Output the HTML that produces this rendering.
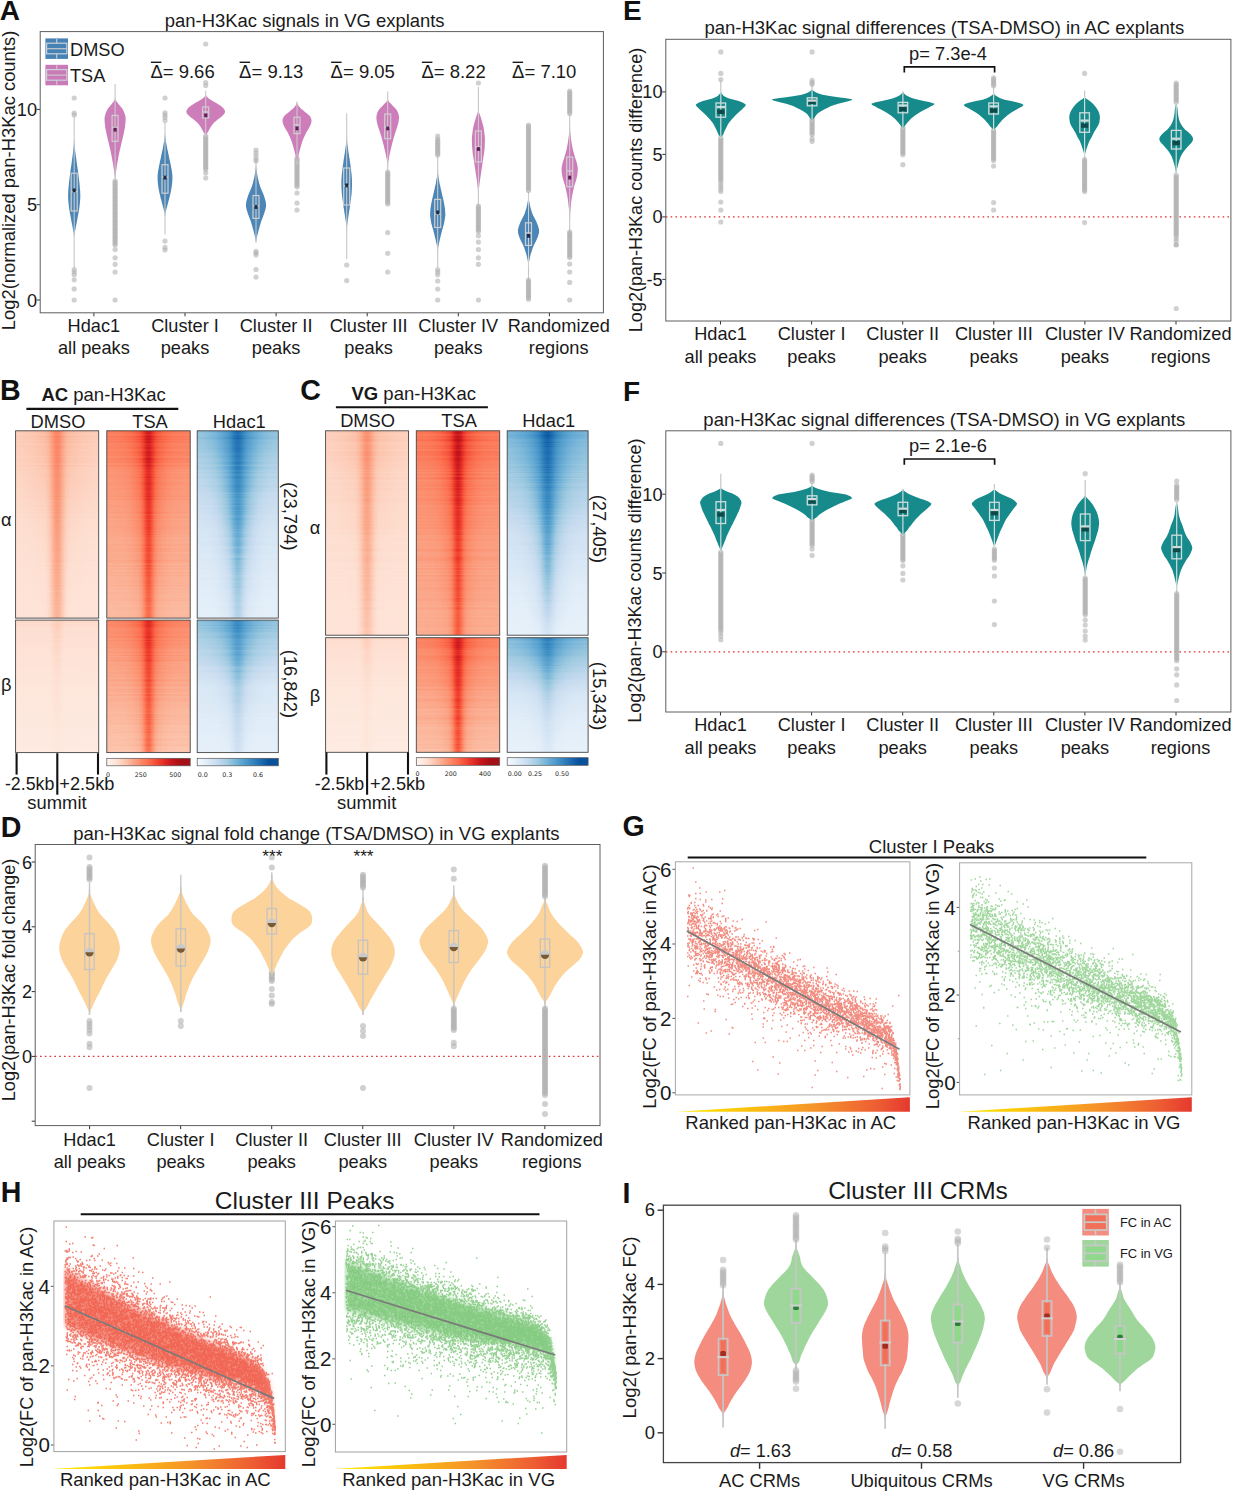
<!DOCTYPE html>
<html><head><meta charset="utf-8"><title>Figure</title>
<style>html,body{margin:0;padding:0;background:#fff}svg{display:block}text{font-family:'Liberation Sans', Arial, sans-serif;}</style>
</head><body>
<svg width="1234" height="1492" viewBox="0 0 1234 1492">
<rect width="1234" height="1492" fill="#fff"/>
<text x="-0.3" y="20.4" font-size="28" text-anchor="start" fill="#111" font-weight="bold" >A</text>
<text x="304.7" y="27" font-size="18.45" text-anchor="middle" fill="#1a1a1a" >pan-H3Kac signals in VG explants</text>
<line x1="36.70" y1="300.00" x2="40.20" y2="300.00" stroke="#333" stroke-width="1" />
<text x="37.0" y="306.5" font-size="18.2" text-anchor="end" fill="#1a1a1a" >0</text>
<line x1="36.70" y1="204.70" x2="40.20" y2="204.70" stroke="#333" stroke-width="1" />
<text x="37.0" y="211.2" font-size="18.2" text-anchor="end" fill="#1a1a1a" >5</text>
<line x1="36.70" y1="109.40" x2="40.20" y2="109.40" stroke="#333" stroke-width="1" />
<text x="37.0" y="115.9" font-size="18.2" text-anchor="end" fill="#1a1a1a" >10</text>
<text x="14.5" y="180.5" font-size="18.4" text-anchor="middle" fill="#1a1a1a" transform="rotate(-90 14.5 180.5)" >Log2(normalized pan-H3Kac counts)</text>
<line x1="93.90" y1="312.80" x2="93.90" y2="316.30" stroke="#333" stroke-width="1" />
<text x="93.9" y="332.3" font-size="18.2" text-anchor="middle" fill="#1a1a1a" >Hdac1</text>
<text x="93.9" y="354.3" font-size="18.2" text-anchor="middle" fill="#1a1a1a" >all peaks</text>
<line x1="185.00" y1="312.80" x2="185.00" y2="316.30" stroke="#333" stroke-width="1" />
<text x="185.0" y="332.3" font-size="18.2" text-anchor="middle" fill="#1a1a1a" >Cluster I</text>
<text x="185.0" y="354.3" font-size="18.2" text-anchor="middle" fill="#1a1a1a" >peaks</text>
<line x1="276.10" y1="312.80" x2="276.10" y2="316.30" stroke="#333" stroke-width="1" />
<text x="276.1" y="332.3" font-size="18.2" text-anchor="middle" fill="#1a1a1a" >Cluster II</text>
<text x="276.1" y="354.3" font-size="18.2" text-anchor="middle" fill="#1a1a1a" >peaks</text>
<line x1="367.20" y1="312.80" x2="367.20" y2="316.30" stroke="#333" stroke-width="1" />
<text x="368.5999999999999" y="332.3" font-size="18.2" text-anchor="middle" fill="#1a1a1a" >Cluster III</text>
<text x="368.5999999999999" y="354.3" font-size="18.2" text-anchor="middle" fill="#1a1a1a" >peaks</text>
<line x1="458.30" y1="312.80" x2="458.30" y2="316.30" stroke="#333" stroke-width="1" />
<text x="458.29999999999995" y="332.3" font-size="18.2" text-anchor="middle" fill="#1a1a1a" >Cluster IV</text>
<text x="458.29999999999995" y="354.3" font-size="18.2" text-anchor="middle" fill="#1a1a1a" >peaks</text>
<line x1="549.40" y1="312.80" x2="549.40" y2="316.30" stroke="#333" stroke-width="1" />
<text x="558.6999999999999" y="332.3" font-size="18.2" text-anchor="middle" fill="#1a1a1a" >Randomized</text>
<text x="558.6999999999999" y="354.3" font-size="18.2" text-anchor="middle" fill="#1a1a1a" >regions</text>
<line x1="74.20" y1="117.00" x2="74.20" y2="268.00" stroke="#c6c6c6" stroke-width="1.1" />
<g fill="#b0b0b0" fill-opacity="0.6"><circle cx="74.2" cy="98.0" r="2.6"/><circle cx="74.2" cy="113.0" r="2.6"/><circle cx="74.2" cy="115.0" r="2.6"/><circle cx="74.2" cy="269.5" r="2.6"/><circle cx="74.2" cy="272.0" r="2.6"/><circle cx="74.2" cy="274.7" r="2.6"/><circle cx="74.2" cy="279.8" r="2.6"/><circle cx="74.2" cy="288.9" r="2.6"/><circle cx="74.2" cy="300.0" r="2.6"/></g>
<path d="M74.2,141.0 L74.3,142.5 L74.4,144.0 L74.6,145.5 L74.7,147.0 L74.9,148.5 L75.1,150.0 L75.3,151.7 L75.5,153.3 L75.7,155.0 L75.9,156.7 L76.2,158.3 L76.4,160.0 L76.6,161.5 L76.8,163.0 L77.0,164.5 L77.2,166.0 L77.5,167.5 L77.7,169.0 L77.9,170.5 L78.1,172.0 L78.3,173.6 L78.5,175.2 L78.7,176.9 L78.9,178.5 L79.1,180.1 L79.3,181.8 L79.5,183.4 L79.6,185.0 L79.8,186.6 L79.9,188.1 L80.0,189.7 L80.2,191.3 L80.2,192.9 L80.3,194.4 L80.3,196.0 L80.3,197.5 L80.2,199.0 L80.1,200.5 L80.0,202.0 L79.8,203.5 L79.7,205.0 L79.5,206.5 L79.3,208.0 L79.1,209.5 L78.8,211.0 L78.6,212.5 L78.3,214.0 L78.0,215.5 L77.7,217.0 L77.5,218.5 L77.2,220.0 L76.9,221.5 L76.6,223.0 L76.3,224.5 L76.0,226.0 L75.8,227.5 L75.5,229.0 L75.1,230.8 L74.7,232.5 L74.4,234.2 L74.2,236.0 L74.2,236.0 L74.0,234.2 L73.7,232.5 L73.3,230.8 L72.9,229.0 L72.6,227.5 L72.4,226.0 L72.1,224.5 L71.8,223.0 L71.5,221.5 L71.2,220.0 L70.9,218.5 L70.7,217.0 L70.4,215.5 L70.1,214.0 L69.8,212.5 L69.6,211.0 L69.3,209.5 L69.1,208.0 L68.9,206.5 L68.7,205.0 L68.6,203.5 L68.4,202.0 L68.3,200.5 L68.2,199.0 L68.1,197.5 L68.1,196.0 L68.1,194.4 L68.2,192.9 L68.2,191.3 L68.4,189.7 L68.5,188.1 L68.6,186.6 L68.8,185.0 L68.9,183.4 L69.1,181.8 L69.3,180.1 L69.5,178.5 L69.7,176.9 L69.9,175.2 L70.1,173.6 L70.3,172.0 L70.5,170.5 L70.7,169.0 L70.9,167.5 L71.2,166.0 L71.4,164.5 L71.6,163.0 L71.8,161.5 L72.0,160.0 L72.2,158.3 L72.5,156.7 L72.7,155.0 L72.9,153.3 L73.1,151.7 L73.3,150.0 L73.5,148.5 L73.7,147.0 L73.8,145.5 L74.0,144.0 L74.1,142.5 L74.2,141.0Z" fill="#4682b4" fill-opacity="0.97"/>
<line x1="74.20" y1="140.00" x2="74.20" y2="237.00" stroke="#cfcfcf" stroke-width="1.0" />
<rect x="71.20" y="173.20" width="6.00" height="37.80" fill="none" stroke="#cfcfcf" stroke-width="1.2" />
<line x1="71.20" y1="191.70" x2="77.20" y2="191.70" stroke="#cfcfcf" stroke-width="1.4" />
<rect x="72.70" y="188.50" width="3.00" height="3.80" fill="#1d2b45" stroke="none" stroke-width="1" />
<line x1="115.10" y1="84.00" x2="115.10" y2="181.00" stroke="#c6c6c6" stroke-width="1.1" />
<g fill="#b0b0b0" fill-opacity="0.6"><circle cx="115.1" cy="181.0" r="2.6"/><circle cx="115.1" cy="182.6" r="2.6"/><circle cx="115.1" cy="184.2" r="2.6"/><circle cx="115.1" cy="185.8" r="2.6"/><circle cx="115.1" cy="187.4" r="2.6"/><circle cx="115.1" cy="189.0" r="2.6"/><circle cx="115.1" cy="190.6" r="2.6"/><circle cx="115.1" cy="192.2" r="2.6"/><circle cx="115.1" cy="193.8" r="2.6"/><circle cx="115.1" cy="195.4" r="2.6"/><circle cx="115.1" cy="197.0" r="2.6"/><circle cx="115.1" cy="198.6" r="2.6"/><circle cx="115.1" cy="200.2" r="2.6"/><circle cx="115.1" cy="201.8" r="2.6"/><circle cx="115.1" cy="203.4" r="2.6"/><circle cx="115.1" cy="205.0" r="2.6"/><circle cx="115.1" cy="206.6" r="2.6"/><circle cx="115.1" cy="208.2" r="2.6"/><circle cx="115.1" cy="209.8" r="2.6"/><circle cx="115.1" cy="211.4" r="2.6"/><circle cx="115.1" cy="213.0" r="2.6"/><circle cx="115.1" cy="214.6" r="2.6"/><circle cx="115.1" cy="216.2" r="2.6"/><circle cx="115.1" cy="217.8" r="2.6"/><circle cx="115.1" cy="219.4" r="2.6"/><circle cx="115.1" cy="221.0" r="2.6"/><circle cx="115.1" cy="222.6" r="2.6"/><circle cx="115.1" cy="224.2" r="2.6"/><circle cx="115.1" cy="225.8" r="2.6"/><circle cx="115.1" cy="227.4" r="2.6"/><circle cx="115.1" cy="229.0" r="2.6"/><circle cx="115.1" cy="230.6" r="2.6"/><circle cx="115.1" cy="232.2" r="2.6"/><circle cx="115.1" cy="233.8" r="2.6"/><circle cx="115.1" cy="235.4" r="2.6"/><circle cx="115.1" cy="237.0" r="2.6"/><circle cx="115.1" cy="238.6" r="2.6"/><circle cx="115.1" cy="240.2" r="2.6"/><circle cx="115.1" cy="241.8" r="2.6"/><circle cx="115.1" cy="243.4" r="2.6"/><circle cx="115.1" cy="245.0" r="2.6"/></g>
<g fill="#b0b0b0" fill-opacity="0.6"><circle cx="115.1" cy="249.5" r="2.6"/><circle cx="115.1" cy="257.8" r="2.6"/><circle cx="115.1" cy="264.3" r="2.6"/><circle cx="115.1" cy="272.0" r="2.6"/><circle cx="115.1" cy="300.0" r="2.6"/></g>
<path d="M115.1,99.0 L115.9,100.6 L117.0,102.1 L118.3,103.7 L119.7,105.5 L121.2,107.2 L122.6,109.0 L123.3,110.5 L124.0,112.1 L124.6,113.6 L125.1,115.2 L125.5,116.7 L125.7,118.5 L125.6,120.3 L125.5,122.2 L125.3,124.0 L125.2,125.5 L125.0,127.0 L124.8,128.5 L124.4,130.0 L124.1,131.6 L123.8,133.2 L123.5,134.7 L123.1,136.3 L122.7,137.9 L122.4,139.4 L122.0,141.0 L121.6,142.6 L121.2,144.2 L120.9,145.8 L120.5,147.5 L120.1,149.1 L119.7,150.7 L119.4,152.3 L119.0,154.0 L118.7,155.6 L118.4,157.2 L118.1,158.8 L117.8,160.5 L117.5,162.1 L117.2,163.7 L117.0,165.3 L116.7,167.0 L116.5,168.6 L116.2,170.3 L115.9,172.1 L115.7,173.8 L115.4,175.5 L115.2,177.3 L115.1,179.0 L115.1,179.0 L115.0,177.3 L114.8,175.5 L114.5,173.8 L114.3,172.1 L114.0,170.3 L113.7,168.6 L113.5,167.0 L113.2,165.3 L113.0,163.7 L112.7,162.1 L112.4,160.5 L112.1,158.8 L111.8,157.2 L111.5,155.6 L111.2,154.0 L110.8,152.3 L110.5,150.7 L110.1,149.1 L109.7,147.5 L109.3,145.8 L109.0,144.2 L108.6,142.6 L108.2,141.0 L107.8,139.4 L107.5,137.9 L107.1,136.3 L106.7,134.7 L106.4,133.2 L106.1,131.6 L105.8,130.0 L105.4,128.5 L105.2,127.0 L105.0,125.5 L104.9,124.0 L104.7,122.2 L104.6,120.3 L104.5,118.5 L104.7,116.7 L105.1,115.2 L105.6,113.6 L106.2,112.1 L106.9,110.5 L107.6,109.0 L109.0,107.2 L110.5,105.5 L111.9,103.7 L113.2,102.1 L114.3,100.6 L115.1,99.0Z" fill="#cb7ab8" fill-opacity="0.97"/>
<line x1="115.10" y1="98.00" x2="115.10" y2="180.00" stroke="#cfcfcf" stroke-width="1.0" />
<rect x="112.10" y="115.40" width="6.00" height="25.90" fill="none" stroke="#cfcfcf" stroke-width="1.2" />
<line x1="112.10" y1="127.50" x2="118.10" y2="127.50" stroke="#cfcfcf" stroke-width="1.4" />
<rect x="113.60" y="127.80" width="3.00" height="3.80" fill="#5a2358" stroke="none" stroke-width="1" />
<line x1="165.00" y1="123.00" x2="165.00" y2="234.50" stroke="#c6c6c6" stroke-width="1.1" />
<g fill="#b0b0b0" fill-opacity="0.6"><circle cx="165.0" cy="98.0" r="2.6"/><circle cx="165.0" cy="112.8" r="2.6"/><circle cx="165.0" cy="115.0" r="2.6"/><circle cx="165.0" cy="117.5" r="2.6"/><circle cx="165.0" cy="120.6" r="2.6"/><circle cx="165.0" cy="241.0" r="2.6"/><circle cx="165.0" cy="247.4" r="2.6"/><circle cx="165.0" cy="250.0" r="2.6"/></g>
<path d="M165.0,135.0 L165.2,136.7 L165.4,138.3 L165.6,140.0 L165.9,141.7 L166.3,143.3 L166.6,145.0 L166.9,146.6 L167.2,148.2 L167.5,149.9 L167.9,151.5 L168.2,153.1 L168.6,154.8 L168.9,156.4 L169.2,158.0 L169.6,159.7 L170.0,161.3 L170.3,163.0 L170.7,164.7 L171.0,166.3 L171.3,168.0 L171.6,169.6 L171.9,171.2 L172.1,172.8 L172.3,174.4 L172.4,176.0 L172.4,177.7 L172.4,179.3 L172.3,181.0 L172.2,182.7 L172.0,184.3 L171.8,186.0 L171.6,187.6 L171.3,189.1 L171.0,190.7 L170.7,192.3 L170.3,193.9 L169.9,195.4 L169.6,197.0 L169.2,198.7 L168.7,200.3 L168.3,202.0 L167.8,203.7 L167.4,205.3 L167.0,207.0 L166.5,208.6 L166.1,210.2 L165.6,211.8 L165.3,213.4 L165.0,215.0 L165.0,215.0 L164.7,213.4 L164.4,211.8 L163.9,210.2 L163.5,208.6 L163.0,207.0 L162.6,205.3 L162.2,203.7 L161.7,202.0 L161.3,200.3 L160.8,198.7 L160.4,197.0 L160.1,195.4 L159.7,193.9 L159.3,192.3 L159.0,190.7 L158.7,189.1 L158.4,187.6 L158.2,186.0 L158.0,184.3 L157.8,182.7 L157.7,181.0 L157.6,179.3 L157.6,177.7 L157.6,176.0 L157.7,174.4 L157.9,172.8 L158.1,171.2 L158.4,169.6 L158.7,168.0 L159.0,166.3 L159.3,164.7 L159.7,163.0 L160.0,161.3 L160.4,159.7 L160.8,158.0 L161.1,156.4 L161.4,154.8 L161.8,153.1 L162.1,151.5 L162.5,149.9 L162.8,148.2 L163.1,146.6 L163.4,145.0 L163.7,143.3 L164.1,141.7 L164.4,140.0 L164.6,138.3 L164.8,136.7 L165.0,135.0Z" fill="#4682b4" fill-opacity="0.97"/>
<line x1="165.00" y1="134.00" x2="165.00" y2="216.00" stroke="#cfcfcf" stroke-width="1.0" />
<rect x="162.00" y="164.70" width="6.00" height="28.50" fill="none" stroke="#cfcfcf" stroke-width="1.2" />
<line x1="162.00" y1="177.00" x2="168.00" y2="177.00" stroke="#cfcfcf" stroke-width="1.4" />
<rect x="163.50" y="175.70" width="3.00" height="3.80" fill="#1d2b45" stroke="none" stroke-width="1" />
<line x1="205.70" y1="90.80" x2="205.70" y2="136.00" stroke="#c6c6c6" stroke-width="1.1" />
<g fill="#b0b0b0" fill-opacity="0.6"><circle cx="205.7" cy="136.0" r="2.6"/><circle cx="205.7" cy="137.6" r="2.6"/><circle cx="205.7" cy="139.2" r="2.6"/><circle cx="205.7" cy="140.8" r="2.6"/><circle cx="205.7" cy="142.4" r="2.6"/><circle cx="205.7" cy="144.0" r="2.6"/><circle cx="205.7" cy="145.6" r="2.6"/><circle cx="205.7" cy="147.2" r="2.6"/><circle cx="205.7" cy="148.8" r="2.6"/><circle cx="205.7" cy="150.4" r="2.6"/><circle cx="205.7" cy="152.0" r="2.6"/><circle cx="205.7" cy="153.6" r="2.6"/><circle cx="205.7" cy="155.2" r="2.6"/><circle cx="205.7" cy="156.8" r="2.6"/><circle cx="205.7" cy="158.4" r="2.6"/><circle cx="205.7" cy="160.0" r="2.6"/><circle cx="205.7" cy="161.6" r="2.6"/><circle cx="205.7" cy="163.2" r="2.6"/><circle cx="205.7" cy="164.8" r="2.6"/><circle cx="205.7" cy="166.4" r="2.6"/><circle cx="205.7" cy="168.0" r="2.6"/><circle cx="205.7" cy="169.6" r="2.6"/></g>
<g fill="#b0b0b0" fill-opacity="0.6"><circle cx="205.7" cy="44.0" r="2.6"/><circle cx="205.7" cy="82.5" r="2.6"/><circle cx="205.7" cy="85.6" r="2.6"/><circle cx="205.7" cy="173.0" r="2.6"/><circle cx="205.7" cy="178.0" r="2.6"/></g>
<path d="M205.7,95.0 L206.8,96.8 L208.7,98.5 L211.8,100.5 L215.4,102.4 L217.8,103.9 L220.2,105.5 L222.2,107.0 L223.6,108.5 L224.6,110.0 L225.1,111.5 L224.7,113.2 L223.2,115.0 L220.8,117.2 L218.0,119.3 L215.7,121.2 L213.7,123.0 L212.1,125.0 L210.7,127.0 L209.6,129.0 L208.5,131.0 L207.5,132.7 L206.4,134.3 L205.7,136.0 L205.7,136.0 L205.0,134.3 L203.9,132.7 L202.9,131.0 L201.8,129.0 L200.7,127.0 L199.3,125.0 L197.7,123.0 L195.7,121.2 L193.4,119.3 L190.6,117.2 L188.2,115.0 L186.7,113.2 L186.3,111.5 L186.8,110.0 L187.8,108.5 L189.2,107.0 L191.2,105.5 L193.6,103.9 L196.0,102.4 L199.6,100.5 L202.7,98.5 L204.6,96.8 L205.7,95.0Z" fill="#cb7ab8" fill-opacity="0.97"/>
<line x1="205.70" y1="94.00" x2="205.70" y2="137.00" stroke="#cfcfcf" stroke-width="1.0" />
<rect x="202.70" y="107.00" width="6.00" height="11.00" fill="none" stroke="#cfcfcf" stroke-width="1.2" />
<line x1="202.70" y1="112.00" x2="208.70" y2="112.00" stroke="#cfcfcf" stroke-width="1.4" />
<rect x="204.20" y="113.50" width="3.00" height="3.80" fill="#5a2358" stroke="none" stroke-width="1" />
<line x1="256.00" y1="161.00" x2="256.00" y2="242.00" stroke="#c6c6c6" stroke-width="1.1" />
<g fill="#b0b0b0" fill-opacity="0.6"><circle cx="256.0" cy="150.0" r="2.6"/><circle cx="256.0" cy="153.0" r="2.6"/><circle cx="256.0" cy="156.0" r="2.6"/><circle cx="256.0" cy="159.0" r="2.6"/><circle cx="256.0" cy="161.0" r="2.6"/><circle cx="256.0" cy="251.3" r="2.6"/><circle cx="256.0" cy="253.0" r="2.6"/><circle cx="256.0" cy="255.0" r="2.6"/><circle cx="256.0" cy="269.5" r="2.6"/><circle cx="256.0" cy="277.0" r="2.6"/></g>
<path d="M256.0,166.0 L256.2,167.7 L256.4,169.3 L256.6,171.0 L256.9,172.7 L257.2,174.3 L257.5,176.0 L257.8,177.7 L258.2,179.3 L258.6,181.0 L259.0,182.7 L259.5,184.3 L260.0,186.0 L260.6,187.7 L261.3,189.3 L262.0,191.0 L262.8,192.7 L263.4,194.3 L264.0,196.0 L264.6,197.7 L265.1,199.4 L265.6,201.2 L265.9,202.9 L266.1,204.6 L266.0,206.4 L265.7,208.3 L265.2,210.2 L264.6,212.0 L264.1,213.7 L263.5,215.3 L262.9,217.0 L262.2,218.7 L261.6,220.3 L261.0,222.0 L260.5,223.7 L260.0,225.3 L259.5,227.0 L259.1,228.7 L258.6,230.3 L258.2,232.0 L257.8,233.7 L257.3,235.3 L256.9,237.0 L256.5,238.7 L256.2,240.3 L256.0,242.0 L256.0,242.0 L255.8,240.3 L255.5,238.7 L255.1,237.0 L254.7,235.3 L254.2,233.7 L253.8,232.0 L253.4,230.3 L252.9,228.7 L252.5,227.0 L252.0,225.3 L251.5,223.7 L251.0,222.0 L250.4,220.3 L249.8,218.7 L249.1,217.0 L248.5,215.3 L247.9,213.7 L247.4,212.0 L246.8,210.2 L246.3,208.3 L246.0,206.4 L245.9,204.6 L246.1,202.9 L246.4,201.2 L246.9,199.4 L247.4,197.7 L248.0,196.0 L248.6,194.3 L249.2,192.7 L250.0,191.0 L250.7,189.3 L251.4,187.7 L252.0,186.0 L252.5,184.3 L253.0,182.7 L253.4,181.0 L253.8,179.3 L254.2,177.7 L254.5,176.0 L254.8,174.3 L255.1,172.7 L255.4,171.0 L255.6,169.3 L255.8,167.7 L256.0,166.0Z" fill="#4682b4" fill-opacity="0.97"/>
<line x1="256.00" y1="165.00" x2="256.00" y2="243.00" stroke="#cfcfcf" stroke-width="1.0" />
<rect x="253.00" y="195.50" width="6.00" height="22.90" fill="none" stroke="#cfcfcf" stroke-width="1.2" />
<line x1="253.00" y1="206.00" x2="259.00" y2="206.00" stroke="#cfcfcf" stroke-width="1.4" />
<rect x="254.50" y="205.10" width="3.00" height="3.80" fill="#1d2b45" stroke="none" stroke-width="1" />
<line x1="297.00" y1="102.40" x2="297.00" y2="163.40" stroke="#c6c6c6" stroke-width="1.1" />
<g fill="#b0b0b0" fill-opacity="0.6"><circle cx="297.0" cy="158.0" r="2.6"/><circle cx="297.0" cy="159.6" r="2.6"/><circle cx="297.0" cy="161.2" r="2.6"/><circle cx="297.0" cy="162.8" r="2.6"/><circle cx="297.0" cy="164.4" r="2.6"/><circle cx="297.0" cy="166.0" r="2.6"/><circle cx="297.0" cy="167.6" r="2.6"/><circle cx="297.0" cy="169.2" r="2.6"/><circle cx="297.0" cy="170.8" r="2.6"/><circle cx="297.0" cy="172.4" r="2.6"/><circle cx="297.0" cy="174.0" r="2.6"/><circle cx="297.0" cy="175.6" r="2.6"/><circle cx="297.0" cy="177.2" r="2.6"/><circle cx="297.0" cy="178.8" r="2.6"/><circle cx="297.0" cy="180.4" r="2.6"/><circle cx="297.0" cy="182.0" r="2.6"/><circle cx="297.0" cy="183.6" r="2.6"/><circle cx="297.0" cy="185.2" r="2.6"/><circle cx="297.0" cy="186.8" r="2.6"/></g>
<g fill="#b0b0b0" fill-opacity="0.6"><circle cx="297.0" cy="193.0" r="2.6"/><circle cx="297.0" cy="203.0" r="2.6"/><circle cx="297.0" cy="210.0" r="2.6"/></g>
<path d="M297.0,102.4 L297.5,103.9 L298.4,105.5 L299.5,107.0 L301.1,108.7 L303.1,110.3 L305.0,112.0 L307.6,114.0 L309.8,116.0 L310.7,117.5 L311.3,119.1 L311.5,120.6 L311.3,122.4 L310.8,124.2 L310.0,126.0 L309.2,127.8 L308.1,129.5 L307.0,131.2 L306.0,133.0 L305.3,134.6 L304.5,136.2 L303.8,137.8 L303.1,139.4 L302.5,141.0 L302.0,142.5 L301.5,144.0 L301.1,145.5 L300.7,147.0 L300.2,148.5 L299.8,150.0 L299.4,151.7 L299.0,153.3 L298.6,155.0 L298.2,156.7 L297.8,158.4 L297.5,160.1 L297.2,161.7 L297.0,163.4 L297.0,163.4 L296.8,161.7 L296.5,160.1 L296.2,158.4 L295.8,156.7 L295.4,155.0 L295.0,153.3 L294.6,151.7 L294.2,150.0 L293.8,148.5 L293.3,147.0 L292.9,145.5 L292.5,144.0 L292.0,142.5 L291.5,141.0 L290.9,139.4 L290.2,137.8 L289.5,136.2 L288.7,134.6 L288.0,133.0 L287.0,131.2 L285.9,129.5 L284.8,127.8 L284.0,126.0 L283.2,124.2 L282.7,122.4 L282.5,120.6 L282.7,119.1 L283.3,117.5 L284.2,116.0 L286.4,114.0 L289.0,112.0 L290.9,110.3 L292.9,108.7 L294.5,107.0 L295.6,105.5 L296.5,103.9 L297.0,102.4Z" fill="#cb7ab8" fill-opacity="0.97"/>
<line x1="297.00" y1="101.40" x2="297.00" y2="164.40" stroke="#cfcfcf" stroke-width="1.0" />
<rect x="294.00" y="117.20" width="6.00" height="16.40" fill="none" stroke="#cfcfcf" stroke-width="1.2" />
<line x1="294.00" y1="125.00" x2="300.00" y2="125.00" stroke="#cfcfcf" stroke-width="1.4" />
<rect x="295.50" y="126.50" width="3.00" height="3.80" fill="#5a2358" stroke="none" stroke-width="1" />
<line x1="346.70" y1="113.30" x2="346.70" y2="259.00" stroke="#c6c6c6" stroke-width="1.1" />
<g fill="#b0b0b0" fill-opacity="0.6"><circle cx="346.7" cy="265.0" r="2.6"/><circle cx="346.7" cy="280.6" r="2.6"/></g>
<path d="M346.7,137.4 L346.8,139.0 L347.0,140.6 L347.1,142.1 L347.3,143.7 L347.5,145.3 L347.8,146.8 L348.0,148.4 L348.2,150.0 L348.4,151.5 L348.6,153.0 L348.9,154.5 L349.1,156.0 L349.3,157.5 L349.6,159.0 L349.8,160.5 L350.0,162.0 L350.2,163.6 L350.5,165.1 L350.7,166.7 L350.9,168.3 L351.1,169.9 L351.2,171.4 L351.4,173.0 L351.6,174.5 L351.7,176.0 L351.8,177.5 L351.9,179.0 L352.0,180.5 L352.0,182.0 L352.0,183.7 L352.0,185.3 L352.0,187.0 L351.9,188.7 L351.8,190.3 L351.7,192.0 L351.6,193.6 L351.4,195.2 L351.2,196.9 L351.0,198.5 L350.8,200.1 L350.5,201.8 L350.3,203.4 L350.1,205.0 L349.9,206.5 L349.7,208.0 L349.4,209.5 L349.2,211.0 L349.0,212.5 L348.7,214.0 L348.5,215.5 L348.3,217.0 L348.1,218.5 L347.8,220.0 L347.6,221.5 L347.4,223.0 L347.2,224.5 L347.0,226.0 L346.8,227.5 L346.7,229.0 L346.7,229.0 L346.6,227.5 L346.4,226.0 L346.2,224.5 L346.0,223.0 L345.8,221.5 L345.6,220.0 L345.3,218.5 L345.1,217.0 L344.9,215.5 L344.7,214.0 L344.4,212.5 L344.2,211.0 L344.0,209.5 L343.7,208.0 L343.5,206.5 L343.3,205.0 L343.1,203.4 L342.9,201.8 L342.6,200.1 L342.4,198.5 L342.2,196.9 L342.0,195.2 L341.8,193.6 L341.7,192.0 L341.6,190.3 L341.5,188.7 L341.4,187.0 L341.4,185.3 L341.4,183.7 L341.4,182.0 L341.4,180.5 L341.5,179.0 L341.6,177.5 L341.7,176.0 L341.8,174.5 L342.0,173.0 L342.2,171.4 L342.3,169.9 L342.5,168.3 L342.7,166.7 L342.9,165.1 L343.2,163.6 L343.4,162.0 L343.6,160.5 L343.8,159.0 L344.1,157.5 L344.3,156.0 L344.5,154.5 L344.8,153.0 L345.0,151.5 L345.2,150.0 L345.4,148.4 L345.6,146.8 L345.9,145.3 L346.1,143.7 L346.3,142.1 L346.4,140.6 L346.6,139.0 L346.7,137.4Z" fill="#4682b4" fill-opacity="0.97"/>
<line x1="346.70" y1="136.40" x2="346.70" y2="230.00" stroke="#cfcfcf" stroke-width="1.0" />
<rect x="343.70" y="168.00" width="6.00" height="37.00" fill="none" stroke="#cfcfcf" stroke-width="1.2" />
<line x1="343.70" y1="186.00" x2="349.70" y2="186.00" stroke="#cfcfcf" stroke-width="1.4" />
<rect x="345.20" y="183.50" width="3.00" height="3.80" fill="#1d2b45" stroke="none" stroke-width="1" />
<line x1="387.70" y1="91.30" x2="387.70" y2="172.00" stroke="#c6c6c6" stroke-width="1.1" />
<g fill="#b0b0b0" fill-opacity="0.6"><circle cx="387.7" cy="172.0" r="2.6"/><circle cx="387.7" cy="173.6" r="2.6"/><circle cx="387.7" cy="175.2" r="2.6"/><circle cx="387.7" cy="176.8" r="2.6"/><circle cx="387.7" cy="178.4" r="2.6"/><circle cx="387.7" cy="180.0" r="2.6"/><circle cx="387.7" cy="181.6" r="2.6"/><circle cx="387.7" cy="183.2" r="2.6"/><circle cx="387.7" cy="184.8" r="2.6"/><circle cx="387.7" cy="186.4" r="2.6"/><circle cx="387.7" cy="188.0" r="2.6"/><circle cx="387.7" cy="189.6" r="2.6"/><circle cx="387.7" cy="191.2" r="2.6"/><circle cx="387.7" cy="192.8" r="2.6"/><circle cx="387.7" cy="194.4" r="2.6"/><circle cx="387.7" cy="196.0" r="2.6"/><circle cx="387.7" cy="197.6" r="2.6"/><circle cx="387.7" cy="199.2" r="2.6"/><circle cx="387.7" cy="200.8" r="2.6"/><circle cx="387.7" cy="202.4" r="2.6"/><circle cx="387.7" cy="204.0" r="2.6"/></g>
<g fill="#b0b0b0" fill-opacity="0.6"><circle cx="387.7" cy="232.6" r="2.6"/><circle cx="387.7" cy="253.4" r="2.6"/><circle cx="387.7" cy="272.0" r="2.6"/></g>
<path d="M387.7,99.8 L389.1,101.9 L391.2,104.0 L392.5,105.5 L394.0,107.0 L395.5,108.5 L396.7,110.0 L397.6,111.7 L398.3,113.3 L398.7,115.0 L399.0,116.7 L399.0,118.5 L398.8,120.3 L398.5,122.2 L398.0,124.0 L397.6,125.5 L397.2,127.0 L396.7,128.5 L396.2,130.0 L395.7,131.5 L395.2,133.0 L394.7,134.7 L394.2,136.3 L393.7,138.0 L393.2,139.7 L392.8,141.3 L392.3,143.0 L391.9,144.7 L391.5,146.3 L391.1,148.0 L390.7,149.7 L390.3,151.3 L389.9,153.0 L389.6,154.6 L389.3,156.2 L389.0,157.9 L388.6,159.5 L388.4,161.1 L388.1,162.8 L387.9,164.4 L387.7,166.0 L387.7,166.0 L387.5,164.4 L387.3,162.8 L387.0,161.1 L386.8,159.5 L386.4,157.9 L386.1,156.2 L385.8,154.6 L385.5,153.0 L385.1,151.3 L384.7,149.7 L384.3,148.0 L383.9,146.3 L383.5,144.7 L383.1,143.0 L382.6,141.3 L382.2,139.7 L381.7,138.0 L381.2,136.3 L380.7,134.7 L380.2,133.0 L379.7,131.5 L379.2,130.0 L378.7,128.5 L378.2,127.0 L377.8,125.5 L377.4,124.0 L376.9,122.2 L376.6,120.3 L376.4,118.5 L376.4,116.7 L376.7,115.0 L377.1,113.3 L377.8,111.7 L378.7,110.0 L379.9,108.5 L381.4,107.0 L382.9,105.5 L384.2,104.0 L386.3,101.9 L387.7,99.8Z" fill="#cb7ab8" fill-opacity="0.97"/>
<line x1="387.70" y1="98.80" x2="387.70" y2="167.00" stroke="#cfcfcf" stroke-width="1.0" />
<rect x="384.70" y="114.00" width="6.00" height="24.70" fill="none" stroke="#cfcfcf" stroke-width="1.2" />
<line x1="384.70" y1="127.00" x2="390.70" y2="127.00" stroke="#cfcfcf" stroke-width="1.4" />
<rect x="386.20" y="126.50" width="3.00" height="3.80" fill="#5a2358" stroke="none" stroke-width="1" />
<line x1="437.70" y1="155.60" x2="437.70" y2="267.00" stroke="#c6c6c6" stroke-width="1.1" />
<g fill="#b0b0b0" fill-opacity="0.6"><circle cx="437.7" cy="139.0" r="2.6"/><circle cx="437.7" cy="140.6" r="2.6"/><circle cx="437.7" cy="142.2" r="2.6"/><circle cx="437.7" cy="143.8" r="2.6"/><circle cx="437.7" cy="145.4" r="2.6"/><circle cx="437.7" cy="147.0" r="2.6"/><circle cx="437.7" cy="148.6" r="2.6"/><circle cx="437.7" cy="150.2" r="2.6"/><circle cx="437.7" cy="151.8" r="2.6"/><circle cx="437.7" cy="153.4" r="2.6"/><circle cx="437.7" cy="155.0" r="2.6"/></g>
<g fill="#b0b0b0" fill-opacity="0.6"><circle cx="437.7" cy="136.0" r="2.6"/><circle cx="437.7" cy="269.5" r="2.6"/><circle cx="437.7" cy="272.0" r="2.6"/><circle cx="437.7" cy="274.7" r="2.6"/><circle cx="437.7" cy="281.0" r="2.6"/><circle cx="437.7" cy="289.0" r="2.6"/><circle cx="437.7" cy="300.0" r="2.6"/></g>
<path d="M437.7,170.0 L437.8,171.7 L438.0,173.3 L438.2,175.0 L438.4,176.7 L438.7,178.3 L439.0,180.0 L439.3,181.5 L439.5,183.0 L439.8,184.5 L440.2,186.0 L440.5,187.5 L440.8,189.0 L441.2,190.5 L441.5,192.0 L441.9,193.6 L442.2,195.1 L442.6,196.7 L443.0,198.3 L443.4,199.9 L443.7,201.4 L444.0,203.0 L444.3,204.5 L444.5,206.1 L444.8,207.6 L445.0,209.1 L445.1,210.6 L445.2,212.2 L445.3,213.7 L445.3,215.4 L445.1,217.0 L444.9,218.7 L444.6,220.3 L444.3,222.0 L444.0,223.7 L443.5,225.3 L443.1,227.0 L442.6,228.7 L442.1,230.3 L441.7,232.0 L441.3,233.5 L440.9,235.0 L440.6,236.5 L440.2,238.0 L439.8,239.5 L439.5,241.0 L439.2,242.5 L438.8,244.0 L438.5,245.5 L438.2,247.0 L437.9,248.5 L437.7,250.0 L437.7,250.0 L437.5,248.5 L437.2,247.0 L436.9,245.5 L436.6,244.0 L436.2,242.5 L435.9,241.0 L435.6,239.5 L435.2,238.0 L434.8,236.5 L434.5,235.0 L434.1,233.5 L433.7,232.0 L433.3,230.3 L432.8,228.7 L432.3,227.0 L431.9,225.3 L431.4,223.7 L431.1,222.0 L430.8,220.3 L430.5,218.7 L430.3,217.0 L430.1,215.4 L430.1,213.7 L430.2,212.2 L430.3,210.6 L430.4,209.1 L430.6,207.6 L430.9,206.1 L431.1,204.5 L431.4,203.0 L431.7,201.4 L432.0,199.9 L432.4,198.3 L432.8,196.7 L433.2,195.1 L433.5,193.6 L433.9,192.0 L434.2,190.5 L434.6,189.0 L434.9,187.5 L435.2,186.0 L435.6,184.5 L435.9,183.0 L436.1,181.5 L436.4,180.0 L436.7,178.3 L437.0,176.7 L437.2,175.0 L437.4,173.3 L437.6,171.7 L437.7,170.0Z" fill="#4682b4" fill-opacity="0.97"/>
<line x1="437.70" y1="169.00" x2="437.70" y2="251.00" stroke="#cfcfcf" stroke-width="1.0" />
<rect x="434.70" y="199.40" width="6.00" height="28.10" fill="none" stroke="#cfcfcf" stroke-width="1.2" />
<line x1="434.70" y1="214.00" x2="440.70" y2="214.00" stroke="#cfcfcf" stroke-width="1.4" />
<rect x="436.20" y="210.50" width="3.00" height="3.80" fill="#1d2b45" stroke="none" stroke-width="1" />
<line x1="478.40" y1="87.00" x2="478.40" y2="206.00" stroke="#c6c6c6" stroke-width="1.1" />
<g fill="#b0b0b0" fill-opacity="0.6"><circle cx="478.4" cy="206.0" r="2.6"/><circle cx="478.4" cy="207.6" r="2.6"/><circle cx="478.4" cy="209.2" r="2.6"/><circle cx="478.4" cy="210.8" r="2.6"/><circle cx="478.4" cy="212.4" r="2.6"/><circle cx="478.4" cy="214.0" r="2.6"/><circle cx="478.4" cy="215.6" r="2.6"/><circle cx="478.4" cy="217.2" r="2.6"/><circle cx="478.4" cy="218.8" r="2.6"/><circle cx="478.4" cy="220.4" r="2.6"/><circle cx="478.4" cy="222.0" r="2.6"/><circle cx="478.4" cy="223.6" r="2.6"/><circle cx="478.4" cy="225.2" r="2.6"/><circle cx="478.4" cy="226.8" r="2.6"/><circle cx="478.4" cy="228.4" r="2.6"/><circle cx="478.4" cy="230.0" r="2.6"/><circle cx="478.4" cy="231.6" r="2.6"/></g>
<g fill="#b0b0b0" fill-opacity="0.6"><circle cx="478.4" cy="83.0" r="2.6"/><circle cx="478.4" cy="235.8" r="2.6"/><circle cx="478.4" cy="242.0" r="2.6"/><circle cx="478.4" cy="249.5" r="2.6"/><circle cx="478.4" cy="257.8" r="2.6"/><circle cx="478.4" cy="264.3" r="2.6"/><circle cx="478.4" cy="300.0" r="2.6"/></g>
<path d="M478.4,110.0 L478.8,111.8 L479.4,113.5 L480.1,115.2 L480.7,117.0 L481.1,118.5 L481.6,120.0 L482.0,121.5 L482.4,123.0 L482.9,124.5 L483.2,126.0 L483.6,127.6 L483.8,129.2 L484.1,130.8 L484.3,132.4 L484.5,134.0 L484.7,135.5 L484.8,137.0 L484.9,138.5 L484.9,140.0 L484.9,141.7 L484.8,143.3 L484.8,145.0 L484.7,146.7 L484.6,148.3 L484.4,150.0 L484.2,151.5 L484.1,153.0 L483.9,154.5 L483.6,156.0 L483.4,157.5 L483.2,159.0 L482.9,160.5 L482.7,162.0 L482.5,163.6 L482.2,165.2 L482.0,166.9 L481.7,168.5 L481.5,170.1 L481.2,171.8 L481.0,173.4 L480.8,175.0 L480.5,176.7 L480.3,178.3 L480.0,180.0 L479.8,181.7 L479.6,183.3 L479.4,185.0 L479.2,186.5 L479.0,188.0 L478.8,189.5 L478.6,191.0 L478.5,192.5 L478.4,194.0 L478.4,194.0 L478.3,192.5 L478.2,191.0 L478.0,189.5 L477.8,188.0 L477.6,186.5 L477.4,185.0 L477.2,183.3 L477.0,181.7 L476.8,180.0 L476.5,178.3 L476.3,176.7 L476.0,175.0 L475.8,173.4 L475.6,171.8 L475.3,170.1 L475.1,168.5 L474.8,166.9 L474.6,165.2 L474.3,163.6 L474.1,162.0 L473.9,160.5 L473.6,159.0 L473.4,157.5 L473.2,156.0 L472.9,154.5 L472.7,153.0 L472.6,151.5 L472.4,150.0 L472.2,148.3 L472.1,146.7 L472.0,145.0 L472.0,143.3 L471.9,141.7 L471.9,140.0 L471.9,138.5 L472.0,137.0 L472.1,135.5 L472.3,134.0 L472.5,132.4 L472.7,130.8 L473.0,129.2 L473.2,127.6 L473.6,126.0 L473.9,124.5 L474.4,123.0 L474.8,121.5 L475.2,120.0 L475.7,118.5 L476.1,117.0 L476.7,115.2 L477.4,113.5 L478.0,111.8 L478.4,110.0Z" fill="#cb7ab8" fill-opacity="0.97"/>
<line x1="478.40" y1="109.00" x2="478.40" y2="195.00" stroke="#cfcfcf" stroke-width="1.0" />
<rect x="475.40" y="131.00" width="6.00" height="31.00" fill="none" stroke="#cfcfcf" stroke-width="1.2" />
<line x1="475.40" y1="147.00" x2="481.40" y2="147.00" stroke="#cfcfcf" stroke-width="1.4" />
<rect x="476.90" y="147.10" width="3.00" height="3.80" fill="#5a2358" stroke="none" stroke-width="1" />
<line x1="528.50" y1="192.00" x2="528.50" y2="280.00" stroke="#c6c6c6" stroke-width="1.1" />
<g fill="#b0b0b0" fill-opacity="0.6"><circle cx="528.5" cy="125.0" r="2.6"/><circle cx="528.5" cy="126.6" r="2.6"/><circle cx="528.5" cy="128.2" r="2.6"/><circle cx="528.5" cy="129.8" r="2.6"/><circle cx="528.5" cy="131.4" r="2.6"/><circle cx="528.5" cy="133.0" r="2.6"/><circle cx="528.5" cy="134.6" r="2.6"/><circle cx="528.5" cy="136.2" r="2.6"/><circle cx="528.5" cy="137.8" r="2.6"/><circle cx="528.5" cy="139.4" r="2.6"/><circle cx="528.5" cy="141.0" r="2.6"/><circle cx="528.5" cy="142.6" r="2.6"/><circle cx="528.5" cy="144.2" r="2.6"/><circle cx="528.5" cy="145.8" r="2.6"/><circle cx="528.5" cy="147.4" r="2.6"/><circle cx="528.5" cy="149.0" r="2.6"/><circle cx="528.5" cy="150.6" r="2.6"/><circle cx="528.5" cy="152.2" r="2.6"/><circle cx="528.5" cy="153.8" r="2.6"/><circle cx="528.5" cy="155.4" r="2.6"/><circle cx="528.5" cy="157.0" r="2.6"/><circle cx="528.5" cy="158.6" r="2.6"/><circle cx="528.5" cy="160.2" r="2.6"/><circle cx="528.5" cy="161.8" r="2.6"/><circle cx="528.5" cy="163.4" r="2.6"/><circle cx="528.5" cy="165.0" r="2.6"/><circle cx="528.5" cy="166.6" r="2.6"/><circle cx="528.5" cy="168.2" r="2.6"/><circle cx="528.5" cy="169.8" r="2.6"/><circle cx="528.5" cy="171.4" r="2.6"/><circle cx="528.5" cy="173.0" r="2.6"/><circle cx="528.5" cy="174.6" r="2.6"/><circle cx="528.5" cy="176.2" r="2.6"/><circle cx="528.5" cy="177.8" r="2.6"/><circle cx="528.5" cy="179.4" r="2.6"/><circle cx="528.5" cy="181.0" r="2.6"/><circle cx="528.5" cy="182.6" r="2.6"/><circle cx="528.5" cy="184.2" r="2.6"/><circle cx="528.5" cy="185.8" r="2.6"/><circle cx="528.5" cy="187.4" r="2.6"/><circle cx="528.5" cy="189.0" r="2.6"/><circle cx="528.5" cy="190.6" r="2.6"/></g>
<g fill="#b0b0b0" fill-opacity="0.6"><circle cx="528.5" cy="280.0" r="2.6"/><circle cx="528.5" cy="281.6" r="2.6"/><circle cx="528.5" cy="283.2" r="2.6"/><circle cx="528.5" cy="284.8" r="2.6"/><circle cx="528.5" cy="286.4" r="2.6"/><circle cx="528.5" cy="288.0" r="2.6"/><circle cx="528.5" cy="289.6" r="2.6"/><circle cx="528.5" cy="291.2" r="2.6"/><circle cx="528.5" cy="292.8" r="2.6"/><circle cx="528.5" cy="294.4" r="2.6"/><circle cx="528.5" cy="296.0" r="2.6"/><circle cx="528.5" cy="297.6" r="2.6"/><circle cx="528.5" cy="299.2" r="2.6"/></g>
<g fill="#b0b0b0" fill-opacity="0.6"></g>
<path d="M528.5,195.5 L528.6,197.1 L528.8,198.7 L529.0,200.2 L529.3,201.8 L529.6,203.4 L529.9,205.0 L530.2,206.5 L530.6,208.0 L531.0,209.5 L531.5,211.0 L532.0,212.5 L532.5,214.0 L533.2,215.6 L534.1,217.2 L534.9,218.8 L535.8,220.4 L536.5,222.0 L537.2,223.7 L537.9,225.4 L538.4,227.2 L538.9,228.9 L539.1,230.6 L539.0,232.4 L538.6,234.3 L538.0,236.2 L537.3,238.0 L536.7,239.6 L535.9,241.2 L535.1,242.8 L534.2,244.4 L533.5,246.0 L532.9,247.5 L532.4,249.0 L531.9,250.5 L531.4,252.0 L530.9,253.5 L530.5,255.0 L530.1,256.5 L529.8,258.0 L529.5,259.5 L529.2,261.1 L528.9,262.6 L528.7,264.1 L528.5,265.6 L528.5,265.6 L528.3,264.1 L528.1,262.6 L527.8,261.1 L527.5,259.5 L527.2,258.0 L526.9,256.5 L526.5,255.0 L526.1,253.5 L525.6,252.0 L525.1,250.5 L524.6,249.0 L524.1,247.5 L523.5,246.0 L522.8,244.4 L521.9,242.8 L521.1,241.2 L520.3,239.6 L519.7,238.0 L519.0,236.2 L518.4,234.3 L518.0,232.4 L517.9,230.6 L518.1,228.9 L518.6,227.2 L519.1,225.4 L519.8,223.7 L520.5,222.0 L521.2,220.4 L522.1,218.8 L522.9,217.2 L523.8,215.6 L524.5,214.0 L525.0,212.5 L525.5,211.0 L526.0,209.5 L526.4,208.0 L526.8,206.5 L527.1,205.0 L527.4,203.4 L527.7,201.8 L528.0,200.2 L528.2,198.7 L528.4,197.1 L528.5,195.5Z" fill="#4682b4" fill-opacity="0.97"/>
<line x1="528.50" y1="194.50" x2="528.50" y2="266.60" stroke="#cfcfcf" stroke-width="1.0" />
<rect x="525.50" y="222.80" width="6.00" height="22.60" fill="none" stroke="#cfcfcf" stroke-width="1.2" />
<line x1="525.50" y1="233.00" x2="531.50" y2="233.00" stroke="#cfcfcf" stroke-width="1.4" />
<rect x="527.00" y="233.90" width="3.00" height="3.80" fill="#1d2b45" stroke="none" stroke-width="1" />
<line x1="569.70" y1="114.00" x2="569.70" y2="232.00" stroke="#c6c6c6" stroke-width="1.1" />
<g fill="#b0b0b0" fill-opacity="0.6"><circle cx="569.7" cy="91.0" r="2.6"/><circle cx="569.7" cy="92.6" r="2.6"/><circle cx="569.7" cy="94.2" r="2.6"/><circle cx="569.7" cy="95.8" r="2.6"/><circle cx="569.7" cy="97.4" r="2.6"/><circle cx="569.7" cy="99.0" r="2.6"/><circle cx="569.7" cy="100.6" r="2.6"/><circle cx="569.7" cy="102.2" r="2.6"/><circle cx="569.7" cy="103.8" r="2.6"/><circle cx="569.7" cy="105.4" r="2.6"/><circle cx="569.7" cy="107.0" r="2.6"/><circle cx="569.7" cy="108.6" r="2.6"/><circle cx="569.7" cy="110.2" r="2.6"/><circle cx="569.7" cy="111.8" r="2.6"/><circle cx="569.7" cy="113.4" r="2.6"/></g>
<g fill="#b0b0b0" fill-opacity="0.6"><circle cx="569.7" cy="232.0" r="2.6"/><circle cx="569.7" cy="233.6" r="2.6"/><circle cx="569.7" cy="235.2" r="2.6"/><circle cx="569.7" cy="236.8" r="2.6"/><circle cx="569.7" cy="238.4" r="2.6"/><circle cx="569.7" cy="240.0" r="2.6"/><circle cx="569.7" cy="241.6" r="2.6"/><circle cx="569.7" cy="243.2" r="2.6"/><circle cx="569.7" cy="244.8" r="2.6"/><circle cx="569.7" cy="246.4" r="2.6"/><circle cx="569.7" cy="248.0" r="2.6"/><circle cx="569.7" cy="249.6" r="2.6"/><circle cx="569.7" cy="251.2" r="2.6"/><circle cx="569.7" cy="252.8" r="2.6"/><circle cx="569.7" cy="254.4" r="2.6"/><circle cx="569.7" cy="256.0" r="2.6"/><circle cx="569.7" cy="257.6" r="2.6"/></g>
<g fill="#b0b0b0" fill-opacity="0.6"><circle cx="569.7" cy="264.0" r="2.6"/><circle cx="569.7" cy="272.0" r="2.6"/><circle cx="569.7" cy="282.4" r="2.6"/><circle cx="569.7" cy="300.0" r="2.6"/></g>
<path d="M569.7,127.0 L569.8,128.6 L569.9,130.1 L570.1,131.7 L570.3,133.3 L570.5,134.9 L570.7,136.4 L570.9,138.0 L571.1,139.7 L571.4,141.3 L571.6,143.0 L571.9,144.7 L572.2,146.3 L572.5,148.0 L572.9,149.7 L573.3,151.3 L573.8,153.0 L574.3,154.7 L574.8,156.3 L575.2,158.0 L575.8,159.8 L576.4,161.5 L576.9,163.2 L577.3,165.0 L577.6,166.7 L577.8,168.3 L577.8,170.0 L577.7,171.8 L577.5,173.5 L577.3,175.2 L576.9,177.0 L576.6,178.5 L576.1,180.0 L575.7,181.5 L575.2,183.0 L574.7,184.5 L574.3,186.0 L573.9,187.7 L573.5,189.3 L573.1,191.0 L572.8,192.7 L572.4,194.3 L572.1,196.0 L571.9,197.6 L571.6,199.1 L571.4,200.7 L571.2,202.3 L571.0,203.9 L570.9,205.4 L570.7,207.0 L570.5,208.5 L570.4,210.0 L570.3,211.5 L570.1,213.0 L570.0,214.5 L569.9,216.0 L569.8,217.5 L569.7,219.0 L569.7,219.0 L569.6,217.5 L569.5,216.0 L569.4,214.5 L569.3,213.0 L569.1,211.5 L569.0,210.0 L568.9,208.5 L568.7,207.0 L568.5,205.4 L568.4,203.9 L568.2,202.3 L568.0,200.7 L567.8,199.1 L567.5,197.6 L567.3,196.0 L567.0,194.3 L566.6,192.7 L566.3,191.0 L565.9,189.3 L565.5,187.7 L565.1,186.0 L564.7,184.5 L564.2,183.0 L563.7,181.5 L563.3,180.0 L562.8,178.5 L562.5,177.0 L562.1,175.2 L561.9,173.5 L561.7,171.8 L561.6,170.0 L561.6,168.3 L561.8,166.7 L562.1,165.0 L562.5,163.2 L563.0,161.5 L563.6,159.8 L564.2,158.0 L564.6,156.3 L565.1,154.7 L565.6,153.0 L566.1,151.3 L566.5,149.7 L566.9,148.0 L567.2,146.3 L567.5,144.7 L567.8,143.0 L568.0,141.3 L568.3,139.7 L568.5,138.0 L568.7,136.4 L568.9,134.9 L569.1,133.3 L569.3,131.7 L569.5,130.1 L569.6,128.6 L569.7,127.0Z" fill="#cb7ab8" fill-opacity="0.97"/>
<line x1="569.70" y1="126.00" x2="569.70" y2="220.00" stroke="#cfcfcf" stroke-width="1.0" />
<rect x="566.70" y="157.00" width="6.00" height="29.70" fill="none" stroke="#cfcfcf" stroke-width="1.2" />
<line x1="566.70" y1="171.00" x2="572.70" y2="171.00" stroke="#cfcfcf" stroke-width="1.4" />
<rect x="568.20" y="175.70" width="3.00" height="3.80" fill="#5a2358" stroke="none" stroke-width="1" />
<rect x="45.40" y="38.40" width="22.60" height="20.50" fill="#4682b4" stroke="none" stroke-width="1" />
<rect x="46.60" y="43.20" width="20.20" height="10.60" fill="none" stroke="#c9d3dc" stroke-width="1.2" />
<line x1="46.60" y1="48.70" x2="66.80" y2="48.70" stroke="#c9c9c9" stroke-width="1.2" />
<line x1="56.70" y1="38.90" x2="56.70" y2="43.60" stroke="#c9c9c9" stroke-width="1.2" />
<line x1="56.70" y1="53.80" x2="56.70" y2="58.40" stroke="#c9c9c9" stroke-width="1.2" />
<text x="70" y="55.7" font-size="18.2" text-anchor="start" fill="#1a1a1a" >DMSO</text>
<rect x="45.40" y="64.80" width="22.60" height="20.50" fill="#cb7ab8" stroke="none" stroke-width="1" />
<rect x="46.60" y="69.60" width="20.20" height="10.60" fill="none" stroke="#c9d3dc" stroke-width="1.2" />
<line x1="46.60" y1="75.10" x2="66.80" y2="75.10" stroke="#c9c9c9" stroke-width="1.2" />
<line x1="56.70" y1="65.30" x2="56.70" y2="70.00" stroke="#c9c9c9" stroke-width="1.2" />
<line x1="56.70" y1="80.20" x2="56.70" y2="84.80" stroke="#c9c9c9" stroke-width="1.2" />
<text x="70" y="82.1" font-size="18.2" text-anchor="start" fill="#1a1a1a" >TSA</text>
<text x="150.4" y="77.5" font-size="18.5" text-anchor="start" fill="#1a1a1a" >Δ= 9.66</text>
<line x1="150.90" y1="62.30" x2="161.40" y2="62.30" stroke="#1a1a1a" stroke-width="1.4" />
<text x="239.1" y="77.5" font-size="18.5" text-anchor="start" fill="#1a1a1a" >Δ= 9.13</text>
<line x1="239.60" y1="62.30" x2="250.10" y2="62.30" stroke="#1a1a1a" stroke-width="1.4" />
<text x="330.6" y="77.5" font-size="18.5" text-anchor="start" fill="#1a1a1a" >Δ= 9.05</text>
<line x1="331.10" y1="62.30" x2="341.60" y2="62.30" stroke="#1a1a1a" stroke-width="1.4" />
<text x="421.4" y="77.5" font-size="18.5" text-anchor="start" fill="#1a1a1a" >Δ= 8.22</text>
<line x1="421.90" y1="62.30" x2="432.40" y2="62.30" stroke="#1a1a1a" stroke-width="1.4" />
<text x="512.1" y="77.5" font-size="18.5" text-anchor="start" fill="#1a1a1a" >Δ= 7.10</text>
<line x1="512.60" y1="62.30" x2="523.10" y2="62.30" stroke="#1a1a1a" stroke-width="1.4" />
<rect x="40.20" y="31.60" width="563.20" height="281.20" fill="none" stroke="#5e5e5e" stroke-width="1.0" />
<filter id="fR" color-interpolation-filters="sRGB" x="0" y="0" width="1" height="1">
<feTurbulence type="fractalNoise" baseFrequency="0.0015 0.55" numOctaves="2" seed="4" result="n"/>
<feColorMatrix in="n" type="matrix" values="1 0 0 0 0 1 0 0 0 0 1 0 0 0 0 0 0 0 0 1" result="n1"/>
<feComposite in="SourceGraphic" in2="n1" operator="arithmetic" k1="0.22" k2="0.89" k3="0" k4="0" result="v"/>
<feComponentTransfer in="v"><feFuncR type="table" tableValues="1.000 0.996 0.988 0.988 0.984 0.937 0.796 0.647 0.404"/><feFuncG type="table" tableValues="0.961 0.878 0.733 0.573 0.416 0.231 0.094 0.059 0.000"/><feFuncB type="table" tableValues="0.941 0.824 0.631 0.447 0.290 0.173 0.114 0.082 0.051"/></feComponentTransfer>
</filter>
<filter id="fB" color-interpolation-filters="sRGB" x="0" y="0" width="1" height="1">
<feTurbulence type="fractalNoise" baseFrequency="0.0015 0.55" numOctaves="2" seed="9" result="n"/>
<feColorMatrix in="n" type="matrix" values="1 0 0 0 0 1 0 0 0 0 1 0 0 0 0 0 0 0 0 1" result="n1"/>
<feComposite in="SourceGraphic" in2="n1" operator="arithmetic" k1="0.22" k2="0.89" k3="0" k4="0" result="v"/>
<feComponentTransfer in="v"><feFuncR type="table" tableValues="0.969 0.871 0.776 0.620 0.420 0.259 0.129 0.031 0.031"/><feFuncG type="table" tableValues="0.984 0.922 0.859 0.792 0.682 0.573 0.443 0.318 0.188"/><feFuncB type="table" tableValues="1.000 0.969 0.937 0.882 0.839 0.776 0.710 0.612 0.420"/></feComponentTransfer>
</filter>
<text x="0" y="400.2" font-size="28.6" text-anchor="start" fill="#111" font-weight="bold" >B</text>
<text x="41.4" y="401.4" font-size="18.5" fill="#1a1a1a"><tspan font-weight="bold">AC</tspan> pan-H3Kac</text>
<line x1="26.40" y1="408.90" x2="178.30" y2="408.90" stroke="#111" stroke-width="2.1" />
<text x="58" y="428.3" font-size="18.3" text-anchor="middle" fill="#1a1a1a" >DMSO</text>
<text x="150" y="428.3" font-size="18.3" text-anchor="middle" fill="#1a1a1a" >TSA</text>
<text x="239.3" y="428.3" font-size="18.3" text-anchor="middle" fill="#1a1a1a" >Hdac1</text>
<linearGradient id="vb1" x1="0" x2="0" y1="0" y2="1"><stop offset="0.000" stop-color="rgb(48,48,48)"/><stop offset="0.250" stop-color="rgb(41,41,41)"/><stop offset="0.500" stop-color="rgb(33,33,33)"/><stop offset="0.750" stop-color="rgb(28,28,28)"/><stop offset="1.000" stop-color="rgb(26,26,26)"/></linearGradient>
<linearGradient id="hg200" x1="0" x2="1" y1="0" y2="0"><stop offset="0.000" stop-color="#fff" stop-opacity="0.044"/><stop offset="0.100" stop-color="#fff" stop-opacity="0.135"/><stop offset="0.200" stop-color="#fff" stop-opacity="0.325"/><stop offset="0.300" stop-color="#fff" stop-opacity="0.607"/><stop offset="0.400" stop-color="#fff" stop-opacity="0.882"/><stop offset="0.500" stop-color="#fff" stop-opacity="1.000"/><stop offset="0.600" stop-color="#fff" stop-opacity="0.882"/><stop offset="0.700" stop-color="#fff" stop-opacity="0.607"/><stop offset="0.800" stop-color="#fff" stop-opacity="0.325"/><stop offset="0.900" stop-color="#fff" stop-opacity="0.135"/><stop offset="1.000" stop-color="#fff" stop-opacity="0.044"/></linearGradient>
<linearGradient id="vm1_0" x1="0" x2="0" y1="0" y2="1"><stop offset="0.000" stop-color="#fff" stop-opacity="0.099"/><stop offset="0.250" stop-color="#fff" stop-opacity="0.060"/><stop offset="0.500" stop-color="#fff" stop-opacity="0.034"/><stop offset="0.750" stop-color="#fff" stop-opacity="0.022"/><stop offset="1.000" stop-color="#fff" stop-opacity="0.011"/></linearGradient><mask id="mk1_0" maskContentUnits="objectBoundingBox"><rect width="1" height="1" fill="url(#vm1_0)"/></mask>
<linearGradient id="hg55" x1="0" x2="1" y1="0" y2="0"><stop offset="0.335" stop-color="#fff" stop-opacity="0.000"/><stop offset="0.362" stop-color="#fff" stop-opacity="0.044"/><stop offset="0.390" stop-color="#fff" stop-opacity="0.135"/><stop offset="0.417" stop-color="#fff" stop-opacity="0.325"/><stop offset="0.445" stop-color="#fff" stop-opacity="0.607"/><stop offset="0.472" stop-color="#fff" stop-opacity="0.882"/><stop offset="0.500" stop-color="#fff" stop-opacity="1.000"/><stop offset="0.527" stop-color="#fff" stop-opacity="0.882"/><stop offset="0.555" stop-color="#fff" stop-opacity="0.607"/><stop offset="0.583" stop-color="#fff" stop-opacity="0.325"/><stop offset="0.610" stop-color="#fff" stop-opacity="0.135"/><stop offset="0.637" stop-color="#fff" stop-opacity="0.044"/><stop offset="0.665" stop-color="#fff" stop-opacity="0.000"/></linearGradient>
<linearGradient id="vm1_1" x1="0" x2="0" y1="0" y2="1"><stop offset="0.000" stop-color="#fff" stop-opacity="0.219"/><stop offset="0.250" stop-color="#fff" stop-opacity="0.228"/><stop offset="0.500" stop-color="#fff" stop-opacity="0.226"/><stop offset="0.750" stop-color="#fff" stop-opacity="0.207"/><stop offset="1.000" stop-color="#fff" stop-opacity="0.191"/></linearGradient><mask id="mk1_1" maskContentUnits="objectBoundingBox"><rect width="1" height="1" fill="url(#vm1_1)"/></mask>
<g filter="url(#fR)"><rect x="15.6" y="430.8" width="83.1" height="187.3" fill="url(#vb1)"/><rect x="15.6" y="430.8" width="83.1" height="187.3" fill="url(#hg200)" mask="url(#mk1_0)"/><rect x="15.6" y="430.8" width="83.1" height="187.3" fill="url(#hg55)" mask="url(#mk1_1)"/></g>
<rect x="15.60" y="430.80" width="83.10" height="187.30" fill="none" stroke="#444" stroke-width="0.9" />
<linearGradient id="vb2" x1="0" x2="0" y1="0" y2="1"><stop offset="0.000" stop-color="rgb(38,38,38)"/><stop offset="0.060" stop-color="rgb(32,32,32)"/><stop offset="0.250" stop-color="rgb(27,27,27)"/><stop offset="0.500" stop-color="rgb(22,22,22)"/><stop offset="1.000" stop-color="rgb(15,15,15)"/></linearGradient>
<linearGradient id="hg45" x1="0" x2="1" y1="0" y2="0"><stop offset="0.365" stop-color="#fff" stop-opacity="0.000"/><stop offset="0.388" stop-color="#fff" stop-opacity="0.044"/><stop offset="0.410" stop-color="#fff" stop-opacity="0.135"/><stop offset="0.432" stop-color="#fff" stop-opacity="0.325"/><stop offset="0.455" stop-color="#fff" stop-opacity="0.607"/><stop offset="0.477" stop-color="#fff" stop-opacity="0.882"/><stop offset="0.500" stop-color="#fff" stop-opacity="1.000"/><stop offset="0.522" stop-color="#fff" stop-opacity="0.882"/><stop offset="0.545" stop-color="#fff" stop-opacity="0.607"/><stop offset="0.568" stop-color="#fff" stop-opacity="0.325"/><stop offset="0.590" stop-color="#fff" stop-opacity="0.135"/><stop offset="0.613" stop-color="#fff" stop-opacity="0.044"/><stop offset="0.635" stop-color="#fff" stop-opacity="0.000"/></linearGradient>
<linearGradient id="vm2_0" x1="0" x2="0" y1="0" y2="1"><stop offset="0.000" stop-color="#fff" stop-opacity="0.047"/><stop offset="0.060" stop-color="#fff" stop-opacity="0.063"/><stop offset="0.250" stop-color="#fff" stop-opacity="0.045"/><stop offset="0.500" stop-color="#fff" stop-opacity="0.033"/><stop offset="1.000" stop-color="#fff" stop-opacity="0.021"/></linearGradient><mask id="mk2_0" maskContentUnits="objectBoundingBox"><rect width="1" height="1" fill="url(#vm2_0)"/></mask>
<g filter="url(#fR)"><rect x="15.6" y="620.1" width="83.1" height="132.5" fill="url(#vb2)"/><rect x="15.6" y="620.1" width="83.1" height="132.5" fill="url(#hg45)" mask="url(#mk2_0)"/></g>
<rect x="15.60" y="620.10" width="83.10" height="132.50" fill="none" stroke="#444" stroke-width="0.9" />
<linearGradient id="vb3" x1="0" x2="0" y1="0" y2="1"><stop offset="0.000" stop-color="rgb(107,107,107)"/><stop offset="0.250" stop-color="rgb(89,89,89)"/><stop offset="0.500" stop-color="rgb(79,79,79)"/><stop offset="0.750" stop-color="rgb(71,71,71)"/><stop offset="1.000" stop-color="rgb(64,64,64)"/></linearGradient>
<linearGradient id="hg280" x1="0" x2="1" y1="0" y2="0"><stop offset="0.080" stop-color="#fff" stop-opacity="0.325"/><stop offset="0.220" stop-color="#fff" stop-opacity="0.607"/><stop offset="0.360" stop-color="#fff" stop-opacity="0.882"/><stop offset="0.500" stop-color="#fff" stop-opacity="1.000"/><stop offset="0.640" stop-color="#fff" stop-opacity="0.882"/><stop offset="0.780" stop-color="#fff" stop-opacity="0.607"/><stop offset="0.920" stop-color="#fff" stop-opacity="0.325"/></linearGradient>
<linearGradient id="vm3_0" x1="0" x2="0" y1="0" y2="1"><stop offset="0.000" stop-color="#fff" stop-opacity="0.138"/><stop offset="0.250" stop-color="#fff" stop-opacity="0.077"/><stop offset="0.500" stop-color="#fff" stop-opacity="0.043"/><stop offset="0.750" stop-color="#fff" stop-opacity="0.028"/><stop offset="1.000" stop-color="#fff" stop-opacity="0.013"/></linearGradient><mask id="mk3_0" maskContentUnits="objectBoundingBox"><rect width="1" height="1" fill="url(#vm3_0)"/></mask>
<linearGradient id="hg110" x1="0" x2="1" y1="0" y2="0"><stop offset="0.170" stop-color="#fff" stop-opacity="0.000"/><stop offset="0.225" stop-color="#fff" stop-opacity="0.044"/><stop offset="0.280" stop-color="#fff" stop-opacity="0.135"/><stop offset="0.335" stop-color="#fff" stop-opacity="0.325"/><stop offset="0.390" stop-color="#fff" stop-opacity="0.607"/><stop offset="0.445" stop-color="#fff" stop-opacity="0.882"/><stop offset="0.500" stop-color="#fff" stop-opacity="1.000"/><stop offset="0.555" stop-color="#fff" stop-opacity="0.882"/><stop offset="0.610" stop-color="#fff" stop-opacity="0.607"/><stop offset="0.665" stop-color="#fff" stop-opacity="0.325"/><stop offset="0.720" stop-color="#fff" stop-opacity="0.135"/><stop offset="0.775" stop-color="#fff" stop-opacity="0.044"/><stop offset="0.830" stop-color="#fff" stop-opacity="0.000"/></linearGradient>
<linearGradient id="vm3_1" x1="0" x2="0" y1="0" y2="1"><stop offset="0.000" stop-color="#fff" stop-opacity="0.220"/><stop offset="0.250" stop-color="#fff" stop-opacity="0.200"/><stop offset="0.500" stop-color="#fff" stop-opacity="0.152"/><stop offset="0.750" stop-color="#fff" stop-opacity="0.100"/><stop offset="1.000" stop-color="#fff" stop-opacity="0.054"/></linearGradient><mask id="mk3_1" maskContentUnits="objectBoundingBox"><rect width="1" height="1" fill="url(#vm3_1)"/></mask>
<linearGradient id="hg42" x1="0" x2="1" y1="0" y2="0"><stop offset="0.374" stop-color="#fff" stop-opacity="0.000"/><stop offset="0.395" stop-color="#fff" stop-opacity="0.044"/><stop offset="0.416" stop-color="#fff" stop-opacity="0.135"/><stop offset="0.437" stop-color="#fff" stop-opacity="0.325"/><stop offset="0.458" stop-color="#fff" stop-opacity="0.607"/><stop offset="0.479" stop-color="#fff" stop-opacity="0.882"/><stop offset="0.500" stop-color="#fff" stop-opacity="1.000"/><stop offset="0.521" stop-color="#fff" stop-opacity="0.882"/><stop offset="0.542" stop-color="#fff" stop-opacity="0.607"/><stop offset="0.563" stop-color="#fff" stop-opacity="0.325"/><stop offset="0.584" stop-color="#fff" stop-opacity="0.135"/><stop offset="0.605" stop-color="#fff" stop-opacity="0.044"/><stop offset="0.626" stop-color="#fff" stop-opacity="0.000"/></linearGradient>
<linearGradient id="vm3_2" x1="0" x2="0" y1="0" y2="1"><stop offset="0.000" stop-color="#fff" stop-opacity="0.359"/><stop offset="0.250" stop-color="#fff" stop-opacity="0.354"/><stop offset="0.500" stop-color="#fff" stop-opacity="0.339"/><stop offset="0.750" stop-color="#fff" stop-opacity="0.317"/><stop offset="1.000" stop-color="#fff" stop-opacity="0.286"/></linearGradient><mask id="mk3_2" maskContentUnits="objectBoundingBox"><rect width="1" height="1" fill="url(#vm3_2)"/></mask>
<g filter="url(#fR)"><rect x="106.8" y="430.8" width="83.4" height="187.3" fill="url(#vb3)"/><rect x="106.8" y="430.8" width="83.4" height="187.3" fill="url(#hg280)" mask="url(#mk3_0)"/><rect x="106.8" y="430.8" width="83.4" height="187.3" fill="url(#hg110)" mask="url(#mk3_1)"/><rect x="106.8" y="430.8" width="83.4" height="187.3" fill="url(#hg42)" mask="url(#mk3_2)"/></g>
<rect x="106.80" y="430.80" width="83.40" height="187.30" fill="none" stroke="#444" stroke-width="0.9" />
<linearGradient id="vb4" x1="0" x2="0" y1="0" y2="1"><stop offset="0.000" stop-color="rgb(99,99,99)"/><stop offset="0.250" stop-color="rgb(84,84,84)"/><stop offset="0.500" stop-color="rgb(74,74,74)"/><stop offset="0.750" stop-color="rgb(64,64,64)"/><stop offset="1.000" stop-color="rgb(56,56,56)"/></linearGradient>
<linearGradient id="vm4_0" x1="0" x2="0" y1="0" y2="1"><stop offset="0.000" stop-color="#fff" stop-opacity="0.115"/><stop offset="0.250" stop-color="#fff" stop-opacity="0.060"/><stop offset="0.500" stop-color="#fff" stop-opacity="0.028"/><stop offset="0.750" stop-color="#fff" stop-opacity="0.013"/><stop offset="1.000" stop-color="#fff" stop-opacity="0.013"/></linearGradient><mask id="mk4_0" maskContentUnits="objectBoundingBox"><rect width="1" height="1" fill="url(#vm4_0)"/></mask>
<linearGradient id="vm4_1" x1="0" x2="0" y1="0" y2="1"><stop offset="0.000" stop-color="#fff" stop-opacity="0.167"/><stop offset="0.250" stop-color="#fff" stop-opacity="0.143"/><stop offset="0.500" stop-color="#fff" stop-opacity="0.116"/><stop offset="0.750" stop-color="#fff" stop-opacity="0.095"/><stop offset="1.000" stop-color="#fff" stop-opacity="0.065"/></linearGradient><mask id="mk4_1" maskContentUnits="objectBoundingBox"><rect width="1" height="1" fill="url(#vm4_1)"/></mask>
<linearGradient id="vm4_2" x1="0" x2="0" y1="0" y2="1"><stop offset="0.000" stop-color="#fff" stop-opacity="0.311"/><stop offset="0.250" stop-color="#fff" stop-opacity="0.315"/><stop offset="0.500" stop-color="#fff" stop-opacity="0.295"/><stop offset="0.750" stop-color="#fff" stop-opacity="0.299"/><stop offset="1.000" stop-color="#fff" stop-opacity="0.292"/></linearGradient><mask id="mk4_2" maskContentUnits="objectBoundingBox"><rect width="1" height="1" fill="url(#vm4_2)"/></mask>
<g filter="url(#fR)"><rect x="106.8" y="620.1" width="83.4" height="132.5" fill="url(#vb4)"/><rect x="106.8" y="620.1" width="83.4" height="132.5" fill="url(#hg280)" mask="url(#mk4_0)"/><rect x="106.8" y="620.1" width="83.4" height="132.5" fill="url(#hg110)" mask="url(#mk4_1)"/><rect x="106.8" y="620.1" width="83.4" height="132.5" fill="url(#hg42)" mask="url(#mk4_2)"/></g>
<rect x="106.80" y="620.10" width="83.40" height="132.50" fill="none" stroke="#444" stroke-width="0.9" />
<linearGradient id="vb5" x1="0" x2="0" y1="0" y2="1"><stop offset="0.000" stop-color="rgb(92,92,92)"/><stop offset="0.250" stop-color="rgb(64,64,64)"/><stop offset="0.500" stop-color="rgb(41,41,41)"/><stop offset="0.750" stop-color="rgb(31,31,31)"/><stop offset="1.000" stop-color="rgb(23,23,23)"/></linearGradient>
<linearGradient id="hg300" x1="0" x2="1" y1="0" y2="0"><stop offset="0.050" stop-color="#fff" stop-opacity="0.325"/><stop offset="0.200" stop-color="#fff" stop-opacity="0.607"/><stop offset="0.350" stop-color="#fff" stop-opacity="0.882"/><stop offset="0.500" stop-color="#fff" stop-opacity="1.000"/><stop offset="0.650" stop-color="#fff" stop-opacity="0.882"/><stop offset="0.800" stop-color="#fff" stop-opacity="0.607"/><stop offset="0.950" stop-color="#fff" stop-opacity="0.325"/></linearGradient>
<linearGradient id="vm5_0" x1="0" x2="0" y1="0" y2="1"><stop offset="0.000" stop-color="#fff" stop-opacity="0.250"/><stop offset="0.250" stop-color="#fff" stop-opacity="0.147"/><stop offset="0.500" stop-color="#fff" stop-opacity="0.048"/><stop offset="0.750" stop-color="#fff" stop-opacity="0.011"/><stop offset="1.000" stop-color="#fff" stop-opacity="0.000"/></linearGradient><mask id="mk5_0" maskContentUnits="objectBoundingBox"><rect width="1" height="1" fill="url(#vm5_0)"/></mask>
<linearGradient id="hg130" x1="0" x2="1" y1="0" y2="0"><stop offset="0.110" stop-color="#fff" stop-opacity="0.000"/><stop offset="0.175" stop-color="#fff" stop-opacity="0.044"/><stop offset="0.240" stop-color="#fff" stop-opacity="0.135"/><stop offset="0.305" stop-color="#fff" stop-opacity="0.325"/><stop offset="0.370" stop-color="#fff" stop-opacity="0.607"/><stop offset="0.435" stop-color="#fff" stop-opacity="0.882"/><stop offset="0.500" stop-color="#fff" stop-opacity="1.000"/><stop offset="0.565" stop-color="#fff" stop-opacity="0.882"/><stop offset="0.630" stop-color="#fff" stop-opacity="0.607"/><stop offset="0.695" stop-color="#fff" stop-opacity="0.325"/><stop offset="0.760" stop-color="#fff" stop-opacity="0.135"/><stop offset="0.825" stop-color="#fff" stop-opacity="0.044"/><stop offset="0.890" stop-color="#fff" stop-opacity="0.000"/></linearGradient>
<linearGradient id="vm5_1" x1="0" x2="0" y1="0" y2="1"><stop offset="0.000" stop-color="#fff" stop-opacity="0.292"/><stop offset="0.250" stop-color="#fff" stop-opacity="0.328"/><stop offset="0.500" stop-color="#fff" stop-opacity="0.287"/><stop offset="0.750" stop-color="#fff" stop-opacity="0.161"/><stop offset="1.000" stop-color="#fff" stop-opacity="0.066"/></linearGradient><mask id="mk5_1" maskContentUnits="objectBoundingBox"><rect width="1" height="1" fill="url(#vm5_1)"/></mask>
<linearGradient id="hg50" x1="0" x2="1" y1="0" y2="0"><stop offset="0.350" stop-color="#fff" stop-opacity="0.000"/><stop offset="0.375" stop-color="#fff" stop-opacity="0.044"/><stop offset="0.400" stop-color="#fff" stop-opacity="0.135"/><stop offset="0.425" stop-color="#fff" stop-opacity="0.325"/><stop offset="0.450" stop-color="#fff" stop-opacity="0.607"/><stop offset="0.475" stop-color="#fff" stop-opacity="0.882"/><stop offset="0.500" stop-color="#fff" stop-opacity="1.000"/><stop offset="0.525" stop-color="#fff" stop-opacity="0.882"/><stop offset="0.550" stop-color="#fff" stop-opacity="0.607"/><stop offset="0.575" stop-color="#fff" stop-opacity="0.325"/><stop offset="0.600" stop-color="#fff" stop-opacity="0.135"/><stop offset="0.625" stop-color="#fff" stop-opacity="0.044"/><stop offset="0.650" stop-color="#fff" stop-opacity="0.000"/></linearGradient>
<linearGradient id="vm5_2" x1="0" x2="0" y1="0" y2="1"><stop offset="0.000" stop-color="#fff" stop-opacity="0.324"/><stop offset="0.250" stop-color="#fff" stop-opacity="0.233"/><stop offset="0.500" stop-color="#fff" stop-opacity="0.211"/><stop offset="0.750" stop-color="#fff" stop-opacity="0.205"/><stop offset="1.000" stop-color="#fff" stop-opacity="0.176"/></linearGradient><mask id="mk5_2" maskContentUnits="objectBoundingBox"><rect width="1" height="1" fill="url(#vm5_2)"/></mask>
<g filter="url(#fB)"><rect x="197.2" y="430.8" width="81.1" height="187.3" fill="url(#vb5)"/><rect x="197.2" y="430.8" width="81.1" height="187.3" fill="url(#hg300)" mask="url(#mk5_0)"/><rect x="197.2" y="430.8" width="81.1" height="187.3" fill="url(#hg130)" mask="url(#mk5_1)"/><rect x="197.2" y="430.8" width="81.1" height="187.3" fill="url(#hg50)" mask="url(#mk5_2)"/></g>
<rect x="197.20" y="430.80" width="81.10" height="187.30" fill="none" stroke="#444" stroke-width="0.9" />
<linearGradient id="vb6" x1="0" x2="0" y1="0" y2="1"><stop offset="0.000" stop-color="rgb(97,97,97)"/><stop offset="0.250" stop-color="rgb(64,64,64)"/><stop offset="0.500" stop-color="rgb(36,36,36)"/><stop offset="0.750" stop-color="rgb(28,28,28)"/><stop offset="1.000" stop-color="rgb(23,23,23)"/></linearGradient>
<linearGradient id="vm6_0" x1="0" x2="0" y1="0" y2="1"><stop offset="0.000" stop-color="#fff" stop-opacity="0.194"/><stop offset="0.250" stop-color="#fff" stop-opacity="0.120"/><stop offset="0.500" stop-color="#fff" stop-opacity="0.035"/><stop offset="0.750" stop-color="#fff" stop-opacity="0.011"/><stop offset="1.000" stop-color="#fff" stop-opacity="0.000"/></linearGradient><mask id="mk6_0" maskContentUnits="objectBoundingBox"><rect width="1" height="1" fill="url(#vm6_0)"/></mask>
<linearGradient id="hg120" x1="0" x2="1" y1="0" y2="0"><stop offset="0.140" stop-color="#fff" stop-opacity="0.000"/><stop offset="0.200" stop-color="#fff" stop-opacity="0.044"/><stop offset="0.260" stop-color="#fff" stop-opacity="0.135"/><stop offset="0.320" stop-color="#fff" stop-opacity="0.325"/><stop offset="0.380" stop-color="#fff" stop-opacity="0.607"/><stop offset="0.440" stop-color="#fff" stop-opacity="0.882"/><stop offset="0.500" stop-color="#fff" stop-opacity="1.000"/><stop offset="0.560" stop-color="#fff" stop-opacity="0.882"/><stop offset="0.620" stop-color="#fff" stop-opacity="0.607"/><stop offset="0.680" stop-color="#fff" stop-opacity="0.325"/><stop offset="0.740" stop-color="#fff" stop-opacity="0.135"/><stop offset="0.800" stop-color="#fff" stop-opacity="0.044"/><stop offset="0.860" stop-color="#fff" stop-opacity="0.000"/></linearGradient>
<linearGradient id="vm6_1" x1="0" x2="0" y1="0" y2="1"><stop offset="0.000" stop-color="#fff" stop-opacity="0.200"/><stop offset="0.250" stop-color="#fff" stop-opacity="0.182"/><stop offset="0.500" stop-color="#fff" stop-opacity="0.120"/><stop offset="0.750" stop-color="#fff" stop-opacity="0.045"/><stop offset="1.000" stop-color="#fff" stop-opacity="0.022"/></linearGradient><mask id="mk6_1" maskContentUnits="objectBoundingBox"><rect width="1" height="1" fill="url(#vm6_1)"/></mask>
<linearGradient id="vm6_2" x1="0" x2="0" y1="0" y2="1"><stop offset="0.000" stop-color="#fff" stop-opacity="0.200"/><stop offset="0.250" stop-color="#fff" stop-opacity="0.148"/><stop offset="0.500" stop-color="#fff" stop-opacity="0.123"/><stop offset="0.750" stop-color="#fff" stop-opacity="0.119"/><stop offset="1.000" stop-color="#fff" stop-opacity="0.101"/></linearGradient><mask id="mk6_2" maskContentUnits="objectBoundingBox"><rect width="1" height="1" fill="url(#vm6_2)"/></mask>
<g filter="url(#fB)"><rect x="197.2" y="620.1" width="81.1" height="132.5" fill="url(#vb6)"/><rect x="197.2" y="620.1" width="81.1" height="132.5" fill="url(#hg300)" mask="url(#mk6_0)"/><rect x="197.2" y="620.1" width="81.1" height="132.5" fill="url(#hg120)" mask="url(#mk6_1)"/><rect x="197.2" y="620.1" width="81.1" height="132.5" fill="url(#hg50)" mask="url(#mk6_2)"/></g>
<rect x="197.20" y="620.10" width="81.10" height="132.50" fill="none" stroke="#444" stroke-width="0.9" />
<line x1="16.60" y1="753.20" x2="16.60" y2="774.60" stroke="#111" stroke-width="2.1" />
<line x1="57.30" y1="753.20" x2="57.30" y2="794.70" stroke="#111" stroke-width="2.1" />
<line x1="98.00" y1="753.20" x2="98.00" y2="774.60" stroke="#111" stroke-width="2.1" />
<text x="54.3" y="789.8" font-size="17.8" text-anchor="end" fill="#1a1a1a" >-2.5kb</text>
<text x="59.3" y="789.8" font-size="18.2" text-anchor="start" fill="#1a1a1a" >+2.5kb</text>
<text x="57" y="808.5" font-size="18.4" text-anchor="middle" fill="#1a1a1a" >summit</text>
<linearGradient id="cbR1" x1="0" x2="1" y1="0" y2="0"><stop offset="0.000" stop-color="#fff5f0"/><stop offset="0.127" stop-color="#fee0d2"/><stop offset="0.254" stop-color="#fcbba1"/><stop offset="0.381" stop-color="#fc9272"/><stop offset="0.508" stop-color="#fb6a4a"/><stop offset="0.635" stop-color="#ef3b2c"/><stop offset="0.761" stop-color="#cb181d"/><stop offset="0.888" stop-color="#a50f15"/></linearGradient>
<rect x="106.80" y="758.30" width="83.40" height="7.50" fill="url(#cbR1)" stroke="#555" stroke-width="0.7" />
<text x="108" y="776.6" font-size="6.3" text-anchor="middle" fill="#222" style="font-family:'DejaVu Sans',sans-serif">0</text>
<text x="140.7" y="776.6" font-size="6.3" text-anchor="middle" fill="#222" style="font-family:'DejaVu Sans',sans-serif">250</text>
<text x="175.3" y="776.6" font-size="6.3" text-anchor="middle" fill="#222" style="font-family:'DejaVu Sans',sans-serif">500</text>
<linearGradient id="cbB1" x1="0" x2="1" y1="0" y2="0"><stop offset="0.000" stop-color="#f7fbff"/><stop offset="0.127" stop-color="#deebf7"/><stop offset="0.254" stop-color="#c6dbef"/><stop offset="0.381" stop-color="#9ecae1"/><stop offset="0.508" stop-color="#6baed6"/><stop offset="0.635" stop-color="#4292c6"/><stop offset="0.761" stop-color="#2171b5"/><stop offset="0.888" stop-color="#08519c"/></linearGradient>
<rect x="197.20" y="758.30" width="81.10" height="7.50" fill="url(#cbB1)" stroke="#555" stroke-width="0.7" />
<text x="202.7" y="776.6" font-size="6.3" text-anchor="middle" fill="#222" style="font-family:'DejaVu Sans',sans-serif">0.0</text>
<text x="227.3" y="776.6" font-size="6.3" text-anchor="middle" fill="#222" style="font-family:'DejaVu Sans',sans-serif">0.3</text>
<text x="258" y="776.6" font-size="6.3" text-anchor="middle" fill="#222" style="font-family:'DejaVu Sans',sans-serif">0.6</text>
<text x="6.3" y="525.5" font-size="18.3" text-anchor="middle" fill="#1a1a1a" >α</text>
<text x="6.3" y="691" font-size="18.3" text-anchor="middle" fill="#1a1a1a" >β</text>
<text x="284.3" y="516.3" font-size="18.4" text-anchor="middle" fill="#1a1a1a" transform="rotate(90 284.3 516.3)" >(23,794)</text>
<text x="284.3" y="683.9" font-size="18.4" text-anchor="middle" fill="#1a1a1a" transform="rotate(90 284.3 683.9)" >(16,842)</text>
<text x="300.3" y="400.1" font-size="28.6" text-anchor="start" fill="#111" font-weight="bold" >C</text>
<text x="351.5" y="400.1" font-size="18.5" fill="#1a1a1a"><tspan font-weight="bold">VG</tspan> pan-H3Kac</text>
<line x1="335.90" y1="407.30" x2="487.90" y2="407.30" stroke="#111" stroke-width="2.1" />
<text x="367.6" y="426.5" font-size="18.3" text-anchor="middle" fill="#1a1a1a" >DMSO</text>
<text x="459.1" y="426.5" font-size="18.3" text-anchor="middle" fill="#1a1a1a" >TSA</text>
<text x="548.8" y="426.5" font-size="18.3" text-anchor="middle" fill="#1a1a1a" >Hdac1</text>
<linearGradient id="vb7" x1="0" x2="0" y1="0" y2="1"><stop offset="0.000" stop-color="rgb(46,46,46)"/><stop offset="0.250" stop-color="rgb(38,38,38)"/><stop offset="0.500" stop-color="rgb(33,33,33)"/><stop offset="0.750" stop-color="rgb(28,28,28)"/><stop offset="1.000" stop-color="rgb(26,26,26)"/></linearGradient>
<linearGradient id="vm7_0" x1="0" x2="0" y1="0" y2="1"><stop offset="0.000" stop-color="#fff" stop-opacity="0.085"/><stop offset="0.250" stop-color="#fff" stop-opacity="0.047"/><stop offset="0.500" stop-color="#fff" stop-opacity="0.023"/><stop offset="0.750" stop-color="#fff" stop-opacity="0.011"/><stop offset="1.000" stop-color="#fff" stop-opacity="0.011"/></linearGradient><mask id="mk7_0" maskContentUnits="objectBoundingBox"><rect width="1" height="1" fill="url(#vm7_0)"/></mask>
<linearGradient id="vm7_1" x1="0" x2="0" y1="0" y2="1"><stop offset="0.000" stop-color="#fff" stop-opacity="0.187"/><stop offset="0.250" stop-color="#fff" stop-opacity="0.198"/><stop offset="0.500" stop-color="#fff" stop-opacity="0.188"/><stop offset="0.750" stop-color="#fff" stop-opacity="0.170"/><stop offset="1.000" stop-color="#fff" stop-opacity="0.124"/></linearGradient><mask id="mk7_1" maskContentUnits="objectBoundingBox"><rect width="1" height="1" fill="url(#vm7_1)"/></mask>
<g filter="url(#fR)"><rect x="325.6" y="430.8" width="82.9" height="204.4" fill="url(#vb7)"/><rect x="325.6" y="430.8" width="82.9" height="204.4" fill="url(#hg200)" mask="url(#mk7_0)"/><rect x="325.6" y="430.8" width="82.9" height="204.4" fill="url(#hg55)" mask="url(#mk7_1)"/></g>
<rect x="325.60" y="430.80" width="82.90" height="204.40" fill="none" stroke="#444" stroke-width="0.9" />
<linearGradient id="vb8" x1="0" x2="0" y1="0" y2="1"><stop offset="0.000" stop-color="rgb(36,36,36)"/><stop offset="0.060" stop-color="rgb(31,31,31)"/><stop offset="0.250" stop-color="rgb(26,26,26)"/><stop offset="0.500" stop-color="rgb(20,20,20)"/><stop offset="1.000" stop-color="rgb(15,15,15)"/></linearGradient>
<linearGradient id="vm8_0" x1="0" x2="0" y1="0" y2="1"><stop offset="0.000" stop-color="#fff" stop-opacity="0.047"/><stop offset="0.060" stop-color="#fff" stop-opacity="0.057"/><stop offset="0.250" stop-color="#fff" stop-opacity="0.044"/><stop offset="0.500" stop-color="#fff" stop-opacity="0.033"/><stop offset="1.000" stop-color="#fff" stop-opacity="0.032"/></linearGradient><mask id="mk8_0" maskContentUnits="objectBoundingBox"><rect width="1" height="1" fill="url(#vm8_0)"/></mask>
<g filter="url(#fR)"><rect x="325.6" y="637.7" width="82.9" height="114.6" fill="url(#vb8)"/><rect x="325.6" y="637.7" width="82.9" height="114.6" fill="url(#hg45)" mask="url(#mk8_0)"/></g>
<rect x="325.60" y="637.70" width="82.90" height="114.60" fill="none" stroke="#444" stroke-width="0.9" />
<linearGradient id="vb9" x1="0" x2="0" y1="0" y2="1"><stop offset="0.000" stop-color="rgb(112,112,112)"/><stop offset="0.250" stop-color="rgb(97,97,97)"/><stop offset="0.500" stop-color="rgb(87,87,87)"/><stop offset="0.750" stop-color="rgb(79,79,79)"/><stop offset="1.000" stop-color="rgb(74,74,74)"/></linearGradient>
<linearGradient id="vm9_0" x1="0" x2="0" y1="0" y2="1"><stop offset="0.000" stop-color="#fff" stop-opacity="0.143"/><stop offset="0.250" stop-color="#fff" stop-opacity="0.081"/><stop offset="0.500" stop-color="#fff" stop-opacity="0.045"/><stop offset="0.750" stop-color="#fff" stop-opacity="0.029"/><stop offset="1.000" stop-color="#fff" stop-opacity="0.014"/></linearGradient><mask id="mk9_0" maskContentUnits="objectBoundingBox"><rect width="1" height="1" fill="url(#vm9_0)"/></mask>
<linearGradient id="vm9_1" x1="0" x2="0" y1="0" y2="1"><stop offset="0.000" stop-color="#fff" stop-opacity="0.250"/><stop offset="0.250" stop-color="#fff" stop-opacity="0.193"/><stop offset="0.500" stop-color="#fff" stop-opacity="0.143"/><stop offset="0.750" stop-color="#fff" stop-opacity="0.104"/><stop offset="1.000" stop-color="#fff" stop-opacity="0.057"/></linearGradient><mask id="mk9_1" maskContentUnits="objectBoundingBox"><rect width="1" height="1" fill="url(#vm9_1)"/></mask>
<linearGradient id="vm9_2" x1="0" x2="0" y1="0" y2="1"><stop offset="0.000" stop-color="#fff" stop-opacity="0.417"/><stop offset="0.250" stop-color="#fff" stop-opacity="0.391"/><stop offset="0.500" stop-color="#fff" stop-opacity="0.352"/><stop offset="0.750" stop-color="#fff" stop-opacity="0.317"/><stop offset="1.000" stop-color="#fff" stop-opacity="0.303"/></linearGradient><mask id="mk9_2" maskContentUnits="objectBoundingBox"><rect width="1" height="1" fill="url(#vm9_2)"/></mask>
<g filter="url(#fR)"><rect x="416.3" y="430.8" width="83.4" height="204.4" fill="url(#vb9)"/><rect x="416.3" y="430.8" width="83.4" height="204.4" fill="url(#hg280)" mask="url(#mk9_0)"/><rect x="416.3" y="430.8" width="83.4" height="204.4" fill="url(#hg110)" mask="url(#mk9_1)"/><rect x="416.3" y="430.8" width="83.4" height="204.4" fill="url(#hg42)" mask="url(#mk9_2)"/></g>
<rect x="416.30" y="430.80" width="83.40" height="204.40" fill="none" stroke="#444" stroke-width="0.9" />
<linearGradient id="vb10" x1="0" x2="0" y1="0" y2="1"><stop offset="0.000" stop-color="rgb(102,102,102)"/><stop offset="0.250" stop-color="rgb(89,89,89)"/><stop offset="0.500" stop-color="rgb(79,79,79)"/><stop offset="0.750" stop-color="rgb(69,69,69)"/><stop offset="1.000" stop-color="rgb(61,61,61)"/></linearGradient>
<linearGradient id="vm10_0" x1="0" x2="0" y1="0" y2="1"><stop offset="0.000" stop-color="#fff" stop-opacity="0.133"/><stop offset="0.250" stop-color="#fff" stop-opacity="0.062"/><stop offset="0.500" stop-color="#fff" stop-opacity="0.029"/><stop offset="0.750" stop-color="#fff" stop-opacity="0.014"/><stop offset="1.000" stop-color="#fff" stop-opacity="0.013"/></linearGradient><mask id="mk10_0" maskContentUnits="objectBoundingBox"><rect width="1" height="1" fill="url(#vm10_0)"/></mask>
<linearGradient id="vm10_1" x1="0" x2="0" y1="0" y2="1"><stop offset="0.000" stop-color="#fff" stop-opacity="0.192"/><stop offset="0.250" stop-color="#fff" stop-opacity="0.148"/><stop offset="0.500" stop-color="#fff" stop-opacity="0.119"/><stop offset="0.750" stop-color="#fff" stop-opacity="0.097"/><stop offset="1.000" stop-color="#fff" stop-opacity="0.067"/></linearGradient><mask id="mk10_1" maskContentUnits="objectBoundingBox"><rect width="1" height="1" fill="url(#vm10_1)"/></mask>
<linearGradient id="vm10_2" x1="0" x2="0" y1="0" y2="1"><stop offset="0.000" stop-color="#fff" stop-opacity="0.381"/><stop offset="0.250" stop-color="#fff" stop-opacity="0.385"/><stop offset="0.500" stop-color="#fff" stop-opacity="0.373"/><stop offset="0.750" stop-color="#fff" stop-opacity="0.369"/><stop offset="1.000" stop-color="#fff" stop-opacity="0.371"/></linearGradient><mask id="mk10_2" maskContentUnits="objectBoundingBox"><rect width="1" height="1" fill="url(#vm10_2)"/></mask>
<g filter="url(#fR)"><rect x="416.3" y="637.7" width="83.4" height="114.6" fill="url(#vb10)"/><rect x="416.3" y="637.7" width="83.4" height="114.6" fill="url(#hg280)" mask="url(#mk10_0)"/><rect x="416.3" y="637.7" width="83.4" height="114.6" fill="url(#hg110)" mask="url(#mk10_1)"/><rect x="416.3" y="637.7" width="83.4" height="114.6" fill="url(#hg42)" mask="url(#mk10_2)"/></g>
<rect x="416.30" y="637.70" width="83.40" height="114.60" fill="none" stroke="#444" stroke-width="0.9" />
<linearGradient id="vb11" x1="0" x2="0" y1="0" y2="1"><stop offset="0.000" stop-color="rgb(107,107,107)"/><stop offset="0.250" stop-color="rgb(79,79,79)"/><stop offset="0.500" stop-color="rgb(46,46,46)"/><stop offset="0.750" stop-color="rgb(28,28,28)"/><stop offset="1.000" stop-color="rgb(20,20,20)"/></linearGradient>
<linearGradient id="vm11_0" x1="0" x2="0" y1="0" y2="1"><stop offset="0.000" stop-color="#fff" stop-opacity="0.276"/><stop offset="0.250" stop-color="#fff" stop-opacity="0.159"/><stop offset="0.500" stop-color="#fff" stop-opacity="0.073"/><stop offset="0.750" stop-color="#fff" stop-opacity="0.022"/><stop offset="1.000" stop-color="#fff" stop-opacity="0.000"/></linearGradient><mask id="mk11_0" maskContentUnits="objectBoundingBox"><rect width="1" height="1" fill="url(#vm11_0)"/></mask>
<linearGradient id="vm11_1" x1="0" x2="0" y1="0" y2="1"><stop offset="0.000" stop-color="#fff" stop-opacity="0.333"/><stop offset="0.250" stop-color="#fff" stop-opacity="0.310"/><stop offset="0.500" stop-color="#fff" stop-opacity="0.237"/><stop offset="0.750" stop-color="#fff" stop-opacity="0.138"/><stop offset="1.000" stop-color="#fff" stop-opacity="0.033"/></linearGradient><mask id="mk11_1" maskContentUnits="objectBoundingBox"><rect width="1" height="1" fill="url(#vm11_1)"/></mask>
<linearGradient id="vm11_2" x1="0" x2="0" y1="0" y2="1"><stop offset="0.000" stop-color="#fff" stop-opacity="0.357"/><stop offset="0.250" stop-color="#fff" stop-opacity="0.275"/><stop offset="0.500" stop-color="#fff" stop-opacity="0.241"/><stop offset="0.750" stop-color="#fff" stop-opacity="0.187"/><stop offset="1.000" stop-color="#fff" stop-opacity="0.067"/></linearGradient><mask id="mk11_2" maskContentUnits="objectBoundingBox"><rect width="1" height="1" fill="url(#vm11_2)"/></mask>
<g filter="url(#fB)"><rect x="507.2" y="430.8" width="80.9" height="204.4" fill="url(#vb11)"/><rect x="507.2" y="430.8" width="80.9" height="204.4" fill="url(#hg300)" mask="url(#mk11_0)"/><rect x="507.2" y="430.8" width="80.9" height="204.4" fill="url(#hg120)" mask="url(#mk11_1)"/><rect x="507.2" y="430.8" width="80.9" height="204.4" fill="url(#hg50)" mask="url(#mk11_2)"/></g>
<rect x="507.20" y="430.80" width="80.90" height="204.40" fill="none" stroke="#444" stroke-width="0.9" />
<linearGradient id="vb12" x1="0" x2="0" y1="0" y2="1"><stop offset="0.000" stop-color="rgb(107,107,107)"/><stop offset="0.250" stop-color="rgb(74,74,74)"/><stop offset="0.500" stop-color="rgb(38,38,38)"/><stop offset="0.750" stop-color="rgb(26,26,26)"/><stop offset="1.000" stop-color="rgb(20,20,20)"/></linearGradient>
<linearGradient id="vm12_0" x1="0" x2="0" y1="0" y2="1"><stop offset="0.000" stop-color="#fff" stop-opacity="0.224"/><stop offset="0.250" stop-color="#fff" stop-opacity="0.099"/><stop offset="0.500" stop-color="#fff" stop-opacity="0.024"/><stop offset="0.750" stop-color="#fff" stop-opacity="0.011"/><stop offset="1.000" stop-color="#fff" stop-opacity="0.000"/></linearGradient><mask id="mk12_0" maskContentUnits="objectBoundingBox"><rect width="1" height="1" fill="url(#vm12_0)"/></mask>
<linearGradient id="vm12_1" x1="0" x2="0" y1="0" y2="1"><stop offset="0.000" stop-color="#fff" stop-opacity="0.222"/><stop offset="0.250" stop-color="#fff" stop-opacity="0.156"/><stop offset="0.500" stop-color="#fff" stop-opacity="0.096"/><stop offset="0.750" stop-color="#fff" stop-opacity="0.045"/><stop offset="1.000" stop-color="#fff" stop-opacity="0.022"/></linearGradient><mask id="mk12_1" maskContentUnits="objectBoundingBox"><rect width="1" height="1" fill="url(#vm12_1)"/></mask>
<linearGradient id="vm12_2" x1="0" x2="0" y1="0" y2="1"><stop offset="0.000" stop-color="#fff" stop-opacity="0.200"/><stop offset="0.250" stop-color="#fff" stop-opacity="0.130"/><stop offset="0.500" stop-color="#fff" stop-opacity="0.093"/><stop offset="0.750" stop-color="#fff" stop-opacity="0.059"/><stop offset="1.000" stop-color="#fff" stop-opacity="0.044"/></linearGradient><mask id="mk12_2" maskContentUnits="objectBoundingBox"><rect width="1" height="1" fill="url(#vm12_2)"/></mask>
<g filter="url(#fB)"><rect x="507.2" y="637.7" width="80.9" height="114.6" fill="url(#vb12)"/><rect x="507.2" y="637.7" width="80.9" height="114.6" fill="url(#hg300)" mask="url(#mk12_0)"/><rect x="507.2" y="637.7" width="80.9" height="114.6" fill="url(#hg120)" mask="url(#mk12_1)"/><rect x="507.2" y="637.7" width="80.9" height="114.6" fill="url(#hg50)" mask="url(#mk12_2)"/></g>
<rect x="507.20" y="637.70" width="80.90" height="114.60" fill="none" stroke="#444" stroke-width="0.9" />
<line x1="326.40" y1="752.30" x2="326.40" y2="774.60" stroke="#111" stroke-width="2.1" />
<line x1="367.10" y1="752.30" x2="367.10" y2="794.70" stroke="#111" stroke-width="2.1" />
<line x1="408.00" y1="752.30" x2="408.00" y2="774.60" stroke="#111" stroke-width="2.1" />
<text x="364.2" y="789.8" font-size="17.8" text-anchor="end" fill="#1a1a1a" >-2.5kb</text>
<text x="370.1" y="789.8" font-size="18.2" text-anchor="start" fill="#1a1a1a" >+2.5kb</text>
<text x="366.7" y="808.5" font-size="18.4" text-anchor="middle" fill="#1a1a1a" >summit</text>
<linearGradient id="cbR2" x1="0" x2="1" y1="0" y2="0"><stop offset="0.000" stop-color="#fff5f0"/><stop offset="0.127" stop-color="#fee0d2"/><stop offset="0.254" stop-color="#fcbba1"/><stop offset="0.381" stop-color="#fc9272"/><stop offset="0.508" stop-color="#fb6a4a"/><stop offset="0.635" stop-color="#ef3b2c"/><stop offset="0.761" stop-color="#cb181d"/><stop offset="0.888" stop-color="#a50f15"/></linearGradient>
<rect x="416.30" y="757.70" width="83.40" height="7.60" fill="url(#cbR2)" stroke="#555" stroke-width="0.7" />
<text x="417.6" y="775.8" font-size="6.3" text-anchor="middle" fill="#222" style="font-family:'DejaVu Sans',sans-serif">0</text>
<text x="450.7" y="775.8" font-size="6.3" text-anchor="middle" fill="#222" style="font-family:'DejaVu Sans',sans-serif">200</text>
<text x="485.1" y="775.8" font-size="6.3" text-anchor="middle" fill="#222" style="font-family:'DejaVu Sans',sans-serif">400</text>
<linearGradient id="cbB2" x1="0" x2="1" y1="0" y2="0"><stop offset="0.000" stop-color="#f7fbff"/><stop offset="0.127" stop-color="#deebf7"/><stop offset="0.254" stop-color="#c6dbef"/><stop offset="0.381" stop-color="#9ecae1"/><stop offset="0.508" stop-color="#6baed6"/><stop offset="0.635" stop-color="#4292c6"/><stop offset="0.761" stop-color="#2171b5"/><stop offset="0.888" stop-color="#08519c"/></linearGradient>
<rect x="507.20" y="757.70" width="80.90" height="7.60" fill="url(#cbB2)" stroke="#555" stroke-width="0.7" />
<text x="514.8" y="775.8" font-size="6.3" text-anchor="middle" fill="#222" style="font-family:'DejaVu Sans',sans-serif">0.00</text>
<text x="534.9" y="775.8" font-size="6.3" text-anchor="middle" fill="#222" style="font-family:'DejaVu Sans',sans-serif">0.25</text>
<text x="562" y="775.8" font-size="6.3" text-anchor="middle" fill="#222" style="font-family:'DejaVu Sans',sans-serif">0.50</text>
<text x="315" y="533.7" font-size="18.3" text-anchor="middle" fill="#1a1a1a" >α</text>
<text x="315" y="702.2" font-size="18.3" text-anchor="middle" fill="#1a1a1a" >β</text>
<text x="593" y="528.9" font-size="18.4" text-anchor="middle" fill="#1a1a1a" transform="rotate(90 593 528.9)" >(27,405)</text>
<text x="593" y="696.1" font-size="18.4" text-anchor="middle" fill="#1a1a1a" transform="rotate(90 593 696.1)" >(15,343)</text>
<text x="0.8" y="837" font-size="28.6" text-anchor="start" fill="#111" font-weight="bold" >D</text>
<text x="316.4" y="839.8" font-size="18.5" text-anchor="middle" fill="#1a1a1a" >pan-H3Kac signal fold change (TSA/DMSO) in VG explants</text>
<line x1="31.70" y1="1056.40" x2="35.20" y2="1056.40" stroke="#333" stroke-width="1" />
<text x="32.0" y="1062.9" font-size="18.2" text-anchor="end" fill="#1a1a1a" >0</text>
<line x1="31.70" y1="991.60" x2="35.20" y2="991.60" stroke="#333" stroke-width="1" />
<text x="32.0" y="998.1000000000001" font-size="18.2" text-anchor="end" fill="#1a1a1a" >2</text>
<line x1="31.70" y1="926.80" x2="35.20" y2="926.80" stroke="#333" stroke-width="1" />
<text x="32.0" y="933.3000000000001" font-size="18.2" text-anchor="end" fill="#1a1a1a" >4</text>
<line x1="31.70" y1="862.00" x2="35.20" y2="862.00" stroke="#333" stroke-width="1" />
<text x="32.0" y="868.5000000000001" font-size="18.2" text-anchor="end" fill="#1a1a1a" >6</text>
<line x1="31.70" y1="1121.20" x2="35.20" y2="1121.20" stroke="#333" stroke-width="1" />
<text x="15.3" y="980" font-size="18.2" text-anchor="middle" fill="#1a1a1a" transform="rotate(-90 15.3 980)" >Log2(pan-H3Kac fold change)</text>
<line x1="89.60" y1="1125.60" x2="89.60" y2="1129.10" stroke="#333" stroke-width="1" />
<text x="89.6" y="1145.6" font-size="18.2" text-anchor="middle" fill="#1a1a1a" >Hdac1</text>
<text x="89.6" y="1167.8" font-size="18.2" text-anchor="middle" fill="#1a1a1a" >all peaks</text>
<line x1="180.65" y1="1125.60" x2="180.65" y2="1129.10" stroke="#333" stroke-width="1" />
<text x="180.64999999999998" y="1145.6" font-size="18.2" text-anchor="middle" fill="#1a1a1a" >Cluster I</text>
<text x="180.64999999999998" y="1167.8" font-size="18.2" text-anchor="middle" fill="#1a1a1a" >peaks</text>
<line x1="271.70" y1="1125.60" x2="271.70" y2="1129.10" stroke="#333" stroke-width="1" />
<text x="271.7" y="1145.6" font-size="18.2" text-anchor="middle" fill="#1a1a1a" >Cluster II</text>
<text x="271.7" y="1167.8" font-size="18.2" text-anchor="middle" fill="#1a1a1a" >peaks</text>
<line x1="362.75" y1="1125.60" x2="362.75" y2="1129.10" stroke="#333" stroke-width="1" />
<text x="362.75" y="1145.6" font-size="18.2" text-anchor="middle" fill="#1a1a1a" >Cluster III</text>
<text x="362.75" y="1167.8" font-size="18.2" text-anchor="middle" fill="#1a1a1a" >peaks</text>
<line x1="453.80" y1="1125.60" x2="453.80" y2="1129.10" stroke="#333" stroke-width="1" />
<text x="453.79999999999995" y="1145.6" font-size="18.2" text-anchor="middle" fill="#1a1a1a" >Cluster IV</text>
<text x="453.79999999999995" y="1167.8" font-size="18.2" text-anchor="middle" fill="#1a1a1a" >peaks</text>
<line x1="544.85" y1="1125.60" x2="544.85" y2="1129.10" stroke="#333" stroke-width="1" />
<text x="551.85" y="1145.6" font-size="18.2" text-anchor="middle" fill="#1a1a1a" >Randomized</text>
<text x="551.85" y="1167.8" font-size="18.2" text-anchor="middle" fill="#1a1a1a" >regions</text>
<line x1="35.20" y1="1056.40" x2="600.00" y2="1056.40" stroke="#e03030" stroke-width="1.2" stroke-dasharray="1.6 3.2"/>
<line x1="89.50" y1="882.60" x2="89.50" y2="1015.00" stroke="#c4c4c4" stroke-width="1.3" />
<g fill="#b0b0b0" fill-opacity="0.6"><circle cx="89.5" cy="867.0" r="3.0"/><circle cx="89.5" cy="868.8" r="3.0"/><circle cx="89.5" cy="870.6" r="3.0"/><circle cx="89.5" cy="872.4" r="3.0"/><circle cx="89.5" cy="874.2" r="3.0"/><circle cx="89.5" cy="876.0" r="3.0"/><circle cx="89.5" cy="877.8" r="3.0"/><circle cx="89.5" cy="879.6" r="3.0"/></g>
<g fill="#b0b0b0" fill-opacity="0.6"><circle cx="89.5" cy="857.5" r="3.0"/><circle cx="89.5" cy="1021.0" r="3.0"/><circle cx="89.5" cy="1024.0" r="3.0"/><circle cx="89.5" cy="1027.0" r="3.0"/><circle cx="89.5" cy="1030.0" r="3.0"/><circle cx="89.5" cy="1033.6" r="3.0"/><circle cx="89.5" cy="1043.7" r="3.0"/><circle cx="89.5" cy="1047.2" r="3.0"/><circle cx="89.5" cy="1087.9" r="3.0"/></g>
<path d="M89.5,890.4 L89.8,892.1 L90.3,893.9 L90.8,895.6 L91.5,897.3 L92.2,899.1 L93.0,900.8 L93.7,902.4 L94.4,904.0 L95.1,905.6 L96.0,907.2 L96.8,908.9 L97.8,910.5 L98.8,912.1 L99.9,913.7 L101.2,915.3 L102.6,917.0 L104.1,918.6 L105.7,920.2 L107.3,921.8 L108.8,923.5 L110.1,925.1 L111.3,926.7 L112.8,928.3 L113.9,929.8 L114.9,931.4 L115.7,932.9 L116.5,934.5 L117.1,936.2 L117.7,937.8 L118.3,939.5 L118.8,941.2 L119.2,942.9 L119.6,944.5 L119.8,946.2 L119.9,947.9 L119.8,949.6 L119.5,951.3 L119.1,953.0 L118.7,954.9 L118.1,956.7 L117.5,958.5 L116.7,960.4 L116.0,961.9 L115.2,963.4 L114.3,965.0 L113.4,966.5 L112.5,968.0 L111.6,969.6 L110.6,971.2 L109.6,972.8 L108.6,974.4 L107.7,976.0 L106.8,977.6 L105.9,979.2 L105.1,980.8 L104.3,982.4 L103.5,984.0 L102.8,985.5 L102.1,987.0 L101.4,988.5 L100.7,990.0 L99.9,991.5 L99.1,993.2 L98.1,994.9 L97.2,996.6 L96.3,998.3 L95.5,1000.0 L94.6,1001.8 L93.8,1003.5 L93.0,1005.2 L92.3,1007.0 L91.5,1008.6 L90.7,1010.2 L90.0,1011.9 L89.5,1013.5 L89.5,1013.5 L89.0,1011.9 L88.3,1010.2 L87.5,1008.6 L86.7,1007.0 L86.0,1005.2 L85.2,1003.5 L84.4,1001.8 L83.5,1000.0 L82.7,998.3 L81.8,996.6 L80.9,994.9 L79.9,993.2 L79.1,991.5 L78.3,990.0 L77.6,988.5 L76.9,987.0 L76.2,985.5 L75.5,984.0 L74.7,982.4 L73.9,980.8 L73.1,979.2 L72.2,977.6 L71.3,976.0 L70.4,974.4 L69.4,972.8 L68.4,971.2 L67.4,969.6 L66.5,968.0 L65.6,966.5 L64.7,965.0 L63.8,963.4 L63.0,961.9 L62.3,960.4 L61.5,958.5 L60.9,956.7 L60.3,954.9 L59.9,953.0 L59.5,951.3 L59.2,949.6 L59.1,947.9 L59.2,946.2 L59.4,944.5 L59.8,942.9 L60.2,941.2 L60.7,939.5 L61.3,937.8 L61.9,936.2 L62.5,934.5 L63.3,932.9 L64.1,931.4 L65.1,929.8 L66.2,928.3 L67.7,926.7 L68.9,925.1 L70.2,923.5 L71.7,921.8 L73.3,920.2 L74.9,918.6 L76.4,917.0 L77.8,915.3 L79.1,913.7 L80.2,912.1 L81.2,910.5 L82.2,908.9 L83.0,907.2 L83.9,905.6 L84.6,904.0 L85.3,902.4 L86.0,900.8 L86.8,899.1 L87.5,897.3 L88.2,895.6 L88.7,893.9 L89.2,892.1 L89.5,890.4Z" fill="#fdd39c" fill-opacity="1"/>
<line x1="89.50" y1="889.40" x2="89.50" y2="1014.50" stroke="#c4c4c4" stroke-width="1.3" />
<rect x="84.80" y="933.70" width="9.40" height="35.80" fill="none" stroke="#c4c4c4" stroke-width="1.3" />
<circle cx="89.5" cy="951.9" r="4.2" fill="#c9c9c9"/>
<path d="M85.3,952.2 A4.2,4.2 0 0 0 93.7,952.2 Z" fill="#7b5a33"/>
<line x1="180.80" y1="874.80" x2="180.80" y2="1012.00" stroke="#c4c4c4" stroke-width="1.3" />
<g fill="#b0b0b0" fill-opacity="0.6"><circle cx="180.8" cy="1021.0" r="3.0"/><circle cx="180.8" cy="1026.0" r="3.0"/></g>
<path d="M180.8,888.0 L181.1,889.6 L181.5,891.2 L182.0,892.8 L182.6,894.4 L183.2,896.0 L183.9,897.6 L184.6,899.2 L185.3,900.8 L186.0,902.4 L186.8,904.0 L187.7,905.6 L188.5,907.2 L189.5,908.9 L190.4,910.5 L191.4,912.1 L192.5,913.7 L194.1,915.4 L195.9,917.1 L197.8,918.9 L199.6,920.6 L201.3,922.3 L202.8,924.0 L204.2,925.6 L205.4,927.2 L206.4,928.8 L207.3,930.4 L208.1,932.0 L208.8,933.5 L209.5,935.1 L210.0,936.6 L210.4,938.2 L210.6,939.7 L210.6,941.5 L210.4,943.4 L209.9,945.2 L209.4,947.0 L208.9,948.6 L208.3,950.3 L207.6,951.9 L206.9,953.6 L206.1,955.2 L205.3,956.8 L204.3,958.3 L203.4,959.9 L202.4,961.4 L201.5,963.0 L200.6,964.6 L199.7,966.1 L198.8,967.7 L197.9,969.2 L197.0,970.8 L195.9,972.6 L194.8,974.4 L193.8,976.2 L192.8,978.0 L192.0,979.7 L191.3,981.3 L190.6,983.0 L189.9,984.6 L189.2,986.3 L188.6,987.8 L188.0,989.4 L187.4,990.9 L186.8,992.5 L186.3,994.0 L185.8,995.6 L185.4,997.2 L185.0,998.7 L184.5,1000.3 L184.0,1001.9 L183.5,1003.4 L182.9,1004.9 L182.3,1006.5 L181.7,1008.0 L181.2,1009.5 L180.8,1011.0 L180.8,1011.0 L180.4,1009.5 L179.9,1008.0 L179.3,1006.5 L178.7,1004.9 L178.1,1003.4 L177.6,1001.9 L177.1,1000.3 L176.6,998.7 L176.2,997.2 L175.8,995.6 L175.3,994.0 L174.8,992.5 L174.2,990.9 L173.6,989.4 L173.0,987.8 L172.4,986.3 L171.7,984.6 L171.0,983.0 L170.3,981.3 L169.6,979.7 L168.8,978.0 L167.8,976.2 L166.8,974.4 L165.7,972.6 L164.6,970.8 L163.7,969.2 L162.8,967.7 L161.9,966.1 L161.0,964.6 L160.1,963.0 L159.2,961.4 L158.2,959.9 L157.3,958.3 L156.3,956.8 L155.5,955.2 L154.7,953.6 L154.0,951.9 L153.3,950.3 L152.7,948.6 L152.2,947.0 L151.7,945.2 L151.2,943.4 L151.0,941.5 L151.0,939.7 L151.2,938.2 L151.6,936.6 L152.1,935.1 L152.8,933.5 L153.5,932.0 L154.3,930.4 L155.2,928.8 L156.2,927.2 L157.4,925.6 L158.8,924.0 L160.3,922.3 L162.0,920.6 L163.8,918.9 L165.7,917.1 L167.5,915.4 L169.1,913.7 L170.2,912.1 L171.2,910.5 L172.1,908.9 L173.1,907.2 L173.9,905.6 L174.8,904.0 L175.6,902.4 L176.3,900.8 L177.0,899.2 L177.7,897.6 L178.4,896.0 L179.0,894.4 L179.6,892.8 L180.1,891.2 L180.5,889.6 L180.8,888.0Z" fill="#fdd39c" fill-opacity="1"/>
<line x1="180.80" y1="887.00" x2="180.80" y2="1012.00" stroke="#c4c4c4" stroke-width="1.3" />
<rect x="176.10" y="928.80" width="9.40" height="37.30" fill="none" stroke="#c4c4c4" stroke-width="1.3" />
<circle cx="180.8" cy="948.2" r="4.2" fill="#c9c9c9"/>
<path d="M176.6,948.5 A4.2,4.2 0 0 0 185.0,948.5 Z" fill="#7b5a33"/>
<line x1="271.80" y1="872.20" x2="271.80" y2="978.00" stroke="#c4c4c4" stroke-width="1.3" />
<g fill="#b0b0b0" fill-opacity="0.6"><circle cx="271.8" cy="972.0" r="3.0"/><circle cx="271.8" cy="973.8" r="3.0"/><circle cx="271.8" cy="975.6" r="3.0"/><circle cx="271.8" cy="977.4" r="3.0"/><circle cx="271.8" cy="979.2" r="3.0"/><circle cx="271.8" cy="981.0" r="3.0"/></g>
<g fill="#b0b0b0" fill-opacity="0.6"><circle cx="271.8" cy="857.5" r="3.0"/><circle cx="271.8" cy="867.6" r="3.0"/><circle cx="271.8" cy="989.0" r="3.0"/><circle cx="271.8" cy="995.4" r="3.0"/><circle cx="271.8" cy="1002.0" r="3.0"/><circle cx="271.8" cy="1004.0" r="3.0"/></g>
<path d="M271.8,876.0 L272.2,877.7 L272.7,879.4 L273.3,881.1 L274.0,882.7 L274.9,884.4 L275.9,886.1 L277.0,887.8 L278.6,889.5 L280.3,891.3 L282.3,893.0 L284.4,894.7 L286.6,896.5 L288.7,898.2 L291.4,899.8 L294.3,901.3 L297.2,902.9 L299.9,904.4 L302.3,906.0 L305.4,907.8 L307.9,909.7 L309.8,911.5 L310.8,913.0 L311.4,914.5 L311.8,916.1 L312.0,917.6 L312.1,919.2 L312.0,920.9 L311.8,922.5 L311.3,924.1 L309.7,926.0 L307.3,928.0 L304.4,930.0 L301.0,931.9 L299.2,933.4 L297.4,935.0 L295.5,936.5 L293.8,938.0 L292.2,939.7 L290.7,941.5 L289.3,943.2 L288.0,944.9 L286.8,946.4 L285.7,948.0 L284.6,949.5 L283.6,951.0 L282.7,952.7 L281.8,954.4 L281.0,956.1 L280.2,957.8 L279.2,959.5 L278.3,961.3 L277.4,963.0 L276.7,964.7 L276.1,966.5 L275.3,968.2 L274.6,969.8 L273.8,971.3 L273.0,972.9 L272.3,974.4 L271.8,976.0 L271.8,976.0 L271.3,974.4 L270.6,972.9 L269.8,971.3 L269.0,969.8 L268.3,968.2 L267.5,966.5 L266.9,964.7 L266.2,963.0 L265.3,961.3 L264.4,959.5 L263.4,957.8 L262.6,956.1 L261.8,954.4 L260.9,952.7 L260.0,951.0 L259.0,949.5 L257.9,948.0 L256.8,946.4 L255.6,944.9 L254.3,943.2 L252.9,941.5 L251.4,939.7 L249.8,938.0 L248.1,936.5 L246.2,935.0 L244.4,933.4 L242.6,931.9 L239.2,930.0 L236.3,928.0 L234.0,926.0 L232.3,924.1 L231.8,922.5 L231.6,920.9 L231.5,919.2 L231.6,917.6 L231.8,916.1 L232.2,914.5 L232.8,913.0 L233.8,911.5 L235.7,909.7 L238.2,907.8 L241.3,906.0 L243.7,904.4 L246.4,902.9 L249.3,901.3 L252.2,899.8 L254.9,898.2 L257.0,896.5 L259.2,894.7 L261.3,893.0 L263.3,891.3 L265.0,889.5 L266.6,887.8 L267.7,886.1 L268.7,884.4 L269.6,882.7 L270.3,881.1 L270.9,879.4 L271.4,877.7 L271.8,876.0Z" fill="#fdd39c" fill-opacity="1"/>
<line x1="271.80" y1="875.00" x2="271.80" y2="977.00" stroke="#c4c4c4" stroke-width="1.3" />
<rect x="267.10" y="908.50" width="9.40" height="25.50" fill="none" stroke="#c4c4c4" stroke-width="1.3" />
<circle cx="271.8" cy="922.8" r="4.2" fill="#c9c9c9"/>
<path d="M267.6,923.1 A4.2,4.2 0 0 0 276.0,923.1 Z" fill="#7b5a33"/>
<line x1="363.00" y1="888.00" x2="363.00" y2="1015.00" stroke="#c4c4c4" stroke-width="1.3" />
<g fill="#b0b0b0" fill-opacity="0.6"><circle cx="363.0" cy="874.8" r="3.0"/><circle cx="363.0" cy="876.6" r="3.0"/><circle cx="363.0" cy="878.4" r="3.0"/><circle cx="363.0" cy="880.2" r="3.0"/><circle cx="363.0" cy="882.0" r="3.0"/><circle cx="363.0" cy="883.8" r="3.0"/><circle cx="363.0" cy="885.6" r="3.0"/><circle cx="363.0" cy="887.4" r="3.0"/></g>
<g fill="#b0b0b0" fill-opacity="0.6"><circle cx="363.0" cy="1026.0" r="3.0"/><circle cx="363.0" cy="1031.0" r="3.0"/><circle cx="363.0" cy="1036.0" r="3.0"/><circle cx="363.0" cy="1087.9" r="3.0"/></g>
<path d="M363.0,898.0 L363.3,899.6 L363.8,901.2 L364.3,902.8 L364.9,904.4 L365.5,906.0 L366.0,907.5 L366.5,909.1 L367.0,910.6 L367.8,912.2 L368.8,913.7 L370.0,915.4 L371.4,917.2 L373.0,918.9 L374.7,920.6 L376.3,922.4 L377.9,924.1 L379.5,925.8 L381.1,927.6 L382.7,929.3 L384.2,931.0 L385.7,932.8 L387.0,934.5 L388.4,936.1 L389.6,937.6 L390.7,939.2 L391.7,940.7 L392.5,942.3 L393.1,943.8 L393.6,945.3 L394.1,946.8 L394.4,948.3 L394.6,949.8 L394.8,951.3 L394.8,953.0 L394.6,954.6 L394.3,956.3 L393.8,958.0 L393.4,959.5 L392.8,961.0 L392.2,962.6 L391.6,964.1 L390.9,965.6 L390.0,967.2 L389.0,968.8 L388.0,970.4 L387.0,972.0 L386.0,973.6 L385.0,975.3 L384.0,977.0 L383.0,978.6 L382.0,980.2 L381.0,981.8 L380.0,983.4 L379.0,985.0 L378.1,986.6 L377.2,988.2 L376.3,989.9 L375.3,991.5 L374.5,993.0 L373.6,994.5 L372.7,996.0 L371.9,997.5 L371.0,999.0 L370.2,1000.6 L369.4,1002.2 L368.6,1003.8 L367.8,1005.4 L367.0,1007.0 L365.9,1008.6 L364.8,1010.2 L363.7,1011.9 L363.0,1013.5 L363.0,1013.5 L362.3,1011.9 L361.2,1010.2 L360.1,1008.6 L359.0,1007.0 L358.2,1005.4 L357.4,1003.8 L356.6,1002.2 L355.8,1000.6 L355.0,999.0 L354.1,997.5 L353.3,996.0 L352.4,994.5 L351.5,993.0 L350.7,991.5 L349.7,989.9 L348.8,988.2 L347.9,986.6 L347.0,985.0 L346.0,983.4 L345.0,981.8 L344.0,980.2 L343.0,978.6 L342.0,977.0 L341.0,975.3 L340.0,973.6 L339.0,972.0 L338.0,970.4 L337.0,968.8 L336.0,967.2 L335.1,965.6 L334.4,964.1 L333.8,962.6 L333.2,961.0 L332.6,959.5 L332.2,958.0 L331.7,956.3 L331.4,954.6 L331.2,953.0 L331.2,951.3 L331.4,949.8 L331.6,948.3 L331.9,946.8 L332.4,945.3 L332.9,943.8 L333.5,942.3 L334.3,940.7 L335.3,939.2 L336.4,937.6 L337.6,936.1 L339.0,934.5 L340.3,932.8 L341.8,931.0 L343.3,929.3 L344.9,927.6 L346.5,925.8 L348.1,924.1 L349.7,922.4 L351.3,920.6 L353.0,918.9 L354.6,917.2 L356.0,915.4 L357.2,913.7 L358.2,912.2 L359.0,910.6 L359.5,909.1 L360.0,907.5 L360.5,906.0 L361.1,904.4 L361.7,902.8 L362.2,901.2 L362.7,899.6 L363.0,898.0Z" fill="#fdd39c" fill-opacity="1"/>
<line x1="363.00" y1="897.00" x2="363.00" y2="1014.50" stroke="#c4c4c4" stroke-width="1.3" />
<rect x="358.30" y="940.20" width="9.40" height="34.00" fill="none" stroke="#c4c4c4" stroke-width="1.3" />
<circle cx="363.0" cy="957.0" r="4.2" fill="#c9c9c9"/>
<path d="M358.8,957.3 A4.2,4.2 0 0 0 367.2,957.3 Z" fill="#7b5a33"/>
<line x1="453.80" y1="885.20" x2="453.80" y2="1008.00" stroke="#c4c4c4" stroke-width="1.3" />
<g fill="#b0b0b0" fill-opacity="0.6"><circle cx="453.8" cy="1008.5" r="3.0"/><circle cx="453.8" cy="1010.3" r="3.0"/><circle cx="453.8" cy="1012.1" r="3.0"/><circle cx="453.8" cy="1013.9" r="3.0"/><circle cx="453.8" cy="1015.7" r="3.0"/><circle cx="453.8" cy="1017.5" r="3.0"/><circle cx="453.8" cy="1019.3" r="3.0"/><circle cx="453.8" cy="1021.1" r="3.0"/><circle cx="453.8" cy="1022.9" r="3.0"/><circle cx="453.8" cy="1024.7" r="3.0"/><circle cx="453.8" cy="1026.5" r="3.0"/><circle cx="453.8" cy="1028.3" r="3.0"/><circle cx="453.8" cy="1030.1" r="3.0"/></g>
<g fill="#b0b0b0" fill-opacity="0.6"><circle cx="453.8" cy="869.6" r="3.0"/><circle cx="453.8" cy="878.7" r="3.0"/><circle cx="453.8" cy="1042.7" r="3.0"/><circle cx="453.8" cy="1046.2" r="3.0"/></g>
<path d="M453.8,893.0 L454.3,894.8 L455.0,896.5 L455.9,898.2 L456.8,900.0 L457.6,901.7 L458.3,903.4 L459.2,905.1 L460.3,906.8 L461.6,908.5 L463.0,910.2 L464.7,912.0 L466.5,913.7 L468.3,915.4 L470.2,917.2 L472.0,918.9 L473.8,920.6 L475.6,922.4 L477.4,924.1 L479.2,925.8 L480.9,927.6 L482.3,929.3 L483.6,931.0 L484.7,932.8 L485.8,934.5 L486.7,936.2 L487.4,938.0 L487.9,939.7 L488.2,941.5 L487.9,943.2 L487.4,945.0 L486.9,946.7 L486.4,948.3 L485.6,950.0 L484.7,951.7 L483.6,953.3 L482.4,955.0 L481.2,956.8 L479.9,958.6 L478.4,960.4 L477.3,961.9 L476.2,963.4 L475.0,965.0 L473.8,966.5 L472.6,968.0 L471.5,969.6 L470.4,971.2 L469.4,972.8 L468.4,974.4 L467.4,976.0 L466.5,977.6 L465.6,979.2 L464.7,980.8 L463.9,982.4 L463.1,984.0 L462.4,985.5 L461.7,987.0 L461.1,988.5 L460.4,990.0 L459.8,991.5 L459.0,993.1 L458.3,994.8 L457.5,996.4 L456.8,998.0 L456.2,999.6 L455.5,1001.2 L454.8,1002.8 L454.2,1004.4 L453.8,1006.0 L453.8,1006.0 L453.4,1004.4 L452.8,1002.8 L452.1,1001.2 L451.4,999.6 L450.8,998.0 L450.1,996.4 L449.3,994.8 L448.6,993.1 L447.8,991.5 L447.2,990.0 L446.5,988.5 L445.9,987.0 L445.2,985.5 L444.5,984.0 L443.7,982.4 L442.9,980.8 L442.0,979.2 L441.1,977.6 L440.2,976.0 L439.2,974.4 L438.2,972.8 L437.2,971.2 L436.1,969.6 L435.0,968.0 L433.8,966.5 L432.6,965.0 L431.4,963.4 L430.3,961.9 L429.2,960.4 L427.7,958.6 L426.4,956.8 L425.2,955.0 L424.0,953.3 L422.9,951.7 L422.0,950.0 L421.2,948.3 L420.7,946.7 L420.2,945.0 L419.7,943.2 L419.4,941.5 L419.7,939.7 L420.2,938.0 L420.9,936.2 L421.8,934.5 L422.9,932.8 L424.0,931.0 L425.3,929.3 L426.7,927.6 L428.4,925.8 L430.2,924.1 L432.0,922.4 L433.8,920.6 L435.6,918.9 L437.4,917.2 L439.3,915.4 L441.1,913.7 L442.9,912.0 L444.6,910.2 L446.0,908.5 L447.3,906.8 L448.4,905.1 L449.3,903.4 L450.0,901.7 L450.8,900.0 L451.7,898.2 L452.6,896.5 L453.3,894.8 L453.8,893.0Z" fill="#fdd39c" fill-opacity="1"/>
<line x1="453.80" y1="892.00" x2="453.80" y2="1007.00" stroke="#c4c4c4" stroke-width="1.3" />
<rect x="449.10" y="930.60" width="9.40" height="31.90" fill="none" stroke="#c4c4c4" stroke-width="1.3" />
<circle cx="453.8" cy="946.7" r="4.2" fill="#c9c9c9"/>
<path d="M449.6,947.0 A4.2,4.2 0 0 0 458.0,947.0 Z" fill="#7b5a33"/>
<line x1="545.00" y1="896.00" x2="545.00" y2="1008.00" stroke="#c4c4c4" stroke-width="1.3" />
<g fill="#b0b0b0" fill-opacity="0.6"><circle cx="545.0" cy="865.8" r="3.0"/><circle cx="545.0" cy="867.6" r="3.0"/><circle cx="545.0" cy="869.4" r="3.0"/><circle cx="545.0" cy="871.2" r="3.0"/><circle cx="545.0" cy="873.0" r="3.0"/><circle cx="545.0" cy="874.8" r="3.0"/><circle cx="545.0" cy="876.6" r="3.0"/><circle cx="545.0" cy="878.4" r="3.0"/><circle cx="545.0" cy="880.2" r="3.0"/><circle cx="545.0" cy="882.0" r="3.0"/><circle cx="545.0" cy="883.8" r="3.0"/><circle cx="545.0" cy="885.6" r="3.0"/><circle cx="545.0" cy="887.4" r="3.0"/><circle cx="545.0" cy="889.2" r="3.0"/><circle cx="545.0" cy="891.0" r="3.0"/><circle cx="545.0" cy="892.8" r="3.0"/><circle cx="545.0" cy="894.6" r="3.0"/><circle cx="545.0" cy="896.4" r="3.0"/></g>
<g fill="#b0b0b0" fill-opacity="0.6"><circle cx="545.0" cy="1008.5" r="3.0"/><circle cx="545.0" cy="1010.3" r="3.0"/><circle cx="545.0" cy="1012.1" r="3.0"/><circle cx="545.0" cy="1013.9" r="3.0"/><circle cx="545.0" cy="1015.7" r="3.0"/><circle cx="545.0" cy="1017.5" r="3.0"/><circle cx="545.0" cy="1019.3" r="3.0"/><circle cx="545.0" cy="1021.1" r="3.0"/><circle cx="545.0" cy="1022.9" r="3.0"/><circle cx="545.0" cy="1024.7" r="3.0"/><circle cx="545.0" cy="1026.5" r="3.0"/><circle cx="545.0" cy="1028.3" r="3.0"/><circle cx="545.0" cy="1030.1" r="3.0"/><circle cx="545.0" cy="1031.9" r="3.0"/><circle cx="545.0" cy="1033.7" r="3.0"/><circle cx="545.0" cy="1035.5" r="3.0"/><circle cx="545.0" cy="1037.3" r="3.0"/><circle cx="545.0" cy="1039.1" r="3.0"/><circle cx="545.0" cy="1040.9" r="3.0"/><circle cx="545.0" cy="1042.7" r="3.0"/><circle cx="545.0" cy="1044.5" r="3.0"/><circle cx="545.0" cy="1046.3" r="3.0"/><circle cx="545.0" cy="1048.1" r="3.0"/><circle cx="545.0" cy="1049.9" r="3.0"/><circle cx="545.0" cy="1051.7" r="3.0"/><circle cx="545.0" cy="1053.5" r="3.0"/><circle cx="545.0" cy="1055.3" r="3.0"/><circle cx="545.0" cy="1057.1" r="3.0"/><circle cx="545.0" cy="1058.9" r="3.0"/><circle cx="545.0" cy="1060.7" r="3.0"/><circle cx="545.0" cy="1062.5" r="3.0"/><circle cx="545.0" cy="1064.3" r="3.0"/><circle cx="545.0" cy="1066.1" r="3.0"/><circle cx="545.0" cy="1067.9" r="3.0"/><circle cx="545.0" cy="1069.7" r="3.0"/><circle cx="545.0" cy="1071.5" r="3.0"/><circle cx="545.0" cy="1073.3" r="3.0"/><circle cx="545.0" cy="1075.1" r="3.0"/><circle cx="545.0" cy="1076.9" r="3.0"/><circle cx="545.0" cy="1078.7" r="3.0"/><circle cx="545.0" cy="1080.5" r="3.0"/><circle cx="545.0" cy="1082.3" r="3.0"/><circle cx="545.0" cy="1084.1" r="3.0"/><circle cx="545.0" cy="1085.9" r="3.0"/><circle cx="545.0" cy="1087.7" r="3.0"/><circle cx="545.0" cy="1089.5" r="3.0"/><circle cx="545.0" cy="1091.3" r="3.0"/><circle cx="545.0" cy="1093.1" r="3.0"/><circle cx="545.0" cy="1094.9" r="3.0"/></g>
<g fill="#b0b0b0" fill-opacity="0.6"><circle cx="545.0" cy="1104.0" r="3.0"/><circle cx="545.0" cy="1114.0" r="3.0"/></g>
<path d="M545.0,898.0 L545.4,899.6 L546.0,901.2 L546.6,902.8 L547.3,904.4 L548.0,906.0 L548.6,907.5 L549.2,909.1 L549.8,910.6 L550.5,912.2 L551.5,913.7 L552.5,915.4 L553.7,917.2 L555.0,918.9 L556.4,920.6 L557.8,922.4 L559.3,924.1 L560.9,925.8 L562.6,927.6 L564.4,929.3 L566.2,931.0 L568.0,932.8 L569.6,934.5 L571.5,936.1 L573.3,937.6 L575.0,939.2 L576.6,940.7 L578.0,942.3 L579.1,943.8 L580.1,945.3 L581.0,946.8 L581.8,948.3 L582.5,949.8 L582.9,951.3 L583.1,952.9 L582.5,954.4 L581.8,956.0 L580.5,958.2 L578.7,960.4 L577.0,962.1 L575.0,963.8 L573.0,965.5 L571.0,967.3 L568.9,969.0 L567.0,970.8 L565.2,972.5 L563.6,974.3 L562.0,976.0 L560.6,977.7 L559.2,979.5 L558.0,981.2 L556.9,982.8 L555.8,984.4 L554.8,986.0 L553.8,987.8 L552.9,989.7 L552.0,991.5 L551.1,993.3 L550.1,995.2 L549.0,997.0 L548.0,998.6 L546.8,1000.2 L545.7,1001.9 L545.0,1003.5 L545.0,1003.5 L544.3,1001.9 L543.2,1000.2 L542.0,998.6 L541.0,997.0 L539.9,995.2 L538.9,993.3 L538.0,991.5 L537.1,989.7 L536.2,987.8 L535.2,986.0 L534.2,984.4 L533.1,982.8 L532.0,981.2 L530.8,979.5 L529.4,977.7 L528.0,976.0 L526.4,974.3 L524.8,972.5 L523.0,970.8 L521.1,969.0 L519.0,967.3 L517.0,965.5 L515.0,963.8 L513.0,962.1 L511.3,960.4 L509.5,958.2 L508.2,956.0 L507.5,954.4 L506.9,952.9 L507.1,951.3 L507.5,949.8 L508.2,948.3 L509.0,946.8 L509.9,945.3 L510.9,943.8 L512.0,942.3 L513.4,940.7 L515.0,939.2 L516.7,937.6 L518.5,936.1 L520.4,934.5 L522.0,932.8 L523.8,931.0 L525.6,929.3 L527.4,927.6 L529.1,925.8 L530.7,924.1 L532.2,922.4 L533.6,920.6 L535.0,918.9 L536.3,917.2 L537.5,915.4 L538.5,913.7 L539.5,912.2 L540.2,910.6 L540.8,909.1 L541.4,907.5 L542.0,906.0 L542.7,904.4 L543.4,902.8 L544.0,901.2 L544.6,899.6 L545.0,898.0Z" fill="#fdd39c" fill-opacity="1"/>
<line x1="545.00" y1="897.00" x2="545.00" y2="1004.50" stroke="#c4c4c4" stroke-width="1.3" />
<rect x="540.30" y="938.90" width="9.40" height="28.50" fill="none" stroke="#c4c4c4" stroke-width="1.3" />
<circle cx="545.0" cy="954.4" r="4.2" fill="#c9c9c9"/>
<path d="M540.8,954.7 A4.2,4.2 0 0 0 549.2,954.7 Z" fill="#7b5a33"/>
<text x="272.3" y="862.3" font-size="17.3" text-anchor="middle" fill="#1a1a1a" >***</text>
<text x="363.5" y="862.3" font-size="17.3" text-anchor="middle" fill="#1a1a1a" >***</text>
<rect x="35.20" y="844.50" width="564.80" height="281.10" fill="none" stroke="#5e5e5e" stroke-width="1.0" />
<text x="623" y="19.8" font-size="28" text-anchor="start" fill="#111" font-weight="bold" >E</text>
<line x1="665.80" y1="216.90" x2="1230.90" y2="216.90" stroke="#e03030" stroke-width="1.2" stroke-dasharray="1.6 3.2"/>
<line x1="720.80" y1="80.40" x2="720.80" y2="138.00" stroke="#c6c6c6" stroke-width="1.2" />
<g fill="#b0b0b0" fill-opacity="0.6"><circle cx="720.8" cy="138.0" r="2.6"/><circle cx="720.8" cy="139.6" r="2.6"/><circle cx="720.8" cy="141.2" r="2.6"/><circle cx="720.8" cy="142.8" r="2.6"/><circle cx="720.8" cy="144.4" r="2.6"/><circle cx="720.8" cy="146.0" r="2.6"/><circle cx="720.8" cy="147.6" r="2.6"/><circle cx="720.8" cy="149.2" r="2.6"/><circle cx="720.8" cy="150.8" r="2.6"/><circle cx="720.8" cy="152.4" r="2.6"/><circle cx="720.8" cy="154.0" r="2.6"/><circle cx="720.8" cy="155.6" r="2.6"/><circle cx="720.8" cy="157.2" r="2.6"/><circle cx="720.8" cy="158.8" r="2.6"/><circle cx="720.8" cy="160.4" r="2.6"/><circle cx="720.8" cy="162.0" r="2.6"/><circle cx="720.8" cy="163.6" r="2.6"/><circle cx="720.8" cy="165.2" r="2.6"/><circle cx="720.8" cy="166.8" r="2.6"/><circle cx="720.8" cy="168.4" r="2.6"/><circle cx="720.8" cy="170.0" r="2.6"/><circle cx="720.8" cy="171.6" r="2.6"/><circle cx="720.8" cy="173.2" r="2.6"/><circle cx="720.8" cy="174.8" r="2.6"/><circle cx="720.8" cy="176.4" r="2.6"/><circle cx="720.8" cy="178.0" r="2.6"/><circle cx="720.8" cy="179.6" r="2.6"/><circle cx="720.8" cy="181.2" r="2.6"/></g>
<g fill="#b0b0b0" fill-opacity="0.6"><circle cx="720.8" cy="51.9" r="2.6"/><circle cx="720.8" cy="73.4" r="2.6"/><circle cx="720.8" cy="79.6" r="2.6"/><circle cx="720.8" cy="184.0" r="2.6"/><circle cx="720.8" cy="186.5" r="2.6"/><circle cx="720.8" cy="189.0" r="2.6"/><circle cx="720.8" cy="191.5" r="2.6"/><circle cx="720.8" cy="202.0" r="2.6"/><circle cx="720.8" cy="210.0" r="2.6"/><circle cx="720.8" cy="222.0" r="2.6"/></g>
<path d="M720.8,92.0 L722.0,94.0 L723.8,96.0 L726.1,97.2 L729.2,98.5 L733.9,99.8 L738.8,101.0 L743.1,102.8 L745.8,104.5 L745.2,106.2 L743.3,108.0 L741.6,109.8 L739.6,111.5 L737.4,113.5 L735.3,115.5 L733.5,117.4 L731.8,119.3 L730.2,121.2 L728.8,123.0 L727.6,125.0 L726.6,127.0 L725.6,129.0 L724.6,131.0 L723.8,132.9 L723.0,134.9 L721.8,136.2 L720.8,137.4 L720.8,137.4 L719.8,136.2 L718.6,134.9 L717.8,132.9 L717.0,131.0 L716.0,129.0 L715.0,127.0 L714.0,125.0 L712.8,123.0 L711.4,121.2 L709.8,119.3 L708.1,117.4 L706.3,115.5 L704.2,113.5 L702.0,111.5 L700.0,109.8 L698.3,108.0 L696.4,106.2 L695.8,104.5 L698.5,102.8 L702.8,101.0 L707.7,99.8 L712.4,98.5 L715.5,97.2 L717.8,96.0 L719.6,94.0 L720.8,92.0Z" fill="#178b8b" fill-opacity="1"/>
<line x1="720.80" y1="91.00" x2="720.80" y2="138.40" stroke="#cfdcdc" stroke-width="1.2" />
<rect x="716.00" y="103.00" width="9.60" height="14.20" fill="none" stroke="#cfdcdc" stroke-width="1.3" />
<rect x="717.20" y="109.60" width="7.20" height="4.40" fill="#0e4a4a" stroke="none" stroke-width="1" />
<line x1="716.60" y1="107.00" x2="725.00" y2="107.00" stroke="#cfdcdc" stroke-width="2.2" />
<line x1="812.10" y1="84.00" x2="812.10" y2="121.00" stroke="#c6c6c6" stroke-width="1.2" />
<g fill="#b0b0b0" fill-opacity="0.6"><circle cx="812.1" cy="117.0" r="2.6"/><circle cx="812.1" cy="118.6" r="2.6"/><circle cx="812.1" cy="120.2" r="2.6"/><circle cx="812.1" cy="121.8" r="2.6"/><circle cx="812.1" cy="123.4" r="2.6"/><circle cx="812.1" cy="125.0" r="2.6"/><circle cx="812.1" cy="126.6" r="2.6"/><circle cx="812.1" cy="128.2" r="2.6"/><circle cx="812.1" cy="129.8" r="2.6"/><circle cx="812.1" cy="131.4" r="2.6"/><circle cx="812.1" cy="133.0" r="2.6"/><circle cx="812.1" cy="134.6" r="2.6"/></g>
<g fill="#b0b0b0" fill-opacity="0.6"><circle cx="812.1" cy="51.9" r="2.6"/><circle cx="812.1" cy="80.4" r="2.6"/><circle cx="812.1" cy="82.5" r="2.6"/><circle cx="812.1" cy="84.3" r="2.6"/><circle cx="812.1" cy="138.7" r="2.6"/><circle cx="812.1" cy="141.3" r="2.6"/></g>
<path d="M812.1,89.5 L813.7,91.0 L816.1,92.5 L818.6,93.6 L822.5,94.7 L829.8,96.0 L838.1,97.3 L846.3,98.3 L852.1,99.3 L851.6,100.3 L848.1,101.3 L843.3,102.5 L838.1,103.7 L834.1,105.0 L830.6,106.3 L827.7,107.7 L825.1,109.0 L822.7,110.2 L820.6,111.5 L818.7,112.8 L817.1,114.0 L816.0,115.5 L814.9,117.0 L813.4,118.8 L812.1,120.6 L812.1,120.6 L810.8,118.8 L809.3,117.0 L808.2,115.5 L807.1,114.0 L805.5,112.8 L803.6,111.5 L801.5,110.2 L799.1,109.0 L796.5,107.7 L793.6,106.3 L790.1,105.0 L786.1,103.7 L780.9,102.5 L776.1,101.3 L772.6,100.3 L772.1,99.3 L777.9,98.3 L786.1,97.3 L794.4,96.0 L801.7,94.7 L805.6,93.6 L808.1,92.5 L810.5,91.0 L812.1,89.5Z" fill="#178b8b" fill-opacity="1"/>
<line x1="812.10" y1="88.50" x2="812.10" y2="121.60" stroke="#cfdcdc" stroke-width="1.2" />
<rect x="807.30" y="97.80" width="9.60" height="8.00" fill="none" stroke="#cfdcdc" stroke-width="1.3" />
<rect x="808.50" y="99.60" width="7.20" height="4.40" fill="#0e4a4a" stroke="none" stroke-width="1" />
<line x1="807.90" y1="100.60" x2="816.30" y2="100.60" stroke="#cfdcdc" stroke-width="2.2" />
<line x1="902.90" y1="92.00" x2="902.90" y2="129.00" stroke="#c6c6c6" stroke-width="1.2" />
<g fill="#b0b0b0" fill-opacity="0.6"><circle cx="902.9" cy="127.5" r="2.6"/><circle cx="902.9" cy="129.1" r="2.6"/><circle cx="902.9" cy="130.7" r="2.6"/><circle cx="902.9" cy="132.3" r="2.6"/><circle cx="902.9" cy="133.9" r="2.6"/><circle cx="902.9" cy="135.5" r="2.6"/><circle cx="902.9" cy="137.1" r="2.6"/><circle cx="902.9" cy="138.7" r="2.6"/><circle cx="902.9" cy="140.3" r="2.6"/><circle cx="902.9" cy="141.9" r="2.6"/><circle cx="902.9" cy="143.5" r="2.6"/><circle cx="902.9" cy="145.1" r="2.6"/><circle cx="902.9" cy="146.7" r="2.6"/><circle cx="902.9" cy="148.3" r="2.6"/><circle cx="902.9" cy="149.9" r="2.6"/><circle cx="902.9" cy="151.5" r="2.6"/><circle cx="902.9" cy="153.1" r="2.6"/><circle cx="902.9" cy="154.7" r="2.6"/></g>
<g fill="#b0b0b0" fill-opacity="0.6"><circle cx="902.9" cy="164.7" r="2.6"/></g>
<path d="M902.9,92.0 L904.2,93.8 L906.4,95.5 L909.4,97.0 L913.3,98.5 L918.4,99.8 L923.9,101.0 L930.1,102.3 L934.5,103.7 L933.7,105.0 L930.9,106.3 L928.5,107.7 L925.9,109.0 L923.5,110.2 L921.2,111.5 L919.1,112.8 L917.2,114.0 L915.2,115.3 L913.4,116.7 L911.8,118.0 L910.4,119.3 L909.1,120.7 L907.9,122.0 L906.9,123.2 L905.9,124.5 L904.3,126.5 L902.9,128.4 L902.9,128.4 L901.5,126.5 L899.9,124.5 L898.9,123.2 L897.9,122.0 L896.7,120.7 L895.4,119.3 L894.0,118.0 L892.4,116.7 L890.6,115.3 L888.6,114.0 L886.7,112.8 L884.6,111.5 L882.3,110.2 L879.9,109.0 L877.3,107.7 L874.9,106.3 L872.1,105.0 L871.3,103.7 L875.7,102.3 L881.9,101.0 L887.4,99.8 L892.5,98.5 L896.4,97.0 L899.4,95.5 L901.6,93.8 L902.9,92.0Z" fill="#178b8b" fill-opacity="1"/>
<line x1="902.90" y1="91.00" x2="902.90" y2="129.40" stroke="#cfdcdc" stroke-width="1.2" />
<rect x="898.10" y="102.40" width="9.60" height="10.40" fill="none" stroke="#cfdcdc" stroke-width="1.3" />
<rect x="899.30" y="107.00" width="7.20" height="4.40" fill="#0e4a4a" stroke="none" stroke-width="1" />
<line x1="898.70" y1="105.50" x2="907.10" y2="105.50" stroke="#cfdcdc" stroke-width="2.2" />
<line x1="993.60" y1="86.00" x2="993.60" y2="130.00" stroke="#c6c6c6" stroke-width="1.2" />
<g fill="#b0b0b0" fill-opacity="0.6"><circle cx="993.6" cy="77.8" r="2.6"/><circle cx="993.6" cy="79.4" r="2.6"/><circle cx="993.6" cy="81.0" r="2.6"/><circle cx="993.6" cy="82.6" r="2.6"/><circle cx="993.6" cy="84.2" r="2.6"/><circle cx="993.6" cy="85.8" r="2.6"/></g>
<g fill="#b0b0b0" fill-opacity="0.6"><circle cx="993.6" cy="130.0" r="2.6"/><circle cx="993.6" cy="131.6" r="2.6"/><circle cx="993.6" cy="133.2" r="2.6"/><circle cx="993.6" cy="134.8" r="2.6"/><circle cx="993.6" cy="136.4" r="2.6"/><circle cx="993.6" cy="138.0" r="2.6"/><circle cx="993.6" cy="139.6" r="2.6"/><circle cx="993.6" cy="141.2" r="2.6"/><circle cx="993.6" cy="142.8" r="2.6"/><circle cx="993.6" cy="144.4" r="2.6"/><circle cx="993.6" cy="146.0" r="2.6"/><circle cx="993.6" cy="147.6" r="2.6"/><circle cx="993.6" cy="149.2" r="2.6"/><circle cx="993.6" cy="150.8" r="2.6"/><circle cx="993.6" cy="152.4" r="2.6"/><circle cx="993.6" cy="154.0" r="2.6"/><circle cx="993.6" cy="155.6" r="2.6"/><circle cx="993.6" cy="157.2" r="2.6"/><circle cx="993.6" cy="158.8" r="2.6"/><circle cx="993.6" cy="160.4" r="2.6"/></g>
<g fill="#b0b0b0" fill-opacity="0.6"><circle cx="993.6" cy="166.0" r="2.6"/><circle cx="993.6" cy="202.5" r="2.6"/><circle cx="993.6" cy="210.0" r="2.6"/></g>
<path d="M993.6,93.4 L994.9,95.0 L997.1,96.5 L1000.3,98.2 L1004.6,99.8 L1011.2,101.1 L1017.6,102.4 L1021.7,103.7 L1023.6,105.0 L1022.1,106.5 L1019.1,108.0 L1016.1,109.8 L1013.1,111.5 L1011.0,112.8 L1009.2,114.0 L1007.5,115.3 L1005.9,116.7 L1004.4,118.0 L1003.0,119.3 L1001.8,120.6 L1000.6,121.9 L999.5,123.2 L998.4,124.5 L997.6,125.8 L996.6,127.0 L995.0,128.3 L993.6,129.7 L993.6,129.7 L992.2,128.3 L990.6,127.0 L989.6,125.8 L988.8,124.5 L987.7,123.2 L986.6,121.9 L985.4,120.6 L984.2,119.3 L982.8,118.0 L981.3,116.7 L979.7,115.3 L978.0,114.0 L976.2,112.8 L974.1,111.5 L971.1,109.8 L968.1,108.0 L965.1,106.5 L963.6,105.0 L965.5,103.7 L969.6,102.4 L976.0,101.1 L982.6,99.8 L986.9,98.2 L990.1,96.5 L992.3,95.0 L993.6,93.4Z" fill="#178b8b" fill-opacity="1"/>
<line x1="993.60" y1="92.40" x2="993.60" y2="130.70" stroke="#cfdcdc" stroke-width="1.2" />
<rect x="988.80" y="103.00" width="9.60" height="11.00" fill="none" stroke="#cfdcdc" stroke-width="1.3" />
<rect x="990.00" y="108.30" width="7.20" height="4.40" fill="#0e4a4a" stroke="none" stroke-width="1" />
<line x1="989.40" y1="106.30" x2="997.80" y2="106.30" stroke="#cfdcdc" stroke-width="2.2" />
<line x1="1084.60" y1="90.80" x2="1084.60" y2="160.00" stroke="#c6c6c6" stroke-width="1.2" />
<g fill="#b0b0b0" fill-opacity="0.6"><circle cx="1084.6" cy="159.5" r="2.6"/><circle cx="1084.6" cy="161.1" r="2.6"/><circle cx="1084.6" cy="162.7" r="2.6"/><circle cx="1084.6" cy="164.3" r="2.6"/><circle cx="1084.6" cy="165.9" r="2.6"/><circle cx="1084.6" cy="167.5" r="2.6"/><circle cx="1084.6" cy="169.1" r="2.6"/><circle cx="1084.6" cy="170.7" r="2.6"/><circle cx="1084.6" cy="172.3" r="2.6"/><circle cx="1084.6" cy="173.9" r="2.6"/><circle cx="1084.6" cy="175.5" r="2.6"/><circle cx="1084.6" cy="177.1" r="2.6"/><circle cx="1084.6" cy="178.7" r="2.6"/><circle cx="1084.6" cy="180.3" r="2.6"/><circle cx="1084.6" cy="181.9" r="2.6"/><circle cx="1084.6" cy="183.5" r="2.6"/><circle cx="1084.6" cy="185.1" r="2.6"/><circle cx="1084.6" cy="186.7" r="2.6"/><circle cx="1084.6" cy="188.3" r="2.6"/><circle cx="1084.6" cy="189.9" r="2.6"/><circle cx="1084.6" cy="191.5" r="2.6"/></g>
<g fill="#b0b0b0" fill-opacity="0.6"><circle cx="1084.6" cy="73.4" r="2.6"/><circle cx="1084.6" cy="222.6" r="2.6"/></g>
<path d="M1084.6,97.3 L1086.2,98.7 L1088.4,100.0 L1090.7,101.8 L1093.0,103.7 L1094.5,105.5 L1095.9,107.2 L1097.1,109.0 L1098.3,111.0 L1099.1,113.0 L1099.6,114.8 L1099.9,116.7 L1099.9,118.6 L1099.6,120.5 L1099.3,122.5 L1098.6,124.5 L1097.7,126.2 L1096.6,128.0 L1095.6,129.7 L1094.4,131.6 L1093.4,133.5 L1092.4,135.4 L1091.5,137.4 L1090.4,139.2 L1089.4,141.0 L1088.6,143.0 L1087.8,145.0 L1087.3,146.7 L1086.7,148.3 L1086.2,150.0 L1085.6,151.9 L1085.0,153.7 L1084.6,155.6 L1084.6,155.6 L1084.2,153.7 L1083.6,151.9 L1083.0,150.0 L1082.5,148.3 L1081.9,146.7 L1081.4,145.0 L1080.6,143.0 L1079.8,141.0 L1078.8,139.2 L1077.7,137.4 L1076.8,135.4 L1075.8,133.5 L1074.8,131.6 L1073.6,129.7 L1072.6,128.0 L1071.5,126.2 L1070.6,124.5 L1069.9,122.5 L1069.6,120.5 L1069.3,118.6 L1069.3,116.7 L1069.6,114.8 L1070.1,113.0 L1070.9,111.0 L1072.1,109.0 L1073.3,107.2 L1074.7,105.5 L1076.2,103.7 L1078.5,101.8 L1080.8,100.0 L1083.0,98.7 L1084.6,97.3Z" fill="#178b8b" fill-opacity="1"/>
<line x1="1084.60" y1="96.30" x2="1084.60" y2="156.60" stroke="#cfdcdc" stroke-width="1.2" />
<rect x="1079.80" y="112.80" width="9.60" height="19.50" fill="none" stroke="#cfdcdc" stroke-width="1.3" />
<rect x="1081.00" y="123.40" width="7.20" height="4.40" fill="#0e4a4a" stroke="none" stroke-width="1" />
<line x1="1080.40" y1="120.60" x2="1088.80" y2="120.60" stroke="#cfdcdc" stroke-width="2.2" />
<line x1="1176.20" y1="102.00" x2="1176.20" y2="175.00" stroke="#c6c6c6" stroke-width="1.2" />
<g fill="#b0b0b0" fill-opacity="0.6"><circle cx="1176.2" cy="83.0" r="2.6"/><circle cx="1176.2" cy="84.6" r="2.6"/><circle cx="1176.2" cy="86.2" r="2.6"/><circle cx="1176.2" cy="87.8" r="2.6"/><circle cx="1176.2" cy="89.4" r="2.6"/><circle cx="1176.2" cy="91.0" r="2.6"/><circle cx="1176.2" cy="92.6" r="2.6"/><circle cx="1176.2" cy="94.2" r="2.6"/><circle cx="1176.2" cy="95.8" r="2.6"/><circle cx="1176.2" cy="97.4" r="2.6"/><circle cx="1176.2" cy="99.0" r="2.6"/><circle cx="1176.2" cy="100.6" r="2.6"/><circle cx="1176.2" cy="102.2" r="2.6"/></g>
<g fill="#b0b0b0" fill-opacity="0.6"><circle cx="1176.2" cy="175.0" r="2.6"/><circle cx="1176.2" cy="176.6" r="2.6"/><circle cx="1176.2" cy="178.2" r="2.6"/><circle cx="1176.2" cy="179.8" r="2.6"/><circle cx="1176.2" cy="181.4" r="2.6"/><circle cx="1176.2" cy="183.0" r="2.6"/><circle cx="1176.2" cy="184.6" r="2.6"/><circle cx="1176.2" cy="186.2" r="2.6"/><circle cx="1176.2" cy="187.8" r="2.6"/><circle cx="1176.2" cy="189.4" r="2.6"/><circle cx="1176.2" cy="191.0" r="2.6"/><circle cx="1176.2" cy="192.6" r="2.6"/><circle cx="1176.2" cy="194.2" r="2.6"/><circle cx="1176.2" cy="195.8" r="2.6"/><circle cx="1176.2" cy="197.4" r="2.6"/><circle cx="1176.2" cy="199.0" r="2.6"/><circle cx="1176.2" cy="200.6" r="2.6"/><circle cx="1176.2" cy="202.2" r="2.6"/><circle cx="1176.2" cy="203.8" r="2.6"/><circle cx="1176.2" cy="205.4" r="2.6"/><circle cx="1176.2" cy="207.0" r="2.6"/><circle cx="1176.2" cy="208.6" r="2.6"/><circle cx="1176.2" cy="210.2" r="2.6"/><circle cx="1176.2" cy="211.8" r="2.6"/><circle cx="1176.2" cy="213.4" r="2.6"/><circle cx="1176.2" cy="215.0" r="2.6"/><circle cx="1176.2" cy="216.6" r="2.6"/><circle cx="1176.2" cy="218.2" r="2.6"/><circle cx="1176.2" cy="219.8" r="2.6"/><circle cx="1176.2" cy="221.4" r="2.6"/><circle cx="1176.2" cy="223.0" r="2.6"/><circle cx="1176.2" cy="224.6" r="2.6"/><circle cx="1176.2" cy="226.2" r="2.6"/><circle cx="1176.2" cy="227.8" r="2.6"/><circle cx="1176.2" cy="229.4" r="2.6"/><circle cx="1176.2" cy="231.0" r="2.6"/><circle cx="1176.2" cy="232.6" r="2.6"/><circle cx="1176.2" cy="234.2" r="2.6"/><circle cx="1176.2" cy="235.8" r="2.6"/></g>
<g fill="#b0b0b0" fill-opacity="0.6"><circle cx="1176.2" cy="238.5" r="2.6"/><circle cx="1176.2" cy="241.0" r="2.6"/><circle cx="1176.2" cy="244.5" r="2.6"/><circle cx="1176.2" cy="245.0" r="2.6"/><circle cx="1176.2" cy="308.5" r="2.6"/></g>
<path d="M1176.2,103.7 L1176.8,105.8 L1177.4,108.0 L1177.6,109.5 L1177.7,111.0 L1177.8,112.5 L1178.0,114.0 L1178.2,115.5 L1178.5,117.0 L1178.8,118.5 L1179.2,120.0 L1179.7,121.5 L1180.4,123.0 L1181.2,124.5 L1182.3,126.2 L1183.7,128.0 L1185.2,129.7 L1187.8,131.8 L1190.2,134.0 L1191.5,135.6 L1192.5,137.1 L1193.1,138.7 L1192.9,140.3 L1192.0,142.0 L1190.8,143.5 L1189.2,145.0 L1187.5,147.0 L1185.7,149.0 L1184.1,151.0 L1182.7,153.0 L1181.5,155.0 L1180.5,157.0 L1179.8,158.9 L1179.2,160.8 L1178.7,162.5 L1178.2,164.3 L1177.7,166.0 L1177.4,167.6 L1177.0,169.1 L1176.7,170.7 L1176.4,172.2 L1176.2,173.8 L1176.2,173.8 L1176.0,172.2 L1175.7,170.7 L1175.4,169.1 L1175.0,167.6 L1174.7,166.0 L1174.2,164.3 L1173.7,162.5 L1173.2,160.8 L1172.6,158.9 L1171.9,157.0 L1170.9,155.0 L1169.7,153.0 L1168.3,151.0 L1166.7,149.0 L1164.9,147.0 L1163.2,145.0 L1161.7,143.5 L1160.4,142.0 L1159.5,140.3 L1159.3,138.7 L1159.9,137.1 L1160.9,135.6 L1162.2,134.0 L1164.6,131.8 L1167.2,129.7 L1168.7,128.0 L1170.1,126.2 L1171.2,124.5 L1172.0,123.0 L1172.7,121.5 L1173.2,120.0 L1173.6,118.5 L1173.9,117.0 L1174.2,115.5 L1174.4,114.0 L1174.6,112.5 L1174.7,111.0 L1174.8,109.5 L1175.0,108.0 L1175.6,105.8 L1176.2,103.7Z" fill="#178b8b" fill-opacity="1"/>
<line x1="1176.20" y1="102.70" x2="1176.20" y2="174.80" stroke="#cfdcdc" stroke-width="1.2" />
<rect x="1171.40" y="130.40" width="9.60" height="18.60" fill="none" stroke="#cfdcdc" stroke-width="1.3" />
<rect x="1172.60" y="141.00" width="7.20" height="4.40" fill="#0e4a4a" stroke="none" stroke-width="1" />
<line x1="1172.00" y1="138.70" x2="1180.40" y2="138.70" stroke="#cfdcdc" stroke-width="2.2" />
<line x1="662.30" y1="91.90" x2="665.80" y2="91.90" stroke="#333" stroke-width="1" />
<text x="662.5999999999999" y="98.4" font-size="18.2" text-anchor="end" fill="#1a1a1a" >10</text>
<line x1="662.30" y1="154.40" x2="665.80" y2="154.40" stroke="#333" stroke-width="1" />
<text x="662.5999999999999" y="160.9" font-size="18.2" text-anchor="end" fill="#1a1a1a" >5</text>
<line x1="662.30" y1="216.90" x2="665.80" y2="216.90" stroke="#333" stroke-width="1" />
<text x="662.5999999999999" y="223.4" font-size="18.2" text-anchor="end" fill="#1a1a1a" >0</text>
<line x1="662.30" y1="279.40" x2="665.80" y2="279.40" stroke="#333" stroke-width="1" />
<text x="662.5999999999999" y="285.9" font-size="18.2" text-anchor="end" fill="#1a1a1a" >-5</text>
<line x1="720.50" y1="321.00" x2="720.50" y2="324.50" stroke="#333" stroke-width="1" />
<text x="720.5" y="340.3" font-size="18.2" text-anchor="middle" fill="#1a1a1a" >Hdac1</text>
<text x="720.5" y="362.8" font-size="18.2" text-anchor="middle" fill="#1a1a1a" >all peaks</text>
<line x1="811.60" y1="321.00" x2="811.60" y2="324.50" stroke="#333" stroke-width="1" />
<text x="811.6" y="340.3" font-size="18.2" text-anchor="middle" fill="#1a1a1a" >Cluster I</text>
<text x="811.6" y="362.8" font-size="18.2" text-anchor="middle" fill="#1a1a1a" >peaks</text>
<line x1="902.70" y1="321.00" x2="902.70" y2="324.50" stroke="#333" stroke-width="1" />
<text x="902.7" y="340.3" font-size="18.2" text-anchor="middle" fill="#1a1a1a" >Cluster II</text>
<text x="902.7" y="362.8" font-size="18.2" text-anchor="middle" fill="#1a1a1a" >peaks</text>
<line x1="993.80" y1="321.00" x2="993.80" y2="324.50" stroke="#333" stroke-width="1" />
<text x="993.8" y="340.3" font-size="18.2" text-anchor="middle" fill="#1a1a1a" >Cluster III</text>
<text x="993.8" y="362.8" font-size="18.2" text-anchor="middle" fill="#1a1a1a" >peaks</text>
<line x1="1084.90" y1="321.00" x2="1084.90" y2="324.50" stroke="#333" stroke-width="1" />
<text x="1084.9" y="340.3" font-size="18.2" text-anchor="middle" fill="#1a1a1a" >Cluster IV</text>
<text x="1084.9" y="362.8" font-size="18.2" text-anchor="middle" fill="#1a1a1a" >peaks</text>
<line x1="1176.00" y1="321.00" x2="1176.00" y2="324.50" stroke="#333" stroke-width="1" />
<text x="1180.5" y="340.3" font-size="18.2" text-anchor="middle" fill="#1a1a1a" >Randomized</text>
<text x="1180.5" y="362.8" font-size="18.2" text-anchor="middle" fill="#1a1a1a" >regions</text>
<text x="944.3" y="33.7" font-size="18.5" text-anchor="middle" fill="#1a1a1a" >pan-H3Kac signal differences (TSA-DMSO) in AC explants</text>
<text x="641.5" y="190" font-size="18.05" text-anchor="middle" fill="#1a1a1a" transform="rotate(-90 641.5 190)" >Log2(pan-H3Kac counts difference)</text>
<text x="948" y="59.599999999999994" font-size="18.3" text-anchor="middle" fill="#1a1a1a" >p= 7.3e-4</text>
<path d="M904.3,72.5 V66.8 H994.6 V72.5" fill="none" stroke="#111" stroke-width="1.7"/>
<rect x="665.80" y="39.30" width="565.10" height="281.70" fill="none" stroke="#5e5e5e" stroke-width="1.0" />
<text x="623" y="400.6" font-size="28" text-anchor="start" fill="#111" font-weight="bold" >F</text>
<line x1="665.80" y1="651.80" x2="1230.90" y2="651.80" stroke="#e03030" stroke-width="1.2" stroke-dasharray="1.6 3.2"/>
<line x1="720.80" y1="473.70" x2="720.80" y2="552.00" stroke="#c6c6c6" stroke-width="1.2" />
<g fill="#b0b0b0" fill-opacity="0.6"><circle cx="720.8" cy="552.0" r="2.6"/><circle cx="720.8" cy="553.6" r="2.6"/><circle cx="720.8" cy="555.2" r="2.6"/><circle cx="720.8" cy="556.8" r="2.6"/><circle cx="720.8" cy="558.4" r="2.6"/><circle cx="720.8" cy="560.0" r="2.6"/><circle cx="720.8" cy="561.6" r="2.6"/><circle cx="720.8" cy="563.2" r="2.6"/><circle cx="720.8" cy="564.8" r="2.6"/><circle cx="720.8" cy="566.4" r="2.6"/><circle cx="720.8" cy="568.0" r="2.6"/><circle cx="720.8" cy="569.6" r="2.6"/><circle cx="720.8" cy="571.2" r="2.6"/><circle cx="720.8" cy="572.8" r="2.6"/><circle cx="720.8" cy="574.4" r="2.6"/><circle cx="720.8" cy="576.0" r="2.6"/><circle cx="720.8" cy="577.6" r="2.6"/><circle cx="720.8" cy="579.2" r="2.6"/><circle cx="720.8" cy="580.8" r="2.6"/><circle cx="720.8" cy="582.4" r="2.6"/><circle cx="720.8" cy="584.0" r="2.6"/><circle cx="720.8" cy="585.6" r="2.6"/><circle cx="720.8" cy="587.2" r="2.6"/><circle cx="720.8" cy="588.8" r="2.6"/><circle cx="720.8" cy="590.4" r="2.6"/><circle cx="720.8" cy="592.0" r="2.6"/><circle cx="720.8" cy="593.6" r="2.6"/><circle cx="720.8" cy="595.2" r="2.6"/><circle cx="720.8" cy="596.8" r="2.6"/><circle cx="720.8" cy="598.4" r="2.6"/><circle cx="720.8" cy="600.0" r="2.6"/><circle cx="720.8" cy="601.6" r="2.6"/><circle cx="720.8" cy="603.2" r="2.6"/><circle cx="720.8" cy="604.8" r="2.6"/><circle cx="720.8" cy="606.4" r="2.6"/><circle cx="720.8" cy="608.0" r="2.6"/><circle cx="720.8" cy="609.6" r="2.6"/><circle cx="720.8" cy="611.2" r="2.6"/><circle cx="720.8" cy="612.8" r="2.6"/><circle cx="720.8" cy="614.4" r="2.6"/><circle cx="720.8" cy="616.0" r="2.6"/><circle cx="720.8" cy="617.6" r="2.6"/><circle cx="720.8" cy="619.2" r="2.6"/><circle cx="720.8" cy="620.8" r="2.6"/><circle cx="720.8" cy="622.4" r="2.6"/><circle cx="720.8" cy="624.0" r="2.6"/><circle cx="720.8" cy="625.6" r="2.6"/><circle cx="720.8" cy="627.2" r="2.6"/><circle cx="720.8" cy="628.8" r="2.6"/><circle cx="720.8" cy="630.4" r="2.6"/></g>
<g fill="#b0b0b0" fill-opacity="0.6"><circle cx="720.8" cy="443.4" r="2.6"/><circle cx="720.8" cy="633.0" r="2.6"/><circle cx="720.8" cy="636.0" r="2.6"/><circle cx="720.8" cy="639.7" r="2.6"/></g>
<path d="M720.8,488.0 L722.4,489.2 L724.8,490.5 L728.1,491.9 L731.8,493.2 L735.3,495.1 L738.3,497.0 L739.8,498.8 L740.9,500.5 L741.5,502.3 L741.3,504.1 L740.6,506.0 L740.0,508.0 L739.3,510.0 L738.6,511.7 L737.8,513.3 L737.0,515.0 L736.2,516.8 L735.3,518.6 L734.4,520.4 L733.5,522.1 L732.7,523.9 L731.8,525.6 L730.9,527.3 L730.1,529.1 L729.2,530.8 L728.4,532.5 L727.6,534.3 L726.8,536.0 L726.1,537.7 L725.5,539.5 L724.8,541.2 L724.1,542.8 L723.5,544.4 L722.8,546.0 L722.1,547.8 L721.3,549.7 L720.8,551.5 L720.8,551.5 L720.3,549.7 L719.5,547.8 L718.8,546.0 L718.1,544.4 L717.5,542.8 L716.8,541.2 L716.1,539.5 L715.5,537.7 L714.8,536.0 L714.0,534.3 L713.2,532.5 L712.4,530.8 L711.5,529.1 L710.7,527.3 L709.8,525.6 L708.9,523.9 L708.1,522.1 L707.2,520.4 L706.3,518.6 L705.4,516.8 L704.6,515.0 L703.8,513.3 L703.0,511.7 L702.3,510.0 L701.6,508.0 L701.0,506.0 L700.3,504.1 L700.1,502.3 L700.7,500.5 L701.8,498.8 L703.3,497.0 L706.3,495.1 L709.8,493.2 L713.5,491.9 L716.8,490.5 L719.2,489.2 L720.8,488.0Z" fill="#178b8b" fill-opacity="1"/>
<line x1="720.80" y1="487.00" x2="720.80" y2="552.50" stroke="#cfdcdc" stroke-width="1.2" />
<rect x="716.00" y="501.70" width="9.60" height="21.80" fill="none" stroke="#cfdcdc" stroke-width="1.3" />
<rect x="717.20" y="512.30" width="7.20" height="4.40" fill="#0e4a4a" stroke="none" stroke-width="1" />
<line x1="716.60" y1="510.00" x2="725.00" y2="510.00" stroke="#cfdcdc" stroke-width="2.2" />
<line x1="812.10" y1="483.00" x2="812.10" y2="521.00" stroke="#c6c6c6" stroke-width="1.2" />
<g fill="#b0b0b0" fill-opacity="0.6"><circle cx="812.1" cy="475.0" r="2.6"/><circle cx="812.1" cy="476.6" r="2.6"/><circle cx="812.1" cy="478.2" r="2.6"/><circle cx="812.1" cy="479.8" r="2.6"/><circle cx="812.1" cy="481.4" r="2.6"/></g>
<g fill="#b0b0b0" fill-opacity="0.6"><circle cx="812.1" cy="516.5" r="2.6"/><circle cx="812.1" cy="518.1" r="2.6"/><circle cx="812.1" cy="519.7" r="2.6"/><circle cx="812.1" cy="521.3" r="2.6"/><circle cx="812.1" cy="522.9" r="2.6"/><circle cx="812.1" cy="524.5" r="2.6"/><circle cx="812.1" cy="526.1" r="2.6"/><circle cx="812.1" cy="527.7" r="2.6"/><circle cx="812.1" cy="529.3" r="2.6"/><circle cx="812.1" cy="530.9" r="2.6"/><circle cx="812.1" cy="532.5" r="2.6"/><circle cx="812.1" cy="534.1" r="2.6"/><circle cx="812.1" cy="535.7" r="2.6"/><circle cx="812.1" cy="537.3" r="2.6"/><circle cx="812.1" cy="538.9" r="2.6"/><circle cx="812.1" cy="540.5" r="2.6"/><circle cx="812.1" cy="542.1" r="2.6"/><circle cx="812.1" cy="543.7" r="2.6"/><circle cx="812.1" cy="545.3" r="2.6"/></g>
<g fill="#b0b0b0" fill-opacity="0.6"><circle cx="812.1" cy="443.4" r="2.6"/><circle cx="812.1" cy="549.0" r="2.6"/><circle cx="812.1" cy="555.4" r="2.6"/></g>
<path d="M812.1,485.4 L813.8,486.9 L817.1,488.5 L822.9,490.2 L830.1,491.9 L838.5,493.2 L846.1,494.5 L850.3,496.2 L852.1,497.9 L851.1,498.9 L848.6,500.0 L846.0,501.1 L843.1,502.3 L839.8,503.6 L836.6,505.0 L834.0,506.2 L831.5,507.4 L829.0,508.7 L826.6,510.0 L824.5,511.3 L822.5,512.6 L820.6,513.8 L818.9,515.0 L817.5,516.4 L816.1,517.8 L813.9,519.1 L812.1,520.4 L812.1,520.4 L810.3,519.1 L808.1,517.8 L806.7,516.4 L805.3,515.0 L803.6,513.8 L801.7,512.6 L799.7,511.3 L797.6,510.0 L795.2,508.7 L792.7,507.4 L790.2,506.2 L787.6,505.0 L784.4,503.6 L781.1,502.3 L778.2,501.1 L775.6,500.0 L773.1,498.9 L772.1,497.9 L773.9,496.2 L778.1,494.5 L785.7,493.2 L794.1,491.9 L801.3,490.2 L807.1,488.5 L810.4,486.9 L812.1,485.4Z" fill="#178b8b" fill-opacity="1"/>
<line x1="812.10" y1="484.40" x2="812.10" y2="521.40" stroke="#cfdcdc" stroke-width="1.2" />
<rect x="807.30" y="495.80" width="9.60" height="9.10" fill="none" stroke="#cfdcdc" stroke-width="1.3" />
<rect x="808.50" y="499.30" width="7.20" height="4.40" fill="#0e4a4a" stroke="none" stroke-width="1" />
<line x1="807.90" y1="499.10" x2="816.30" y2="499.10" stroke="#cfdcdc" stroke-width="2.2" />
<line x1="902.90" y1="489.00" x2="902.90" y2="535.00" stroke="#c6c6c6" stroke-width="1.2" />
<g fill="#b0b0b0" fill-opacity="0.6"><circle cx="902.9" cy="533.4" r="2.6"/><circle cx="902.9" cy="535.0" r="2.6"/><circle cx="902.9" cy="536.6" r="2.6"/><circle cx="902.9" cy="538.2" r="2.6"/><circle cx="902.9" cy="539.8" r="2.6"/><circle cx="902.9" cy="541.4" r="2.6"/><circle cx="902.9" cy="543.0" r="2.6"/><circle cx="902.9" cy="544.6" r="2.6"/><circle cx="902.9" cy="546.2" r="2.6"/><circle cx="902.9" cy="547.8" r="2.6"/><circle cx="902.9" cy="549.4" r="2.6"/><circle cx="902.9" cy="551.0" r="2.6"/><circle cx="902.9" cy="552.6" r="2.6"/><circle cx="902.9" cy="554.2" r="2.6"/><circle cx="902.9" cy="555.8" r="2.6"/><circle cx="902.9" cy="557.4" r="2.6"/><circle cx="902.9" cy="559.0" r="2.6"/><circle cx="902.9" cy="560.6" r="2.6"/></g>
<g fill="#b0b0b0" fill-opacity="0.6"><circle cx="902.9" cy="565.8" r="2.6"/><circle cx="902.9" cy="573.4" r="2.6"/><circle cx="902.9" cy="580.0" r="2.6"/></g>
<path d="M902.9,489.8 L904.9,491.6 L907.9,493.5 L911.7,495.2 L915.9,497.0 L919.9,498.4 L923.9,499.7 L928.3,501.6 L931.4,503.6 L930.8,505.3 L928.9,507.0 L927.4,508.5 L925.6,510.0 L923.3,512.0 L920.9,514.0 L919.0,515.9 L917.2,517.8 L915.5,519.6 L913.9,521.5 L912.3,523.5 L910.9,525.6 L909.7,526.8 L908.7,528.0 L907.9,529.4 L906.9,530.8 L904.8,532.8 L902.9,534.7 L902.9,534.7 L901.0,532.8 L898.9,530.8 L897.9,529.4 L897.1,528.0 L896.1,526.8 L894.9,525.6 L893.5,523.5 L891.9,521.5 L890.3,519.6 L888.6,517.8 L886.8,515.9 L884.9,514.0 L882.5,512.0 L880.2,510.0 L878.4,508.5 L876.9,507.0 L875.0,505.3 L874.4,503.6 L877.5,501.6 L881.9,499.7 L885.9,498.4 L889.9,497.0 L894.1,495.2 L897.9,493.5 L900.9,491.6 L902.9,489.8Z" fill="#178b8b" fill-opacity="1"/>
<line x1="902.90" y1="488.80" x2="902.90" y2="535.70" stroke="#cfdcdc" stroke-width="1.2" />
<rect x="898.10" y="502.30" width="9.60" height="13.40" fill="none" stroke="#cfdcdc" stroke-width="1.3" />
<rect x="899.30" y="508.90" width="7.20" height="4.40" fill="#0e4a4a" stroke="none" stroke-width="1" />
<line x1="898.70" y1="508.70" x2="907.10" y2="508.70" stroke="#cfdcdc" stroke-width="2.2" />
<line x1="994.40" y1="484.10" x2="994.40" y2="549.00" stroke="#c6c6c6" stroke-width="1.2" />
<g fill="#b0b0b0" fill-opacity="0.6"><circle cx="994.4" cy="549.0" r="2.6"/><circle cx="994.4" cy="550.6" r="2.6"/><circle cx="994.4" cy="552.2" r="2.6"/><circle cx="994.4" cy="553.8" r="2.6"/><circle cx="994.4" cy="555.4" r="2.6"/><circle cx="994.4" cy="557.0" r="2.6"/><circle cx="994.4" cy="558.6" r="2.6"/><circle cx="994.4" cy="560.2" r="2.6"/></g>
<g fill="#b0b0b0" fill-opacity="0.6"><circle cx="994.4" cy="568.0" r="2.6"/><circle cx="994.4" cy="576.0" r="2.6"/><circle cx="994.4" cy="601.0" r="2.6"/><circle cx="994.4" cy="624.6" r="2.6"/></g>
<path d="M994.4,489.3 L995.9,490.6 L997.9,492.0 L999.7,493.2 L1002.2,494.5 L1006.7,496.4 L1011.3,498.4 L1013.8,500.1 L1015.9,501.9 L1017.1,503.6 L1016.5,505.3 L1014.9,507.0 L1013.8,508.5 L1012.6,510.0 L1011.2,512.0 L1009.7,514.0 L1008.4,515.9 L1007.1,517.8 L1006.0,519.6 L1004.9,521.5 L1004.0,523.5 L1003.0,525.6 L1002.2,527.4 L1001.2,529.2 L1000.4,531.0 L999.7,532.7 L999.1,534.3 L998.4,536.0 L997.9,537.5 L997.3,539.0 L996.7,540.5 L996.2,542.0 L995.5,543.9 L994.9,545.7 L994.4,547.6 L994.4,547.6 L993.9,545.7 L993.3,543.9 L992.6,542.0 L992.1,540.5 L991.5,539.0 L990.9,537.5 L990.4,536.0 L989.7,534.3 L989.1,532.7 L988.4,531.0 L987.6,529.2 L986.6,527.4 L985.8,525.6 L984.8,523.5 L983.9,521.5 L982.8,519.6 L981.7,517.8 L980.4,515.9 L979.1,514.0 L977.6,512.0 L976.2,510.0 L975.0,508.5 L973.9,507.0 L972.3,505.3 L971.7,503.6 L972.9,501.9 L975.0,500.1 L977.5,498.4 L982.1,496.4 L986.6,494.5 L989.1,493.2 L990.9,492.0 L992.9,490.6 L994.4,489.3Z" fill="#178b8b" fill-opacity="1"/>
<line x1="994.40" y1="488.30" x2="994.40" y2="548.60" stroke="#cfdcdc" stroke-width="1.2" />
<rect x="989.60" y="502.30" width="9.60" height="18.10" fill="none" stroke="#cfdcdc" stroke-width="1.3" />
<rect x="990.80" y="511.00" width="7.20" height="4.40" fill="#0e4a4a" stroke="none" stroke-width="1" />
<line x1="990.20" y1="510.00" x2="998.60" y2="510.00" stroke="#cfdcdc" stroke-width="2.2" />
<line x1="1085.20" y1="480.00" x2="1085.20" y2="578.00" stroke="#c6c6c6" stroke-width="1.2" />
<g fill="#b0b0b0" fill-opacity="0.6"><circle cx="1085.2" cy="578.0" r="2.6"/><circle cx="1085.2" cy="579.6" r="2.6"/><circle cx="1085.2" cy="581.2" r="2.6"/><circle cx="1085.2" cy="582.8" r="2.6"/><circle cx="1085.2" cy="584.4" r="2.6"/><circle cx="1085.2" cy="586.0" r="2.6"/><circle cx="1085.2" cy="587.6" r="2.6"/><circle cx="1085.2" cy="589.2" r="2.6"/><circle cx="1085.2" cy="590.8" r="2.6"/><circle cx="1085.2" cy="592.4" r="2.6"/><circle cx="1085.2" cy="594.0" r="2.6"/><circle cx="1085.2" cy="595.6" r="2.6"/><circle cx="1085.2" cy="597.2" r="2.6"/><circle cx="1085.2" cy="598.8" r="2.6"/><circle cx="1085.2" cy="600.4" r="2.6"/><circle cx="1085.2" cy="602.0" r="2.6"/><circle cx="1085.2" cy="603.6" r="2.6"/><circle cx="1085.2" cy="605.2" r="2.6"/><circle cx="1085.2" cy="606.8" r="2.6"/><circle cx="1085.2" cy="608.4" r="2.6"/><circle cx="1085.2" cy="610.0" r="2.6"/><circle cx="1085.2" cy="611.6" r="2.6"/><circle cx="1085.2" cy="613.2" r="2.6"/><circle cx="1085.2" cy="614.8" r="2.6"/></g>
<g fill="#b0b0b0" fill-opacity="0.6"><circle cx="1085.2" cy="473.7" r="2.6"/><circle cx="1085.2" cy="620.0" r="2.6"/><circle cx="1085.2" cy="625.0" r="2.6"/><circle cx="1085.2" cy="631.0" r="2.6"/><circle cx="1085.2" cy="636.0" r="2.6"/><circle cx="1085.2" cy="640.0" r="2.6"/></g>
<path d="M1085.2,495.8 L1086.9,497.9 L1089.0,500.0 L1090.3,501.6 L1091.7,503.3 L1093.0,504.9 L1093.8,506.4 L1094.7,508.0 L1095.5,509.5 L1096.3,511.1 L1096.9,512.6 L1097.6,514.4 L1098.1,516.2 L1098.5,518.0 L1098.8,519.7 L1099.0,521.3 L1099.1,523.0 L1099.0,524.8 L1098.8,526.5 L1098.5,528.2 L1098.2,530.0 L1097.8,531.5 L1097.3,533.0 L1096.9,534.5 L1096.4,536.0 L1095.9,537.7 L1095.4,539.3 L1094.9,541.0 L1094.3,542.8 L1093.6,544.5 L1093.0,546.3 L1092.4,548.0 L1091.8,549.8 L1091.2,551.5 L1090.7,553.2 L1090.2,555.0 L1089.7,556.7 L1089.1,558.5 L1088.5,560.2 L1088.0,562.0 L1087.5,563.7 L1087.1,565.3 L1086.7,567.0 L1086.4,568.5 L1086.2,570.0 L1085.9,571.5 L1085.6,573.0 L1085.4,574.5 L1085.2,576.0 L1085.2,576.0 L1085.0,574.5 L1084.8,573.0 L1084.5,571.5 L1084.2,570.0 L1084.0,568.5 L1083.7,567.0 L1083.3,565.3 L1082.9,563.7 L1082.4,562.0 L1081.9,560.2 L1081.3,558.5 L1080.7,556.7 L1080.2,555.0 L1079.7,553.2 L1079.2,551.5 L1078.6,549.8 L1078.0,548.0 L1077.4,546.3 L1076.8,544.5 L1076.1,542.8 L1075.5,541.0 L1075.0,539.3 L1074.5,537.7 L1074.0,536.0 L1073.5,534.5 L1073.1,533.0 L1072.6,531.5 L1072.2,530.0 L1071.9,528.2 L1071.6,526.5 L1071.4,524.8 L1071.3,523.0 L1071.4,521.3 L1071.6,519.7 L1071.9,518.0 L1072.3,516.2 L1072.8,514.4 L1073.5,512.6 L1074.1,511.1 L1074.9,509.5 L1075.7,508.0 L1076.6,506.4 L1077.4,504.9 L1078.7,503.3 L1080.1,501.6 L1081.4,500.0 L1083.5,497.9 L1085.2,495.8Z" fill="#178b8b" fill-opacity="1"/>
<line x1="1085.20" y1="494.80" x2="1085.20" y2="577.00" stroke="#cfdcdc" stroke-width="1.2" />
<rect x="1080.40" y="514.00" width="9.60" height="26.60" fill="none" stroke="#cfdcdc" stroke-width="1.3" />
<rect x="1081.60" y="527.10" width="7.20" height="4.40" fill="#0e4a4a" stroke="none" stroke-width="1" />
<line x1="1081.00" y1="526.40" x2="1089.40" y2="526.40" stroke="#cfdcdc" stroke-width="2.2" />
<line x1="1176.70" y1="500.00" x2="1176.70" y2="593.00" stroke="#c6c6c6" stroke-width="1.2" />
<g fill="#b0b0b0" fill-opacity="0.6"><circle cx="1176.7" cy="485.4" r="2.6"/><circle cx="1176.7" cy="487.0" r="2.6"/><circle cx="1176.7" cy="488.6" r="2.6"/><circle cx="1176.7" cy="490.2" r="2.6"/><circle cx="1176.7" cy="491.8" r="2.6"/><circle cx="1176.7" cy="493.4" r="2.6"/><circle cx="1176.7" cy="495.0" r="2.6"/><circle cx="1176.7" cy="496.6" r="2.6"/><circle cx="1176.7" cy="498.2" r="2.6"/><circle cx="1176.7" cy="499.8" r="2.6"/></g>
<g fill="#b0b0b0" fill-opacity="0.6"><circle cx="1176.7" cy="593.5" r="2.6"/><circle cx="1176.7" cy="595.1" r="2.6"/><circle cx="1176.7" cy="596.7" r="2.6"/><circle cx="1176.7" cy="598.3" r="2.6"/><circle cx="1176.7" cy="599.9" r="2.6"/><circle cx="1176.7" cy="601.5" r="2.6"/><circle cx="1176.7" cy="603.1" r="2.6"/><circle cx="1176.7" cy="604.7" r="2.6"/><circle cx="1176.7" cy="606.3" r="2.6"/><circle cx="1176.7" cy="607.9" r="2.6"/><circle cx="1176.7" cy="609.5" r="2.6"/><circle cx="1176.7" cy="611.1" r="2.6"/><circle cx="1176.7" cy="612.7" r="2.6"/><circle cx="1176.7" cy="614.3" r="2.6"/><circle cx="1176.7" cy="615.9" r="2.6"/><circle cx="1176.7" cy="617.5" r="2.6"/><circle cx="1176.7" cy="619.1" r="2.6"/><circle cx="1176.7" cy="620.7" r="2.6"/><circle cx="1176.7" cy="622.3" r="2.6"/><circle cx="1176.7" cy="623.9" r="2.6"/><circle cx="1176.7" cy="625.5" r="2.6"/><circle cx="1176.7" cy="627.1" r="2.6"/><circle cx="1176.7" cy="628.7" r="2.6"/><circle cx="1176.7" cy="630.3" r="2.6"/><circle cx="1176.7" cy="631.9" r="2.6"/><circle cx="1176.7" cy="633.5" r="2.6"/><circle cx="1176.7" cy="635.1" r="2.6"/><circle cx="1176.7" cy="636.7" r="2.6"/><circle cx="1176.7" cy="638.3" r="2.6"/><circle cx="1176.7" cy="639.9" r="2.6"/><circle cx="1176.7" cy="641.5" r="2.6"/><circle cx="1176.7" cy="643.1" r="2.6"/><circle cx="1176.7" cy="644.7" r="2.6"/><circle cx="1176.7" cy="646.3" r="2.6"/><circle cx="1176.7" cy="647.9" r="2.6"/><circle cx="1176.7" cy="649.5" r="2.6"/><circle cx="1176.7" cy="651.1" r="2.6"/><circle cx="1176.7" cy="652.7" r="2.6"/><circle cx="1176.7" cy="654.3" r="2.6"/><circle cx="1176.7" cy="655.9" r="2.6"/><circle cx="1176.7" cy="657.5" r="2.6"/><circle cx="1176.7" cy="659.1" r="2.6"/><circle cx="1176.7" cy="660.7" r="2.6"/></g>
<g fill="#b0b0b0" fill-opacity="0.6"><circle cx="1176.7" cy="481.0" r="2.6"/><circle cx="1176.7" cy="668.8" r="2.6"/><circle cx="1176.7" cy="674.8" r="2.6"/><circle cx="1176.7" cy="684.9" r="2.6"/><circle cx="1176.7" cy="700.5" r="2.6"/></g>
<path d="M1176.7,501.0 L1176.9,502.5 L1177.2,504.0 L1177.6,505.5 L1177.9,507.0 L1178.1,508.8 L1178.3,510.5 L1178.5,512.2 L1178.7,514.0 L1179.0,515.5 L1179.4,517.0 L1179.8,518.5 L1180.3,520.0 L1181.0,521.9 L1181.8,523.7 L1182.5,525.6 L1183.1,527.4 L1183.7,529.2 L1184.3,531.0 L1184.9,532.7 L1185.6,534.3 L1186.4,536.0 L1187.4,537.7 L1188.6,539.5 L1189.7,541.2 L1190.5,542.8 L1191.3,544.4 L1191.9,546.0 L1192.3,547.6 L1192.0,549.8 L1191.1,552.0 L1190.4,553.6 L1189.6,555.1 L1188.7,556.7 L1187.3,558.6 L1186.0,560.5 L1184.9,562.5 L1183.7,564.5 L1182.8,566.3 L1181.9,568.2 L1181.0,570.0 L1180.5,571.6 L1180.0,573.2 L1179.6,574.8 L1179.1,576.4 L1178.7,578.0 L1178.4,579.5 L1178.0,581.0 L1177.7,582.5 L1177.4,584.0 L1177.1,585.5 L1176.9,587.0 L1176.7,588.5 L1176.7,588.5 L1176.5,587.0 L1176.3,585.5 L1176.0,584.0 L1175.7,582.5 L1175.4,581.0 L1175.0,579.5 L1174.7,578.0 L1174.3,576.4 L1173.8,574.8 L1173.4,573.2 L1172.9,571.6 L1172.4,570.0 L1171.5,568.2 L1170.6,566.3 L1169.7,564.5 L1168.5,562.5 L1167.4,560.5 L1166.1,558.6 L1164.7,556.7 L1163.8,555.1 L1163.0,553.6 L1162.3,552.0 L1161.4,549.8 L1161.1,547.6 L1161.5,546.0 L1162.1,544.4 L1162.9,542.8 L1163.7,541.2 L1164.8,539.5 L1166.0,537.7 L1167.0,536.0 L1167.8,534.3 L1168.5,532.7 L1169.1,531.0 L1169.7,529.2 L1170.3,527.4 L1170.9,525.6 L1171.6,523.7 L1172.4,521.9 L1173.1,520.0 L1173.6,518.5 L1174.0,517.0 L1174.4,515.5 L1174.7,514.0 L1174.9,512.2 L1175.1,510.5 L1175.3,508.8 L1175.5,507.0 L1175.8,505.5 L1176.2,504.0 L1176.5,502.5 L1176.7,501.0Z" fill="#178b8b" fill-opacity="1"/>
<line x1="1176.70" y1="500.00" x2="1176.70" y2="589.50" stroke="#cfdcdc" stroke-width="1.2" />
<rect x="1171.90" y="535.20" width="9.60" height="23.60" fill="none" stroke="#cfdcdc" stroke-width="1.3" />
<rect x="1173.10" y="547.80" width="7.20" height="4.40" fill="#0e4a4a" stroke="none" stroke-width="1" />
<line x1="1172.50" y1="547.10" x2="1180.90" y2="547.10" stroke="#cfdcdc" stroke-width="2.2" />
<line x1="662.30" y1="494.20" x2="665.80" y2="494.20" stroke="#333" stroke-width="1" />
<text x="662.5999999999999" y="500.7" font-size="18.2" text-anchor="end" fill="#1a1a1a" >10</text>
<line x1="662.30" y1="573.00" x2="665.80" y2="573.00" stroke="#333" stroke-width="1" />
<text x="662.5999999999999" y="579.5" font-size="18.2" text-anchor="end" fill="#1a1a1a" >5</text>
<line x1="662.30" y1="651.80" x2="665.80" y2="651.80" stroke="#333" stroke-width="1" />
<text x="662.5999999999999" y="658.3" font-size="18.2" text-anchor="end" fill="#1a1a1a" >0</text>
<line x1="720.50" y1="712.00" x2="720.50" y2="715.50" stroke="#333" stroke-width="1" />
<text x="720.5" y="731.3" font-size="18.2" text-anchor="middle" fill="#1a1a1a" >Hdac1</text>
<text x="720.5" y="753.8" font-size="18.2" text-anchor="middle" fill="#1a1a1a" >all peaks</text>
<line x1="811.60" y1="712.00" x2="811.60" y2="715.50" stroke="#333" stroke-width="1" />
<text x="811.6" y="731.3" font-size="18.2" text-anchor="middle" fill="#1a1a1a" >Cluster I</text>
<text x="811.6" y="753.8" font-size="18.2" text-anchor="middle" fill="#1a1a1a" >peaks</text>
<line x1="902.70" y1="712.00" x2="902.70" y2="715.50" stroke="#333" stroke-width="1" />
<text x="902.7" y="731.3" font-size="18.2" text-anchor="middle" fill="#1a1a1a" >Cluster II</text>
<text x="902.7" y="753.8" font-size="18.2" text-anchor="middle" fill="#1a1a1a" >peaks</text>
<line x1="993.80" y1="712.00" x2="993.80" y2="715.50" stroke="#333" stroke-width="1" />
<text x="993.8" y="731.3" font-size="18.2" text-anchor="middle" fill="#1a1a1a" >Cluster III</text>
<text x="993.8" y="753.8" font-size="18.2" text-anchor="middle" fill="#1a1a1a" >peaks</text>
<line x1="1084.90" y1="712.00" x2="1084.90" y2="715.50" stroke="#333" stroke-width="1" />
<text x="1084.9" y="731.3" font-size="18.2" text-anchor="middle" fill="#1a1a1a" >Cluster IV</text>
<text x="1084.9" y="753.8" font-size="18.2" text-anchor="middle" fill="#1a1a1a" >peaks</text>
<line x1="1176.00" y1="712.00" x2="1176.00" y2="715.50" stroke="#333" stroke-width="1" />
<text x="1180.5" y="731.3" font-size="18.2" text-anchor="middle" fill="#1a1a1a" >Randomized</text>
<text x="1180.5" y="753.8" font-size="18.2" text-anchor="middle" fill="#1a1a1a" >regions</text>
<text x="944.3" y="425.8" font-size="18.5" text-anchor="middle" fill="#1a1a1a" >pan-H3Kac signal differences (TSA-DMSO) in VG explants</text>
<text x="641.5" y="580.6" font-size="18.05" text-anchor="middle" fill="#1a1a1a" transform="rotate(-90 641.5 580.6)" >Log2(pan-H3Kac counts difference)</text>
<text x="948" y="451.8" font-size="18.3" text-anchor="middle" fill="#1a1a1a" >p= 2.1e-6</text>
<path d="M904.3,464.7 V459 H994.6 V464.7" fill="none" stroke="#111" stroke-width="1.7"/>
<rect x="665.80" y="430.80" width="565.10" height="281.20" fill="none" stroke="#5e5e5e" stroke-width="1.0" />
<text x="622.5" y="836" font-size="28.6" text-anchor="start" fill="#111" font-weight="bold" >G</text>
<text x="931.5" y="852.5" font-size="18.5" text-anchor="middle" fill="#1a1a1a" >Cluster I Peaks</text>
<line x1="687.70" y1="857.50" x2="1146.30" y2="857.50" stroke="#111" stroke-width="2.1" />
<line x1="672.40" y1="869.30" x2="675.40" y2="869.30" stroke="#555" stroke-width="1" />
<text x="671.4" y="876.5999999999999" font-size="20.6" text-anchor="end" fill="#1a1a1a" >6</text>
<line x1="672.40" y1="944.00" x2="675.40" y2="944.00" stroke="#555" stroke-width="1" />
<text x="671.4" y="951.3" font-size="20.6" text-anchor="end" fill="#1a1a1a" >4</text>
<line x1="672.40" y1="1018.40" x2="675.40" y2="1018.40" stroke="#555" stroke-width="1" />
<text x="671.4" y="1025.7" font-size="20.6" text-anchor="end" fill="#1a1a1a" >2</text>
<line x1="672.40" y1="1092.80" x2="675.40" y2="1092.80" stroke="#555" stroke-width="1" />
<text x="671.4" y="1100.1" font-size="20.6" text-anchor="end" fill="#1a1a1a" >0</text>
<text x="656.3" y="986.5" font-size="18.4" text-anchor="middle" fill="#1a1a1a" transform="rotate(-90 656.3 986.5)" >Log2(FC of pan-H3Kac in AC)</text>
<path transform="scale(.5)" d="M1374 1816h3m-3 1h3m-3 1h3m-3 8h3m-3 21h3m-3 8h3m-3 17h3m-3 15h3m-3 6h3m-3 13h3m-3 7h3m-3 80h3m-2-170h3m-3 4h3m-3 18h3m-3 12h3m-3 3h3m-3 30h3m-3 42h3m-2-142h3m-3 25h3m-3 18h3m-3 6h3m-3 0h3m-3 3h3m-3 3h3m-3 1h3m-3 16h3m-3 4h3m-3 12h3m-2-85h3m-3 18h3m-3 23h3m-3 6h3m-3 2h3m-3 44h3m-3 8h3m-3 7h3m-3 9h3m-3 61h3m-2-180h3m-3 26h3m-3 32h3m-3 49h3m-3 17h3m-2-44h3m-3 7h3m-3 3h3m-2-54h3m-3 14h3m-3 3h3m-3 18h3m-3 5h3m-3 4h3m-3 33h3m-3 0h3m-3 14h3m-2-113h3m-3 2h3m-3 19h3m-3 3h3m-3 7h3m-3 5h3m-3 9h3m-3 5h3m-3 0h3m-3 11h3m-3 2h3m-3 5h3m-3 10h3m-3 30h3m-2-87h3m-3 5h3m-3 1h3m-3 11h3m-3 13h3m-3 1h3m-3 40h3m-3 57h3m-2-127h3m-3 2h3m-3 3h3m-3 8h3m-3 8h3m-3 6h3m-3 13h3m-3 12h3m-3 7h3m-3 6h3m-3 24h3m-2-79h3m-3 2h3m-3 8h3m-3 17h3m-3 16h3m-3 1h3m-3 0h3m-3 2h3m-3 6h3m-3 12h3m-2-165h3m-3 84h3m-3 12h3m-3 6h3m-3 23h3m-3 9h3m-3 11h3m-3 19h3m-2-75h3m-3 10h3m-3 1h3m-3 7h3m-3 24h3m-3 4h3m-3 13h3m-3 19h3m-3 27h3m-3 12h3m-2-123h3m-3 23h3m-3 2h3m-3 4h3m-3 5h3m-3 5h3m-3 7h3m-3 3h3m-3 10h3m-3 34h3m-2-107h3m-3 6h3m-3 20h3m-3 2h3m-3 15h3m-3 19h3m-3 2h3m-3 22h3m-3 5h3m-3 24h3m-2-93h3m-3 8h3m-3 14h3m-3 16h3m-3 2h3m-3 1h3m-3 3h3m-3 21h3m-3 1h3m-3 3h3m-3 10h3m-3 12h3m-2-154h3m-3 23h3m-3 10h3m-3 18h3m-3 7h3m-3 13h3m-3 8h3m-3 40h3m-3 4h3m-3 11h3m-3 5h3m-3 6h3m-3 2h3m-3 36h3m-2-112h3m-3 1h3m-3 0h3m-3 10h3m-3 4h3m-3 3h3m-3 0h3m-3 4h3m-3 8h3m-3 6h3m-3 7h3m-3 14h3m-3 3h3m-3 15h3m-3 7h3m-3 10h3m-3 9h3m-2-117h3m-3 6h3m-3 12h3m-3 19h3m-3 9h3m-3 13h3m-3 14h3m-3 15h3m-3 37h3m-2-117h3m-3 6h3m-3 6h3m-3 18h3m-3 7h3m-3 2h3m-3 11h3m-3 11h3m-3 5h3m-3 4h3m-3 32h3m-3 12h3m-3 6h3m-2-124h3m-3 18h3m-3 3h3m-3 1h3m-3 49h3m-3 17h3m-2-100h3m-3 23h3m-3 9h3m-3 10h3m-3 2h3m-3 17h3m-3 3h3m-3 3h3m-3 29h3m-3 21h3m-3 16h3m-3 102h3m-2-195h3m-3 7h3m-3 27h3m-3 76h3m-2-122h3m-3 3h3m-3 9h3m-3 15h3m-3 0h3m-3 4h3m-3 7h3m-3 5h3m-3 3h3m-3 13h3m-3 11h3m-2-133h3m-3 42h3m-3 23h3m-3 20h3m-3 6h3m-3 22h3m-3 9h3m-3 19h3m-3 30h3m-2-160h3m-3 12h3m-3 21h3m-3 26h3m-3 14h3m-3 3h3m-3 1h3m-3 3h3m-3 4h3m-3 8h3m-3 0h3m-3 3h3m-3 12h3m-3 10h3m-3 16h3m-3 1h3m-3 36h3m-3 6h3m-2-133h3m-3 35h3m-3 1h3m-3 0h3m-3 5h3m-3 0h3m-3 29h3m-3 2h3m-3 10h3m-3 26h3m-3 1h3m-2-86h3m-3 0h3m-3 13h3m-3 3h3m-3 11h3m-3 6h3m-3 2h3m-3 2h3m-3 20h3m-3 10h3m-3 8h3m-3 5h3m-3 14h3m-2-124h3m-3 7h3m-3 2h3m-3 34h3m-3 6h3m-3 25h3m-3 6h3m-2-67h3m-3 30h3m-3 2h3m-3 12h3m-3 8h3m-3 0h3m-3 62h3m-2-121h3m-3 43h3m-3 16h3m-3 29h3m-2-108h3m-3 12h3m-3 20h3m-3 60h3m-3 6h3m-3 15h3m-3 1h3m-3 42h3m-2-153h3m-3 25h3m-3 2h3m-3 3h3m-3 22h3m-3 17h3m-3 6h3m-3 115h3m-2-176h3m-3 0h3m-3 28h3m-3 8h3m-3 9h3m-3 9h3m-3 3h3m-3 31h3m-3 18h3m-3 86h3m-2-173h3m-3 7h3m-3 11h3m-3 32h3m-3 9h3m-3 8h3m-3 18h3m-3 4h3m-3 2h3m-2-102h3m-3 16h3m-3 7h3m-3 5h3m-3 20h3m-3 6h3m-3 1h3m-3 1h3m-3 2h3m-3 1h3m-3 0h3m-3 8h3m-2-101h3m-3 4h3m-3 54h3m-3 3h3m-3 6h3m-3 7h3m-3 10h3m-3 0h3m-3 8h3m-3 8h3m-3 7h3m-3 10h3m-3 39h3m-2-172h3m-3 87h3m-3 15h3m-3 7h3m-3 4h3m-3 10h3m-3 52h3m-3 107h3m-2-245h3m-3 1h3m-3 20h3m-3 9h3m-3 28h3m-3 32h3m-3 3h3m-3 9h3m-3 65h3m-2-125h3m-3 1h3m-3 6h3m-3 14h3m-3 8h3m-3 7h3m-3 7h3m-3 60h3m-2-97h3m-3 2h3m-3 17h3m-3 0h3m-3 9h3m-3 6h3m-3 9h3m-3 12h3m-2-54h3m-3 21h3m-3 14h3m-3 2h3m-3 82h3m-2-176h3m-3 24h3m-3 10h3m-3 17h3m-3 25h3m-3 13h3m-3 12h3m-3 1h3m-2-49h3m-3 5h3m-3 25h3m-3 2h3m-3 6h3m-3 15h3m-3 0h3m-3 6h3m-3 17h3m-3 15h3m-2-120h3m-3 15h3m-3 7h3m-3 0h3m-3 4h3m-3 15h3m-3 24h3m-3 4h3m-3 4h3m-3 1h3m-3 4h3m-3 31h3m-2-130h3m-3 27h3m-3 12h3m-3 5h3m-3 19h3m-3 1h3m-3 1h3m-3 1h3m-3 3h3m-3 3h3m-3 49h3m-3 8h3m-2-110h3m-3 12h3m-3 14h3m-3 35h3m-3 9h3m-3 4h3m-3 26h3m-2-103h3m-3 6h3m-3 26h3m-3 3h3m-3 1h3m-3 5h3m-3 37h3m-3 4h3m-3 6h3m-3 142h3m-2-263h3m-3 20h3m-3 23h3m-3 9h3m-3 9h3m-3 7h3m-3 22h3m-3 12h3m-3 4h3m-3 7h3m-3 7h3m-3 7h3m-3 14h3m-3 2h3m-2-126h3m-3 13h3m-3 60h3m-3 18h3m-3 2h3m-3 1h3m-3 3h3m-3 10h3m-3 11h3m-3 1h3m-2-64h3m-3 4h3m-3 4h3m-3 1h3m-3 6h3m-3 0h3m-3 1h3m-2-59h3m-3 6h3m-3 1h3m-3 11h3m-3 30h3m-3 10h3m-3 7h3m-3 10h3m-3 4h3m-3 13h3m-3 6h3m-2-53h3m-3 6h3m-3 8h3m-3 5h3m-3 1h3m-3 0h3m-3 4h3m-3 21h3m-3 4h3m-2-77h3m-3 13h3m-3 2h3m-3 6h3m-3 12h3m-3 15h3m-3 35h3m-3 19h3m-3 27h3m-2-113h3m-3 6h3m-3 10h3m-3 1h3m-3 23h3m-3 4h3m-3 15h3m-3 0h3m-2-73h3m-3 12h3m-3 9h3m-3 2h3m-3 10h3m-3 2h3m-3 5h3m-3 3h3m-3 17h3m-3 13h3m-3 99h3m-3 4h3m-2-164h3m-3 20h3m-3 5h3m-3 1h3m-3 5h3m-3 8h3m-3 1h3m-3 4h3m-3 15h3m-3 18h3m-2-66h3m-3 0h3m-3 13h3m-3 20h3m-3 1h3m-3 1h3m-3 18h3m-3 9h3m-2-102h3m-3 26h3m-3 1h3m-3 16h3m-3 1h3m-3 15h3m-3 9h3m-3 1h3m-3 4h3m-3 2h3m-3 8h3m-3 12h3m-3 5h3m-3 50h3m-2-133h3m-3 3h3m-3 16h3m-3 9h3m-3 4h3m-3 14h3m-3 11h3m-3 38h3m-3 4h3m-2-118h3m-3 59h3m-3 14h3m-3 6h3m-3 2h3m-3 81h3m-2-157h3m-3 21h3m-3 1h3m-3 21h3m-3 15h3m-3 4h3m-3 2h3m-3 1h3m-3 6h3m-3 1h3m-3 1h3m-3 7h3m-3 2h3m-3 14h3m-3 27h3m-2-98h3m-3 12h3m-3 2h3m-3 32h3m-3 8h3m-3 3h3m-3 8h3m-3 4h3m-3 3h3m-3 9h3m-3 25h3m-2-103h3m-3 4h3m-3 37h3m-3 1h3m-3 2h3m-3 16h3m-3 6h3m-2-143h3m-3 68h3m-3 4h3m-3 0h3m-3 13h3m-3 18h3m-3 6h3m-3 1h3m-3 5h3m-3 11h3m-3 1h3m-3 68h3m-2-157h3m-3 21h3m-3 47h3m-3 35h3m-3 13h3m-3 6h3m-3 3h3m-3 46h3m-2-134h3m-3 3h3m-3 0h3m-3 8h3m-3 3h3m-3 25h3m-3 26h3m-3 14h3m-3 9h3m-3 2h3m-3 9h3m-3 10h3m-2-121h3m-3 8h3m-3 2h3m-3 4h3m-3 10h3m-3 29h3m-3 2h3m-3 0h3m-3 27h3m-3 5h3m-3 6h3m-3 1h3m-3 13h3m-3 15h3m-2-93h3m-3 15h3m-3 1h3m-3 1h3m-3 18h3m-3 14h3m-3 14h3m-2-132h3m-3 26h3m-3 29h3m-3 8h3m-3 4h3m-3 15h3m-3 1h3m-3 15h3m-3 15h3m-3 3h3m-3 3h3m-3 7h3m-3 21h3m-2-156h3m-3 60h3m-3 2h3m-3 39h3m-3 12h3m-3 1h3m-3 2h3m-3 32h3m-2-62h3m-3 6h3m-3 6h3m-3 10h3m-3 9h3m-3 27h3m-3 22h3m-3 29h3m-2-161h3m-3 33h3m-3 6h3m-3 17h3m-3 0h3m-3 1h3m-3 11h3m-3 32h3m-3 19h3m-2-95h3m-3 12h3m-3 19h3m-3 1h3m-3 0h3m-3 15h3m-3 7h3m-3 17h3m-3 13h3m-3 38h3m-2-197h3m-3 77h3m-3 12h3m-3 6h3m-3 7h3m-3 5h3m-3 9h3m-3 2h3m-3 10h3m-3 10h3m-3 6h3m-3 17h3m-3 20h3m-2-108h3m-3 7h3m-3 1h3m-3 21h3m-3 10h3m-3 1h3m-3 4h3m-3 0h3m-3 0h3m-3 3h3m-3 5h3m-3 6h3m-3 11h3m-3 2h3m-3 18h3m-3 1h3m-3 30h3m-2-137h3m-3 3h3m-3 0h3m-3 3h3m-3 24h3m-3 6h3m-3 11h3m-3 17h3m-3 1h3m-3 15h3m-3 14h3m-3 8h3m-3 3h3m-3 24h3m-3 15h3m-2-127h3m-3 20h3m-3 24h3m-3 0h3m-3 3h3m-3 18h3m-3 10h3m-3 27h3m-3 1h3m-3 82h3m-2-179h3m-3 5h3m-3 34h3m-3 3h3m-3 6h3m-3 19h3m-3 25h3m-3 12h3m-3 1h3m-2-102h3m-3 1h3m-3 3h3m-3 10h3m-3 10h3m-3 12h3m-3 11h3m-3 13h3m-3 8h3m-3 12h3m-2-61h3m-3 0h3m-3 3h3m-3 4h3m-3 25h3m-3 3h3m-3 11h3m-3 1h3m-3 10h3m-3 16h3m-3 24h3m-2-143h3m-3 34h3m-3 18h3m-3 3h3m-3 3h3m-3 10h3m-3 2h3m-3 1h3m-3 7h3m-3 4h3m-3 2h3m-3 3h3m-3 26h3m-3 8h3m-3 31h3m-2-110h3m-3 12h3m-3 3h3m-3 21h3m-3 3h3m-3 17h3m-3 19h3m-3 16h3m-3 27h3m-2-140h3m-3 42h3m-3 2h3m-3 2h3m-3 6h3m-3 7h3m-3 3h3m-3 1h3m-3 2h3m-3 8h3m-3 3h3m-3 7h3m-3 3h3m-3 0h3m-3 1h3m-3 125h3m-2-211h3m-3 7h3m-3 10h3m-3 5h3m-3 22h3m-3 2h3m-3 6h3m-3 16h3m-2-63h3m-3 18h3m-3 6h3m-3 12h3m-3 14h3m-3 23h3m-3 1h3m-2-50h3m-3 7h3m-3 6h3m-3 20h3m-3 10h3m-3 14h3m-3 17h3m-2-79h3m-3 7h3m-3 3h3m-3 6h3m-3 1h3m-3 12h3m-3 1h3m-3 1h3m-3 41h3m-3 56h3m-2-91h3m-3 14h3m-3 2h3m-3 4h3m-3 0h3m-3 7h3m-2-93h3m-3 16h3m-3 10h3m-3 11h3m-3 8h3m-3 3h3m-3 5h3m-3 24h3m-3 5h3m-3 2h3m-3 10h3m-3 12h3m-3 97h3m-2-202h3m-3 31h3m-3 2h3m-3 3h3m-3 21h3m-3 2h3m-3 0h3m-3 1h3m-3 6h3m-3 6h3m-3 3h3m-3 4h3m-3 16h3m-3 35h3m-3 25h3m-3 48h3m-2-214h3m-3 35h3m-3 29h3m-3 7h3m-3 37h3m-3 29h3m-2-74h3m-3 0h3m-3 1h3m-3 3h3m-3 1h3m-3 0h3m-3 0h3m-3 11h3m-3 1h3m-3 19h3m-3 7h3m-3 8h3m-3 4h3m-3 39h3m-2-80h3m-3 30h3m-2-87h3m-3 17h3m-3 13h3m-3 39h3m-3 10h3m-3 32h3m-2-117h3m-3 25h3m-3 31h3m-3 20h3m-3 2h3m-3 1h3m-3 25h3m-3 18h3m-3 27h3m-2-150h3m-3 19h3m-3 18h3m-3 10h3m-3 5h3m-3 2h3m-3 4h3m-3 23h3m-3 11h3m-3 6h3m-2-93h3m-3 14h3m-3 27h3m-3 2h3m-3 2h3m-3 1h3m-3 6h3m-3 1h3m-3 7h3m-3 5h3m-3 35h3m-3 35h3m-2-136h3m-3 46h3m-3 4h3m-3 8h3m-3 2h3m-3 8h3m-3 11h3m-3 1h3m-2-96h3m-3 41h3m-3 9h3m-3 9h3m-3 4h3m-3 8h3m-3 7h3m-3 2h3m-3 1h3m-3 4h3m-3 14h3m-3 1h3m-3 19h3m-2-104h3m-3 39h3m-3 5h3m-3 8h3m-3 6h3m-3 4h3m-3 1h3m-3 0h3m-3 5h3m-3 0h3m-3 7h3m-3 0h3m-3 33h3m-2-92h3m-3 5h3m-3 9h3m-3 5h3m-3 7h3m-3 19h3m-3 4h3m-3 9h3m-3 10h3m-3 18h3m-3 8h3m-3 19h3m-2-108h3m-3 22h3m-3 9h3m-3 5h3m-3 14h3m-3 3h3m-3 3h3m-3 3h3m-3 28h3m-3 7h3m-3 25h3m-2-94h3m-3 17h3m-3 18h3m-3 6h3m-3 0h3m-3 39h3m-2-105h3m-3 23h3m-3 2h3m-3 4h3m-3 3h3m-3 3h3m-3 1h3m-3 3h3m-3 4h3m-3 2h3m-3 0h3m-3 15h3m-3 14h3m-3 11h3m-3 0h3m-3 4h3m-3 1h3m-3 11h3m-2-123h3m-3 23h3m-3 14h3m-3 2h3m-3 5h3m-3 0h3m-3 17h3m-3 1h3m-3 8h3m-3 6h3m-3 1h3m-2-46h3m-3 5h3m-3 5h3m-3 24h3m-3 8h3m-3 14h3m-3 42h3m-2-80h3m-3 11h3m-3 4h3m-3 7h3m-3 2h3m-3 3h3m-3 1h3m-3 8h3m-3 24h3m-3 29h3m-2-93h3m-3 2h3m-3 0h3m-3 8h3m-3 32h3m-3 23h3m-2-128h3m-3 37h3m-3 23h3m-3 0h3m-3 17h3m-3 8h3m-3 0h3m-3 0h3m-3 4h3m-3 7h3m-3 1h3m-3 8h3m-3 25h3m-2-50h3m-3 5h3m-3 2h3m-3 4h3m-3 3h3m-3 16h3m-3 36h3m-3 28h3m-2-132h3m-3 17h3m-3 1h3m-3 15h3m-3 3h3m-3 23h3m-3 37h3m-2-104h3m-3 23h3m-3 15h3m-3 12h3m-3 9h3m-3 1h3m-3 48h3m-2-112h3m-3 34h3m-3 12h3m-3 14h3m-3 1h3m-3 1h3m-3 1h3m-3 4h3m-3 17h3m-2-63h3m-3 18h3m-3 8h3m-3 13h3m-3 8h3m-3 15h3m-3 55h3m-3 1h3m-2-118h3m-3 29h3m-3 11h3m-3 0h3m-3 3h3m-3 1h3m-3 1h3m-3 1h3m-3 2h3m-3 18h3m-3 0h3m-3 3h3m-2-83h3m-3 15h3m-3 23h3m-3 0h3m-3 3h3m-3 1h3m-3 5h3m-3 9h3m-3 10h3m-3 10h3m-3 15h3m-2-82h3m-3 11h3m-3 23h3m-3 4h3m-3 26h3m-3 4h3m-3 42h3m-2-118h3m-3 28h3m-3 6h3m-3 1h3m-3 18h3m-3 4h3m-3 5h3m-3 3h3m-2-51h3m-3 13h3m-3 2h3m-3 2h3m-3 9h3m-3 13h3m-3 7h3m-3 33h3m-2-69h3m-3 65h3m-3 2h3m-3 4h3m-3 45h3m-2-122h3m-3 30h3m-3 10h3m-3 3h3m-3 8h3m-3 0h3m-3 4h3m-3 2h3m-3 25h3m-3 14h3m-2-114h3m-3 13h3m-3 3h3m-3 9h3m-3 34h3m-3 8h3m-3 4h3m-3 6h3m-3 33h3m-3 8h3m-2-103h3m-3 1h3m-3 1h3m-3 12h3m-3 7h3m-3 1h3m-3 3h3m-3 6h3m-3 0h3m-3 1h3m-3 1h3m-3 2h3m-3 3h3m-3 3h3m-3 4h3m-3 5h3m-3 12h3m-3 15h3m-3 4h3m-3 24h3m-2-109h3m-3 12h3m-3 25h3m-3 4h3m-3 4h3m-3 0h3m-3 7h3m-3 3h3m-3 3h3m-3 1h3m-2-39h3m-3 6h3m-3 17h3m-3 2h3m-3 22h3m-3 2h3m-3 3h3m-3 2h3m-3 24h3m-2-75h3m-3 0h3m-3 8h3m-3 11h3m-3 25h3m-3 8h3m-3 3h3m-2-55h3m-3 19h3m-3 4h3m-3 14h3m-3 58h3m-2-110h3m-3 4h3m-3 12h3m-3 6h3m-3 7h3m-3 8h3m-3 33h3m-3 8h3m-3 2h3m-3 2h3m-3 28h3m-3 22h3m-2-142h3m-3 9h3m-3 14h3m-3 3h3m-3 5h3m-3 1h3m-3 4h3m-3 1h3m-3 15h3m-3 4h3m-3 4h3m-3 23h3m-3 47h3m-3 22h3m-2-161h3m-3 37h3m-3 22h3m-3 7h3m-3 8h3m-3 29h3m-3 143h3m-2-197h3m-3 19h3m-3 1h3m-3 7h3m-3 1h3m-3 12h3m-3 5h3m-3 10h3m-3 5h3m-3 17h3m-2-123h3m-3 6h3m-3 15h3m-3 15h3m-3 6h3m-3 3h3m-3 2h3m-3 2h3m-3 7h3m-3 8h3m-3 8h3m-3 2h3m-3 8h3m-2-84h3m-3 13h3m-3 39h3m-3 2h3m-3 3h3m-3 5h3m-3 8h3m-3 2h3m-3 7h3m-2-96h3m-3 48h3m-3 1h3m-3 9h3m-3 30h3m-3 1h3m-3 2h3m-3 13h3m-3 28h3m-3 7h3m-2-83h3m-3 1h3m-3 1h3m-3 6h3m-3 2h3m-3 2h3m-3 2h3m-3 2h3m-3 2h3m-3 6h3m-3 4h3m-3 3h3m-3 28h3m-3 36h3m-3 73h3m-2-184h3m-3 6h3m-3 13h3m-3 6h3m-3 7h3m-3 7h3m-3 7h3m-3 13h3m-3 1h3m-2-58h3m-3 12h3m-3 12h3m-3 13h3m-3 21h3m-3 5h3m-3 12h3m-2-63h3m-3 15h3m-3 0h3m-3 2h3m-3 1h3m-3 13h3m-2-51h3m-3 2h3m-3 18h3m-3 29h3m-3 21h3m-3 3h3m-3 16h3m-3 5h3m-2-130h3m-3 60h3m-3 3h3m-3 8h3m-3 6h3m-3 12h3m-3 9h3m-3 4h3m-3 12h3m-3 7h3m-3 6h3m-3 0h3m-3 33h3m-3 121h3m-2-261h3m-3 54h3m-3 1h3m-3 4h3m-3 10h3m-3 1h3m-3 4h3m-3 17h3m-2-47h3m-3 3h3m-3 2h3m-3 4h3m-3 0h3m-3 3h3m-3 68h3m-2-92h3m-3 14h3m-3 11h3m-3 9h3m-3 3h3m-3 3h3m-3 7h3m-3 10h3m-3 7h3m-2-88h3m-3 9h3m-3 15h3m-3 3h3m-3 3h3m-3 5h3m-3 26h3m-3 3h3m-3 6h3m-3 8h3m-3 21h3m-2-61h3m-3 9h3m-3 0h3m-3 12h3m-3 2h3m-3 41h3m-3 1h3m-2-53h3m-3 4h3m-3 0h3m-3 12h3m-3 1h3m-2-52h3m-3 8h3m-3 29h3m-3 10h3m-3 16h3m-3 3h3m-3 4h3m-2-42h3m-3 12h3m-3 7h3m-3 2h3m-3 2h3m-3 6h3m-3 8h3m-3 7h3m-3 0h3m-3 1h3m-3 23h3m-2-116h3m-3 39h3m-3 19h3m-3 18h3m-3 42h3m-2-96h3m-3 32h3m-3 11h3m-3 5h3m-3 2h3m-3 7h3m-3 2h3m-3 1h3m-3 21h3m-2-49h3m-3 2h3m-3 0h3m-3 1h3m-3 6h3m-3 3h3m-3 5h3m-3 8h3m-3 1h3m-3 14h3m-3 72h3m-3 6h3m-3 22h3m-2-134h3m-3 2h3m-3 3h3m-3 32h3m-3 9h3m-3 37h3m-3 12h3m-2-136h3m-3 19h3m-3 6h3m-3 9h3m-3 1h3m-3 3h3m-3 4h3m-3 3h3m-3 2h3m-3 17h3m-3 5h3m-3 11h3m-3 8h3m-3 47h3m-2-132h3m-3 13h3m-3 4h3m-3 8h3m-3 7h3m-3 1h3m-3 9h3m-3 17h3m-3 11h3m-3 19h3m-3 44h3m-2-135h3m-3 15h3m-3 4h3m-3 7h3m-3 10h3m-3 0h3m-3 3h3m-3 7h3m-3 10h3m-3 21h3m-3 8h3m-3 28h3m-3 70h3m-2-107h3m-3 11h3m-3 9h3m-2-154h3m-3 68h3m-3 22h3m-3 8h3m-3 9h3m-3 20h3m-3 18h3m-3 7h3m-3 0h3m-2-89h3m-3 13h3m-3 13h3m-3 3h3m-3 2h3m-3 1h3m-3 1h3m-3 3h3m-3 9h3m-3 9h3m-3 6h3m-3 2h3m-2-36h3m-3 11h3m-3 2h3m-3 4h3m-3 15h3m-3 2h3m-3 75h3m-2-104h3m-3 10h3m-3 11h3m-3 3h3m-3 30h3m-3 29h3m-2-83h3m-3 6h3m-3 19h3m-3 19h3m-2-59h3m-3 3h3m-3 4h3m-3 9h3m-3 4h3m-3 6h3m-3 6h3m-3 2h3m-3 4h3m-3 0h3m-3 2h3m-3 5h3m-3 15h3m-3 6h3m-3 28h3m-2-95h3m-3 4h3m-3 12h3m-3 5h3m-3 4h3m-3 7h3m-3 21h3m-3 3h3m-3 6h3m-3 5h3m-3 1h3m-3 11h3m-2-78h3m-3 24h3m-3 4h3m-3 3h3m-3 2h3m-3 20h3m-3 16h3m-3 2h3m-2-48h3m-3 2h3m-3 9h3m-3 4h3m-3 29h3m-3 10h3m-2-106h3m-3 52h3m-3 35h3m-3 14h3m-3 7h3m-2-98h3m-3 10h3m-3 19h3m-3 25h3m-3 6h3m-3 1h3m-3 7h3m-3 1h3m-3 1h3m-3 4h3m-3 26h3m-2-62h3m-3 15h3m-3 1h3m-3 17h3m-3 5h3m-3 2h3m-3 0h3m-3 15h3m-3 60h3m-2-158h3m-3 19h3m-3 13h3m-3 2h3m-3 16h3m-3 5h3m-3 1h3m-3 7h3m-3 4h3m-3 15h3m-3 38h3m-2-116h3m-3 24h3m-3 5h3m-3 4h3m-3 9h3m-3 0h3m-3 12h3m-3 16h3m-3 26h3m-3 1h3m-3 31h3m-3 10h3m-2-108h3m-3 5h3m-3 18h3m-3 3h3m-3 1h3m-3 1h3m-3 2h3m-3 1h3m-3 21h3m-3 2h3m-3 5h3m-3 122h3m-2-221h3m-3 2h3m-3 38h3m-3 7h3m-3 1h3m-3 2h3m-3 20h3m-3 41h3m-3 14h3m-2-99h3m-3 2h3m-3 16h3m-3 19h3m-3 6h3m-3 19h3m-3 4h3m-3 41h3m-2-105h3m-3 10h3m-3 1h3m-3 1h3m-3 0h3m-3 6h3m-3 4h3m-3 4h3m-3 1h3m-3 7h3m-3 2h3m-3 15h3m-3 0h3m-3 3h3m-2-48h3m-3 8h3m-3 29h3m-3 4h3m-3 6h3m-3 2h3m-3 0h3m-3 18h3m-3 5h3m-3 1h3m-3 15h3m-2-98h3m-3 22h3m-3 11h3m-3 5h3m-3 5h3m-3 0h3m-3 8h3m-3 4h3m-3 7h3m-3 13h3m-3 5h3m-3 6h3m-3 6h3m-2-133h3m-3 50h3m-3 7h3m-3 11h3m-3 12h3m-3 0h3m-3 4h3m-3 6h3m-3 5h3m-3 17h3m-2-71h3m-3 12h3m-3 7h3m-3 7h3m-3 13h3m-3 4h3m-3 9h3m-3 7h3m-3 9h3m-3 5h3m-3 5h3m-3 8h3m-3 3h3m-2-94h3m-3 13h3m-3 3h3m-3 11h3m-3 13h3m-3 19h3m-3 1h3m-3 8h3m-3 22h3m-2-62h3m-3 29h3m-3 2h3m-3 26h3m-3 3h3m-2-77h3m-3 8h3m-3 12h3m-3 1h3m-3 3h3m-3 3h3m-3 22h3m-3 29h3m-3 147h3m-2-219h3m-3 4h3m-3 2h3m-3 4h3m-3 3h3m-3 2h3m-3 5h3m-3 26h3m-3 10h3m-3 6h3m-3 4h3m-3 1h3m-3 19h3m-3 66h3m-2-165h3m-3 6h3m-3 10h3m-3 4h3m-3 3h3m-3 7h3m-3 15h3m-3 6h3m-3 1h3m-3 4h3m-2-19h3m-3 8h3m-3 1h3m-3 1h3m-3 3h3m-3 1h3m-3 12h3m-3 2h3m-3 12h3m-3 3h3m-3 130h3m-2-172h3m-3 3h3m-3 1h3m-3 2h3m-3 21h3m-3 2h3m-3 1h3m-3 43h3m-2-82h3m-3 19h3m-3 3h3m-3 1h3m-3 3h3m-3 7h3m-3 14h3m-3 2h3m-3 2h3m-3 44h3m-2-123h3m-3 4h3m-3 20h3m-3 8h3m-3 10h3m-3 11h3m-3 6h3m-3 32h3m-2-54h3m-3 18h3m-3 0h3m-3 1h3m-3 11h3m-3 30h3m-3 16h3m-3 23h3m-2-142h3m-3 29h3m-3 2h3m-3 20h3m-3 7h3m-3 3h3m-3 12h3m-3 1h3m-3 33h3m-2-90h3m-3 1h3m-3 6h3m-3 2h3m-3 3h3m-3 1h3m-3 2h3m-3 3h3m-3 22h3m-3 12h3m-3 7h3m-3 31h3m-2-78h3m-3 15h3m-3 11h3m-3 3h3m-3 4h3m-3 6h3m-3 3h3m-3 1h3m-3 23h3m-3 9h3m-2-102h3m-3 28h3m-3 16h3m-3 1h3m-3 6h3m-3 10h3m-3 15h3m-3 22h3m-3 14h3m-3 11h3m-3 47h3m-2-176h3m-3 9h3m-3 20h3m-3 2h3m-3 1h3m-3 11h3m-3 2h3m-3 7h3m-3 10h3m-3 6h3m-3 6h3m-3 7h3m-3 10h3m-3 22h3m-2-70h3m-3 3h3m-3 1h3m-3 7h3m-3 21h3m-3 5h3m-3 14h3m-3 4h3m-3 6h3m-2-102h3m-3 10h3m-3 11h3m-3 5h3m-3 7h3m-3 1h3m-3 6h3m-3 6h3m-3 2h3m-3 5h3m-3 15h3m-3 10h3m-3 9h3m-3 12h3m-3 23h3m-2-99h3m-3 1h3m-3 24h3m-3 1h3m-3 0h3m-3 2h3m-3 1h3m-3 7h3m-3 1h3m-3 2h3m-3 3h3m-3 3h3m-3 2h3m-3 10h3m-3 7h3m-3 23h3m-3 2h3m-2-70h3m-3 8h3m-3 8h3m-3 35h3m-3 3h3m-3 59h3m-2-100h3m-3 5h3m-3 16h3m-3 11h3m-3 11h3m-3 1h3m-3 9h3m-2-66h3m-3 3h3m-3 19h3m-3 5h3m-3 31h3m-3 2h3m-3 9h3m-3 30h3m-3 33h3m-2-143h3m-3 3h3m-3 10h3m-3 7h3m-3 0h3m-3 7h3m-3 0h3m-3 1h3m-3 3h3m-3 1h3m-3 2h3m-3 7h3m-3 6h3m-3 5h3m-3 2h3m-3 8h3m-3 9h3m-3 4h3m-3 14h3m-2-84h3m-3 11h3m-3 0h3m-3 0h3m-3 4h3m-3 3h3m-3 7h3m-3 4h3m-3 16h3m-3 4h3m-3 8h3m-3 0h3m-3 17h3m-2-64h3m-3 18h3m-3 12h3m-3 6h3m-3 2h3m-3 2h3m-2-50h3m-3 7h3m-3 15h3m-3 4h3m-3 0h3m-3 14h3m-3 14h3m-2-93h3m-3 48h3m-3 4h3m-3 14h3m-3 5h3m-3 2h3m-3 22h3m-3 13h3m-2-80h3m-3 23h3m-3 11h3m-3 1h3m-3 6h3m-3 1h3m-3 9h3m-3 1h3m-3 0h3m-3 3h3m-3 12h3m-3 11h3m-3 64h3m-2-115h3m-3 8h3m-3 0h3m-3 1h3m-3 18h3m-3 8h3m-3 3h3m-3 10h3m-3 5h3m-3 11h3m-3 2h3m-3 6h3m-2-84h3m-3 9h3m-3 11h3m-3 17h3m-3 4h3m-3 14h3m-3 2h3m-2-48h3m-3 15h3m-3 2h3m-3 1h3m-3 10h3m-3 6h3m-3 1h3m-3 6h3m-3 16h3m-2-74h3m-3 3h3m-3 2h3m-3 11h3m-3 11h3m-3 9h3m-3 8h3m-3 20h3m-2-68h3m-3 12h3m-3 5h3m-3 5h3m-3 8h3m-3 2h3m-3 5h3m-3 12h3m-3 2h3m-3 1h3m-3 1h3m-3 7h3m-3 9h3m-3 3h3m-3 48h3m-2-120h3m-3 9h3m-3 40h3m-2-62h3m-3 32h3m-3 5h3m-3 4h3m-3 17h3m-3 6h3m-3 2h3m-3 5h3m-3 4h3m-3 7h3m-3 13h3m-3 4h3m-3 5h3m-2-77h3m-3 3h3m-3 7h3m-3 6h3m-3 12h3m-3 0h3m-3 1h3m-3 30h3m-2-65h3m-3 13h3m-3 9h3m-3 5h3m-3 10h3m-3 6h3m-3 12h3m-3 8h3m-3 4h3m-3 4h3m-3 10h3m-3 2h3m-2-90h3m-3 21h3m-3 6h3m-3 8h3m-3 1h3m-3 1h3m-3 3h3m-3 5h3m-3 3h3m-3 0h3m-3 2h3m-3 2h3m-3 7h3m-3 12h3m-3 0h3m-2-63h3m-3 6h3m-3 8h3m-3 12h3m-3 3h3m-3 7h3m-3 2h3m-2-37h3m-3 15h3m-3 5h3m-3 7h3m-3 4h3m-3 1h3m-3 5h3m-3 4h3m-3 18h3m-3 9h3m-3 0h3m-3 1h3m-2-38h3m-3 4h3m-3 2h3m-3 0h3m-3 8h3m-3 1h3m-2-62h3m-3 27h3m-3 5h3m-3 5h3m-3 4h3m-3 5h3m-3 18h3m-3 7h3m-3 6h3m-3 12h3m-2-100h3m-3 32h3m-3 18h3m-3 11h3m-3 8h3m-3 4h3m-3 7h3m-3 0h3m-3 6h3m-3 5h3m-3 0h3m-3 90h3m-2-149h3m-3 10h3m-3 0h3m-3 19h3m-3 0h3m-3 0h3m-3 6h3m-3 14h3m-3 11h3m-3 9h3m-3 22h3m-2-91h3m-3 12h3m-3 4h3m-3 5h3m-3 8h3m-3 19h3m-3 0h3m-3 1h3m-3 1h3m-3 8h3m-3 12h3m-3 7h3m-2-87h3m-3 11h3m-3 0h3m-3 6h3m-3 16h3m-3 0h3m-3 6h3m-3 11h3m-3 19h3m-3 60h3m-2-110h3m-3 4h3m-3 1h3m-3 4h3m-3 5h3m-3 18h3m-3 4h3m-3 21h3m-2-99h3m-3 43h3m-3 1h3m-3 3h3m-3 7h3m-3 5h3m-3 3h3m-3 8h3m-3 3h3m-3 0h3m-3 9h3m-3 2h3m-3 16h3m-3 1h3m-2-73h3m-3 13h3m-3 11h3m-3 2h3m-3 5h3m-3 28h3m-3 4h3m-3 1h3m-3 9h3m-3 14h3m-3 7h3m-2-81h3m-3 21h3m-3 3h3m-3 11h3m-3 23h3m-3 28h3m-3 1h3m-2-87h3m-3 13h3m-3 12h3m-3 9h3m-3 1h3m-3 7h3m-3 9h3m-3 2h3m-3 21h3m-3 58h3m-2-142h3m-3 4h3m-3 3h3m-3 1h3m-3 8h3m-3 15h3m-3 1h3m-3 1h3m-3 2h3m-3 11h3m-3 9h3m-3 5h3m-3 2h3m-3 29h3m-2-99h3m-3 40h3m-3 9h3m-3 4h3m-3 12h3m-2-74h3m-3 13h3m-3 8h3m-3 11h3m-3 21h3m-3 3h3m-3 7h3m-3 10h3m-3 59h3m-2-119h3m-3 9h3m-3 3h3m-3 1h3m-3 13h3m-3 6h3m-3 4h3m-3 3h3m-3 26h3m-3 6h3m-3 3h3m-3 6h3m-2-79h3m-3 15h3m-3 8h3m-3 3h3m-3 6h3m-3 15h3m-3 5h3m-3 0h3m-3 19h3m-3 5h3m-3 5h3m-3 12h3m-2-108h3m-3 6h3m-3 38h3m-3 5h3m-3 2h3m-3 4h3m-3 5h3m-3 6h3m-3 6h3m-3 77h3m-3 20h3m-2-138h3m-3 21h3m-3 5h3m-3 0h3m-3 7h3m-3 20h3m-3 10h3m-3 9h3m-3 13h3m-3 6h3m-2-100h3m-3 12h3m-3 8h3m-3 8h3m-3 4h3m-3 6h3m-3 10h3m-3 7h3m-3 9h3m-3 7h3m-2-55h3m-3 9h3m-3 0h3m-3 2h3m-3 1h3m-3 11h3m-3 7h3m-3 2h3m-3 5h3m-3 0h3m-3 13h3m-3 38h3m-2-108h3m-3 7h3m-3 14h3m-3 8h3m-3 1h3m-3 0h3m-3 5h3m-3 2h3m-3 13h3m-3 5h3m-3 0h3m-3 8h3m-3 3h3m-3 19h3m-2-69h3m-3 4h3m-3 5h3m-3 1h3m-3 4h3m-3 12h3m-3 25h3m-3 31h3m-2-84h3m-3 6h3m-3 15h3m-3 5h3m-3 1h3m-3 70h3m-2-120h3m-3 52h3m-3 3h3m-3 1h3m-3 2h3m-3 14h3m-3 15h3m-3 2h3m-3 37h3m-2-103h3m-3 7h3m-3 3h3m-3 18h3m-3 4h3m-3 3h3m-3 5h3m-3 1h3m-3 3h3m-3 4h3m-3 15h3m-3 48h3m-2-106h3m-3 25h3m-3 6h3m-3 6h3m-3 0h3m-3 28h3m-3 4h3m-2-57h3m-3 2h3m-3 13h3m-3 4h3m-3 7h3m-3 7h3m-2-62h3m-3 3h3m-3 10h3m-3 7h3m-3 32h3m-3 2h3m-3 17h3m-3 3h3m-3 8h3m-3 1h3m-3 3h3m-3 27h3m-2-110h3m-3 33h3m-3 1h3m-3 2h3m-3 7h3m-3 6h3m-3 6h3m-3 3h3m-3 11h3m-3 1h3m-3 6h3m-3 65h3m-2-146h3m-3 7h3m-3 4h3m-3 11h3m-3 11h3m-3 2h3m-3 2h3m-3 1h3m-3 6h3m-3 5h3m-3 18h3m-3 51h3m-2-97h3m-3 11h3m-3 5h3m-3 30h3m-2-40h3m-3 1h3m-3 6h3m-3 14h3m-3 6h3m-3 27h3m-3 14h3m-3 130h3m-2-198h3m-3 1h3m-3 6h3m-3 2h3m-3 5h3m-3 13h3m-3 1h3m-3 4h3m-3 47h3m-2-100h3m-3 4h3m-3 6h3m-3 9h3m-3 13h3m-3 14h3m-3 1h3m-3 16h3m-3 8h3m-3 13h3m-3 1h3m-2-106h3m-3 36h3m-3 1h3m-3 7h3m-3 6h3m-3 8h3m-3 9h3m-3 0h3m-3 0h3m-3 7h3m-3 1h3m-3 4h3m-3 6h3m-3 10h3m-3 11h3m-3 40h3m-3 10h3m-2-85h3m-3 7h3m-3 2h3m-3 16h3m-3 29h3m-2-76h3m-3 0h3m-3 4h3m-3 2h3m-3 0h3m-3 5h3m-3 1h3m-3 0h3m-3 1h3m-3 1h3m-3 6h3m-3 2h3m-3 8h3m-3 7h3m-3 3h3m-3 3h3m-2-80h3m-3 34h3m-3 1h3m-3 1h3m-3 9h3m-3 1h3m-3 5h3m-3 3h3m-3 5h3m-3 1h3m-3 9h3m-3 2h3m-3 15h3m-3 89h3m-3 28h3m-2-189h3m-3 15h3m-3 26h3m-3 5h3m-3 1h3m-3 13h3m-3 4h3m-3 1h3m-2-59h3m-3 9h3m-3 3h3m-3 11h3m-3 6h3m-3 13h3m-3 5h3m-3 32h3m-3 7h3m-2-90h3m-3 25h3m-3 11h3m-3 11h3m-3 17h3m-3 9h3m-3 6h3m-3 2h3m-3 11h3m-2-85h3m-3 7h3m-3 5h3m-3 1h3m-3 7h3m-3 5h3m-3 3h3m-3 8h3m-3 3h3m-3 9h3m-3 2h3m-2-67h3m-3 1h3m-3 3h3m-3 3h3m-3 10h3m-3 2h3m-3 13h3m-3 5h3m-3 6h3m-3 5h3m-3 3h3m-3 2h3m-3 0h3m-3 19h3m-3 2h3m-3 7h3m-3 20h3m-3 87h3m-2-171h3m-3 1h3m-3 7h3m-3 16h3m-3 14h3m-3 5h3m-3 2h3m-3 6h3m-3 15h3m-3 2h3m-2-74h3m-3 9h3m-3 9h3m-3 3h3m-3 25h3m-3 0h3m-3 1h3m-3 0h3m-3 0h3m-3 1h3m-2-56h3m-3 42h3m-3 1h3m-3 13h3m-3 1h3m-3 5h3m-3 16h3m-3 2h3m-3 4h3m-3 32h3m-2-107h3m-3 24h3m-3 0h3m-3 15h3m-3 5h3m-3 4h3m-3 19h3m-3 33h3m-2-82h3m-3 15h3m-3 1h3m-3 1h3m-3 3h3m-3 14h3m-3 3h3m-3 6h3m-3 6h3m-3 4h3m-3 2h3m-3 11h3m-2-90h3m-3 17h3m-3 6h3m-3 20h3m-3 8h3m-3 5h3m-3 19h3m-3 32h3m-3 39h3m-2-125h3m-3 4h3m-3 16h3m-3 1h3m-3 1h3m-3 10h3m-3 7h3m-3 0h3m-3 0h3m-3 6h3m-3 11h3m-3 11h3m-2-91h3m-3 35h3m-3 5h3m-3 2h3m-3 5h3m-3 5h3m-3 8h3m-3 3h3m-3 1h3m-3 29h3m-3 6h3m-3 7h3m-2-81h3m-3 16h3m-3 6h3m-3 11h3m-3 27h3m-3 52h3m-2-124h3m-3 24h3m-3 13h3m-3 4h3m-3 0h3m-3 4h3m-3 9h3m-2-60h3m-3 4h3m-3 9h3m-3 10h3m-3 9h3m-3 1h3m-3 4h3m-3 0h3m-3 10h3m-3 22h3m-3 3h3m-3 25h3m-2-69h3m-3 19h3m-3 8h3m-3 2h3m-3 4h3m-3 12h3m-3 2h3m-3 22h3m-2-72h3m-3 6h3m-3 26h3m-3 6h3m-3 1h3m-2-32h3m-3 2h3m-3 21h3m-2-30h3m-3 11h3m-3 9h3m-3 3h3m-3 2h3m-3 4h3m-3 16h3m-3 5h3m-3 3h3m-3 19h3m-3 13h3m-3 2h3m-2-106h3m-3 1h3m-3 1h3m-3 9h3m-3 7h3m-3 9h3m-3 4h3m-3 4h3m-3 7h3m-3 3h3m-3 5h3m-3 2h3m-3 0h3m-3 5h3m-3 8h3m-2-43h3m-3 8h3m-3 8h3m-3 6h3m-3 15h3m-3 1h3m-3 5h3m-3 4h3m-3 20h3m-2-105h3m-3 26h3m-3 12h3m-3 20h3m-3 2h3m-3 4h3m-3 0h3m-3 3h3m-3 1h3m-3 2h3m-3 9h3m-3 11h3m-3 17h3m-2-124h3m-3 66h3m-3 2h3m-3 0h3m-3 4h3m-3 2h3m-3 19h3m-3 40h3m-2-125h3m-3 16h3m-3 15h3m-3 25h3m-3 4h3m-3 4h3m-3 0h3m-3 19h3m-3 8h3m-3 1h3m-3 19h3m-2-80h3m-3 17h3m-3 15h3m-3 3h3m-3 19h3m-2-47h3m-3 11h3m-3 0h3m-3 8h3m-3 5h3m-3 0h3m-3 4h3m-3 3h3m-3 1h3m-3 4h3m-3 4h3m-3 3h3m-3 2h3m-3 32h3m-2-94h3m-3 28h3m-3 3h3m-3 0h3m-3 17h3m-3 2h3m-3 1h3m-3 4h3m-3 5h3m-3 15h3m-3 11h3m-3 2h3m-2-90h3m-3 4h3m-3 15h3m-3 16h3m-3 3h3m-3 2h3m-3 8h3m-3 6h3m-3 3h3m-3 1h3m-3 10h3m-3 17h3m-3 5h3m-2-68h3m-3 27h3m-3 17h3m-2-45h3m-3 8h3m-3 16h3m-3 11h3m-3 10h3m-3 4h3m-3 2h3m-3 3h3m-3 43h3m-2-115h3m-3 7h3m-3 20h3m-3 4h3m-3 0h3m-3 53h3m-3 1h3m-3 14h3m-2-57h3m-3 11h3m-3 0h3m-3 5h3m-3 0h3m-3 67h3m-2-117h3m-3 3h3m-3 18h3m-3 2h3m-3 1h3m-3 1h3m-3 10h3m-3 3h3m-3 4h3m-3 0h3m-3 3h3m-3 6h3m-3 1h3m-3 17h3m-3 1h3m-3 10h3m-3 71h3m-2-150h3m-3 10h3m-3 29h3m-3 5h3m-3 12h3m-3 3h3m-3 6h3m-3 1h3m-3 0h3m-3 17h3m-2-65h3m-3 16h3m-3 6h3m-3 6h3m-3 7h3m-3 2h3m-3 20h3m-3 2h3m-3 0h3m-3 9h3m-2-72h3m-3 29h3m-3 6h3m-3 7h3m-3 8h3m-3 10h3m-3 3h3m-3 8h3m-3 3h3m-2-77h3m-3 7h3m-3 2h3m-3 8h3m-3 6h3m-3 17h3m-3 1h3m-3 3h3m-3 9h3m-3 6h3m-3 4h3m-3 24h3m-2-100h3m-3 34h3m-3 10h3m-3 14h3m-3 5h3m-2-68h3m-3 32h3m-3 8h3m-3 1h3m-3 7h3m-3 5h3m-3 2h3m-3 18h3m-3 12h3m-3 2h3m-2-73h3m-3 27h3m-3 10h3m-3 2h3m-3 36h3m-2-108h3m-3 50h3m-3 14h3m-3 6h3m-3 13h3m-3 3h3m-3 15h3m-2-80h3m-3 25h3m-3 0h3m-3 6h3m-3 7h3m-3 20h3m-3 9h3m-3 5h3m-3 6h3m-3 8h3m-3 6h3m-3 43h3m-3 38h3m-2-139h3m-3 2h3m-3 8h3m-3 5h3m-3 0h3m-3 16h3m-3 5h3m-3 7h3m-3 22h3m-2-93h3m-3 9h3m-3 1h3m-3 23h3m-3 11h3m-3 1h3m-3 4h3m-3 0h3m-3 3h3m-3 4h3m-3 8h3m-3 6h3m-3 2h3m-3 7h3m-2-83h3m-3 39h3m-3 3h3m-3 9h3m-3 7h3m-3 34h3m-2-78h3m-3 1h3m-3 16h3m-3 3h3m-3 6h3m-3 5h3m-3 14h3m-3 4h3m-3 0h3m-3 2h3m-3 8h3m-3 18h3m-2-73h3m-3 8h3m-3 11h3m-3 1h3m-3 1h3m-3 3h3m-3 8h3m-3 2h3m-3 22h3m-3 4h3m-3 38h3m-2-100h3m-3 8h3m-3 5h3m-3 8h3m-3 9h3m-3 1h3m-3 13h3m-3 5h3m-3 1h3m-3 1h3m-3 9h3m-3 0h3m-2-61h3m-3 12h3m-3 8h3m-3 5h3m-3 1h3m-3 3h3m-3 8h3m-3 3h3m-3 1h3m-3 7h3m-3 1h3m-3 5h3m-2-31h3m-3 1h3m-3 2h3m-3 1h3m-3 2h3m-3 8h3m-3 10h3m-3 4h3m-3 10h3m-2-58h3m-3 8h3m-3 8h3m-3 1h3m-3 3h3m-3 1h3m-3 7h3m-3 1h3m-3 1h3m-3 2h3m-3 2h3m-3 19h3m-2-34h3m-3 7h3m-3 2h3m-3 4h3m-3 1h3m-3 9h3m-3 8h3m-3 1h3m-3 1h3m-3 4h3m-2-66h3m-3 34h3m-3 3h3m-3 3h3m-3 19h3m-3 7h3m-2-24h3m-3 8h3m-3 1h3m-3 2h3m-3 2h3m-3 3h3m-3 1h3m-3 8h3m-3 4h3m-3 3h3m-3 5h3m-3 2h3m-2-73h3m-3 9h3m-3 27h3m-3 6h3m-3 9h3m-3 7h3m-3 30h3m-2-99h3m-3 29h3m-3 16h3m-3 6h3m-2-46h3m-3 28h3m-3 5h3m-3 8h3m-3 1h3m-3 11h3m-3 2h3m-3 35h3m-2-72h3m-3 5h3m-3 4h3m-3 4h3m-3 0h3m-3 12h3m-3 1h3m-3 14h3m-3 13h3m-3 0h3m-3 1h3m-3 5h3m-2-56h3m-3 2h3m-3 8h3m-3 2h3m-3 0h3m-3 11h3m-3 3h3m-3 7h3m-3 40h3m-2-85h3m-3 12h3m-3 13h3m-3 7h3m-3 19h3m-3 12h3m-3 0h3m-3 12h3m-3 27h3m-3 5h3m-2-85h3m-3 13h3m-3 6h3m-3 10h3m-3 3h3m-3 3h3m-3 11h3m-2-46h3m-3 5h3m-3 2h3m-3 1h3m-3 10h3m-3 3h3m-3 13h3m-2-55h3m-3 10h3m-3 10h3m-3 8h3m-3 4h3m-3 0h3m-3 11h3m-3 4h3m-3 12h3m-3 2h3m-2-54h3m-3 47h3m-3 2h3m-3 107h3m-2-158h3m-3 9h3m-3 13h3m-3 7h3m-3 8h3m-3 12h3m-3 3h3m-3 25h3m-2-74h3m-3 7h3m-3 16h3m-3 1h3m-3 26h3m-3 8h3m-3 46h3m-3 0h3m-2-122h3m-3 21h3m-3 21h3m-3 5h3m-3 7h3m-3 8h3m-3 6h3m-3 1h3m-2-62h3m-3 26h3m-3 29h3m-3 1h3m-3 5h3m-3 9h3m-3 9h3m-2-62h3m-3 7h3m-3 5h3m-3 2h3m-3 11h3m-3 64h3m-2-105h3m-3 13h3m-3 2h3m-3 4h3m-3 3h3m-3 8h3m-3 5h3m-3 3h3m-3 3h3m-3 9h3m-3 1h3m-3 1h3m-3 8h3m-3 22h3m-3 3h3m-3 23h3m-2-106h3m-3 20h3m-3 6h3m-3 1h3m-3 5h3m-3 1h3m-3 5h3m-3 2h3m-3 4h3m-3 10h3m-2-49h3m-3 10h3m-3 23h3m-3 9h3m-3 2h3m-3 2h3m-3 8h3m-3 4h3m-3 48h3m-2-95h3m-3 12h3m-3 9h3m-3 7h3m-3 1h3m-2-42h3m-3 5h3m-3 5h3m-3 7h3m-3 3h3m-3 2h3m-3 17h3m-3 2h3m-3 22h3m-3 1h3m-3 51h3m-2-89h3m-3 21h3m-3 1h3m-3 4h3m-3 16h3m-3 7h3m-3 6h3m-2-94h3m-3 11h3m-3 24h3m-3 3h3m-3 4h3m-3 8h3m-3 5h3m-3 7h3m-3 5h3m-3 8h3m-3 5h3m-2-52h3m-3 16h3m-3 14h3m-3 0h3m-3 1h3m-3 4h3m-3 0h3m-3 3h3m-3 1h3m-2-31h3m-3 13h3m-3 1h3m-3 10h3m-3 5h3m-3 19h3m-2-69h3m-3 0h3m-3 3h3m-3 4h3m-3 9h3m-3 3h3m-3 14h3m-3 0h3m-3 2h3m-3 1h3m-3 14h3m-3 0h3m-3 28h3m-2-73h3m-3 1h3m-3 7h3m-3 1h3m-3 9h3m-3 6h3m-3 1h3m-3 3h3m-3 7h3m-3 8h3m-3 9h3m-3 13h3m-2-73h3m-3 23h3m-3 13h3m-3 3h3m-3 0h3m-3 3h3m-3 2h3m-3 5h3m-3 5h3m-3 7h3m-3 1h3m-3 1h3m-3 45h3m-2-95h3m-3 7h3m-3 10h3m-3 5h3m-3 3h3m-3 5h3m-3 0h3m-3 0h3m-3 1h3m-3 1h3m-3 1h3m-3 5h3m-3 12h3m-3 25h3m-2-99h3m-3 27h3m-3 2h3m-3 4h3m-3 14h3m-3 1h3m-3 3h3m-3 12h3m-3 16h3m-3 12h3m-3 6h3m-2-62h3m-3 0h3m-3 5h3m-3 5h3m-3 9h3m-3 3h3m-3 0h3m-3 6h3m-3 2h3m-3 19h3m-2-54h3m-3 11h3m-3 4h3m-3 2h3m-3 2h3m-3 2h3m-3 3h3m-3 0h3m-3 9h3m-3 4h3m-3 5h3m-3 0h3m-3 4h3m-3 5h3m-3 40h3m-2-92h3m-3 9h3m-3 2h3m-3 8h3m-3 1h3m-3 3h3m-3 1h3m-3 3h3m-3 4h3m-3 3h3m-3 4h3m-3 9h3m-3 6h3m-3 32h3m-2-61h3m-2-23h3m-3 8h3m-3 9h3m-3 24h3m-3 1h3m-3 12h3m-2-50h3m-3 10h3m-3 3h3m-3 2h3m-3 15h3m-3 27h3m-3 2h3m-2-74h3m-3 3h3m-3 11h3m-3 8h3m-3 14h3m-3 19h3m-3 23h3m-3 26h3m-2-89h3m-3 11h3m-3 5h3m-3 1h3m-3 9h3m-3 0h3m-3 1h3m-3 6h3m-3 6h3m-3 23h3m-2-63h3m-3 13h3m-3 10h3m-3 7h3m-3 34h3m-3 6h3m-3 13h3m-2-82h3m-3 8h3m-3 1h3m-3 2h3m-3 2h3m-3 2h3m-3 15h3m-3 19h3m-3 12h3m-3 8h3m-2-79h3m-3 13h3m-3 13h3m-3 7h3m-3 2h3m-3 4h3m-3 3h3m-3 12h3m-3 34h3m-2-76h3m-3 1h3m-3 12h3m-3 9h3m-3 2h3m-3 4h3m-3 4h3m-3 0h3m-2-24h3m-3 4h3m-3 2h3m-3 0h3m-3 4h3m-3 7h3m-3 12h3m-3 97h3m-2-159h3m-3 32h3m-3 13h3m-3 11h3m-3 1h3m-3 1h3m-3 2h3m-3 0h3m-3 1h3m-3 0h3m-3 12h3m-3 2h3m-3 8h3m-3 2h3m-2-80h3m-3 12h3m-3 8h3m-3 6h3m-3 0h3m-3 12h3m-3 14h3m-3 8h3m-3 3h3m-3 2h3m-3 14h3m-2-71h3m-3 7h3m-3 17h3m-3 6h3m-3 2h3m-3 1h3m-3 3h3m-3 1h3m-3 4h3m-3 10h3m-3 2h3m-3 5h3m-3 35h3m-2-73h3m-3 7h3m-3 1h3m-3 4h3m-3 2h3m-3 0h3m-3 3h3m-3 1h3m-3 4h3m-3 2h3m-3 8h3m-3 9h3m-3 15h3m-2-63h3m-3 1h3m-3 2h3m-3 4h3m-3 9h3m-3 9h3m-3 0h3m-3 2h3m-3 2h3m-3 3h3m-3 1h3m-3 1h3m-3 4h3m-2-48h3m-3 14h3m-3 2h3m-3 2h3m-3 4h3m-3 4h3m-3 9h3m-3 1h3m-3 2h3m-3 6h3m-3 2h3m-3 8h3m-3 14h3m-3 62h3m-2-119h3m-3 11h3m-3 8h3m-3 1h3m-3 4h3m-3 3h3m-3 4h3m-3 1h3m-3 1h3m-2-22h3m-3 2h3m-3 10h3m-3 1h3m-3 1h3m-3 2h3m-3 8h3m-3 1h3m-3 2h3m-3 5h3m-3 2h3m-3 4h3m-3 1h3m-3 4h3m-2-63h3m-3 23h3m-3 8h3m-3 12h3m-3 0h3m-3 2h3m-3 15h3m-2-44h3m-3 15h3m-3 0h3m-3 3h3m-3 4h3m-3 1h3m-3 1h3m-3 3h3m-3 2h3m-3 11h3m-3 3h3m-3 7h3m-3 18h3m-2-70h3m-3 2h3m-3 4h3m-3 1h3m-3 16h3m-3 2h3m-3 4h3m-3 1h3m-3 7h3m-3 9h3m-3 16h3m-2-61h3m-3 1h3m-3 4h3m-3 2h3m-3 2h3m-3 5h3m-3 1h3m-3 3h3m-3 4h3m-3 18h3m-3 3h3m-2-73h3m-3 11h3m-3 43h3m-3 8h3m-3 9h3m-3 1h3m-3 4h3m-3 0h3m-2-54h3m-3 28h3m-3 1h3m-3 9h3m-3 80h3m-2-110h3m-3 5h3m-3 18h3m-3 10h3m-3 3h3m-3 2h3m-3 3h3m-2-33h3m-3 8h3m-3 0h3m-3 8h3m-3 19h3m-2-53h3m-3 11h3m-3 6h3m-3 3h3m-3 10h3m-3 6h3m-3 6h3m-3 2h3m-3 12h3m-3 42h3m-2-94h3m-3 9h3m-3 8h3m-3 10h3m-3 2h3m-3 15h3m-3 13h3m-3 26h3m-3 3h3m-2-99h3m-3 5h3m-3 9h3m-3 13h3m-3 3h3m-3 1h3m-3 12h3m-3 4h3m-3 3h3m-3 4h3m-3 7h3m-3 0h3m-3 4h3m-3 8h3m-3 20h3m-2-80h3m-3 18h3m-3 5h3m-3 11h3m-3 6h3m-3 0h3m-3 8h3m-3 7h3m-3 1h3m-2-64h3m-3 14h3m-3 0h3m-3 6h3m-3 6h3m-3 0h3m-3 7h3m-3 0h3m-3 6h3m-3 0h3m-3 1h3m-3 5h3m-3 5h3m-3 3h3m-3 4h3m-3 20h3m-3 48h3m-2-127h3m-3 30h3m-3 10h3m-3 1h3m-3 4h3m-3 10h3m-3 16h3m-2-63h3m-3 22h3m-3 0h3m-3 2h3m-3 12h3m-3 6h3m-3 4h3m-2-59h3m-3 26h3m-3 11h3m-3 15h3m-3 0h3m-3 8h3m-3 9h3m-3 14h3m-3 17h3m-2-108h3m-3 30h3m-3 10h3m-3 3h3m-3 4h3m-3 0h3m-3 3h3m-3 0h3m-3 14h3m-3 4h3m-3 6h3m-3 4h3m-3 3h3m-3 37h3m-2-96h3m-3 13h3m-3 7h3m-3 13h3m-3 5h3m-3 3h3m-3 0h3m-3 18h3m-3 9h3m-2-34h3m-3 9h3m-3 20h3m-3 2h3m-3 4h3m-3 12h3m-2-70h3m-3 1h3m-3 11h3m-3 4h3m-3 11h3m-3 7h3m-3 3h3m-3 2h3m-3 2h3m-3 4h3m-3 8h3m-2-48h3m-3 9h3m-3 12h3m-3 2h3m-3 3h3m-3 21h3m-3 2h3m-3 8h3m-2-40h3m-3 10h3m-3 3h3m-3 5h3m-3 1h3m-3 2h3m-2-21h3m-3 0h3m-3 3h3m-3 7h3m-2-25h3m-3 6h3m-3 8h3m-3 1h3m-3 3h3m-3 4h3m-3 1h3m-3 12h3m-3 17h3m-2-44h3m-3 1h3m-3 9h3m-3 5h3m-3 1h3m-3 2h3m-3 3h3m-3 2h3m-3 2h3m-3 7h3m-3 0h3m-3 34h3m-2-80h3m-3 6h3m-3 9h3m-3 7h3m-3 2h3m-3 5h3m-3 4h3m-3 4h3m-3 0h3m-3 3h3m-3 1h3m-3 1h3m-3 6h3m-2-44h3m-3 3h3m-3 21h3m-3 0h3m-3 1h3m-3 5h3m-3 1h3m-3 3h3m-3 7h3m-3 6h3m-3 1h3m-3 15h3m-2-67h3m-3 0h3m-3 7h3m-3 3h3m-3 2h3m-3 15h3m-3 6h3m-3 6h3m-3 2h3m-3 5h3m-3 1h3m-3 1h3m-3 17h3m-2-54h3m-3 17h3m-3 5h3m-3 3h3m-3 0h3m-3 0h3m-3 4h3m-3 13h3m-3 1h3m-3 11h3m-3 80h3m-2-138h3m-3 2h3m-3 4h3m-3 12h3m-3 3h3m-3 0h3m-3 14h3m-3 18h3m-3 3h3m-3 13h3m-3 26h3m-2-76h3m-3 3h3m-3 3h3m-3 0h3m-3 6h3m-3 33h3m-2-68h3m-3 14h3m-3 10h3m-3 3h3m-3 1h3m-2-11h3m-3 3h3m-3 4h3m-3 5h3m-3 17h3m-3 4h3m-2-38h3m-3 10h3m-3 2h3m-3 5h3m-3 3h3m-3 9h3m-3 0h3m-3 1h3m-3 9h3m-3 41h3m-3 22h3m-2-117h3m-3 30h3m-3 13h3m-3 3h3m-3 1h3m-2-33h3m-3 8h3m-3 4h3m-3 2h3m-3 2h3m-3 1h3m-3 5h3m-3 5h3m-3 1h3m-3 2h3m-3 2h3m-3 3h3m-3 9h3m-3 2h3m-2-47h3m-3 7h3m-3 1h3m-3 2h3m-3 9h3m-3 2h3m-3 2h3m-3 0h3m-3 3h3m-3 3h3m-3 3h3m-3 4h3m-3 4h3m-3 0h3m-3 3h3m-3 40h3m-2-82h3m-3 7h3m-3 3h3m-3 13h3m-3 1h3m-3 2h3m-3 1h3m-3 17h3m-3 1h3m-3 2h3m-2-52h3m-3 12h3m-3 13h3m-3 1h3m-3 16h3m-3 6h3m-3 0h3m-3 5h3m-3 6h3m-2-48h3m-3 16h3m-3 11h3m-3 0h3m-3 4h3m-3 1h3m-3 6h3m-2-61h3m-3 23h3m-3 3h3m-3 3h3m-3 1h3m-3 4h3m-3 14h3m-3 4h3m-3 1h3m-3 2h3m-3 5h3m-3 18h3m-2-53h3m-3 2h3m-3 2h3m-3 4h3m-3 7h3m-3 2h3m-3 1h3m-3 2h3m-3 1h3m-3 1h3m-3 12h3m-3 1h3m-3 1h3m-3 17h3m-2-50h3m-3 12h3m-3 3h3m-3 2h3m-3 0h3m-3 1h3m-3 2h3m-3 4h3m-3 16h3m-2-50h3m-3 11h3m-3 7h3m-3 0h3m-3 8h3m-3 2h3m-3 2h3m-3 1h3m-3 6h3m-3 7h3m-3 4h3m-3 0h3m-2-50h3m-3 9h3m-3 6h3m-3 3h3m-3 16h3m-3 4h3m-3 1h3m-3 13h3m-2-38h3m-3 22h3m-3 3h3m-3 3h3m-3 7h3m-2-32h3m-3 14h3m-3 1h3m-3 1h3m-3 1h3m-3 3h3m-3 7h3m-3 1h3m-3 8h3m-3 32h3m-2-77h3m-3 8h3m-3 8h3m-3 2h3m-3 2h3m-3 2h3m-3 5h3m-3 2h3m-3 5h3m-3 10h3m-3 5h3m-3 4h3m-3 4h3m-2-31h3m-3 1h3m-3 6h3m-3 1h3m-3 2h3m-3 2h3m-3 11h3m-2-90h3m-3 53h3m-3 17h3m-3 1h3m-3 3h3m-3 3h3m-3 7h3m-2-29h3m-3 10h3m-3 1h3m-3 3h3m-3 4h3m-3 4h3m-3 2h3m-3 3h3m-3 1h3m-3 13h3m-3 2h3m-2-25h3m-3 0h3m-3 1h3m-3 1h3m-3 0h3m-3 8h3m-3 1h3m-3 1h3m-3 0h3m-3 4h3m-3 10h3m-3 6h3m-2-36h3m-3 6h3m-3 6h3m-3 7h3m-3 2h3m-3 2h3m-3 0h3m-3 1h3m-3 0h3m-3 1h3m-3 4h3m-3 2h3m-3 1h3m-3 34h3m-2-61h3m-3 3h3m-3 6h3m-3 1h3m-3 1h3m-3 2h3m-3 5h3m-3 10h3m-3 11h3m-3 12h3m-2-48h3m-3 4h3m-3 13h3m-3 4h3m-3 4h3m-3 0h3m-3 6h3m-2-33h3m-3 4h3m-3 10h3m-3 2h3m-3 0h3m-3 1h3m-3 2h3m-3 10h3m-3 1h3m-3 1h3m-3 7h3m-2-27h3m-3 2h3m-3 2h3m-3 1h3m-3 0h3m-3 6h3m-3 2h3m-3 2h3m-3 3h3m-3 5h3m-3 6h3m-3 0h3m-3 1h3m-3 1h3m-3 25h3m-2-46h3m-3 8h3m-3 1h3m-3 1h3m-3 7h3m-2-19h3m-3 8h3m-3 2h3m-3 3h3m-3 1h3m-3 1h3m-3 0h3m-3 1h3m-3 3h3m-3 1h3m-3 4h3m-3 7h3m-3 0h3m-3 2h3m-3 22h3m-2-52h3m-3 15h3m-3 1h3m-3 1h3m-3 1h3m-3 2h3m-3 1h3m-3 3h3m-3 4h3m-3 1h3m-3 3h3m-3 7h3m-3 5h3m-2-35h3m-3 10h3m-3 5h3m-3 4h3m-3 1h3m-3 1h3m-3 3h3m-3 4h3m-3 0h3m-3 1h3m-3 0h3m-3 2h3m-3 1h3m-3 1h3m-3 4h3m-3 1h3m-3 6h3m-2-171h3m-3 143h3m-3 3h3m-3 3h3m-3 4h3m-3 1h3m-3 5h3m-3 4h3m-3 2h3m-2-10h3m-3 2h3m-3 0h3m-3 3h3m-3 11h3m-3 8h3m-2-20h3m-3 1h3m-3 6h3m-3 1h3m-3 0h3m-3 1h3m-3 9h3m-3 3h3m-3 6h3m-2-19h3m-3 10h3m-3 5h3m-3 2h3m-3 4h3" stroke="#ec5c4c" stroke-opacity="0.7" stroke-width="2.6" fill="none"/>
<line x1="686.80" y1="931.00" x2="899.50" y2="1049.20" stroke="#7a7a7a" stroke-width="1.7" />
<rect x="675.40" y="861.80" width="234.50" height="233.10" fill="none" stroke="#a8a8a8" stroke-width="1.0" />
<linearGradient id="gg1" x1="0" x2="1" y1="0" y2="0"><stop offset="0" stop-color="#ffee00"/><stop offset="0.3" stop-color="#fbc10e"/><stop offset="0.6" stop-color="#f5922a"/><stop offset="0.85" stop-color="#ee5f33"/><stop offset="1" stop-color="#e5392f"/></linearGradient>
<path d="M676.7,1111.7 L909.9,1097.2 L909.9,1111.7Z" fill="url(#gg1)"/>
<text x="790.7" y="1129.1" font-size="18.5" text-anchor="middle" fill="#1a1a1a" >Ranked pan-H3Kac in AC</text>
<line x1="956.60" y1="907.40" x2="959.60" y2="907.40" stroke="#555" stroke-width="1" />
<text x="955.6" y="914.6999999999999" font-size="20.6" text-anchor="end" fill="#1a1a1a" >4</text>
<line x1="956.60" y1="995.00" x2="959.60" y2="995.00" stroke="#555" stroke-width="1" />
<text x="955.6" y="1002.3" font-size="20.6" text-anchor="end" fill="#1a1a1a" >2</text>
<line x1="956.60" y1="1082.40" x2="959.60" y2="1082.40" stroke="#555" stroke-width="1" />
<text x="955.6" y="1089.7" font-size="20.6" text-anchor="end" fill="#1a1a1a" >0</text>
<line x1="957.80" y1="951.20" x2="959.60" y2="951.20" stroke="#888" stroke-width="0.8" />
<line x1="957.80" y1="1038.70" x2="959.60" y2="1038.70" stroke="#888" stroke-width="0.8" />
<text x="939.3" y="986" font-size="18.4" text-anchor="middle" fill="#1a1a1a" transform="rotate(-90 939.3 986)" >Log2(FC of pan-H3Kac in VG)</text>
<path transform="scale(.5)" d="M1940 1822h3m-3 37h3m-3 0h3m-3 11h3m-3 3h3m-3 4h3m-3 13h3m-3 12h3m-3 13h3m-2-155h3m-3 47h3m-3 7h3m-3 1h3m-3 4h3m-3 24h3m-3 21h3m-3 2h3m-3 12h3m-3 32h3m-2-126h3m-3 39h3m-3 20h3m-3 4h3m-3 14h3m-3 0h3m-3 10h3m-3 3h3m-2-97h3m-3 3h3m-3 28h3m-3 25h3m-3 6h3m-3 3h3m-3 12h3m-3 17h3m-3 6h3m-3 0h3m-3 24h3m-2-109h3m-3 3h3m-3 16h3m-3 2h3m-3 6h3m-3 103h3m-2-132h3m-3 26h3m-3 5h3m-3 6h3m-3 8h3m-3 11h3m-3 4h3m-3 8h3m-3 4h3m-3 22h3m-3 30h3m-2-134h3m-3 27h3m-3 4h3m-3 21h3m-3 8h3m-3 14h3m-3 5h3m-3 11h3m-3 20h3m-3 14h3m-2-117h3m-3 32h3m-3 10h3m-3 1h3m-3 2h3m-3 8h3m-3 11h3m-3 1h3m-3 1h3m-3 9h3m-3 12h3m-3 0h3m-3 6h3m-3 25h3m-3 16h3m-2-91h3m-3 6h3m-3 8h3m-3 2h3m-3 2h3m-3 7h3m-3 17h3m-3 1h3m-3 18h3m-3 3h3m-3 7h3m-3 13h3m-2-156h3m-3 43h3m-3 18h3m-3 7h3m-3 4h3m-3 8h3m-3 6h3m-3 30h3m-3 102h3m-2-196h3m-3 46h3m-3 0h3m-3 2h3m-3 22h3m-3 2h3m-3 5h3m-3 7h3m-3 15h3m-2-106h3m-3 9h3m-3 8h3m-3 18h3m-3 21h3m-3 11h3m-3 17h3m-3 4h3m-3 26h3m-3 4h3m-3 23h3m-3 37h3m-3 101h3m-2-216h3m-3 5h3m-3 8h3m-3 15h3m-3 8h3m-3 45h3m-2-112h3m-3 15h3m-3 3h3m-3 8h3m-3 20h3m-3 9h3m-3 35h3m-3 10h3m-3 13h3m-2-71h3m-3 32h3m-3 6h3m-3 2h3m-3 8h3m-3 9h3m-2-119h3m-3 34h3m-3 0h3m-3 10h3m-3 4h3m-3 6h3m-3 7h3m-3 24h3m-3 1h3m-3 2h3m-3 8h3m-3 26h3m-3 9h3m-2-147h3m-3 37h3m-3 1h3m-3 5h3m-3 2h3m-3 18h3m-3 9h3m-3 30h3m-3 3h3m-3 21h3m-3 2h3m-3 18h3m-2-136h3m-3 52h3m-3 16h3m-3 8h3m-3 25h3m-3 27h3m-3 6h3m-2-159h3m-3 78h3m-3 14h3m-3 26h3m-3 25h3m-3 13h3m-3 15h3m-3 12h3m-3 5h3m-3 22h3m-2-178h3m-3 29h3m-3 4h3m-3 8h3m-3 10h3m-3 2h3m-3 5h3m-3 4h3m-3 0h3m-3 8h3m-3 21h3m-3 31h3m-2-146h3m-3 33h3m-3 30h3m-3 4h3m-3 34h3m-3 10h3m-3 26h3m-3 17h3m-3 21h3m-2-93h3m-3 14h3m-3 12h3m-3 3h3m-3 27h3m-2-124h3m-3 34h3m-3 5h3m-3 4h3m-3 3h3m-3 16h3m-3 3h3m-3 33h3m-3 6h3m-3 13h3m-3 2h3m-3 6h3m-3 8h3m-3 6h3m-3 10h3m-3 4h3m-3 19h3m-2-160h3m-3 22h3m-3 6h3m-3 18h3m-3 25h3m-3 10h3m-3 12h3m-3 15h3m-3 17h3m-3 10h3m-3 66h3m-2-220h3m-3 26h3m-3 31h3m-3 4h3m-3 3h3m-3 1h3m-3 6h3m-3 13h3m-3 2h3m-3 11h3m-3 2h3m-3 2h3m-3 29h3m-2-66h3m-3 4h3m-3 0h3m-3 10h3m-3 16h3m-3 16h3m-2-95h3m-3 45h3m-3 1h3m-3 8h3m-3 12h3m-3 8h3m-3 11h3m-3 18h3m-3 2h3m-3 0h3m-3 0h3m-3 1h3m-3 5h3m-3 8h3m-3 10h3m-3 13h3m-3 89h3m-3 1h3m-2-213h3m-3 19h3m-3 9h3m-3 16h3m-3 0h3m-3 10h3m-3 9h3m-3 2h3m-3 2h3m-2-54h3m-3 28h3m-3 27h3m-3 23h3m-3 2h3m-3 4h3m-3 34h3m-3 5h3m-3 210h3m-2-342h3m-3 19h3m-3 19h3m-3 13h3m-3 34h3m-3 23h3m-2-116h3m-3 7h3m-3 14h3m-3 10h3m-3 15h3m-3 1h3m-3 10h3m-3 13h3m-3 1h3m-3 7h3m-3 10h3m-3 1h3m-3 4h3m-3 9h3m-3 6h3m-3 3h3m-3 37h3m-2-188h3m-3 64h3m-3 11h3m-3 5h3m-3 0h3m-3 4h3m-3 3h3m-3 4h3m-3 0h3m-3 2h3m-3 10h3m-3 32h3m-3 9h3m-3 19h3m-3 10h3m-2-128h3m-3 12h3m-3 7h3m-3 8h3m-3 28h3m-3 4h3m-3 8h3m-3 2h3m-3 5h3m-3 12h3m-3 57h3m-2-147h3m-3 13h3m-3 2h3m-3 4h3m-3 9h3m-3 9h3m-3 9h3m-3 8h3m-3 3h3m-3 5h3m-3 12h3m-3 13h3m-3 2h3m-3 0h3m-3 8h3m-3 4h3m-3 4h3m-3 2h3m-3 9h3m-2-94h3m-3 1h3m-3 3h3m-3 12h3m-3 17h3m-3 2h3m-3 3h3m-3 20h3m-2-57h3m-3 10h3m-3 5h3m-3 18h3m-3 1h3m-3 9h3m-3 17h3m-3 21h3m-3 22h3m-2-134h3m-3 12h3m-3 23h3m-3 11h3m-3 6h3m-3 4h3m-3 13h3m-3 6h3m-3 8h3m-3 1h3m-3 3h3m-3 17h3m-2-126h3m-3 52h3m-3 21h3m-3 0h3m-3 2h3m-3 17h3m-3 5h3m-3 6h3m-3 3h3m-3 3h3m-3 0h3m-3 5h3m-3 3h3m-3 4h3m-3 1h3m-2-134h3m-3 71h3m-3 2h3m-3 16h3m-3 21h3m-3 12h3m-3 22h3m-3 13h3m-3 16h3m-3 42h3m-2-145h3m-3 36h3m-2-47h3m-3 5h3m-3 11h3m-3 16h3m-3 8h3m-3 10h3m-3 11h3m-3 8h3m-3 7h3m-3 8h3m-2-89h3m-3 11h3m-3 38h3m-3 13h3m-3 1h3m-3 9h3m-3 1h3m-3 8h3m-3 15h3m-3 63h3m-2-138h3m-3 9h3m-3 21h3m-3 3h3m-3 4h3m-3 25h3m-3 196h3m-2-278h3m-3 7h3m-3 0h3m-3 9h3m-3 3h3m-3 33h3m-3 15h3m-3 1h3m-3 1h3m-3 10h3m-3 3h3m-3 0h3m-3 25h3m-3 11h3m-2-94h3m-3 24h3m-3 0h3m-3 82h3m-2-125h3m-3 28h3m-3 2h3m-3 31h3m-3 35h3m-2-95h3m-3 19h3m-3 10h3m-3 6h3m-3 19h3m-3 8h3m-3 11h3m-3 4h3m-3 9h3m-3 12h3m-3 1h3m-3 10h3m-2-96h3m-3 7h3m-3 36h3m-3 0h3m-3 10h3m-3 14h3m-3 5h3m-3 11h3m-3 32h3m-3 38h3m-2-157h3m-3 3h3m-3 16h3m-3 15h3m-3 14h3m-3 7h3m-3 6h3m-3 2h3m-3 4h3m-3 1h3m-3 6h3m-3 10h3m-3 37h3m-2-130h3m-3 20h3m-3 11h3m-3 7h3m-3 11h3m-3 11h3m-3 3h3m-3 1h3m-3 5h3m-3 4h3m-3 19h3m-3 2h3m-3 4h3m-3 9h3m-2-140h3m-3 24h3m-3 6h3m-3 14h3m-3 3h3m-3 24h3m-3 8h3m-3 9h3m-3 19h3m-3 1h3m-3 5h3m-3 19h3m-3 8h3m-2-83h3m-3 2h3m-3 12h3m-3 13h3m-3 9h3m-3 40h3m-3 10h3m-2-86h3m-3 8h3m-3 41h3m-3 13h3m-3 30h3m-3 13h3m-2-110h3m-3 13h3m-3 29h3m-3 9h3m-3 0h3m-3 4h3m-3 14h3m-3 14h3m-2-109h3m-3 28h3m-3 20h3m-3 2h3m-3 2h3m-3 6h3m-3 0h3m-3 9h3m-2-36h3m-3 50h3m-3 10h3m-3 2h3m-3 4h3m-3 15h3m-2-76h3m-3 17h3m-3 28h3m-3 9h3m-3 3h3m-3 26h3m-3 49h3m-2-182h3m-3 14h3m-3 12h3m-3 4h3m-3 41h3m-3 27h3m-3 5h3m-3 1h3m-3 5h3m-2-65h3m-3 15h3m-3 4h3m-3 27h3m-3 3h3m-3 37h3m-3 119h3m-2-276h3m-3 57h3m-3 20h3m-3 1h3m-3 8h3m-3 16h3m-3 6h3m-3 25h3m-3 2h3m-3 0h3m-3 4h3m-3 2h3m-2-110h3m-3 56h3m-3 3h3m-3 13h3m-3 5h3m-3 9h3m-3 5h3m-3 2h3m-3 4h3m-3 34h3m-3 208h3m-2-306h3m-3 10h3m-3 5h3m-3 6h3m-3 2h3m-3 16h3m-3 3h3m-3 3h3m-3 3h3m-3 5h3m-3 9h3m-3 7h3m-3 8h3m-3 8h3m-3 14h3m-2-124h3m-3 15h3m-3 29h3m-3 5h3m-3 6h3m-3 4h3m-3 15h3m-3 1h3m-3 0h3m-3 6h3m-3 0h3m-3 20h3m-3 19h3m-3 38h3m-2-130h3m-3 1h3m-3 9h3m-3 16h3m-3 5h3m-3 28h3m-3 5h3m-3 27h3m-3 3h3m-3 22h3m-2-92h3m-3 9h3m-3 13h3m-3 2h3m-3 25h3m-3 1h3m-3 32h3m-3 0h3m-2-110h3m-3 29h3m-3 34h3m-3 6h3m-3 5h3m-3 11h3m-2-85h3m-3 18h3m-3 33h3m-3 5h3m-3 10h3m-3 13h3m-3 16h3m-3 0h3m-2-128h3m-3 50h3m-3 47h3m-3 3h3m-3 21h3m-3 36h3m-3 3h3m-3 9h3m-2-128h3m-3 2h3m-3 11h3m-3 6h3m-3 0h3m-3 2h3m-3 2h3m-3 17h3m-3 6h3m-3 36h3m-3 0h3m-3 3h3m-2-127h3m-3 20h3m-3 1h3m-3 3h3m-3 25h3m-3 11h3m-3 8h3m-3 22h3m-3 3h3m-3 21h3m-3 1h3m-3 1h3m-3 8h3m-3 30h3m-2-123h3m-3 11h3m-3 8h3m-3 18h3m-3 12h3m-3 6h3m-3 15h3m-3 3h3m-3 2h3m-3 15h3m-3 25h3m-2-118h3m-3 19h3m-3 2h3m-3 12h3m-3 8h3m-3 6h3m-3 55h3m-3 6h3m-3 2h3m-3 0h3m-2-77h3m-3 7h3m-3 11h3m-3 1h3m-3 20h3m-3 19h3m-3 59h3m-2-126h3m-3 2h3m-3 6h3m-3 0h3m-3 42h3m-3 15h3m-3 190h3m-2-285h3m-3 25h3m-3 4h3m-3 13h3m-3 11h3m-3 2h3m-3 6h3m-3 0h3m-3 20h3m-3 7h3m-3 122h3m-2-249h3m-3 87h3m-3 21h3m-3 10h3m-3 11h3m-3 3h3m-3 6h3m-3 16h3m-2-109h3m-3 18h3m-3 0h3m-3 8h3m-3 21h3m-3 2h3m-3 2h3m-3 4h3m-3 8h3m-3 14h3m-3 9h3m-3 13h3m-3 9h3m-2-73h3m-3 13h3m-3 6h3m-3 9h3m-3 19h3m-3 6h3m-3 3h3m-2-61h3m-3 8h3m-3 30h3m-3 1h3m-3 8h3m-3 17h3m-3 5h3m-3 1h3m-3 6h3m-3 7h3m-3 19h3m-2-129h3m-3 13h3m-3 15h3m-3 9h3m-3 35h3m-3 23h3m-3 2h3m-3 2h3m-3 17h3m-3 5h3m-2-115h3m-3 3h3m-3 0h3m-3 28h3m-3 0h3m-3 25h3m-3 29h3m-3 18h3m-2-69h3m-3 3h3m-3 7h3m-3 4h3m-3 3h3m-3 21h3m-3 5h3m-3 8h3m-3 0h3m-3 9h3m-3 8h3m-3 1h3m-3 6h3m-3 2h3m-3 42h3m-2-202h3m-3 68h3m-3 29h3m-3 2h3m-3 11h3m-3 13h3m-3 13h3m-3 0h3m-3 25h3m-2-128h3m-3 19h3m-3 2h3m-3 9h3m-3 29h3m-3 6h3m-3 14h3m-3 5h3m-3 8h3m-3 22h3m-2-105h3m-3 41h3m-3 5h3m-3 6h3m-3 3h3m-3 0h3m-3 1h3m-3 10h3m-3 4h3m-3 9h3m-3 8h3m-3 5h3m-3 7h3m-3 13h3m-3 21h3m-3 87h3m-2-223h3m-3 21h3m-3 37h3m-3 4h3m-3 0h3m-3 0h3m-3 4h3m-3 0h3m-3 3h3m-3 56h3m-2-113h3m-3 6h3m-3 49h3m-3 7h3m-3 0h3m-3 4h3m-3 6h3m-3 7h3m-2-94h3m-3 43h3m-3 29h3m-3 18h3m-3 3h3m-3 6h3m-3 5h3m-2-72h3m-3 18h3m-3 2h3m-3 3h3m-3 29h3m-3 23h3m-3 10h3m-2-122h3m-3 11h3m-3 22h3m-3 6h3m-3 23h3m-3 11h3m-3 19h3m-3 9h3m-3 26h3m-3 48h3m-2-139h3m-3 6h3m-3 62h3m-3 35h3m-3 0h3m-3 16h3m-2-144h3m-3 7h3m-3 3h3m-3 54h3m-3 29h3m-3 13h3m-3 123h3m-2-225h3m-3 19h3m-3 41h3m-3 12h3m-3 9h3m-2-111h3m-3 13h3m-3 27h3m-3 31h3m-3 1h3m-3 3h3m-3 1h3m-3 2h3m-3 9h3m-3 9h3m-3 0h3m-3 1h3m-3 10h3m-3 3h3m-3 28h3m-3 23h3m-3 50h3m-2-154h3m-3 14h3m-3 48h3m-3 92h3m-2-167h3m-3 10h3m-3 3h3m-3 19h3m-3 1h3m-3 2h3m-3 8h3m-3 2h3m-3 1h3m-3 9h3m-3 9h3m-3 14h3m-2-70h3m-3 8h3m-3 16h3m-3 1h3m-3 0h3m-3 2h3m-3 3h3m-3 13h3m-3 5h3m-3 17h3m-3 2h3m-3 19h3m-3 6h3m-2-90h3m-3 15h3m-3 19h3m-3 11h3m-3 11h3m-3 1h3m-3 1h3m-3 1h3m-3 8h3m-3 5h3m-3 3h3m-3 11h3m-3 10h3m-3 3h3m-3 13h3m-3 1h3m-2-121h3m-3 2h3m-3 20h3m-3 0h3m-3 1h3m-3 5h3m-3 14h3m-3 18h3m-3 8h3m-3 9h3m-3 13h3m-3 0h3m-3 8h3m-3 3h3m-3 35h3m-2-131h3m-3 1h3m-3 18h3m-3 2h3m-3 6h3m-3 24h3m-3 3h3m-3 5h3m-3 8h3m-3 2h3m-3 10h3m-2-107h3m-3 23h3m-3 11h3m-3 5h3m-3 8h3m-3 17h3m-3 3h3m-3 2h3m-3 44h3m-2-80h3m-3 10h3m-3 21h3m-3 4h3m-3 11h3m-3 0h3m-3 4h3m-3 7h3m-3 9h3m-2-78h3m-3 10h3m-3 3h3m-3 9h3m-3 17h3m-3 25h3m-3 6h3m-2-76h3m-3 2h3m-3 29h3m-3 11h3m-3 3h3m-3 5h3m-3 0h3m-3 9h3m-3 2h3m-3 19h3m-3 5h3m-3 11h3m-3 0h3m-3 18h3m-2-104h3m-3 4h3m-3 28h3m-3 4h3m-3 3h3m-3 3h3m-3 8h3m-3 6h3m-3 10h3m-3 7h3m-3 1h3m-3 16h3m-3 13h3m-2-147h3m-3 46h3m-3 22h3m-3 4h3m-3 15h3m-3 17h3m-3 13h3m-3 8h3m-3 20h3m-3 167h3m-2-260h3m-3 20h3m-3 0h3m-3 10h3m-3 17h3m-3 21h3m-3 4h3m-3 16h3m-3 4h3m-3 4h3m-3 16h3m-2-135h3m-3 24h3m-3 51h3m-3 3h3m-3 5h3m-3 26h3m-3 7h3m-3 1h3m-3 12h3m-3 29h3m-3 15h3m-2-144h3m-3 3h3m-3 26h3m-3 0h3m-3 3h3m-3 2h3m-3 15h3m-3 5h3m-3 4h3m-2-67h3m-3 19h3m-3 4h3m-3 0h3m-3 2h3m-3 11h3m-3 1h3m-3 4h3m-3 7h3m-3 8h3m-3 6h3m-3 22h3m-3 38h3m-2-109h3m-3 8h3m-3 10h3m-3 4h3m-3 4h3m-3 11h3m-3 5h3m-3 2h3m-3 5h3m-3 1h3m-3 1h3m-3 7h3m-3 13h3m-3 2h3m-3 33h3m-3 28h3m-3 13h3m-3 66h3m-2-192h3m-3 14h3m-3 25h3m-2-130h3m-3 78h3m-3 9h3m-3 17h3m-3 17h3m-3 3h3m-3 11h3m-3 0h3m-3 20h3m-2-84h3m-3 20h3m-3 23h3m-3 0h3m-3 3h3m-3 18h3m-3 2h3m-3 4h3m-3 8h3m-3 20h3m-2-111h3m-3 0h3m-3 24h3m-3 1h3m-3 3h3m-3 20h3m-3 2h3m-3 4h3m-3 0h3m-3 20h3m-3 3h3m-3 97h3m-2-218h3m-3 46h3m-3 5h3m-3 7h3m-3 8h3m-3 8h3m-3 19h3m-3 32h3m-3 2h3m-2-44h3m-3 27h3m-3 13h3m-3 4h3m-2-80h3m-3 22h3m-3 1h3m-3 1h3m-3 34h3m-3 41h3m-2-104h3m-3 37h3m-3 11h3m-3 1h3m-3 8h3m-3 11h3m-3 42h3m-3 2h3m-3 2h3m-3 79h3m-2-210h3m-3 31h3m-3 3h3m-3 15h3m-3 16h3m-3 22h3m-3 24h3m-3 3h3m-3 4h3m-3 11h3m-3 81h3m-2-180h3m-3 31h3m-3 2h3m-3 4h3m-3 17h3m-3 1h3m-3 36h3m-2-60h3m-3 4h3m-3 16h3m-3 0h3m-3 5h3m-3 10h3m-3 4h3m-3 3h3m-3 5h3m-3 7h3m-3 45h3m-2-129h3m-3 2h3m-3 13h3m-3 13h3m-3 5h3m-3 6h3m-3 3h3m-3 53h3m-3 47h3m-2-114h3m-3 1h3m-3 14h3m-3 25h3m-3 7h3m-3 13h3m-3 11h3m-3 8h3m-2-109h3m-3 16h3m-3 15h3m-3 9h3m-3 11h3m-3 6h3m-3 5h3m-3 5h3m-3 1h3m-3 5h3m-2-86h3m-3 23h3m-3 8h3m-3 10h3m-3 7h3m-3 4h3m-3 4h3m-3 19h3m-3 18h3m-3 2h3m-3 132h3m-2-221h3m-3 10h3m-3 8h3m-3 18h3m-3 22h3m-3 24h3m-3 3h3m-3 6h3m-3 16h3m-2-128h3m-3 18h3m-3 11h3m-3 19h3m-3 13h3m-3 2h3m-3 13h3m-3 1h3m-3 3h3m-3 9h3m-3 0h3m-3 23h3m-3 8h3m-3 86h3m-2-197h3m-3 30h3m-3 2h3m-3 0h3m-3 5h3m-3 1h3m-3 19h3m-3 2h3m-2-63h3m-3 30h3m-3 5h3m-3 7h3m-3 32h3m-3 2h3m-3 0h3m-3 2h3m-3 0h3m-3 4h3m-3 1h3m-3 2h3m-3 8h3m-3 6h3m-3 12h3m-3 55h3m-2-146h3m-3 24h3m-3 5h3m-3 22h3m-3 3h3m-3 2h3m-3 4h3m-3 16h3m-3 45h3m-3 1h3m-3 26h3m-2-135h3m-3 15h3m-3 26h3m-3 7h3m-3 21h3m-3 51h3m-2-124h3m-3 1h3m-3 34h3m-3 5h3m-3 0h3m-3 9h3m-3 23h3m-3 7h3m-2-67h3m-3 14h3m-3 1h3m-3 17h3m-3 1h3m-3 5h3m-3 11h3m-3 3h3m-2-86h3m-3 23h3m-3 19h3m-3 7h3m-3 15h3m-3 4h3m-3 1h3m-3 3h3m-3 1h3m-3 29h3m-3 2h3m-3 2h3m-3 10h3m-3 11h3m-3 37h3m-2-137h3m-3 8h3m-3 12h3m-3 11h3m-3 6h3m-3 10h3m-3 22h3m-3 2h3m-3 4h3m-3 25h3m-2-99h3m-3 0h3m-3 11h3m-3 9h3m-3 3h3m-3 4h3m-3 24h3m-3 7h3m-3 5h3m-3 41h3m-3 29h3m-3 45h3m-2-172h3m-3 8h3m-3 3h3m-3 14h3m-3 5h3m-3 0h3m-3 21h3m-3 11h3m-3 8h3m-3 37h3m-2-152h3m-3 4h3m-3 17h3m-3 8h3m-3 12h3m-3 0h3m-3 10h3m-3 24h3m-3 3h3m-3 1h3m-3 8h3m-3 6h3m-3 16h3m-3 3h3m-3 12h3m-2-111h3m-3 20h3m-3 1h3m-3 38h3m-3 9h3m-3 1h3m-3 10h3m-2-68h3m-3 1h3m-3 21h3m-3 2h3m-3 10h3m-3 1h3m-3 2h3m-3 3h3m-3 14h3m-3 0h3m-3 7h3m-3 3h3m-3 4h3m-3 5h3m-3 5h3m-3 43h3m-2-88h3m-3 3h3m-3 3h3m-3 26h3m-3 11h3m-3 28h3m-2-87h3m-3 8h3m-3 9h3m-3 11h3m-3 6h3m-3 22h3m-3 7h3m-3 1h3m-3 15h3m-3 26h3m-2-142h3m-3 31h3m-3 32h3m-3 3h3m-3 1h3m-3 22h3m-3 6h3m-3 16h3m-3 1h3m-3 18h3m-2-112h3m-3 12h3m-3 2h3m-3 1h3m-3 19h3m-3 10h3m-3 14h3m-3 28h3m-3 51h3m-3 99h3m-2-226h3m-3 0h3m-3 16h3m-3 5h3m-3 1h3m-3 5h3m-3 3h3m-3 13h3m-3 35h3m-3 4h3m-3 6h3m-3 3h3m-3 3h3m-3 5h3m-3 0h3m-3 12h3m-3 76h3m-2-182h3m-3 14h3m-3 22h3m-3 5h3m-3 4h3m-3 14h3m-3 32h3m-3 34h3m-2-124h3m-3 0h3m-3 42h3m-3 6h3m-3 2h3m-3 42h3m-3 1h3m-3 72h3m-2-164h3m-3 12h3m-3 12h3m-3 3h3m-3 7h3m-3 15h3m-3 11h3m-3 4h3m-2-96h3m-3 49h3m-3 3h3m-3 0h3m-3 13h3m-3 1h3m-3 12h3m-3 4h3m-3 6h3m-3 8h3m-3 29h3m-2-98h3m-3 46h3m-3 2h3m-3 21h3m-3 59h3m-2-143h3m-3 43h3m-3 3h3m-3 6h3m-3 14h3m-3 8h3m-3 6h3m-3 1h3m-3 6h3m-3 14h3m-3 1h3m-3 7h3m-2-60h3m-3 11h3m-3 11h3m-3 3h3m-3 0h3m-3 2h3m-3 0h3m-3 4h3m-3 1h3m-3 3h3m-2-65h3m-3 36h3m-3 2h3m-3 3h3m-3 5h3m-3 19h3m-3 76h3m-3 1h3m-2-160h3m-3 18h3m-3 6h3m-3 3h3m-3 12h3m-3 3h3m-3 16h3m-3 21h3m-3 0h3m-3 10h3m-3 4h3m-3 8h3m-3 1h3m-3 25h3m-3 56h3m-2-167h3m-3 13h3m-3 4h3m-3 1h3m-3 2h3m-3 6h3m-3 8h3m-3 12h3m-2-78h3m-3 22h3m-3 1h3m-3 17h3m-3 18h3m-3 7h3m-3 3h3m-3 2h3m-3 3h3m-3 0h3m-3 8h3m-3 4h3m-3 4h3m-3 1h3m-3 48h3m-2-100h3m-3 23h3m-3 8h3m-3 8h3m-3 5h3m-3 6h3m-3 1h3m-3 4h3m-3 13h3m-2-91h3m-3 18h3m-3 4h3m-3 33h3m-3 2h3m-3 2h3m-3 0h3m-3 8h3m-3 10h3m-3 1h3m-3 6h3m-3 3h3m-3 2h3m-3 54h3m-3 3h3m-2-117h3m-3 13h3m-3 10h3m-3 12h3m-3 9h3m-3 5h3m-3 10h3m-3 6h3m-3 10h3m-3 2h3m-3 20h3m-2-83h3m-3 2h3m-3 8h3m-3 3h3m-3 3h3m-3 16h3m-3 9h3m-3 37h3m-3 3h3m-3 5h3m-3 20h3m-2-107h3m-3 1h3m-3 25h3m-3 2h3m-3 2h3m-3 14h3m-3 13h3m-3 113h3m-3 63h3m-2-246h3m-3 30h3m-3 8h3m-3 11h3m-3 10h3m-3 3h3m-3 1h3m-2-49h3m-3 5h3m-3 1h3m-3 6h3m-3 12h3m-3 5h3m-3 10h3m-3 2h3m-3 16h3m-3 5h3m-3 9h3m-3 16h3m-3 53h3m-2-206h3m-3 82h3m-3 6h3m-3 1h3m-3 11h3m-3 6h3m-3 38h3m-3 18h3m-2-109h3m-3 5h3m-3 4h3m-3 19h3m-3 2h3m-3 1h3m-3 6h3m-3 11h3m-3 4h3m-3 9h3m-3 25h3m-2-74h3m-3 6h3m-3 1h3m-3 8h3m-3 8h3m-3 22h3m-3 11h3m-3 85h3m-2-134h3m-3 8h3m-3 7h3m-3 19h3m-3 26h3m-3 16h3m-2-52h3m-3 6h3m-3 20h3m-3 0h3m-3 21h3m-3 14h3m-3 102h3m-2-239h3m-3 23h3m-3 22h3m-3 6h3m-3 14h3m-3 10h3m-3 14h3m-3 7h3m-3 7h3m-2-76h3m-3 16h3m-3 15h3m-3 11h3m-3 11h3m-3 1h3m-3 4h3m-3 27h3m-3 8h3m-2-105h3m-3 10h3m-3 7h3m-3 21h3m-3 9h3m-3 11h3m-3 16h3m-3 3h3m-3 15h3m-2-64h3m-3 5h3m-3 11h3m-3 10h3m-3 21h3m-3 13h3m-3 4h3m-2-47h3m-3 3h3m-3 6h3m-3 24h3m-3 5h3m-3 7h3m-3 9h3m-3 28h3m-2-107h3m-3 12h3m-3 11h3m-3 4h3m-3 5h3m-3 26h3m-3 0h3m-3 2h3m-2-43h3m-3 16h3m-3 16h3m-3 3h3m-3 5h3m-3 8h3m-3 4h3m-3 2h3m-3 32h3m-3 1h3m-2-91h3m-3 10h3m-3 15h3m-3 8h3m-3 8h3m-3 24h3m-3 1h3m-3 0h3m-3 4h3m-3 16h3m-2-81h3m-3 12h3m-3 8h3m-3 1h3m-3 10h3m-3 10h3m-3 0h3m-3 19h3m-2-108h3m-3 14h3m-3 3h3m-3 4h3m-3 4h3m-3 30h3m-3 5h3m-3 3h3m-3 5h3m-3 6h3m-3 1h3m-3 0h3m-3 10h3m-3 6h3m-3 6h3m-3 5h3m-3 9h3m-3 5h3m-3 4h3m-3 9h3m-3 72h3m-2-134h3m-3 15h3m-3 29h3m-3 6h3m-3 12h3m-2-100h3m-3 3h3m-3 3h3m-3 4h3m-3 1h3m-3 12h3m-3 4h3m-3 12h3m-3 11h3m-3 2h3m-3 5h3m-3 5h3m-3 5h3m-3 6h3m-3 15h3m-3 3h3m-3 42h3m-2-110h3m-3 22h3m-3 7h3m-3 7h3m-3 6h3m-3 5h3m-2-25h3m-3 6h3m-3 1h3m-3 4h3m-3 2h3m-3 7h3m-3 24h3m-3 6h3m-3 1h3m-2-66h3m-3 21h3m-3 58h3m-2-128h3m-3 11h3m-3 29h3m-3 2h3m-3 1h3m-3 22h3m-3 10h3m-3 28h3m-3 33h3m-3 34h3m-2-166h3m-3 9h3m-3 2h3m-3 18h3m-3 11h3m-3 35h3m-3 7h3m-3 4h3m-3 8h3m-3 3h3m-3 29h3m-2-126h3m-3 29h3m-3 20h3m-3 0h3m-3 13h3m-3 0h3m-3 6h3m-2-29h3m-3 18h3m-3 0h3m-3 24h3m-3 5h3m-3 5h3m-3 9h3m-3 9h3m-3 84h3m-2-141h3m-3 43h3m-3 2h3m-3 2h3m-2-64h3m-3 19h3m-3 1h3m-3 8h3m-3 68h3m-3 83h3m-2-199h3m-3 2h3m-3 32h3m-3 14h3m-3 5h3m-3 16h3m-3 29h3m-2-80h3m-3 21h3m-3 0h3m-3 7h3m-3 17h3m-3 16h3m-2-57h3m-3 14h3m-3 15h3m-3 4h3m-3 7h3m-3 1h3m-3 7h3m-3 4h3m-3 2h3m-3 91h3m-2-166h3m-3 15h3m-3 41h3m-3 11h3m-3 14h3m-3 2h3m-3 11h3m-3 0h3m-3 2h3m-3 69h3m-2-147h3m-3 13h3m-3 1h3m-3 2h3m-3 6h3m-3 0h3m-3 4h3m-3 5h3m-3 29h3m-3 1h3m-2-70h3m-3 22h3m-3 1h3m-3 12h3m-3 15h3m-3 12h3m-3 14h3m-3 21h3m-2-125h3m-3 54h3m-3 5h3m-3 9h3m-3 20h3m-3 7h3m-3 9h3m-3 2h3m-2-80h3m-3 25h3m-3 3h3m-3 3h3m-3 16h3m-3 3h3m-3 3h3m-3 4h3m-3 4h3m-3 5h3m-3 14h3m-3 3h3m-2-101h3m-3 5h3m-3 12h3m-3 9h3m-3 36h3m-3 6h3m-3 8h3m-3 3h3m-3 15h3m-3 2h3m-3 11h3m-3 31h3m-2-116h3m-3 38h3m-3 4h3m-3 3h3m-3 1h3m-3 3h3m-3 34h3m-3 16h3m-2-74h3m-3 1h3m-3 7h3m-3 9h3m-3 4h3m-3 10h3m-3 1h3m-3 4h3m-3 2h3m-3 22h3m-3 12h3m-2-88h3m-3 3h3m-3 5h3m-3 17h3m-3 1h3m-3 27h3m-3 0h3m-3 8h3m-3 24h3m-3 3h3m-3 2h3m-3 6h3m-2-102h3m-3 9h3m-3 19h3m-3 29h3m-3 5h3m-3 1h3m-3 7h3m-3 14h3m-3 12h3m-3 28h3m-2-131h3m-3 4h3m-3 15h3m-3 5h3m-3 10h3m-3 35h3m-3 13h3m-3 42h3m-2-125h3m-3 27h3m-3 22h3m-3 10h3m-3 2h3m-3 4h3m-3 16h3m-3 3h3m-3 2h3m-3 2h3m-3 1h3m-2-71h3m-3 5h3m-3 10h3m-3 0h3m-3 14h3m-3 12h3m-3 2h3m-3 5h3m-3 12h3m-3 85h3m-2-129h3m-3 8h3m-3 30h3m-3 8h3m-3 18h3m-3 2h3m-3 108h3m-2-187h3m-3 6h3m-3 26h3m-3 17h3m-3 15h3m-3 16h3m-3 12h3m-3 29h3m-2-87h3m-3 5h3m-3 39h3m-2-116h3m-3 32h3m-3 6h3m-3 8h3m-3 13h3m-3 16h3m-3 12h3m-3 3h3m-3 1h3m-3 4h3m-3 21h3m-3 4h3m-3 7h3m-2-100h3m-3 29h3m-3 5h3m-3 5h3m-3 3h3m-3 6h3m-3 37h3m-3 18h3m-3 33h3m-2-89h3m-3 2h3m-3 12h3m-3 10h3m-3 5h3m-2-46h3m-3 3h3m-3 3h3m-3 8h3m-3 13h3m-3 6h3m-3 43h3m-2-89h3m-3 11h3m-3 16h3m-3 11h3m-3 3h3m-3 9h3m-3 40h3m-3 2h3m-2-96h3m-3 25h3m-3 1h3m-3 4h3m-3 5h3m-3 1h3m-3 25h3m-3 11h3m-3 30h3m-3 18h3m-2-131h3m-3 18h3m-3 15h3m-3 0h3m-3 4h3m-3 3h3m-3 25h3m-2-61h3m-3 14h3m-3 1h3m-3 13h3m-3 8h3m-3 6h3m-3 16h3m-3 2h3m-3 8h3m-2-71h3m-3 7h3m-3 16h3m-3 9h3m-3 20h3m-3 22h3m-3 1h3m-3 10h3m-3 88h3m-2-166h3m-3 12h3m-3 6h3m-3 8h3m-3 2h3m-3 4h3m-3 5h3m-3 21h3m-3 2h3m-3 1h3m-3 3h3m-3 4h3m-3 2h3m-3 1h3m-2-72h3m-3 22h3m-3 0h3m-3 25h3m-3 0h3m-3 14h3m-3 15h3m-3 5h3m-3 62h3m-2-173h3m-3 31h3m-3 4h3m-3 1h3m-3 5h3m-3 22h3m-3 8h3m-3 10h3m-3 13h3m-3 12h3m-3 5h3m-3 6h3m-2-94h3m-3 34h3m-3 5h3m-3 10h3m-3 7h3m-3 7h3m-3 9h3m-3 9h3m-3 4h3m-2-63h3m-3 20h3m-3 1h3m-3 3h3m-3 33h3m-3 1h3m-3 41h3m-3 111h3m-2-205h3m-3 20h3m-3 22h3m-3 1h3m-3 27h3m-2-86h3m-3 5h3m-3 1h3m-3 8h3m-3 2h3m-3 0h3m-3 3h3m-3 8h3m-3 15h3m-3 2h3m-3 1h3m-3 10h3m-3 4h3m-3 37h3m-2-99h3m-3 1h3m-3 29h3m-3 1h3m-3 8h3m-3 20h3m-3 4h3m-3 8h3m-3 20h3m-3 0h3m-2-99h3m-3 4h3m-3 9h3m-3 4h3m-3 12h3m-3 6h3m-3 24h3m-3 1h3m-3 7h3m-3 15h3m-3 8h3m-3 11h3m-3 19h3m-2-103h3m-3 8h3m-3 8h3m-3 8h3m-3 3h3m-3 8h3m-3 11h3m-3 18h3m-3 6h3m-3 3h3m-3 35h3m-2-129h3m-3 56h3m-3 8h3m-3 1h3m-3 0h3m-3 5h3m-3 33h3m-2-86h3m-3 15h3m-3 5h3m-3 4h3m-3 3h3m-3 2h3m-3 2h3m-3 7h3m-3 5h3m-3 14h3m-3 7h3m-3 38h3m-2-96h3m-3 7h3m-3 4h3m-3 5h3m-3 21h3m-3 18h3m-3 51h3m-3 9h3m-2-113h3m-3 2h3m-3 9h3m-3 13h3m-3 5h3m-3 8h3m-3 2h3m-3 56h3m-2-98h3m-3 6h3m-3 4h3m-3 1h3m-3 12h3m-3 4h3m-3 4h3m-3 5h3m-3 2h3m-3 1h3m-3 6h3m-3 9h3m-3 9h3m-3 12h3m-3 1h3m-2-42h3m-3 5h3m-3 4h3m-3 5h3m-3 27h3m-3 117h3m-2-188h3m-3 9h3m-3 39h3m-3 12h3m-3 9h3m-2-81h3m-3 8h3m-3 7h3m-3 8h3m-3 9h3m-3 1h3m-3 4h3m-3 9h3m-3 5h3m-3 1h3m-3 27h3m-3 5h3m-2-88h3m-3 5h3m-3 21h3m-3 5h3m-3 27h3m-3 2h3m-3 6h3m-3 2h3m-3 6h3m-3 117h3m-2-156h3m-3 9h3m-3 4h3m-3 6h3m-3 10h3m-3 3h3m-3 6h3m-3 7h3m-2-79h3m-3 21h3m-3 2h3m-3 8h3m-3 1h3m-3 9h3m-3 7h3m-3 3h3m-3 1h3m-3 1h3m-3 9h3m-3 14h3m-3 26h3m-3 3h3m-2-76h3m-3 17h3m-3 1h3m-3 0h3m-3 3h3m-3 20h3m-2-79h3m-3 30h3m-3 6h3m-3 16h3m-3 15h3m-3 21h3m-3 11h3m-2-88h3m-3 14h3m-3 30h3m-3 1h3m-3 1h3m-3 0h3m-3 5h3m-3 7h3m-3 13h3m-3 9h3m-2-103h3m-3 46h3m-3 3h3m-3 28h3m-3 10h3m-3 32h3m-3 29h3m-2-92h3m-3 12h3m-3 0h3m-3 23h3m-3 1h3m-3 10h3m-3 1h3m-3 3h3m-3 3h3m-3 37h3m-2-134h3m-3 20h3m-3 12h3m-3 5h3m-3 8h3m-3 1h3m-3 7h3m-3 0h3m-3 9h3m-3 7h3m-3 12h3m-3 4h3m-3 4h3m-3 3h3m-3 28h3m-2-114h3m-3 12h3m-3 27h3m-3 3h3m-3 3h3m-3 20h3m-3 1h3m-3 1h3m-3 0h3m-3 5h3m-3 27h3m-3 60h3m-3 68h3m-2-232h3m-3 29h3m-3 11h3m-3 3h3m-3 4h3m-3 11h3m-3 4h3m-3 8h3m-3 0h3m-3 1h3m-3 4h3m-3 8h3m-3 5h3m-3 19h3m-3 7h3m-2-102h3m-3 4h3m-3 18h3m-3 24h3m-3 6h3m-3 3h3m-3 21h3m-3 5h3m-3 34h3m-2-116h3m-3 12h3m-3 6h3m-3 1h3m-3 9h3m-3 24h3m-3 10h3m-3 1h3m-3 3h3m-3 5h3m-3 3h3m-3 7h3m-3 33h3m-2-93h3m-3 8h3m-3 1h3m-3 8h3m-3 8h3m-3 9h3m-3 0h3m-3 0h3m-2-48h3m-3 7h3m-3 2h3m-3 6h3m-3 6h3m-3 33h3m-3 34h3m-2-85h3m-3 7h3m-3 15h3m-3 26h3m-3 70h3m-2-118h3m-3 3h3m-3 19h3m-3 8h3m-3 15h3m-3 1h3m-3 2h3m-3 9h3m-3 4h3m-3 11h3m-3 22h3m-2-105h3m-3 13h3m-3 10h3m-3 9h3m-3 18h3m-3 3h3m-3 6h3m-3 5h3m-3 3h3m-3 0h3m-3 14h3m-3 12h3m-3 5h3m-2-77h3m-3 3h3m-3 40h3m-3 5h3m-3 5h3m-3 1h3m-3 2h3m-3 3h3m-2-76h3m-3 27h3m-3 8h3m-3 6h3m-3 1h3m-3 3h3m-3 4h3m-3 8h3m-3 2h3m-3 1h3m-3 5h3m-3 16h3m-2-82h3m-3 23h3m-3 9h3m-3 0h3m-3 22h3m-3 3h3m-3 7h3m-3 13h3m-3 2h3m-3 1h3m-3 8h3m-3 3h3m-3 8h3m-3 16h3m-2-116h3m-3 17h3m-3 10h3m-3 5h3m-3 4h3m-3 23h3m-3 17h3m-3 11h3m-3 1h3m-2-71h3m-3 2h3m-3 0h3m-3 35h3m-3 0h3m-3 0h3m-3 2h3m-3 4h3m-3 3h3m-3 87h3m-2-145h3m-3 18h3m-3 3h3m-3 12h3m-3 0h3m-3 13h3m-3 1h3m-3 2h3m-3 7h3m-3 2h3m-3 23h3m-3 11h3m-2-90h3m-3 48h3m-3 5h3m-3 10h3m-3 1h3m-3 29h3m-3 16h3m-2-105h3m-3 12h3m-3 7h3m-3 13h3m-3 1h3m-3 5h3m-3 7h3m-3 14h3m-3 0h3m-3 4h3m-3 6h3m-3 6h3m-3 8h3m-3 16h3m-3 115h3m-2-224h3m-3 13h3m-3 17h3m-3 17h3m-3 4h3m-3 1h3m-3 3h3m-3 7h3m-3 19h3m-3 6h3m-3 1h3m-2-81h3m-3 24h3m-3 10h3m-3 9h3m-3 2h3m-3 11h3m-3 7h3m-3 4h3m-3 16h3m-2-72h3m-3 2h3m-3 10h3m-3 2h3m-3 6h3m-3 16h3m-3 5h3m-3 6h3m-3 1h3m-3 5h3m-3 1h3m-3 41h3m-2-105h3m-3 21h3m-3 10h3m-3 7h3m-3 10h3m-3 4h3m-3 2h3m-3 11h3m-3 4h3m-3 1h3m-3 4h3m-2-58h3m-3 16h3m-3 1h3m-3 5h3m-3 7h3m-3 1h3m-3 2h3m-3 0h3m-3 7h3m-3 14h3m-2-83h3m-3 36h3m-3 13h3m-3 1h3m-3 5h3m-3 9h3m-3 2h3m-3 14h3m-3 11h3m-3 21h3m-2-104h3m-3 21h3m-3 4h3m-3 11h3m-3 13h3m-3 4h3m-3 14h3m-3 3h3m-3 23h3m-2-57h3m-3 13h3m-3 0h3m-3 2h3m-3 8h3m-3 6h3m-3 13h3m-3 18h3m-2-62h3m-3 15h3m-3 10h3m-3 5h3m-3 5h3m-3 4h3m-3 4h3m-3 19h3m-3 36h3m-3 30h3m-2-125h3m-3 2h3m-3 14h3m-3 9h3m-3 3h3m-3 9h3m-3 6h3m-2-43h3m-3 7h3m-3 3h3m-3 48h3m-2-68h3m-3 4h3m-3 6h3m-3 1h3m-3 14h3m-3 1h3m-3 20h3m-3 17h3m-3 28h3m-3 18h3m-2-116h3m-3 13h3m-3 7h3m-3 23h3m-3 0h3m-3 2h3m-3 2h3m-3 2h3m-3 5h3m-3 2h3m-3 3h3m-3 7h3m-2-56h3m-3 3h3m-3 2h3m-3 15h3m-3 2h3m-3 5h3m-3 1h3m-3 2h3m-3 1h3m-3 4h3m-3 2h3m-3 36h3m-2-119h3m-3 18h3m-3 30h3m-3 2h3m-3 4h3m-3 1h3m-3 2h3m-3 4h3m-3 1h3m-3 2h3m-3 4h3m-3 20h3m-2-64h3m-3 10h3m-3 18h3m-3 4h3m-3 5h3m-3 5h3m-3 2h3m-3 0h3m-3 3h3m-3 1h3m-3 13h3m-3 11h3m-3 19h3m-3 89h3m-2-188h3m-3 34h3m-3 16h3m-3 3h3m-3 4h3m-3 4h3m-3 18h3m-3 5h3m-3 2h3m-3 13h3m-2-62h3m-3 24h3m-3 2h3m-3 1h3m-3 10h3m-3 4h3m-3 63h3m-2-124h3m-3 15h3m-3 18h3m-3 0h3m-3 6h3m-3 1h3m-3 12h3m-3 28h3m-3 76h3m-2-135h3m-3 2h3m-3 5h3m-3 1h3m-3 0h3m-3 1h3m-3 10h3m-3 6h3m-3 2h3m-3 1h3m-3 0h3m-3 4h3m-3 2h3m-2-30h3m-3 6h3m-3 3h3m-3 14h3m-3 8h3m-3 1h3m-3 9h3m-2-85h3m-3 10h3m-3 5h3m-3 20h3m-3 9h3m-3 3h3m-3 22h3m-3 5h3m-3 8h3m-3 23h3m-2-62h3m-3 15h3m-3 13h3m-3 19h3m-3 30h3m-2-145h3m-3 72h3m-3 5h3m-3 3h3m-3 7h3m-3 0h3m-3 12h3m-3 91h3m-2-129h3m-3 25h3m-3 1h3m-3 0h3m-3 14h3m-3 7h3m-3 14h3m-2-42h3m-3 7h3m-3 4h3m-3 20h3m-3 6h3m-3 7h3m-2-74h3m-3 7h3m-3 2h3m-3 12h3m-3 5h3m-3 2h3m-3 6h3m-3 1h3m-3 2h3m-3 18h3m-3 10h3m-3 4h3m-3 28h3m-2-89h3m-3 20h3m-3 2h3m-3 20h3m-3 8h3m-3 8h3m-3 13h3m-3 9h3m-2-69h3m-3 32h3m-3 17h3m-3 13h3m-3 78h3m-2-149h3m-3 5h3m-3 10h3m-3 6h3m-3 1h3m-3 14h3m-3 2h3m-3 5h3m-3 5h3m-3 4h3m-3 7h3m-3 2h3m-3 5h3m-3 31h3m-2-111h3m-3 36h3m-3 0h3m-3 14h3m-3 7h3m-3 4h3m-3 11h3m-3 3h3m-3 9h3m-3 4h3m-2-64h3m-3 35h3m-2-77h3m-3 24h3m-3 7h3m-3 14h3m-3 17h3m-3 1h3m-3 2h3m-3 4h3m-3 2h3m-3 23h3m-3 2h3m-3 3h3m-2-81h3m-3 17h3m-3 18h3m-3 4h3m-3 5h3m-3 12h3m-3 12h3m-3 59h3m-2-107h3m-3 6h3m-3 9h3m-3 5h3m-3 4h3m-3 17h3m-3 11h3m-3 1h3m-3 0h3m-3 11h3m-3 4h3m-2-113h3m-3 38h3m-3 11h3m-3 3h3m-3 9h3m-3 6h3m-3 2h3m-3 5h3m-3 2h3m-3 1h3m-3 22h3m-3 1h3m-3 14h3m-3 1h3m-3 14h3m-3 12h3m-2-96h3m-3 10h3m-3 17h3m-3 7h3m-3 7h3m-3 2h3m-3 2h3m-3 14h3m-3 16h3m-2-63h3m-3 16h3m-3 0h3m-3 3h3m-3 1h3m-3 21h3m-3 11h3m-3 10h3m-3 4h3m-3 54h3m-2-140h3m-3 12h3m-3 9h3m-3 1h3m-3 8h3m-3 9h3m-3 2h3m-3 4h3m-3 6h3m-3 4h3m-3 1h3m-3 6h3m-3 24h3m-2-85h3m-3 10h3m-3 4h3m-3 9h3m-3 3h3m-3 57h3m-3 12h3m-2-80h3m-3 9h3m-3 3h3m-3 10h3m-3 14h3m-3 12h3m-3 22h3m-2-123h3m-3 31h3m-3 1h3m-3 21h3m-3 4h3m-3 2h3m-3 0h3m-3 0h3m-3 11h3m-3 5h3m-3 1h3m-3 6h3m-3 0h3m-3 13h3m-3 1h3m-2-75h3m-3 13h3m-3 9h3m-3 16h3m-3 6h3m-3 5h3m-3 3h3m-3 2h3m-3 11h3m-3 0h3m-3 10h3m-3 33h3m-2-62h3m-3 0h3m-3 5h3m-3 0h3m-3 11h3m-3 4h3m-3 2h3m-3 6h3m-3 5h3m-2-62h3m-3 29h3m-3 0h3m-3 7h3m-3 12h3m-3 8h3m-3 3h3m-2-62h3m-3 17h3m-3 9h3m-3 11h3m-3 6h3m-3 62h3m-2-95h3m-3 13h3m-3 6h3m-3 23h3m-3 4h3m-3 2h3m-3 13h3m-3 4h3m-3 19h3m-2-90h3m-3 12h3m-3 4h3m-3 4h3m-3 6h3m-3 3h3m-3 22h3m-3 2h3m-3 3h3m-3 6h3m-3 7h3m-3 15h3m-3 85h3m-2-164h3m-3 24h3m-3 6h3m-3 8h3m-3 1h3m-3 3h3m-3 7h3m-3 3h3m-3 32h3m-2-73h3m-3 2h3m-3 23h3m-3 8h3m-3 3h3m-3 7h3m-2-65h3m-3 1h3m-3 29h3m-3 4h3m-3 7h3m-3 10h3m-3 5h3m-3 1h3m-3 8h3m-3 69h3m-2-111h3m-3 1h3m-3 13h3m-3 9h3m-3 8h3m-3 1h3m-3 0h3m-3 13h3m-3 30h3m-2-73h3m-3 4h3m-3 4h3m-3 12h3m-3 1h3m-3 8h3m-3 22h3m-3 25h3m-2-87h3m-3 3h3m-3 4h3m-3 3h3m-3 20h3m-3 1h3m-3 11h3m-3 2h3m-3 9h3m-3 3h3m-3 27h3m-2-59h3m-3 1h3m-3 1h3m-3 18h3m-3 14h3m-3 35h3m-3 72h3m-2-170h3m-3 9h3m-3 1h3m-3 15h3m-3 43h3m-3 19h3m-3 1h3m-2-79h3m-3 18h3m-3 0h3m-3 19h3m-3 18h3m-2-62h3m-3 7h3m-3 13h3m-3 9h3m-3 20h3m-3 9h3m-3 2h3m-3 5h3m-2-87h3m-3 14h3m-3 16h3m-3 5h3m-3 9h3m-3 3h3m-3 4h3m-3 20h3m-2-45h3m-3 16h3m-3 2h3m-3 2h3m-3 7h3m-3 1h3m-3 8h3m-3 10h3m-3 2h3m-3 2h3m-3 5h3m-2-57h3m-3 11h3m-3 10h3m-3 1h3m-3 11h3m-3 3h3m-3 4h3m-3 8h3m-3 0h3m-3 5h3m-3 1h3m-3 0h3m-3 6h3m-3 3h3m-3 1h3m-2-60h3m-3 4h3m-3 4h3m-3 4h3m-3 4h3m-3 14h3m-3 15h3m-3 4h3m-3 22h3m-2-130h3m-3 75h3m-3 18h3m-3 22h3m-3 7h3m-2-69h3m-3 12h3m-3 11h3m-3 2h3m-3 5h3m-3 2h3m-3 10h3m-3 8h3m-3 3h3m-3 6h3m-3 1h3m-3 0h3m-3 58h3m-2-102h3m-3 9h3m-3 4h3m-3 7h3m-3 3h3m-3 2h3m-3 13h3m-3 7h3m-3 14h3m-3 49h3m-2-100h3m-3 6h3m-3 4h3m-3 3h3m-3 2h3m-3 5h3m-3 9h3m-3 8h3m-3 3h3m-3 41h3m-2-73h3m-3 0h3m-3 9h3m-3 11h3m-3 5h3m-3 75h3m-2-133h3m-3 22h3m-3 4h3m-3 7h3m-3 12h3m-3 1h3m-3 7h3m-3 2h3m-3 1h3m-3 3h3m-3 7h3m-3 2h3m-3 3h3m-3 14h3m-2-57h3m-3 0h3m-3 1h3m-3 10h3m-3 1h3m-3 11h3m-3 4h3m-3 1h3m-3 16h3m-3 21h3m-2-80h3m-3 6h3m-3 5h3m-3 0h3m-3 19h3m-3 11h3m-3 13h3m-3 3h3m-3 15h3m-2-68h3m-3 5h3m-3 2h3m-3 8h3m-3 5h3m-3 6h3m-3 1h3m-3 3h3m-3 5h3m-3 6h3m-3 21h3m-3 2h3m-3 20h3m-2-109h3m-3 23h3m-3 16h3m-3 4h3m-3 6h3m-3 12h3m-3 5h3m-3 15h3m-3 4h3m-3 3h3m-2-69h3m-3 26h3m-3 4h3m-3 10h3m-3 19h3m-3 19h3m-2-77h3m-3 3h3m-3 9h3m-3 1h3m-3 1h3m-3 8h3m-3 3h3m-3 8h3m-3 3h3m-3 6h3m-3 29h3m-3 6h3m-3 1h3m-3 39h3m-2-134h3m-3 5h3m-3 37h3m-3 5h3m-3 6h3m-3 5h3m-3 2h3m-3 21h3m-3 50h3m-2-112h3m-3 19h3m-3 4h3m-3 1h3m-3 12h3m-3 16h3m-3 3h3m-3 9h3m-3 7h3m-2-60h3m-3 12h3m-3 7h3m-3 4h3m-3 3h3m-3 1h3m-3 1h3m-3 9h3m-3 5h3m-3 6h3m-3 9h3m-2-54h3m-3 1h3m-3 1h3m-3 14h3m-3 3h3m-3 1h3m-2-61h3m-3 11h3m-3 16h3m-3 12h3m-3 3h3m-3 4h3m-3 3h3m-3 4h3m-3 2h3m-3 1h3m-3 2h3m-3 4h3m-3 1h3m-3 2h3m-3 7h3m-3 2h3m-3 3h3m-3 4h3m-3 7h3m-3 35h3m-2-86h3m-3 8h3m-3 3h3m-3 0h3m-3 2h3m-3 7h3m-3 1h3m-3 3h3m-3 3h3m-3 3h3m-2-41h3m-3 12h3m-3 15h3m-3 13h3m-3 1h3m-3 3h3m-3 1h3m-3 4h3m-3 1h3m-3 2h3m-3 3h3m-3 7h3m-3 13h3m-2-75h3m-3 10h3m-3 8h3m-3 2h3m-3 2h3m-3 23h3m-3 0h3m-3 1h3m-3 18h3m-3 7h3m-3 7h3m-2-80h3m-3 12h3m-3 12h3m-3 5h3m-3 3h3m-3 8h3m-3 13h3m-3 11h3m-3 1h3m-3 26h3m-2-92h3m-3 11h3m-3 1h3m-3 10h3m-3 8h3m-3 4h3m-3 20h3m-3 3h3m-3 10h3m-3 0h3m-3 0h3m-3 56h3m-2-133h3m-3 26h3m-3 10h3m-3 10h3m-3 12h3m-3 3h3m-3 1h3m-3 0h3m-3 10h3m-3 8h3m-3 15h3m-2-98h3m-3 31h3m-3 7h3m-3 9h3m-3 1h3m-3 4h3m-3 1h3m-3 2h3m-3 0h3m-3 11h3m-3 3h3m-3 19h3m-3 6h3m-3 12h3m-3 43h3m-2-149h3m-3 18h3m-3 6h3m-3 1h3m-3 10h3m-3 6h3m-3 2h3m-3 2h3m-3 6h3m-3 4h3m-3 3h3m-3 8h3m-3 9h3m-2-50h3m-3 0h3m-3 1h3m-3 8h3m-3 1h3m-3 7h3m-3 8h3m-3 7h3m-3 3h3m-3 6h3m-3 4h3m-2-42h3m-3 9h3m-3 16h3m-3 5h3m-3 2h3m-3 5h3m-3 2h3m-3 10h3m-3 4h3m-3 11h3m-3 1h3m-3 8h3m-2-110h3m-3 29h3m-3 12h3m-3 9h3m-3 7h3m-3 8h3m-3 3h3m-3 7h3m-2-48h3m-3 17h3m-3 3h3m-3 4h3m-3 18h3m-3 0h3m-3 8h3m-3 1h3m-2-41h3m-3 0h3m-3 5h3m-3 8h3m-3 7h3m-3 16h3m-2-59h3m-3 29h3m-3 4h3m-3 3h3m-3 2h3m-3 1h3m-3 12h3m-3 2h3m-2-49h3m-3 10h3m-3 22h3m-3 2h3m-3 27h3m-3 6h3m-3 6h3m-3 2h3m-2-51h3m-3 1h3m-3 1h3m-3 6h3m-3 5h3m-3 5h3m-3 5h3m-3 3h3m-3 5h3m-3 0h3m-3 1h3m-3 3h3m-3 3h3m-3 7h3m-3 5h3m-3 6h3m-2-76h3m-3 21h3m-3 7h3m-3 3h3m-3 11h3m-3 4h3m-3 1h3m-3 6h3m-3 6h3m-2-49h3m-3 11h3m-3 6h3m-3 3h3m-3 7h3m-3 8h3m-3 17h3m-3 2h3m-3 7h3m-3 17h3m-2-66h3m-3 6h3m-3 0h3m-3 0h3m-3 4h3m-3 1h3m-3 1h3m-3 3h3m-3 1h3m-3 1h3m-3 3h3m-3 22h3m-2-40h3m-3 4h3m-3 3h3m-3 11h3m-3 7h3m-3 0h3m-3 4h3m-3 3h3m-3 0h3m-3 15h3m-3 13h3m-2-81h3m-3 20h3m-3 5h3m-3 4h3m-3 3h3m-3 3h3m-3 15h3m-3 8h3m-3 1h3m-3 0h3m-3 10h3m-3 0h3m-3 11h3m-2-56h3m-3 4h3m-3 20h3m-3 2h3m-3 2h3m-2-29h3m-3 6h3m-3 4h3m-3 1h3m-3 4h3m-3 9h3m-3 3h3m-3 1h3m-3 3h3m-3 8h3m-3 8h3m-3 17h3m-3 86h3m-2-173h3m-3 33h3m-3 26h3m-3 4h3m-3 5h3m-3 0h3m-3 0h3m-3 12h3m-3 2h3m-2-56h3m-3 9h3m-3 2h3m-3 4h3m-3 0h3m-3 5h3m-3 1h3m-3 10h3m-3 1h3m-3 3h3m-3 16h3m-2-58h3m-3 1h3m-3 21h3m-3 2h3m-3 3h3m-3 1h3m-3 5h3m-3 0h3m-3 3h3m-3 19h3m-2-47h3m-3 8h3m-3 4h3m-3 12h3m-3 6h3m-3 4h3m-3 7h3m-3 96h3m-2-142h3m-3 2h3m-3 0h3m-3 5h3m-3 8h3m-3 9h3m-3 5h3m-3 5h3m-3 3h3m-3 3h3m-2-61h3m-3 6h3m-3 19h3m-3 1h3m-3 2h3m-3 11h3m-3 5h3m-3 3h3m-3 7h3m-3 3h3m-3 1h3m-3 2h3m-3 2h3m-3 4h3m-3 5h3m-3 0h3m-3 14h3m-3 12h3m-2-67h3m-3 19h3m-3 2h3m-3 0h3m-3 1h3m-3 1h3m-3 0h3m-3 3h3m-3 1h3m-3 43h3m-2-92h3m-3 16h3m-3 4h3m-3 27h3m-3 0h3m-3 5h3m-3 2h3m-3 3h3m-3 28h3m-3 6h3m-2-79h3m-3 7h3m-3 3h3m-3 0h3m-3 8h3m-3 11h3m-3 1h3m-3 3h3m-3 9h3m-3 4h3m-3 3h3m-2-48h3m-3 5h3m-3 3h3m-3 3h3m-3 2h3m-3 0h3m-3 2h3m-3 8h3m-3 4h3m-3 4h3m-3 4h3m-3 10h3m-3 8h3m-3 0h3m-2-46h3m-3 16h3m-3 1h3m-3 14h3m-3 3h3m-3 22h3m-3 1h3m-3 16h3m-2-77h3m-3 4h3m-3 13h3m-3 5h3m-3 1h3m-3 1h3m-3 4h3m-3 6h3m-3 11h3m-3 4h3m-3 19h3m-3 51h3m-2-130h3m-3 6h3m-3 1h3m-3 5h3m-3 7h3m-3 3h3m-3 5h3m-3 3h3m-3 2h3m-3 3h3m-3 15h3m-3 2h3m-3 0h3m-3 3h3m-3 3h3m-2-41h3m-3 3h3m-3 3h3m-3 6h3m-3 2h3m-3 3h3m-3 12h3m-3 3h3m-3 2h3m-2-78h3m-3 45h3m-3 2h3m-3 1h3m-3 3h3m-3 4h3m-3 1h3m-3 1h3m-3 8h3m-3 2h3m-3 5h3m-3 12h3m-3 6h3m-3 8h3m-2-110h3m-3 52h3m-3 2h3m-3 5h3m-3 1h3m-3 10h3m-3 3h3m-3 5h3m-3 32h3m-2-69h3m-3 11h3m-3 9h3m-3 1h3m-3 31h3m-3 2h3m-3 38h3m-2-79h3m-3 15h3m-3 4h3m-3 15h3m-3 6h3m-3 0h3m-3 9h3m-3 1h3m-3 9h3m-3 56h3m-2-120h3m-3 6h3m-3 14h3m-3 0h3m-3 5h3m-3 3h3m-3 4h3m-3 22h3m-2-43h3m-3 2h3m-3 2h3m-3 4h3m-3 2h3m-3 6h3m-3 1h3m-3 4h3m-3 1h3m-3 10h3m-3 9h3m-3 18h3m-2-50h3m-3 3h3m-3 3h3m-3 4h3m-3 4h3m-3 0h3m-3 11h3m-3 2h3m-3 3h3m-2-55h3m-3 19h3m-3 15h3m-3 0h3m-3 0h3m-3 8h3m-3 1h3m-2-23h3m-3 10h3m-3 4h3m-3 1h3m-3 3h3m-3 8h3m-2-45h3m-3 7h3m-3 0h3m-3 7h3m-3 6h3m-3 10h3m-3 2h3m-3 3h3m-3 0h3m-3 0h3m-3 1h3m-3 4h3m-3 19h3m-3 5h3m-3 1h3m-2-72h3m-3 9h3m-3 0h3m-3 11h3m-3 3h3m-3 2h3m-3 13h3m-3 4h3m-3 7h3m-3 3h3m-3 7h3m-2-43h3m-3 6h3m-3 2h3m-3 14h3m-3 6h3m-3 3h3m-3 2h3m-3 1h3m-3 8h3m-3 3h3m-3 0h3m-3 22h3m-2-56h3m-3 6h3m-3 0h3m-3 11h3m-3 2h3m-3 2h3m-3 3h3m-3 6h3m-3 11h3m-3 25h3m-3 9h3m-2-99h3m-3 30h3m-3 2h3m-3 7h3m-3 1h3m-3 1h3m-3 1h3m-3 5h3m-3 2h3m-3 0h3m-3 5h3m-3 8h3m-3 6h3m-2-21h3m-3 7h3m-3 1h3m-3 6h3m-3 4h3m-3 11h3m-2-65h3m-3 30h3m-3 3h3m-3 3h3m-3 11h3m-2-44h3m-3 15h3m-3 1h3m-3 10h3m-3 4h3m-3 2h3m-3 1h3m-3 5h3m-3 5h3m-3 0h3m-3 2h3m-3 16h3m-2-38h3m-3 11h3m-3 4h3m-3 2h3m-3 2h3m-3 5h3m-3 15h3m-3 3h3m-3 0h3m-2-47h3m-3 11h3m-3 4h3m-3 6h3m-3 1h3m-3 12h3m-3 7h3m-3 0h3m-3 40h3m-3 8h3m-2-99h3m-3 12h3m-3 1h3m-3 3h3m-3 5h3m-3 1h3m-3 15h3m-3 6h3m-3 1h3m-3 7h3m-3 1h3m-2-36h3m-3 13h3m-3 22h3m-2-39h3m-3 4h3m-3 1h3m-3 0h3m-3 1h3m-3 2h3m-3 4h3m-3 3h3m-3 4h3m-3 1h3m-3 2h3m-3 7h3m-2-33h3m-3 11h3m-3 5h3m-3 6h3m-3 4h3m-3 2h3m-3 3h3m-3 2h3m-3 3h3m-3 4h3m-3 7h3m-3 46h3m-2-82h3m-3 4h3m-3 13h3m-3 2h3m-3 2h3m-3 2h3m-3 5h3m-2-34h3m-3 4h3m-3 3h3m-3 4h3m-3 3h3m-3 3h3m-3 6h3m-3 1h3m-3 4h3m-3 1h3m-3 9h3m-3 8h3m-3 10h3m-2-55h3m-3 1h3m-3 9h3m-3 8h3m-3 8h3m-3 3h3m-3 7h3m-3 14h3m-3 7h3m-2-75h3m-3 24h3m-3 9h3m-3 3h3m-3 0h3m-3 2h3m-3 10h3m-3 6h3m-3 22h3m-2-62h3m-3 3h3m-3 12h3m-3 2h3m-3 5h3m-3 6h3m-3 2h3m-3 1h3m-3 4h3m-3 4h3m-3 0h3m-3 1h3m-3 2h3m-2-22h3m-3 6h3m-3 2h3m-3 5h3m-3 0h3m-3 1h3m-3 12h3m-3 3h3m-3 1h3m-3 0h3m-3 18h3m-2-51h3m-3 1h3m-3 1h3m-3 3h3m-3 1h3m-3 1h3m-3 1h3m-3 1h3m-3 0h3m-3 7h3m-3 2h3m-3 0h3m-3 1h3m-3 1h3m-3 7h3m-3 10h3m-3 2h3m-3 35h3m-2-67h3m-3 2h3m-3 10h3m-3 6h3m-3 10h3m-3 4h3m-3 9h3m-3 9h3m-2-56h3m-3 3h3m-3 4h3m-3 3h3m-3 2h3m-3 4h3m-3 3h3m-3 5h3m-3 5h3m-3 9h3m-3 5h3m-3 31h3m-2-77h3m-3 9h3m-3 2h3m-3 6h3m-3 2h3m-3 2h3m-3 7h3m-3 1h3m-3 3h3m-3 0h3m-3 1h3m-3 16h3m-3 6h3m-3 16h3m-2-61h3m-3 9h3m-3 4h3m-3 6h3m-3 2h3m-3 2h3m-3 0h3m-3 0h3m-3 1h3m-3 9h3m-3 1h3m-3 20h3m-2-49h3m-3 16h3m-3 4h3m-3 5h3m-3 1h3m-3 4h3m-3 3h3m-3 5h3m-2-40h3m-3 13h3m-3 9h3m-3 2h3m-3 5h3m-3 1h3m-3 21h3m-3 1h3m-2-20h3m-3 0h3m-3 0h3m-3 4h3m-3 0h3m-3 1h3m-3 1h3m-3 8h3m-3 6h3m-3 13h3m-2-38h3m-3 0h3m-3 1h3m-3 0h3m-3 2h3m-3 0h3m-3 2h3m-3 2h3m-3 2h3m-3 3h3m-3 15h3m-3 47h3m-3 10h3m-2-95h3m-3 19h3m-3 8h3m-3 1h3m-3 1h3m-3 11h3m-3 10h3m-2-29h3m-3 0h3m-3 6h3m-3 2h3m-3 3h3m-3 2h3m-3 1h3m-3 6h3m-3 3h3m-3 3h3m-3 2h3m-3 3h3m-3 16h3m-2-33h3m-3 0h3m-3 2h3m-3 11h3m-3 8h3m-2-24h3m-3 11h3m-3 2h3m-3 8h3m-3 0h3m-3 9h3m-3 2h3m-3 1h3m-3 4h3m-3 24h3m-3 1h3m-2-53h3m-3 1h3m-3 4h3m-3 0h3m-3 1h3m-3 3h3m-3 2h3m-3 5h3m-3 5h3m-3 3h3m-3 2h3m-3 2h3m-3 9h3m-3 1h3m-3 15h3m-2-43h3m-3 2h3m-3 11h3m-3 0h3m-3 5h3m-3 1h3m-3 1h3m-3 1h3m-3 2h3m-3 2h3m-3 9h3m-3 0h3m-3 1h3m-2-16h3m-3 12h3m-3 3h3" stroke="#80c97c" stroke-opacity="0.75" stroke-width="2.6" fill="none"/>
<line x1="970.00" y1="924.50" x2="1180.90" y2="1031.90" stroke="#7a7a7a" stroke-width="1.7" />
<rect x="959.60" y="862.80" width="232.20" height="232.10" fill="none" stroke="#a8a8a8" stroke-width="1.0" />
<linearGradient id="gg2" x1="0" x2="1" y1="0" y2="0"><stop offset="0" stop-color="#ffee00"/><stop offset="0.3" stop-color="#fbc10e"/><stop offset="0.6" stop-color="#f5922a"/><stop offset="0.85" stop-color="#ee5f33"/><stop offset="1" stop-color="#e5392f"/></linearGradient>
<path d="M959.1,1111.7 L1191.8,1097.2 L1191.8,1111.7Z" fill="url(#gg2)"/>
<text x="1074" y="1129.1" font-size="18.5" text-anchor="middle" fill="#1a1a1a" >Ranked pan-H3Kac in VG</text>
<text x="0.8" y="1202" font-size="28.6" text-anchor="start" fill="#111" font-weight="bold" >H</text>
<text x="304.7" y="1209.2" font-size="24.5" text-anchor="middle" fill="#1a1a1a" >Cluster III Peaks</text>
<line x1="80.70" y1="1214.20" x2="539.50" y2="1214.20" stroke="#111" stroke-width="2.1" />
<line x1="50.90" y1="1286.30" x2="53.90" y2="1286.30" stroke="#555" stroke-width="1" />
<text x="49.9" y="1293.6" font-size="20.6" text-anchor="end" fill="#1a1a1a" >4</text>
<line x1="50.90" y1="1365.90" x2="53.90" y2="1365.90" stroke="#555" stroke-width="1" />
<text x="49.9" y="1373.2" font-size="20.6" text-anchor="end" fill="#1a1a1a" >2</text>
<line x1="50.90" y1="1445.00" x2="53.90" y2="1445.00" stroke="#555" stroke-width="1" />
<text x="49.9" y="1452.3" font-size="20.6" text-anchor="end" fill="#1a1a1a" >0</text>
<text x="32.8" y="1347" font-size="18.1" text-anchor="middle" fill="#1a1a1a" transform="rotate(-90 32.8 1347)" >Log2(FC of pan-H3Kac in AC)</text>
<filter id="bh1" x="-10%" y="-20%" width="120%" height="140%"><feGaussianBlur stdDeviation="3.2"/></filter>
<clipPath id="cbh1"><rect x="63.3" y="0" width="212.3" height="1492"/></clipPath>
<g clip-path="url(#cbh1)"><path d="M64.8,1267.8 L68.3,1270.8 L71.8,1273.8 L75.3,1276.1 L78.8,1278.0 L82.2,1279.8 L85.7,1281.7 L89.2,1283.6 L92.7,1285.5 L96.2,1287.3 L99.7,1289.2 L103.2,1291.1 L106.7,1293.0 L110.1,1294.8 L113.6,1296.7 L117.1,1298.6 L120.6,1300.4 L124.1,1302.3 L127.6,1304.2 L131.1,1305.8 L134.6,1307.5 L138.1,1309.2 L141.5,1310.8 L145.0,1312.5 L148.5,1314.1 L152.0,1315.8 L155.5,1317.5 L159.0,1319.1 L162.5,1320.8 L166.0,1322.4 L169.4,1324.1 L172.9,1325.7 L176.4,1327.3 L179.9,1328.9 L183.4,1330.4 L186.9,1332.0 L190.4,1333.6 L193.9,1335.2 L197.4,1336.8 L200.8,1338.4 L204.3,1340.0 L207.8,1341.5 L211.3,1343.1 L214.8,1344.5 L218.3,1345.9 L221.8,1347.3 L225.3,1348.7 L228.8,1350.1 L232.2,1351.5 L235.7,1352.9 L239.2,1354.2 L242.7,1355.6 L246.2,1357.9 L249.7,1360.1 L253.2,1362.4 L256.7,1365.3 L260.1,1368.8 L263.6,1374.6 L267.1,1381.5 L270.6,1397.9 L274.1,1426.4 L274.1,1435.8 L270.6,1411.2 L267.1,1398.4 L263.6,1393.8 L260.1,1390.2 L256.7,1388.9 L253.2,1388.2 L249.7,1386.7 L246.2,1385.1 L242.7,1383.5 L239.2,1382.8 L235.7,1382.1 L232.2,1381.4 L228.8,1380.7 L225.3,1380.0 L221.8,1379.3 L218.3,1378.6 L214.8,1377.9 L211.3,1377.2 L207.8,1376.3 L204.3,1375.4 L200.8,1374.5 L197.4,1373.6 L193.9,1372.7 L190.4,1371.8 L186.9,1370.9 L183.4,1370.0 L179.9,1369.1 L176.4,1368.2 L172.9,1367.3 L169.4,1366.4 L166.0,1365.2 L162.5,1364.0 L159.0,1362.8 L155.5,1361.6 L152.0,1360.5 L148.5,1359.3 L145.0,1358.1 L141.5,1356.9 L138.1,1355.7 L134.6,1354.5 L131.1,1353.3 L127.6,1352.1 L124.1,1350.7 L120.6,1349.3 L117.1,1347.9 L113.6,1346.5 L110.1,1345.1 L106.7,1343.7 L103.2,1342.3 L99.7,1340.9 L96.2,1339.5 L92.7,1338.1 L89.2,1336.7 L85.7,1335.3 L82.2,1333.9 L78.8,1332.5 L75.3,1331.1 L71.8,1329.2 L68.3,1326.7 L64.8,1324.2Z" fill="#f05d4a" fill-opacity="0.72" filter="url(#bh1)"/></g>
<path transform="scale(.5)" d="M129 2502h3m-3 27h3m-3 1h3m-3 4h3m-3 9h3m-3 6h3m-3 6h3m-3 10h3m-3 14h3m-3 36h3m-2-93h3m-3 1h3m-3 0h3m-3 34h3m-3 4h3m-3 5h3m-3 22h3m-3 5h3m-3 3h3m-3 10h3m-3 8h3m-3 4h3m-3 11h3m-3 4h3m-3 1h3m-3 6h3m-3 0h3m-3 1h3m-3 4h3m-2-191h3m-3 29h3m-3 37h3m-3 5h3m-3 20h3m-3 9h3m-3 9h3m-3 5h3m-3 29h3m-3 7h3m-3 1h3m-3 11h3m-3 2h3m-3 35h3m-3 21h3m-3 7h3m-2-180h3m-3 3h3m-3 14h3m-3 2h3m-3 9h3m-3 16h3m-3 18h3m-3 13h3m-3 5h3m-3 13h3m-3 10h3m-3 18h3m-3 54h3m-3 33h3m-2-193h3m-3 11h3m-3 2h3m-3 7h3m-3 4h3m-3 18h3m-3 26h3m-3 1h3m-3 2h3m-3 8h3m-3 0h3m-3 2h3m-3 2h3m-3 7h3m-3 2h3m-3 1h3m-3 18h3m-3 22h3m-3 7h3m-3 1h3m-3 9h3m-3 2h3m-3 3h3m-3 2h3m-3 20h3m-3 8h3m-3 79h3m-2-276h3m-3 14h3m-3 30h3m-3 0h3m-3 14h3m-3 4h3m-3 14h3m-3 38h3m-3 6h3m-3 0h3m-3 15h3m-3 7h3m-3 1h3m-3 3h3m-3 9h3m-3 18h3m-3 4h3m-3 2h3m-2-141h3m-3 30h3m-3 3h3m-3 1h3m-3 6h3m-3 8h3m-3 5h3m-3 5h3m-3 4h3m-3 6h3m-3 3h3m-3 6h3m-3 1h3m-3 9h3m-3 8h3m-3 0h3m-3 3h3m-3 4h3m-3 34h3m-2-163h3m-3 24h3m-3 20h3m-3 10h3m-3 4h3m-3 6h3m-3 6h3m-3 7h3m-3 4h3m-3 6h3m-3 23h3m-3 1h3m-3 1h3m-3 12h3m-3 8h3m-3 36h3m-3 76h3m-2-261h3m-3 2h3m-3 2h3m-3 30h3m-3 6h3m-3 4h3m-3 3h3m-3 11h3m-3 6h3m-3 0h3m-3 3h3m-3 1h3m-3 6h3m-3 13h3m-3 24h3m-3 4h3m-3 19h3m-3 1h3m-3 8h3m-3 2h3m-3 15h3m-3 42h3m-3 2h3m-2-214h3m-3 57h3m-3 27h3m-3 6h3m-3 1h3m-3 7h3m-3 32h3m-3 21h3m-3 5h3m-3 5h3m-3 10h3m-3 11h3m-2-155h3m-3 13h3m-3 24h3m-3 3h3m-3 11h3m-3 7h3m-3 2h3m-3 2h3m-3 1h3m-3 8h3m-3 8h3m-3 0h3m-3 34h3m-3 16h3m-3 6h3m-3 2h3m-3 2h3m-3 29h3m-2-133h3m-3 1h3m-3 3h3m-3 7h3m-3 9h3m-3 0h3m-3 0h3m-3 17h3m-3 10h3m-3 13h3m-3 2h3m-3 2h3m-3 5h3m-3 3h3m-3 0h3m-3 4h3m-3 5h3m-3 2h3m-3 6h3m-3 7h3m-3 16h3m-3 6h3m-3 4h3m-3 12h3m-2-122h3m-3 13h3m-3 11h3m-3 0h3m-3 2h3m-3 2h3m-3 2h3m-3 5h3m-3 13h3m-3 23h3m-3 29h3m-3 17h3m-3 22h3m-2-157h3m-3 25h3m-3 2h3m-3 38h3m-3 19h3m-3 0h3m-3 24h3m-3 8h3m-3 3h3m-2-120h3m-3 17h3m-3 39h3m-3 16h3m-3 5h3m-3 16h3m-3 1h3m-3 21h3m-3 0h3m-3 28h3m-2-199h3m-3 18h3m-3 43h3m-3 1h3m-3 19h3m-3 3h3m-3 7h3m-3 4h3m-3 1h3m-3 3h3m-3 7h3m-3 5h3m-3 16h3m-3 3h3m-3 2h3m-3 14h3m-3 13h3m-3 1h3m-3 1h3m-3 26h3m-3 41h3m-3 14h3m-3 12h3m-2-227h3m-3 23h3m-3 25h3m-3 5h3m-3 1h3m-3 4h3m-3 3h3m-3 22h3m-3 8h3m-3 11h3m-3 1h3m-3 13h3m-3 8h3m-3 14h3m-3 13h3m-3 6h3m-3 1h3m-3 2h3m-3 5h3m-2-137h3m-3 16h3m-3 15h3m-3 2h3m-3 0h3m-3 5h3m-3 23h3m-3 13h3m-3 3h3m-3 1h3m-3 10h3m-3 17h3m-3 5h3m-3 1h3m-3 7h3m-3 23h3m-3 15h3m-3 12h3m-3 8h3m-3 44h3m-2-220h3m-3 12h3m-3 12h3m-3 10h3m-3 7h3m-3 2h3m-3 13h3m-3 1h3m-3 6h3m-3 3h3m-3 8h3m-3 10h3m-3 22h3m-3 0h3m-3 3h3m-3 3h3m-3 16h3m-3 6h3m-3 9h3m-3 38h3m-2-172h3m-3 3h3m-3 2h3m-3 31h3m-3 2h3m-3 18h3m-3 19h3m-3 17h3m-3 11h3m-3 6h3m-3 20h3m-3 119h3m-2-241h3m-3 4h3m-3 17h3m-3 5h3m-3 6h3m-3 8h3m-3 8h3m-3 2h3m-3 14h3m-3 5h3m-3 2h3m-3 3h3m-3 2h3m-3 14h3m-3 21h3m-3 3h3m-3 14h3m-3 26h3m-3 81h3m-2-276h3m-3 15h3m-3 6h3m-3 9h3m-3 26h3m-3 33h3m-3 0h3m-3 1h3m-3 9h3m-3 1h3m-3 0h3m-3 0h3m-3 4h3m-3 3h3m-3 3h3m-3 6h3m-3 24h3m-3 17h3m-3 1h3m-3 17h3m-2-189h3m-3 32h3m-3 7h3m-3 6h3m-3 18h3m-3 1h3m-3 1h3m-3 5h3m-3 16h3m-3 9h3m-3 1h3m-3 4h3m-3 3h3m-3 0h3m-3 13h3m-3 5h3m-3 8h3m-3 40h3m-3 4h3m-3 1h3m-3 14h3m-3 43h3m-2-213h3m-3 19h3m-3 20h3m-3 0h3m-3 28h3m-3 19h3m-3 5h3m-3 3h3m-3 2h3m-3 40h3m-3 22h3m-3 63h3m-2-187h3m-3 18h3m-3 32h3m-3 10h3m-3 2h3m-3 5h3m-3 3h3m-3 2h3m-3 2h3m-3 1h3m-3 17h3m-3 23h3m-3 20h3m-3 1h3m-3 36h3m-3 30h3m-2-233h3m-3 6h3m-3 18h3m-3 0h3m-3 0h3m-3 7h3m-3 24h3m-3 3h3m-3 5h3m-3 2h3m-3 3h3m-3 4h3m-3 4h3m-3 12h3m-3 6h3m-3 1h3m-3 10h3m-3 34h3m-3 10h3m-3 53h3m-2-203h3m-3 47h3m-3 4h3m-3 4h3m-3 4h3m-3 5h3m-3 5h3m-3 0h3m-3 18h3m-3 25h3m-3 5h3m-3 24h3m-3 23h3m-3 4h3m-3 13h3m-3 4h3m-2-176h3m-3 11h3m-3 1h3m-3 31h3m-3 12h3m-3 1h3m-3 0h3m-3 2h3m-3 10h3m-3 6h3m-3 0h3m-3 7h3m-3 38h3m-3 35h3m-3 2h3m-2-151h3m-3 25h3m-3 42h3m-3 10h3m-3 3h3m-3 9h3m-3 7h3m-3 2h3m-3 11h3m-3 11h3m-3 10h3m-3 0h3m-2-136h3m-3 11h3m-3 6h3m-3 24h3m-3 7h3m-3 3h3m-3 1h3m-3 0h3m-3 18h3m-3 1h3m-3 2h3m-3 3h3m-3 3h3m-3 2h3m-3 7h3m-3 3h3m-3 2h3m-3 3h3m-3 1h3m-3 9h3m-3 5h3m-3 5h3m-3 20h3m-3 38h3m-3 28h3m-2-214h3m-3 22h3m-3 11h3m-3 20h3m-3 10h3m-3 4h3m-3 1h3m-3 1h3m-3 7h3m-3 9h3m-3 9h3m-3 5h3m-3 4h3m-3 4h3m-3 11h3m-3 15h3m-3 4h3m-3 12h3m-3 19h3m-2-159h3m-3 26h3m-3 14h3m-3 1h3m-3 3h3m-3 6h3m-3 20h3m-3 2h3m-3 9h3m-3 30h3m-3 0h3m-3 25h3m-3 4h3m-3 0h3m-3 3h3m-3 8h3m-3 10h3m-3 6h3m-3 22h3m-3 19h3m-2-232h3m-3 28h3m-3 22h3m-3 11h3m-3 2h3m-3 1h3m-3 26h3m-3 4h3m-3 3h3m-3 3h3m-3 10h3m-3 8h3m-3 2h3m-3 8h3m-3 3h3m-3 5h3m-3 0h3m-3 10h3m-3 1h3m-3 11h3m-3 10h3m-3 8h3m-3 17h3m-2-154h3m-3 21h3m-3 12h3m-3 3h3m-3 5h3m-3 10h3m-3 6h3m-3 1h3m-3 18h3m-3 0h3m-3 12h3m-3 1h3m-3 1h3m-3 48h3m-3 12h3m-2-168h3m-3 4h3m-3 15h3m-3 10h3m-3 9h3m-3 0h3m-3 4h3m-3 2h3m-3 2h3m-3 7h3m-3 2h3m-3 6h3m-3 17h3m-3 1h3m-3 8h3m-3 17h3m-3 10h3m-3 6h3m-3 2h3m-3 3h3m-3 5h3m-3 7h3m-3 9h3m-3 0h3m-3 1h3m-3 1h3m-2-145h3m-3 25h3m-3 25h3m-3 19h3m-3 1h3m-3 3h3m-3 2h3m-3 3h3m-3 23h3m-3 4h3m-3 1h3m-3 2h3m-3 10h3m-3 5h3m-3 62h3m-3 5h3m-2-184h3m-3 10h3m-3 2h3m-3 5h3m-3 22h3m-3 5h3m-3 5h3m-3 8h3m-3 14h3m-3 15h3m-3 17h3m-3 3h3m-3 11h3m-3 15h3m-3 27h3m-3 17h3m-2-174h3m-3 4h3m-3 15h3m-3 23h3m-3 23h3m-3 10h3m-3 0h3m-3 23h3m-3 1h3m-3 1h3m-3 20h3m-3 8h3m-3 6h3m-3 36h3m-2-172h3m-3 37h3m-3 4h3m-3 1h3m-3 3h3m-3 1h3m-3 20h3m-3 11h3m-3 9h3m-3 35h3m-3 3h3m-3 30h3m-2-138h3m-3 3h3m-3 32h3m-3 10h3m-3 0h3m-3 3h3m-3 6h3m-3 17h3m-3 18h3m-3 6h3m-3 4h3m-3 102h3m-2-277h3m-3 80h3m-3 12h3m-3 6h3m-3 43h3m-3 4h3m-3 7h3m-3 14h3m-3 4h3m-3 3h3m-3 17h3m-3 24h3m-3 18h3m-2-145h3m-3 18h3m-3 3h3m-3 5h3m-3 9h3m-3 2h3m-3 3h3m-3 23h3m-3 1h3m-3 0h3m-3 3h3m-3 4h3m-3 10h3m-3 5h3m-3 2h3m-3 11h3m-3 10h3m-2-134h3m-3 15h3m-3 27h3m-3 9h3m-3 6h3m-3 15h3m-3 13h3m-3 7h3m-3 18h3m-3 8h3m-3 20h3m-3 1h3m-3 57h3m-2-211h3m-3 57h3m-3 2h3m-3 8h3m-3 12h3m-3 11h3m-3 1h3m-3 1h3m-3 10h3m-3 1h3m-3 4h3m-3 5h3m-3 10h3m-3 6h3m-3 1h3m-3 0h3m-3 4h3m-3 15h3m-3 34h3m-3 26h3m-2-199h3m-3 38h3m-3 1h3m-3 4h3m-3 16h3m-3 28h3m-3 2h3m-3 1h3m-3 4h3m-3 43h3m-3 10h3m-3 37h3m-3 20h3m-2-163h3m-3 14h3m-3 3h3m-3 2h3m-3 5h3m-3 22h3m-3 2h3m-3 22h3m-3 1h3m-3 4h3m-3 4h3m-3 13h3m-3 21h3m-3 9h3m-2-119h3m-3 21h3m-3 4h3m-3 3h3m-3 3h3m-3 2h3m-3 20h3m-3 4h3m-3 4h3m-3 5h3m-3 7h3m-3 11h3m-3 26h3m-3 23h3m-3 114h3m-2-287h3m-3 19h3m-3 12h3m-3 20h3m-3 17h3m-3 6h3m-3 1h3m-3 19h3m-3 7h3m-3 29h3m-3 2h3m-3 5h3m-3 18h3m-3 11h3m-3 19h3m-3 1h3m-3 43h3m-2-231h3m-3 34h3m-3 23h3m-3 18h3m-3 5h3m-3 5h3m-3 4h3m-3 2h3m-3 0h3m-3 2h3m-3 5h3m-3 30h3m-3 4h3m-3 2h3m-3 13h3m-3 5h3m-3 1h3m-3 3h3m-3 4h3m-3 1h3m-3 36h3m-3 10h3m-3 1h3m-2-220h3m-3 21h3m-3 25h3m-3 3h3m-3 9h3m-3 21h3m-3 12h3m-3 0h3m-3 2h3m-3 13h3m-3 0h3m-3 3h3m-3 5h3m-3 6h3m-3 2h3m-3 5h3m-3 6h3m-3 4h3m-3 5h3m-3 11h3m-3 7h3m-3 1h3m-3 5h3m-3 1h3m-3 83h3m-3 72h3m-2-307h3m-3 26h3m-3 8h3m-3 2h3m-3 5h3m-3 1h3m-3 2h3m-3 3h3m-3 2h3m-3 7h3m-3 69h3m-3 2h3m-3 52h3m-3 43h3m-2-183h3m-3 4h3m-3 22h3m-3 2h3m-3 0h3m-3 9h3m-3 7h3m-3 3h3m-3 8h3m-3 21h3m-3 14h3m-3 1h3m-3 7h3m-3 3h3m-3 2h3m-3 13h3m-3 16h3m-2-193h3m-3 29h3m-3 22h3m-3 16h3m-3 0h3m-3 7h3m-3 27h3m-3 0h3m-3 1h3m-3 4h3m-3 1h3m-3 0h3m-3 4h3m-3 2h3m-3 2h3m-3 10h3m-3 7h3m-3 9h3m-3 20h3m-3 10h3m-3 21h3m-3 3h3m-2-232h3m-3 77h3m-3 7h3m-3 3h3m-3 21h3m-3 14h3m-3 0h3m-3 2h3m-3 4h3m-3 2h3m-3 20h3m-3 1h3m-3 3h3m-3 1h3m-3 6h3m-3 6h3m-3 8h3m-3 3h3m-3 2h3m-3 2h3m-3 1h3m-3 9h3m-3 10h3m-3 3h3m-3 24h3m-3 50h3m-2-244h3m-3 1h3m-3 27h3m-3 17h3m-3 40h3m-3 10h3m-3 9h3m-3 7h3m-3 1h3m-3 23h3m-3 6h3m-3 9h3m-3 5h3m-3 14h3m-3 1h3m-3 7h3m-3 14h3m-3 11h3m-3 11h3m-2-249h3m-3 72h3m-3 16h3m-3 14h3m-3 13h3m-3 0h3m-3 3h3m-3 1h3m-3 12h3m-3 2h3m-3 15h3m-3 9h3m-3 31h3m-3 1h3m-3 6h3m-3 8h3m-3 6h3m-3 21h3m-2-215h3m-3 53h3m-3 8h3m-3 16h3m-3 5h3m-3 8h3m-3 5h3m-3 8h3m-3 5h3m-3 0h3m-3 8h3m-3 3h3m-3 10h3m-3 0h3m-3 27h3m-3 5h3m-3 6h3m-3 15h3m-3 40h3m-3 19h3m-2-133h3m-3 1h3m-3 4h3m-3 3h3m-3 2h3m-3 7h3m-3 5h3m-3 0h3m-3 1h3m-3 6h3m-3 3h3m-3 9h3m-3 1h3m-3 0h3m-3 2h3m-3 1h3m-3 21h3m-3 7h3m-3 14h3m-3 1h3m-3 45h3m-3 19h3m-2-259h3m-3 26h3m-3 29h3m-3 1h3m-3 61h3m-3 5h3m-3 42h3m-3 4h3m-3 8h3m-3 13h3m-3 6h3m-3 6h3m-3 1h3m-2-172h3m-3 13h3m-3 4h3m-3 34h3m-3 1h3m-3 18h3m-3 9h3m-3 6h3m-3 9h3m-3 3h3m-3 6h3m-3 5h3m-3 15h3m-3 5h3m-3 4h3m-3 7h3m-3 6h3m-3 12h3m-3 45h3m-2-188h3m-3 18h3m-3 16h3m-3 9h3m-3 7h3m-3 12h3m-3 2h3m-3 0h3m-3 12h3m-3 3h3m-3 1h3m-3 4h3m-3 5h3m-3 1h3m-3 3h3m-3 3h3m-3 3h3m-3 1h3m-3 3h3m-3 14h3m-3 7h3m-2-60h3m-3 1h3m-3 3h3m-3 1h3m-3 3h3m-3 4h3m-3 0h3m-3 7h3m-3 16h3m-3 20h3m-3 1h3m-3 7h3m-3 18h3m-3 6h3m-3 5h3m-3 0h3m-3 4h3m-3 5h3m-3 11h3m-3 10h3m-3 41h3m-2-217h3m-3 11h3m-3 13h3m-3 7h3m-3 41h3m-3 1h3m-3 3h3m-3 1h3m-3 2h3m-3 10h3m-3 2h3m-3 1h3m-3 13h3m-3 0h3m-3 9h3m-3 0h3m-3 1h3m-3 1h3m-3 5h3m-3 0h3m-3 7h3m-3 19h3m-3 31h3m-2-185h3m-3 14h3m-3 9h3m-3 9h3m-3 33h3m-3 4h3m-3 14h3m-3 1h3m-3 18h3m-3 1h3m-3 3h3m-3 5h3m-3 16h3m-3 7h3m-3 0h3m-3 11h3m-3 19h3m-3 7h3m-2-145h3m-3 4h3m-3 17h3m-3 3h3m-3 6h3m-3 9h3m-3 9h3m-3 1h3m-3 8h3m-3 16h3m-3 0h3m-3 9h3m-3 3h3m-3 26h3m-3 13h3m-3 41h3m-3 38h3m-2-255h3m-3 36h3m-3 24h3m-3 8h3m-3 4h3m-3 0h3m-3 8h3m-3 15h3m-3 1h3m-3 23h3m-3 7h3m-3 1h3m-3 13h3m-3 7h3m-3 14h3m-3 7h3m-3 3h3m-3 15h3m-3 5h3m-3 1h3m-3 102h3m-2-229h3m-3 33h3m-3 4h3m-3 4h3m-3 3h3m-3 5h3m-3 0h3m-3 10h3m-3 28h3m-3 0h3m-3 1h3m-3 40h3m-3 34h3m-3 66h3m-3 16h3m-2-274h3m-3 15h3m-3 5h3m-3 21h3m-3 32h3m-3 2h3m-3 1h3m-3 1h3m-3 20h3m-3 1h3m-3 2h3m-3 4h3m-3 20h3m-3 4h3m-3 11h3m-3 8h3m-3 20h3m-3 7h3m-3 25h3m-2-238h3m-3 63h3m-3 11h3m-3 23h3m-3 0h3m-3 9h3m-3 4h3m-3 26h3m-3 1h3m-3 0h3m-3 12h3m-3 37h3m-3 6h3m-2-139h3m-3 15h3m-3 2h3m-3 13h3m-3 1h3m-3 7h3m-3 1h3m-3 6h3m-3 1h3m-3 12h3m-3 6h3m-3 27h3m-3 4h3m-3 2h3m-3 0h3m-3 10h3m-3 0h3m-3 8h3m-3 26h3m-3 1h3m-3 3h3m-3 126h3m-2-300h3m-3 61h3m-3 0h3m-3 4h3m-3 19h3m-3 6h3m-3 1h3m-3 3h3m-3 4h3m-3 8h3m-3 8h3m-3 2h3m-3 1h3m-3 6h3m-3 15h3m-3 1h3m-3 3h3m-3 12h3m-3 1h3m-3 14h3m-3 4h3m-2-130h3m-3 10h3m-3 5h3m-3 5h3m-3 5h3m-3 13h3m-3 2h3m-3 3h3m-3 16h3m-3 10h3m-3 12h3m-3 5h3m-3 1h3m-3 14h3m-3 38h3m-2-158h3m-3 10h3m-3 41h3m-3 0h3m-3 10h3m-3 4h3m-3 3h3m-3 3h3m-3 1h3m-3 16h3m-3 9h3m-3 23h3m-3 11h3m-3 3h3m-3 16h3m-2-123h3m-3 1h3m-3 5h3m-3 1h3m-3 24h3m-3 19h3m-3 4h3m-3 3h3m-3 10h3m-3 24h3m-3 8h3m-3 12h3m-3 9h3m-3 12h3m-3 14h3m-3 82h3m-2-291h3m-3 45h3m-3 2h3m-3 47h3m-3 9h3m-3 1h3m-3 1h3m-3 6h3m-3 4h3m-3 25h3m-3 5h3m-3 16h3m-3 17h3m-3 0h3m-2-158h3m-3 47h3m-3 4h3m-3 3h3m-3 5h3m-3 23h3m-3 2h3m-3 9h3m-3 36h3m-3 15h3m-3 8h3m-3 6h3m-3 3h3m-3 23h3m-3 113h3m-2-282h3m-3 21h3m-3 8h3m-3 4h3m-3 3h3m-3 2h3m-3 11h3m-3 11h3m-3 2h3m-3 4h3m-3 10h3m-3 9h3m-3 10h3m-3 8h3m-3 33h3m-3 5h3m-3 44h3m-3 10h3m-2-197h3m-3 5h3m-3 3h3m-3 16h3m-3 13h3m-3 10h3m-3 3h3m-3 3h3m-3 21h3m-3 0h3m-3 10h3m-3 1h3m-3 6h3m-3 5h3m-3 0h3m-3 2h3m-3 33h3m-3 36h3m-3 39h3m-3 79h3m-2-341h3m-3 68h3m-3 8h3m-3 12h3m-3 5h3m-3 1h3m-3 1h3m-3 9h3m-3 0h3m-3 5h3m-3 3h3m-3 3h3m-3 2h3m-3 4h3m-3 8h3m-3 0h3m-3 3h3m-3 5h3m-3 4h3m-3 40h3m-3 20h3m-3 7h3m-2-164h3m-3 35h3m-3 7h3m-3 2h3m-3 6h3m-3 2h3m-3 0h3m-3 3h3m-3 2h3m-3 17h3m-3 14h3m-3 2h3m-3 5h3m-3 8h3m-3 0h3m-3 0h3m-3 33h3m-3 23h3m-2-119h3m-3 31h3m-3 5h3m-3 3h3m-3 7h3m-3 2h3m-3 4h3m-3 10h3m-3 4h3m-3 4h3m-3 6h3m-3 5h3m-3 9h3m-3 4h3m-3 1h3m-3 22h3m-3 0h3m-2-160h3m-3 21h3m-3 53h3m-3 13h3m-3 3h3m-3 3h3m-3 19h3m-3 3h3m-3 9h3m-3 14h3m-3 9h3m-3 2h3m-3 10h3m-3 12h3m-3 3h3m-3 14h3m-2-119h3m-3 1h3m-3 9h3m-3 4h3m-3 8h3m-3 5h3m-3 0h3m-3 1h3m-3 6h3m-3 9h3m-3 2h3m-3 7h3m-3 1h3m-3 9h3m-3 14h3m-3 5h3m-3 22h3m-3 1h3m-3 7h3m-3 59h3m-2-227h3m-3 4h3m-3 31h3m-3 7h3m-3 4h3m-3 2h3m-3 2h3m-3 2h3m-3 3h3m-3 20h3m-3 10h3m-3 10h3m-3 2h3m-3 11h3m-3 0h3m-3 0h3m-3 33h3m-3 8h3m-3 5h3m-3 2h3m-3 13h3m-2-144h3m-3 0h3m-3 2h3m-3 2h3m-3 19h3m-3 11h3m-3 10h3m-3 7h3m-3 6h3m-3 13h3m-3 20h3m-3 33h3m-3 40h3m-3 11h3m-2-140h3m-3 2h3m-3 4h3m-3 13h3m-3 23h3m-3 52h3m-3 0h3m-3 44h3m-2-222h3m-3 36h3m-3 32h3m-3 2h3m-3 21h3m-3 1h3m-3 4h3m-3 0h3m-3 20h3m-3 6h3m-3 15h3m-3 16h3m-3 10h3m-3 18h3m-3 4h3m-3 36h3m-2-161h3m-3 10h3m-3 4h3m-3 17h3m-3 7h3m-3 5h3m-3 6h3m-3 1h3m-3 1h3m-3 9h3m-3 12h3m-3 2h3m-3 10h3m-3 12h3m-3 8h3m-2-161h3m-3 23h3m-3 34h3m-3 11h3m-3 3h3m-3 21h3m-3 24h3m-3 6h3m-3 4h3m-3 2h3m-3 13h3m-3 0h3m-3 3h3m-3 7h3m-3 4h3m-3 0h3m-3 28h3m-3 23h3m-2-123h3m-3 7h3m-3 5h3m-3 2h3m-3 10h3m-3 7h3m-3 7h3m-3 26h3m-3 2h3m-3 14h3m-3 22h3m-3 1h3m-3 28h3m-3 9h3m-2-156h3m-3 5h3m-3 29h3m-3 7h3m-3 4h3m-3 19h3m-3 3h3m-3 15h3m-3 4h3m-3 27h3m-3 70h3m-2-252h3m-3 5h3m-3 15h3m-3 34h3m-3 25h3m-3 2h3m-3 0h3m-3 1h3m-3 14h3m-3 0h3m-3 12h3m-3 1h3m-3 13h3m-3 1h3m-3 11h3m-3 13h3m-3 9h3m-3 4h3m-3 1h3m-3 3h3m-3 2h3m-3 1h3m-3 14h3m-3 6h3m-2-137h3m-3 21h3m-3 5h3m-3 2h3m-3 5h3m-3 4h3m-3 1h3m-3 5h3m-3 6h3m-3 19h3m-3 2h3m-3 2h3m-3 10h3m-3 1h3m-3 9h3m-3 8h3m-3 7h3m-3 1h3m-3 15h3m-3 1h3m-3 3h3m-3 11h3m-3 51h3m-2-219h3m-3 0h3m-3 12h3m-3 20h3m-3 10h3m-3 9h3m-3 8h3m-3 5h3m-3 5h3m-3 9h3m-3 3h3m-3 19h3m-3 1h3m-3 0h3m-3 2h3m-3 43h3m-3 21h3m-3 14h3m-3 5h3m-2-161h3m-3 21h3m-3 7h3m-3 26h3m-3 3h3m-3 16h3m-3 16h3m-3 1h3m-3 0h3m-3 4h3m-3 14h3m-3 5h3m-3 8h3m-3 3h3m-3 1h3m-3 19h3m-3 26h3m-2-183h3m-3 3h3m-3 1h3m-3 1h3m-3 26h3m-3 3h3m-3 14h3m-3 1h3m-3 7h3m-3 6h3m-3 15h3m-3 23h3m-3 2h3m-3 9h3m-3 9h3m-3 5h3m-3 3h3m-3 15h3m-3 4h3m-3 34h3m-3 6h3m-3 1h3m-3 4h3m-2-167h3m-3 5h3m-3 8h3m-3 13h3m-3 12h3m-3 5h3m-3 5h3m-3 11h3m-3 1h3m-3 6h3m-3 4h3m-3 2h3m-3 14h3m-3 8h3m-3 10h3m-3 2h3m-3 12h3m-3 24h3m-3 23h3m-3 54h3m-2-254h3m-3 16h3m-3 8h3m-3 8h3m-3 20h3m-3 0h3m-3 5h3m-3 10h3m-3 3h3m-3 2h3m-3 5h3m-3 1h3m-3 1h3m-3 0h3m-3 13h3m-3 16h3m-3 9h3m-3 3h3m-3 8h3m-3 1h3m-3 4h3m-3 3h3m-3 8h3m-3 3h3m-3 18h3m-3 42h3m-2-183h3m-3 4h3m-3 17h3m-3 5h3m-3 2h3m-3 17h3m-3 0h3m-3 7h3m-3 11h3m-3 4h3m-3 3h3m-3 15h3m-3 17h3m-3 2h3m-3 6h3m-3 26h3m-3 0h3m-3 2h3m-3 47h3m-2-240h3m-3 46h3m-3 16h3m-3 52h3m-3 4h3m-3 10h3m-3 3h3m-3 12h3m-3 6h3m-3 8h3m-3 12h3m-3 15h3m-3 6h3m-3 5h3m-2-156h3m-3 9h3m-3 9h3m-3 1h3m-3 8h3m-3 20h3m-3 7h3m-3 16h3m-3 2h3m-3 14h3m-3 1h3m-3 3h3m-3 9h3m-3 8h3m-3 4h3m-3 19h3m-3 8h3m-3 7h3m-3 18h3m-2-173h3m-3 19h3m-3 65h3m-3 4h3m-3 7h3m-3 2h3m-3 5h3m-3 3h3m-3 6h3m-3 1h3m-3 9h3m-3 11h3m-3 21h3m-3 10h3m-3 25h3m-3 21h3m-2-164h3m-3 12h3m-3 7h3m-3 4h3m-3 1h3m-3 4h3m-3 2h3m-3 9h3m-3 11h3m-3 9h3m-3 11h3m-3 3h3m-3 8h3m-3 39h3m-3 9h3m-3 2h3m-3 68h3m-3 66h3m-2-329h3m-3 36h3m-3 32h3m-3 11h3m-3 3h3m-3 10h3m-3 5h3m-3 1h3m-3 7h3m-3 1h3m-3 3h3m-3 3h3m-3 2h3m-3 2h3m-3 2h3m-3 2h3m-3 6h3m-3 24h3m-3 11h3m-3 1h3m-3 2h3m-3 20h3m-3 8h3m-3 11h3m-3 1h3m-3 6h3m-3 17h3m-2-263h3m-3 95h3m-3 1h3m-3 2h3m-3 5h3m-3 19h3m-3 6h3m-3 7h3m-3 10h3m-3 6h3m-3 3h3m-3 0h3m-3 8h3m-3 15h3m-3 1h3m-3 3h3m-3 5h3m-3 11h3m-3 18h3m-3 29h3m-3 59h3m-3 17h3m-2-269h3m-3 11h3m-3 3h3m-3 10h3m-3 19h3m-3 2h3m-3 21h3m-3 24h3m-3 0h3m-3 2h3m-3 29h3m-3 7h3m-3 8h3m-3 22h3m-3 7h3m-3 15h3m-2-120h3m-3 4h3m-3 35h3m-3 22h3m-3 4h3m-3 9h3m-3 4h3m-3 11h3m-3 16h3m-3 4h3m-3 97h3m-3 34h3m-2-306h3m-3 33h3m-3 8h3m-3 37h3m-3 2h3m-3 14h3m-3 8h3m-3 1h3m-3 0h3m-3 2h3m-3 14h3m-3 10h3m-3 3h3m-3 7h3m-3 11h3m-3 18h3m-3 49h3m-2-154h3m-3 2h3m-3 6h3m-3 14h3m-3 9h3m-3 1h3m-3 2h3m-3 10h3m-3 16h3m-3 15h3m-3 16h3m-3 0h3m-3 1h3m-3 1h3m-3 2h3m-3 1h3m-3 4h3m-3 55h3m-2-184h3m-3 2h3m-3 22h3m-3 11h3m-3 12h3m-3 14h3m-3 11h3m-3 25h3m-3 27h3m-3 12h3m-3 19h3m-3 15h3m-3 14h3m-2-203h3m-3 23h3m-3 1h3m-3 14h3m-3 3h3m-3 5h3m-3 13h3m-3 13h3m-3 6h3m-3 7h3m-3 3h3m-3 5h3m-3 13h3m-3 9h3m-3 54h3m-2-170h3m-3 40h3m-3 2h3m-3 9h3m-3 25h3m-3 23h3m-3 9h3m-3 6h3m-3 2h3m-3 6h3m-3 7h3m-3 9h3m-3 1h3m-3 2h3m-3 30h3m-2-114h3m-3 1h3m-3 0h3m-3 6h3m-3 9h3m-3 7h3m-3 3h3m-3 1h3m-3 3h3m-3 12h3m-3 16h3m-3 1h3m-3 3h3m-3 18h3m-3 1h3m-3 9h3m-3 9h3m-3 15h3m-3 36h3m-2-173h3m-3 1h3m-3 6h3m-3 3h3m-3 12h3m-3 4h3m-3 2h3m-3 0h3m-3 8h3m-3 1h3m-3 2h3m-3 6h3m-3 6h3m-3 8h3m-3 1h3m-3 10h3m-3 10h3m-3 32h3m-3 8h3m-3 17h3m-3 17h3m-2-193h3m-3 10h3m-3 6h3m-3 26h3m-3 9h3m-3 9h3m-3 1h3m-3 1h3m-3 3h3m-3 17h3m-3 14h3m-3 3h3m-3 8h3m-3 29h3m-3 11h3m-3 9h3m-3 48h3m-3 9h3m-3 12h3m-2-167h3m-3 0h3m-3 31h3m-3 3h3m-3 3h3m-3 1h3m-3 6h3m-3 7h3m-3 6h3m-3 3h3m-3 1h3m-3 11h3m-3 4h3m-3 4h3m-3 15h3m-3 18h3m-3 7h3m-3 17h3m-3 5h3m-2-167h3m-3 10h3m-3 1h3m-3 9h3m-3 24h3m-3 7h3m-3 1h3m-3 8h3m-3 1h3m-3 17h3m-3 12h3m-3 15h3m-3 58h3m-2-147h3m-3 1h3m-3 11h3m-3 13h3m-3 1h3m-3 4h3m-3 6h3m-3 17h3m-3 1h3m-3 4h3m-3 2h3m-3 4h3m-3 3h3m-3 11h3m-3 6h3m-3 0h3m-3 6h3m-3 1h3m-3 5h3m-3 5h3m-3 12h3m-3 10h3m-3 0h3m-2-166h3m-3 34h3m-3 10h3m-3 7h3m-3 10h3m-3 12h3m-3 13h3m-3 1h3m-3 7h3m-3 2h3m-3 5h3m-3 1h3m-3 2h3m-3 3h3m-3 11h3m-3 1h3m-3 15h3m-3 16h3m-3 7h3m-3 7h3m-2-179h3m-3 32h3m-3 16h3m-3 4h3m-3 17h3m-3 11h3m-3 1h3m-3 3h3m-3 5h3m-3 13h3m-3 9h3m-3 3h3m-3 5h3m-3 14h3m-3 5h3m-3 14h3m-3 3h3m-3 3h3m-3 0h3m-3 6h3m-3 23h3m-3 13h3m-3 24h3m-3 83h3m-2-279h3m-3 44h3m-3 2h3m-3 1h3m-3 0h3m-3 13h3m-3 8h3m-3 2h3m-3 2h3m-3 19h3m-3 2h3m-3 3h3m-3 19h3m-3 16h3m-3 3h3m-3 31h3m-3 2h3m-2-154h3m-3 32h3m-3 0h3m-3 0h3m-3 15h3m-3 3h3m-3 8h3m-3 15h3m-3 9h3m-3 1h3m-3 0h3m-3 14h3m-3 7h3m-3 2h3m-3 14h3m-3 38h3m-3 6h3m-2-184h3m-3 11h3m-3 14h3m-3 16h3m-3 11h3m-3 30h3m-3 17h3m-3 2h3m-3 7h3m-3 5h3m-3 3h3m-3 11h3m-3 25h3m-3 0h3m-3 9h3m-3 3h3m-2-134h3m-3 4h3m-3 0h3m-3 28h3m-3 3h3m-3 1h3m-3 10h3m-3 2h3m-3 1h3m-3 14h3m-3 10h3m-3 4h3m-3 18h3m-3 1h3m-3 3h3m-3 2h3m-3 11h3m-3 61h3m-2-203h3m-3 19h3m-3 12h3m-3 1h3m-3 3h3m-3 13h3m-3 15h3m-3 11h3m-3 6h3m-3 10h3m-3 1h3m-3 0h3m-3 6h3m-3 0h3m-3 8h3m-3 19h3m-3 2h3m-3 14h3m-3 12h3m-3 22h3m-3 12h3m-2-174h3m-3 13h3m-3 30h3m-3 3h3m-3 1h3m-3 6h3m-3 13h3m-3 14h3m-3 0h3m-3 2h3m-3 2h3m-3 1h3m-3 1h3m-3 5h3m-3 0h3m-3 7h3m-3 5h3m-3 2h3m-3 1h3m-3 6h3m-3 1h3m-3 13h3m-3 9h3m-3 11h3m-3 26h3m-2-189h3m-3 52h3m-3 6h3m-3 9h3m-3 15h3m-3 4h3m-3 5h3m-3 2h3m-3 2h3m-3 3h3m-3 0h3m-3 15h3m-3 8h3m-3 9h3m-3 20h3m-3 3h3m-3 97h3m-2-210h3m-3 11h3m-3 35h3m-3 6h3m-3 0h3m-3 2h3m-3 5h3m-3 10h3m-3 22h3m-3 1h3m-3 8h3m-3 41h3m-2-152h3m-3 23h3m-3 7h3m-3 10h3m-3 26h3m-3 6h3m-3 2h3m-3 2h3m-3 0h3m-3 12h3m-3 18h3m-3 18h3m-3 7h3m-3 42h3m-2-160h3m-3 10h3m-3 39h3m-3 2h3m-3 6h3m-3 6h3m-3 2h3m-3 10h3m-3 0h3m-3 7h3m-3 0h3m-3 3h3m-3 1h3m-3 25h3m-3 3h3m-3 12h3m-3 19h3m-3 1h3m-2-126h3m-3 11h3m-3 1h3m-3 7h3m-3 21h3m-3 1h3m-3 2h3m-3 5h3m-3 1h3m-3 11h3m-3 1h3m-3 1h3m-3 1h3m-3 1h3m-3 3h3m-3 15h3m-3 11h3m-3 4h3m-3 2h3m-3 13h3m-3 2h3m-3 6h3m-2-153h3m-3 12h3m-3 7h3m-3 21h3m-3 10h3m-3 2h3m-3 15h3m-3 47h3m-3 1h3m-3 35h3m-3 5h3m-2-164h3m-3 37h3m-3 11h3m-3 11h3m-3 1h3m-3 3h3m-3 24h3m-3 3h3m-3 7h3m-3 3h3m-3 6h3m-3 3h3m-3 3h3m-3 11h3m-3 17h3m-3 3h3m-3 7h3m-3 31h3m-3 17h3m-3 10h3m-2-193h3m-3 6h3m-3 10h3m-3 1h3m-3 4h3m-3 13h3m-3 6h3m-3 1h3m-3 8h3m-3 14h3m-3 10h3m-3 6h3m-3 2h3m-3 0h3m-3 2h3m-3 4h3m-3 3h3m-3 1h3m-3 3h3m-3 0h3m-3 2h3m-3 43h3m-3 10h3m-3 18h3m-2-160h3m-3 33h3m-3 5h3m-3 35h3m-3 5h3m-3 5h3m-3 17h3m-3 3h3m-3 8h3m-3 7h3m-3 3h3m-3 19h3m-3 17h3m-2-163h3m-3 2h3m-3 4h3m-3 15h3m-3 12h3m-3 7h3m-3 22h3m-3 5h3m-3 8h3m-3 0h3m-3 7h3m-3 11h3m-3 2h3m-3 10h3m-3 10h3m-3 7h3m-3 19h3m-3 18h3m-3 34h3m-2-265h3m-3 75h3m-3 14h3m-3 7h3m-3 18h3m-3 4h3m-3 2h3m-3 1h3m-3 4h3m-3 3h3m-3 4h3m-3 7h3m-3 2h3m-3 23h3m-3 13h3m-3 9h3m-3 13h3m-3 42h3m-3 2h3m-2-222h3m-3 15h3m-3 13h3m-3 46h3m-3 14h3m-3 2h3m-3 21h3m-3 7h3m-3 15h3m-3 35h3m-3 13h3m-3 73h3m-3 15h3m-2-222h3m-3 29h3m-3 6h3m-3 10h3m-3 10h3m-3 1h3m-3 1h3m-3 11h3m-3 3h3m-3 2h3m-3 1h3m-3 1h3m-3 6h3m-3 3h3m-3 1h3m-3 2h3m-3 8h3m-3 3h3m-3 7h3m-3 1h3m-3 9h3m-3 1h3m-3 29h3m-3 29h3m-3 6h3m-2-169h3m-3 14h3m-3 3h3m-3 18h3m-3 3h3m-3 19h3m-3 10h3m-3 10h3m-3 3h3m-3 20h3m-3 2h3m-3 2h3m-3 1h3m-3 18h3m-3 6h3m-3 12h3m-3 6h3m-3 20h3m-2-164h3m-3 1h3m-3 1h3m-3 9h3m-3 0h3m-3 13h3m-3 5h3m-3 2h3m-3 1h3m-3 2h3m-3 1h3m-3 1h3m-3 5h3m-3 0h3m-3 15h3m-3 1h3m-3 15h3m-3 0h3m-3 1h3m-3 17h3m-3 9h3m-3 22h3m-3 19h3m-3 2h3m-2-127h3m-3 28h3m-3 6h3m-3 1h3m-3 7h3m-3 8h3m-3 9h3m-3 2h3m-3 6h3m-3 1h3m-3 6h3m-3 1h3m-3 13h3m-3 2h3m-3 2h3m-3 3h3m-3 5h3m-3 68h3m-2-207h3m-3 1h3m-3 31h3m-3 6h3m-3 18h3m-3 1h3m-3 9h3m-3 0h3m-3 2h3m-3 1h3m-3 2h3m-3 7h3m-3 12h3m-3 4h3m-3 5h3m-3 2h3m-3 2h3m-3 10h3m-3 0h3m-3 34h3m-3 10h3m-3 149h3m-2-288h3m-3 2h3m-3 4h3m-3 31h3m-3 1h3m-3 1h3m-3 1h3m-3 17h3m-3 1h3m-3 4h3m-3 14h3m-3 5h3m-3 12h3m-3 7h3m-3 25h3m-3 2h3m-2-117h3m-3 2h3m-3 3h3m-3 1h3m-3 5h3m-3 11h3m-3 18h3m-3 3h3m-3 18h3m-3 1h3m-3 9h3m-3 4h3m-3 5h3m-3 0h3m-3 0h3m-3 5h3m-3 14h3m-3 5h3m-3 3h3m-3 1h3m-3 19h3m-3 3h3m-2-145h3m-3 8h3m-3 5h3m-3 0h3m-3 19h3m-3 13h3m-3 1h3m-3 16h3m-3 1h3m-3 7h3m-3 3h3m-3 5h3m-3 1h3m-3 40h3m-3 3h3m-3 6h3m-3 20h3m-3 8h3m-3 12h3m-2-191h3m-3 33h3m-3 16h3m-3 3h3m-3 14h3m-3 5h3m-3 1h3m-3 5h3m-3 12h3m-3 0h3m-3 20h3m-3 0h3m-3 3h3m-3 5h3m-3 1h3m-3 23h3m-3 1h3m-3 1h3m-3 11h3m-3 51h3m-2-225h3m-3 59h3m-3 5h3m-3 22h3m-3 1h3m-3 1h3m-3 8h3m-3 5h3m-3 2h3m-3 2h3m-3 5h3m-3 1h3m-3 5h3m-3 7h3m-3 2h3m-3 4h3m-3 2h3m-3 14h3m-3 0h3m-3 41h3m-3 7h3m-3 19h3m-3 24h3m-3 11h3m-3 71h3m-2-232h3m-3 3h3m-3 8h3m-3 13h3m-3 0h3m-3 6h3m-3 5h3m-3 3h3m-3 3h3m-3 6h3m-3 2h3m-3 0h3m-3 3h3m-3 3h3m-3 6h3m-3 15h3m-3 4h3m-3 20h3m-3 12h3m-3 3h3m-3 12h3m-3 110h3m-2-269h3m-3 5h3m-3 14h3m-3 23h3m-3 19h3m-3 4h3m-3 13h3m-3 25h3m-3 4h3m-3 2h3m-3 11h3m-3 2h3m-3 4h3m-3 7h3m-3 15h3m-3 1h3m-2-149h3m-3 46h3m-3 10h3m-3 3h3m-3 2h3m-3 6h3m-3 10h3m-3 10h3m-3 13h3m-3 8h3m-3 17h3m-3 12h3m-3 2h3m-3 30h3m-2-142h3m-3 2h3m-3 4h3m-3 7h3m-3 1h3m-3 12h3m-3 1h3m-3 3h3m-3 12h3m-3 2h3m-3 3h3m-3 2h3m-3 8h3m-3 11h3m-3 7h3m-3 1h3m-3 4h3m-3 1h3m-3 4h3m-3 27h3m-3 60h3m-2-152h3m-3 11h3m-3 1h3m-3 2h3m-3 1h3m-3 3h3m-3 4h3m-3 8h3m-3 3h3m-3 1h3m-3 2h3m-3 4h3m-3 10h3m-3 6h3m-3 3h3m-3 20h3m-3 7h3m-3 10h3m-3 12h3m-3 40h3m-2-169h3m-3 17h3m-3 8h3m-3 4h3m-3 6h3m-3 3h3m-3 0h3m-3 1h3m-3 12h3m-3 14h3m-3 6h3m-3 0h3m-3 1h3m-3 4h3m-3 2h3m-3 4h3m-3 5h3m-3 7h3m-3 54h3m-2-114h3m-3 2h3m-3 1h3m-3 13h3m-3 0h3m-3 6h3m-3 5h3m-3 7h3m-3 4h3m-3 7h3m-3 4h3m-3 10h3m-3 3h3m-3 13h3m-3 13h3m-3 14h3m-2-215h3m-3 63h3m-3 2h3m-3 12h3m-3 20h3m-3 17h3m-3 15h3m-3 0h3m-3 19h3m-3 3h3m-3 15h3m-3 32h3m-3 1h3m-3 6h3m-3 28h3m-2-178h3m-3 8h3m-3 9h3m-3 18h3m-3 0h3m-3 16h3m-3 2h3m-3 9h3m-3 3h3m-3 4h3m-3 4h3m-3 1h3m-3 1h3m-3 1h3m-3 4h3m-3 22h3m-3 1h3m-3 5h3m-3 26h3m-2-127h3m-3 9h3m-3 13h3m-3 9h3m-3 9h3m-3 10h3m-3 13h3m-3 18h3m-3 2h3m-3 10h3m-3 10h3m-3 2h3m-3 7h3m-3 4h3m-3 5h3m-3 84h3m-2-230h3m-3 32h3m-3 33h3m-3 19h3m-3 4h3m-3 1h3m-3 9h3m-3 2h3m-3 14h3m-3 4h3m-3 10h3m-3 23h3m-3 3h3m-2-169h3m-3 40h3m-3 9h3m-3 9h3m-3 2h3m-3 7h3m-3 3h3m-3 6h3m-3 12h3m-3 6h3m-3 4h3m-3 7h3m-3 1h3m-3 2h3m-3 9h3m-3 3h3m-3 3h3m-3 15h3m-2-108h3m-3 24h3m-3 29h3m-3 8h3m-3 1h3m-3 0h3m-3 6h3m-3 4h3m-3 2h3m-3 5h3m-3 3h3m-3 2h3m-3 3h3m-3 1h3m-3 2h3m-3 4h3m-3 28h3m-3 4h3m-3 13h3m-2-163h3m-3 47h3m-3 0h3m-3 2h3m-3 8h3m-3 7h3m-3 28h3m-3 0h3m-3 4h3m-3 1h3m-3 5h3m-3 4h3m-3 3h3m-3 9h3m-3 13h3m-3 8h3m-3 13h3m-3 1h3m-3 9h3m-3 16h3m-3 4h3m-3 9h3m-3 9h3m-2-185h3m-3 48h3m-3 21h3m-3 0h3m-3 7h3m-3 18h3m-3 17h3m-3 7h3m-3 37h3m-3 5h3m-2-145h3m-3 5h3m-3 15h3m-3 4h3m-3 17h3m-3 1h3m-3 1h3m-3 1h3m-3 3h3m-3 5h3m-3 2h3m-3 6h3m-3 7h3m-3 0h3m-3 1h3m-3 22h3m-3 4h3m-3 10h3m-3 10h3m-3 29h3m-3 2h3m-3 17h3m-2-189h3m-3 8h3m-3 17h3m-3 2h3m-3 3h3m-3 8h3m-3 11h3m-3 20h3m-3 5h3m-3 6h3m-3 2h3m-3 0h3m-3 4h3m-3 5h3m-3 13h3m-3 2h3m-3 7h3m-3 2h3m-3 16h3m-3 8h3m-3 1h3m-3 10h3m-3 5h3m-3 30h3m-2-152h3m-3 6h3m-3 25h3m-3 3h3m-3 9h3m-3 6h3m-3 17h3m-3 2h3m-3 11h3m-3 3h3m-3 13h3m-3 18h3m-3 9h3m-3 10h3m-2-143h3m-3 72h3m-3 10h3m-3 0h3m-3 3h3m-3 2h3m-3 3h3m-3 14h3m-3 16h3m-3 4h3m-3 20h3m-3 87h3m-2-210h3m-3 1h3m-3 9h3m-3 7h3m-3 1h3m-3 3h3m-3 2h3m-3 0h3m-3 7h3m-3 17h3m-3 9h3m-3 14h3m-3 1h3m-3 4h3m-3 0h3m-3 9h3m-3 2h3m-3 52h3m-3 8h3m-2-154h3m-3 12h3m-3 21h3m-3 24h3m-3 3h3m-3 7h3m-3 8h3m-3 30h3m-3 10h3m-3 10h3m-3 10h3m-3 0h3m-3 1h3m-3 3h3m-3 27h3m-3 19h3m-2-198h3m-3 6h3m-3 2h3m-3 16h3m-3 1h3m-3 0h3m-3 1h3m-3 4h3m-3 4h3m-3 11h3m-3 18h3m-3 22h3m-3 4h3m-3 5h3m-3 5h3m-3 3h3m-3 6h3m-3 5h3m-3 5h3m-3 12h3m-3 9h3m-3 27h3m-2-184h3m-3 33h3m-3 7h3m-3 16h3m-3 7h3m-3 1h3m-3 4h3m-3 11h3m-3 0h3m-3 5h3m-3 3h3m-3 1h3m-3 7h3m-3 3h3m-3 22h3m-3 1h3m-3 50h3m-3 6h3m-3 62h3m-2-240h3m-3 17h3m-3 3h3m-3 10h3m-3 21h3m-3 7h3m-3 1h3m-3 6h3m-3 4h3m-3 4h3m-3 5h3m-3 2h3m-3 9h3m-3 13h3m-3 1h3m-3 6h3m-3 8h3m-3 31h3m-3 8h3m-3 19h3m-3 46h3m-2-232h3m-3 48h3m-3 28h3m-3 3h3m-3 1h3m-3 2h3m-3 0h3m-3 3h3m-3 4h3m-3 0h3m-3 28h3m-3 1h3m-3 31h3m-3 6h3m-3 21h3m-3 32h3m-2-194h3m-3 43h3m-3 2h3m-3 2h3m-3 2h3m-3 16h3m-3 4h3m-3 2h3m-3 0h3m-3 2h3m-3 7h3m-3 0h3m-3 1h3m-3 2h3m-3 9h3m-3 13h3m-3 4h3m-3 4h3m-3 7h3m-3 8h3m-3 2h3m-3 9h3m-3 91h3m-2-186h3m-3 7h3m-3 15h3m-3 11h3m-3 4h3m-3 29h3m-3 3h3m-3 6h3m-3 15h3m-3 25h3m-3 2h3m-3 6h3m-3 16h3m-2-209h3m-3 49h3m-3 13h3m-3 19h3m-3 10h3m-3 5h3m-3 18h3m-3 3h3m-3 0h3m-3 11h3m-3 22h3m-3 4h3m-3 0h3m-3 4h3m-3 4h3m-3 10h3m-3 3h3m-3 16h3m-3 0h3m-3 3h3m-2-153h3m-3 31h3m-3 17h3m-3 9h3m-3 2h3m-3 14h3m-3 12h3m-3 6h3m-3 6h3m-3 0h3m-3 2h3m-3 10h3m-3 5h3m-3 1h3m-3 0h3m-3 35h3m-2-123h3m-3 13h3m-3 14h3m-3 1h3m-3 2h3m-3 7h3m-3 0h3m-3 3h3m-3 2h3m-3 1h3m-3 4h3m-3 4h3m-3 6h3m-3 5h3m-3 7h3m-3 4h3m-3 4h3m-3 5h3m-3 1h3m-3 1h3m-3 2h3m-3 18h3m-3 12h3m-3 26h3m-2-179h3m-3 29h3m-3 14h3m-3 14h3m-3 6h3m-3 2h3m-3 1h3m-3 6h3m-3 3h3m-3 13h3m-3 9h3m-3 1h3m-3 8h3m-3 7h3m-3 8h3m-3 4h3m-3 4h3m-3 11h3m-3 3h3m-3 16h3m-3 5h3m-2-137h3m-3 14h3m-3 19h3m-3 9h3m-3 2h3m-3 7h3m-3 9h3m-3 9h3m-3 4h3m-3 2h3m-3 4h3m-3 5h3m-3 21h3m-3 0h3m-3 9h3m-3 2h3m-3 12h3m-3 25h3m-2-119h3m-3 13h3m-3 11h3m-3 10h3m-3 4h3m-3 7h3m-3 10h3m-3 14h3m-3 7h3m-3 21h3m-3 40h3m-2-168h3m-3 4h3m-3 14h3m-3 2h3m-3 32h3m-3 9h3m-3 1h3m-3 7h3m-3 16h3m-3 8h3m-3 51h3m-3 35h3m-3 34h3m-2-233h3m-3 26h3m-3 17h3m-3 5h3m-3 5h3m-3 4h3m-3 6h3m-3 13h3m-3 2h3m-3 2h3m-3 10h3m-3 13h3m-3 2h3m-3 5h3m-3 2h3m-3 6h3m-3 4h3m-3 2h3m-3 1h3m-3 5h3m-3 32h3m-3 1h3m-3 31h3m-3 43h3m-2-201h3m-3 1h3m-3 9h3m-3 1h3m-3 3h3m-3 17h3m-3 1h3m-3 22h3m-3 5h3m-3 4h3m-3 3h3m-3 14h3m-3 65h3m-2-162h3m-3 17h3m-3 10h3m-3 2h3m-3 6h3m-3 2h3m-3 2h3m-3 9h3m-3 27h3m-3 40h3m-3 6h3m-2-102h3m-3 16h3m-3 2h3m-3 1h3m-3 1h3m-3 24h3m-3 12h3m-3 18h3m-3 0h3m-3 8h3m-3 1h3m-3 17h3m-3 13h3m-3 5h3m-3 7h3m-3 13h3m-3 9h3m-2-130h3m-3 7h3m-3 5h3m-3 3h3m-3 1h3m-3 0h3m-3 2h3m-3 12h3m-3 7h3m-3 34h3m-3 4h3m-3 86h3m-2-188h3m-3 14h3m-3 3h3m-3 1h3m-3 3h3m-3 2h3m-3 12h3m-3 4h3m-3 15h3m-3 2h3m-3 5h3m-3 4h3m-3 0h3m-3 1h3m-3 2h3m-3 3h3m-3 0h3m-3 3h3m-3 1h3m-3 1h3m-3 2h3m-3 12h3m-3 9h3m-3 2h3m-3 3h3m-3 2h3m-3 2h3m-3 3h3m-3 16h3m-3 0h3m-3 19h3m-2-137h3m-3 0h3m-3 4h3m-3 5h3m-3 5h3m-3 11h3m-3 1h3m-3 14h3m-3 6h3m-3 5h3m-3 2h3m-3 19h3m-3 6h3m-3 9h3m-3 24h3m-3 20h3m-2-117h3m-3 1h3m-3 2h3m-3 15h3m-3 3h3m-3 12h3m-3 2h3m-3 2h3m-3 9h3m-3 3h3m-3 10h3m-3 5h3m-3 8h3m-3 10h3m-3 2h3m-3 0h3m-3 8h3m-3 6h3m-3 34h3m-3 7h3m-3 9h3m-2-228h3m-3 44h3m-3 0h3m-3 4h3m-3 5h3m-3 5h3m-3 33h3m-3 6h3m-3 1h3m-3 3h3m-3 3h3m-3 4h3m-3 7h3m-3 3h3m-3 1h3m-3 0h3m-3 1h3m-3 3h3m-3 18h3m-3 11h3m-3 0h3m-3 23h3m-3 8h3m-3 22h3m-3 4h3m-3 11h3m-2-177h3m-3 36h3m-3 7h3m-3 1h3m-3 21h3m-3 5h3m-3 27h3m-3 8h3m-3 17h3m-3 15h3m-3 39h3m-2-142h3m-3 25h3m-3 1h3m-3 5h3m-3 4h3m-3 12h3m-3 10h3m-3 14h3m-3 17h3m-3 35h3m-3 27h3m-3 51h3m-2-247h3m-3 4h3m-3 45h3m-3 0h3m-3 36h3m-3 10h3m-3 4h3m-3 14h3m-3 2h3m-3 4h3m-3 5h3m-3 12h3m-3 49h3m-2-145h3m-3 10h3m-3 18h3m-3 9h3m-3 1h3m-3 0h3m-3 2h3m-3 3h3m-3 21h3m-3 2h3m-3 8h3m-3 2h3m-3 13h3m-3 1h3m-3 15h3m-3 28h3m-3 2h3m-2-178h3m-3 20h3m-3 20h3m-3 5h3m-3 6h3m-3 3h3m-3 12h3m-3 2h3m-3 2h3m-3 0h3m-3 7h3m-3 8h3m-3 0h3m-3 0h3m-3 8h3m-3 6h3m-3 6h3m-3 1h3m-3 10h3m-3 6h3m-3 8h3m-3 6h3m-3 1h3m-3 7h3m-3 4h3m-3 13h3m-3 4h3m-3 0h3m-3 16h3m-2-161h3m-3 19h3m-3 3h3m-3 7h3m-3 10h3m-3 1h3m-3 7h3m-3 10h3m-3 9h3m-3 11h3m-3 1h3m-3 7h3m-3 5h3m-3 41h3m-3 6h3m-3 2h3m-3 30h3m-3 19h3m-3 3h3m-3 8h3m-2-192h3m-3 1h3m-3 16h3m-3 9h3m-3 2h3m-3 11h3m-3 12h3m-3 1h3m-3 1h3m-3 10h3m-3 9h3m-3 2h3m-3 3h3m-3 5h3m-3 2h3m-3 2h3m-3 1h3m-3 5h3m-3 3h3m-3 2h3m-3 29h3m-3 12h3m-3 8h3m-2-175h3m-3 9h3m-3 28h3m-3 1h3m-3 20h3m-3 13h3m-3 6h3m-3 2h3m-3 1h3m-3 3h3m-3 8h3m-3 7h3m-3 1h3m-3 0h3m-3 4h3m-3 5h3m-3 6h3m-3 32h3m-3 16h3m-3 8h3m-2-148h3m-3 4h3m-3 26h3m-3 4h3m-3 43h3m-3 7h3m-3 7h3m-3 4h3m-3 24h3m-3 1h3m-3 3h3m-3 13h3m-3 1h3m-3 6h3m-3 6h3m-3 4h3m-3 15h3m-2-147h3m-3 11h3m-3 4h3m-3 0h3m-3 4h3m-3 5h3m-3 1h3m-3 12h3m-3 17h3m-3 0h3m-3 2h3m-3 4h3m-3 2h3m-3 5h3m-3 22h3m-3 28h3m-3 20h3m-3 6h3m-2-142h3m-3 4h3m-3 18h3m-3 1h3m-3 2h3m-3 0h3m-3 1h3m-3 3h3m-3 1h3m-3 1h3m-3 2h3m-3 15h3m-3 0h3m-3 10h3m-3 6h3m-3 8h3m-3 4h3m-3 9h3m-3 0h3m-3 3h3m-3 7h3m-3 10h3m-3 11h3m-3 12h3m-2-152h3m-3 2h3m-3 1h3m-3 10h3m-3 10h3m-3 3h3m-3 28h3m-3 0h3m-3 0h3m-3 5h3m-3 8h3m-3 5h3m-3 1h3m-3 7h3m-3 3h3m-3 5h3m-3 132h3m-2-242h3m-3 19h3m-3 24h3m-3 8h3m-3 2h3m-3 1h3m-3 20h3m-3 4h3m-3 4h3m-3 1h3m-3 3h3m-3 1h3m-3 14h3m-3 10h3m-3 5h3m-3 1h3m-3 3h3m-3 2h3m-3 3h3m-3 6h3m-3 4h3m-3 0h3m-3 3h3m-3 11h3m-3 8h3m-3 5h3m-2-128h3m-3 13h3m-3 11h3m-3 8h3m-3 7h3m-3 6h3m-3 19h3m-3 4h3m-3 2h3m-3 12h3m-3 1h3m-3 5h3m-3 1h3m-3 3h3m-3 3h3m-3 7h3m-3 2h3m-3 2h3m-3 2h3m-3 16h3m-3 49h3m-2-140h3m-3 1h3m-3 17h3m-3 16h3m-3 9h3m-3 6h3m-3 7h3m-3 0h3m-3 7h3m-3 5h3m-3 12h3m-3 0h3m-3 0h3m-3 2h3m-3 1h3m-3 38h3m-3 65h3m-2-200h3m-3 5h3m-3 1h3m-3 13h3m-3 27h3m-3 4h3m-3 2h3m-3 4h3m-3 3h3m-3 0h3m-3 1h3m-3 7h3m-3 3h3m-3 5h3m-3 3h3m-3 4h3m-3 5h3m-3 20h3m-3 24h3m-2-178h3m-3 41h3m-3 16h3m-3 1h3m-3 2h3m-3 9h3m-3 5h3m-3 17h3m-3 7h3m-3 1h3m-3 23h3m-3 1h3m-3 7h3m-3 4h3m-3 4h3m-3 12h3m-3 6h3m-2-95h3m-3 4h3m-3 13h3m-3 7h3m-3 6h3m-3 1h3m-3 4h3m-3 19h3m-3 2h3m-3 3h3m-3 4h3m-3 7h3m-3 2h3m-3 28h3m-3 28h3m-2-223h3m-3 66h3m-3 32h3m-3 9h3m-3 7h3m-3 4h3m-3 39h3m-3 7h3m-3 32h3m-3 20h3m-3 24h3m-2-183h3m-3 10h3m-3 3h3m-3 22h3m-3 11h3m-3 4h3m-3 18h3m-3 5h3m-3 10h3m-3 10h3m-3 11h3m-3 3h3m-3 24h3m-3 92h3m-3 3h3m-2-210h3m-3 21h3m-3 0h3m-3 8h3m-3 3h3m-3 1h3m-3 9h3m-3 4h3m-3 2h3m-3 6h3m-3 8h3m-3 7h3m-3 14h3m-3 6h3m-3 15h3m-3 41h3m-2-178h3m-3 37h3m-3 3h3m-3 21h3m-3 2h3m-3 13h3m-3 3h3m-3 3h3m-3 8h3m-3 0h3m-3 0h3m-3 1h3m-3 8h3m-3 13h3m-3 15h3m-3 16h3m-3 2h3m-3 23h3m-3 27h3m-2-182h3m-3 16h3m-3 3h3m-3 3h3m-3 13h3m-3 15h3m-3 1h3m-3 0h3m-3 5h3m-3 13h3m-3 4h3m-3 3h3m-3 12h3m-3 11h3m-3 6h3m-3 9h3m-3 8h3m-3 3h3m-3 7h3m-3 10h3m-3 66h3m-3 41h3m-2-228h3m-3 12h3m-3 10h3m-3 8h3m-3 1h3m-3 1h3m-3 3h3m-3 6h3m-3 2h3m-3 0h3m-3 7h3m-3 1h3m-3 2h3m-3 8h3m-3 10h3m-3 5h3m-3 12h3m-3 7h3m-3 2h3m-2-130h3m-3 26h3m-3 1h3m-3 25h3m-3 5h3m-3 12h3m-3 5h3m-3 1h3m-3 8h3m-3 5h3m-3 1h3m-3 4h3m-3 6h3m-3 6h3m-3 1h3m-3 5h3m-3 3h3m-3 6h3m-3 11h3m-3 30h3m-3 19h3m-3 30h3m-2-159h3m-3 12h3m-3 7h3m-3 0h3m-3 4h3m-3 7h3m-3 7h3m-3 2h3m-3 17h3m-3 4h3m-3 1h3m-3 26h3m-3 31h3m-2-138h3m-3 6h3m-3 18h3m-3 7h3m-3 4h3m-3 4h3m-3 1h3m-3 5h3m-3 6h3m-3 1h3m-3 1h3m-3 3h3m-3 11h3m-3 2h3m-3 5h3m-3 0h3m-3 5h3m-3 50h3m-3 4h3m-3 51h3m-2-169h3m-3 5h3m-3 1h3m-3 22h3m-3 0h3m-3 9h3m-3 2h3m-3 2h3m-3 11h3m-3 21h3m-3 7h3m-3 37h3m-3 52h3m-2-211h3m-3 32h3m-3 9h3m-3 15h3m-3 1h3m-3 2h3m-3 17h3m-3 1h3m-3 7h3m-3 2h3m-3 19h3m-3 3h3m-3 0h3m-3 5h3m-3 2h3m-3 5h3m-3 12h3m-3 5h3m-3 3h3m-3 47h3m-2-159h3m-3 19h3m-3 2h3m-3 8h3m-3 5h3m-3 8h3m-3 5h3m-3 10h3m-3 4h3m-3 6h3m-3 4h3m-3 1h3m-3 2h3m-3 4h3m-3 2h3m-3 2h3m-3 3h3m-3 0h3m-3 39h3m-3 9h3m-3 9h3m-3 11h3m-2-152h3m-3 16h3m-3 11h3m-3 6h3m-3 1h3m-3 3h3m-3 0h3m-3 6h3m-3 2h3m-3 15h3m-3 10h3m-3 7h3m-3 15h3m-3 2h3m-3 1h3m-3 11h3m-3 9h3m-3 1h3m-3 14h3m-2-124h3m-3 22h3m-3 0h3m-3 2h3m-3 19h3m-3 0h3m-3 5h3m-3 1h3m-3 7h3m-3 14h3m-3 10h3m-3 27h3m-3 18h3m-3 1h3m-2-139h3m-3 5h3m-3 12h3m-3 1h3m-3 0h3m-3 9h3m-3 11h3m-3 1h3m-3 6h3m-3 8h3m-3 5h3m-3 20h3m-3 12h3m-3 1h3m-3 5h3m-3 15h3m-3 8h3m-3 12h3m-3 1h3m-3 2h3m-3 9h3m-2-176h3m-3 56h3m-3 4h3m-3 8h3m-3 1h3m-3 4h3m-3 2h3m-3 6h3m-3 7h3m-3 1h3m-3 13h3m-3 4h3m-3 2h3m-3 5h3m-3 9h3m-3 11h3m-3 7h3m-3 56h3m-3 21h3m-2-190h3m-3 5h3m-3 49h3m-3 12h3m-3 0h3m-3 2h3m-3 5h3m-3 2h3m-3 0h3m-3 12h3m-3 16h3m-3 2h3m-3 1h3m-3 7h3m-3 3h3m-3 1h3m-3 1h3m-3 0h3m-3 2h3m-2-84h3m-3 9h3m-3 2h3m-3 4h3m-3 6h3m-3 5h3m-3 0h3m-3 1h3m-3 5h3m-3 3h3m-3 9h3m-3 15h3m-3 10h3m-2-93h3m-3 6h3m-3 4h3m-3 11h3m-3 11h3m-3 4h3m-3 8h3m-3 3h3m-3 8h3m-3 0h3m-3 8h3m-3 4h3m-3 5h3m-3 35h3m-3 3h3m-3 3h3m-3 9h3m-3 3h3m-3 41h3m-2-154h3m-3 10h3m-3 8h3m-3 4h3m-3 9h3m-3 0h3m-3 2h3m-3 3h3m-3 4h3m-3 1h3m-3 2h3m-3 3h3m-3 16h3m-3 4h3m-3 22h3m-3 0h3m-3 4h3m-3 6h3m-2-79h3m-3 4h3m-3 2h3m-3 1h3m-3 9h3m-3 4h3m-3 1h3m-3 1h3m-3 3h3m-3 23h3m-3 15h3m-3 17h3m-3 0h3m-3 8h3m-3 4h3m-3 25h3m-3 35h3m-2-164h3m-3 19h3m-3 8h3m-3 15h3m-3 1h3m-3 6h3m-3 6h3m-3 2h3m-3 47h3m-3 2h3m-3 10h3m-3 41h3m-3 1h3m-3 2h3m-2-190h3m-3 43h3m-3 5h3m-3 7h3m-3 1h3m-3 15h3m-3 3h3m-3 21h3m-3 7h3m-3 4h3m-3 1h3m-3 5h3m-3 67h3m-3 30h3m-2-201h3m-3 14h3m-3 17h3m-3 25h3m-3 26h3m-3 37h3m-3 0h3m-3 33h3m-3 25h3m-2-182h3m-3 20h3m-3 22h3m-3 1h3m-3 5h3m-3 1h3m-3 5h3m-3 8h3m-3 2h3m-3 3h3m-3 3h3m-3 2h3m-3 7h3m-3 3h3m-3 0h3m-3 1h3m-3 2h3m-3 15h3m-3 0h3m-3 11h3m-3 2h3m-3 1h3m-3 12h3m-3 24h3m-3 0h3m-3 16h3m-2-185h3m-3 52h3m-3 22h3m-3 8h3m-3 11h3m-3 4h3m-3 8h3m-3 3h3m-3 3h3m-3 2h3m-3 3h3m-3 23h3m-3 2h3m-3 0h3m-3 16h3m-3 4h3m-3 30h3m-2-183h3m-3 43h3m-3 17h3m-3 3h3m-3 9h3m-3 8h3m-3 12h3m-3 60h3m-3 9h3m-3 14h3m-3 32h3m-2-188h3m-3 3h3m-3 25h3m-3 18h3m-3 1h3m-3 11h3m-3 1h3m-3 4h3m-3 6h3m-3 28h3m-3 11h3m-3 1h3m-3 64h3m-2-148h3m-3 4h3m-3 14h3m-3 3h3m-3 3h3m-3 9h3m-3 9h3m-3 2h3m-3 7h3m-3 9h3m-3 1h3m-3 5h3m-3 4h3m-3 0h3m-3 9h3m-3 2h3m-3 6h3m-3 6h3m-3 45h3m-2-120h3m-3 3h3m-3 1h3m-3 2h3m-3 12h3m-3 6h3m-3 3h3m-3 7h3m-3 8h3m-3 5h3m-3 9h3m-3 4h3m-3 40h3m-3 18h3m-3 5h3m-3 31h3m-2-183h3m-3 25h3m-3 14h3m-3 13h3m-3 5h3m-3 3h3m-3 11h3m-3 16h3m-3 1h3m-3 78h3m-3 59h3m-2-252h3m-3 16h3m-3 1h3m-3 16h3m-3 8h3m-3 16h3m-3 0h3m-3 5h3m-3 2h3m-3 4h3m-3 14h3m-3 0h3m-3 2h3m-3 16h3m-3 2h3m-3 2h3m-3 2h3m-3 10h3m-3 8h3m-3 2h3m-3 5h3m-3 3h3m-3 2h3m-3 28h3m-2-143h3m-3 4h3m-3 9h3m-3 12h3m-3 6h3m-3 5h3m-3 9h3m-3 11h3m-3 4h3m-3 5h3m-3 29h3m-3 23h3m-3 72h3m-2-223h3m-3 20h3m-3 22h3m-3 4h3m-3 3h3m-3 12h3m-3 18h3m-3 1h3m-3 5h3m-3 3h3m-3 9h3m-3 7h3m-3 5h3m-3 5h3m-3 2h3m-3 24h3m-3 1h3m-3 18h3m-2-123h3m-3 9h3m-3 15h3m-3 2h3m-3 6h3m-3 2h3m-3 7h3m-3 10h3m-3 23h3m-3 14h3m-3 1h3m-3 3h3m-3 0h3m-3 1h3m-3 2h3m-3 9h3m-3 8h3m-3 1h3m-3 46h3m-2-136h3m-3 6h3m-3 9h3m-3 5h3m-3 1h3m-3 1h3m-3 6h3m-3 4h3m-3 1h3m-3 0h3m-3 2h3m-3 9h3m-3 11h3m-3 3h3m-3 21h3m-3 24h3m-3 22h3m-3 96h3m-2-249h3m-3 16h3m-3 14h3m-3 0h3m-3 14h3m-3 6h3m-3 3h3m-3 5h3m-3 1h3m-3 15h3m-3 0h3m-3 31h3m-2-103h3m-3 14h3m-3 0h3m-3 9h3m-3 4h3m-3 6h3m-3 6h3m-3 9h3m-3 2h3m-3 1h3m-3 12h3m-3 1h3m-3 12h3m-3 2h3m-3 5h3m-3 13h3m-3 11h3m-3 1h3m-3 1h3m-3 15h3m-2-132h3m-3 11h3m-3 11h3m-3 13h3m-3 22h3m-3 9h3m-3 16h3m-3 0h3m-3 1h3m-3 1h3m-3 0h3m-3 23h3m-3 16h3m-3 9h3m-3 15h3m-2-121h3m-3 15h3m-3 3h3m-3 7h3m-3 12h3m-3 30h3m-3 2h3m-3 5h3m-3 9h3m-3 23h3m-3 11h3m-2-167h3m-3 14h3m-3 15h3m-3 19h3m-3 3h3m-3 19h3m-3 9h3m-3 9h3m-3 1h3m-3 0h3m-3 4h3m-3 12h3m-3 7h3m-3 3h3m-3 5h3m-3 29h3m-2-139h3m-3 51h3m-3 17h3m-3 4h3m-3 5h3m-3 7h3m-3 9h3m-3 11h3m-3 4h3m-3 12h3m-3 3h3m-3 33h3m-3 43h3m-2-173h3m-3 10h3m-3 10h3m-3 5h3m-3 1h3m-3 26h3m-3 1h3m-3 2h3m-3 2h3m-3 0h3m-3 6h3m-3 1h3m-3 1h3m-3 1h3m-3 4h3m-3 3h3m-3 1h3m-3 2h3m-3 5h3m-3 14h3m-3 4h3m-3 5h3m-2-104h3m-3 19h3m-3 5h3m-3 10h3m-3 2h3m-3 2h3m-3 12h3m-3 1h3m-3 4h3m-3 2h3m-3 6h3m-3 15h3m-3 15h3m-3 2h3m-3 8h3m-3 15h3m-3 14h3m-3 2h3m-3 27h3m-2-157h3m-3 10h3m-3 6h3m-3 8h3m-3 22h3m-3 2h3m-3 3h3m-3 9h3m-3 6h3m-3 7h3m-3 5h3m-3 27h3m-3 1h3m-3 0h3m-3 44h3m-3 63h3m-2-249h3m-3 60h3m-3 0h3m-3 3h3m-3 3h3m-3 3h3m-3 1h3m-3 1h3m-3 6h3m-3 5h3m-3 24h3m-3 5h3m-3 6h3m-3 0h3m-3 11h3m-3 1h3m-3 3h3m-3 8h3m-3 0h3m-3 9h3m-3 5h3m-3 38h3m-3 12h3m-2-175h3m-3 12h3m-3 6h3m-3 11h3m-3 2h3m-3 3h3m-3 14h3m-3 3h3m-3 1h3m-3 14h3m-3 4h3m-3 8h3m-3 1h3m-3 4h3m-3 12h3m-3 1h3m-3 2h3m-3 59h3m-2-132h3m-3 15h3m-3 3h3m-3 2h3m-3 9h3m-3 1h3m-3 1h3m-3 2h3m-3 1h3m-3 2h3m-3 5h3m-3 2h3m-3 20h3m-3 2h3m-3 10h3m-3 9h3m-3 8h3m-3 0h3m-2-90h3m-3 11h3m-3 1h3m-3 4h3m-3 1h3m-3 9h3m-3 3h3m-3 0h3m-3 1h3m-3 3h3m-3 6h3m-3 3h3m-3 9h3m-3 11h3m-3 3h3m-3 22h3m-2-111h3m-3 3h3m-3 14h3m-3 36h3m-3 1h3m-3 3h3m-3 9h3m-3 2h3m-3 3h3m-3 14h3m-3 4h3m-3 37h3m-2-142h3m-3 48h3m-3 4h3m-3 4h3m-3 7h3m-3 5h3m-3 2h3m-3 5h3m-3 12h3m-3 6h3m-3 3h3m-3 17h3m-3 1h3m-3 7h3m-3 27h3m-3 18h3m-3 15h3m-2-201h3m-3 42h3m-3 3h3m-3 7h3m-3 9h3m-3 4h3m-3 17h3m-3 1h3m-3 1h3m-3 1h3m-3 6h3m-3 2h3m-3 9h3m-3 13h3m-3 2h3m-3 6h3m-3 6h3m-3 5h3m-3 4h3m-3 5h3m-3 2h3m-3 15h3m-3 2h3m-3 1h3m-3 26h3m-3 53h3m-2-174h3m-3 8h3m-3 3h3m-3 2h3m-3 3h3m-3 2h3m-3 6h3m-3 5h3m-3 2h3m-3 3h3m-3 24h3m-3 5h3m-3 21h3m-3 14h3m-2-117h3m-3 18h3m-3 1h3m-3 1h3m-3 5h3m-3 17h3m-3 12h3m-3 1h3m-3 8h3m-3 8h3m-3 8h3m-3 1h3m-3 2h3m-3 6h3m-3 23h3m-3 1h3m-3 24h3m-3 1h3m-3 17h3m-3 44h3m-3 36h3m-2-232h3m-3 19h3m-3 12h3m-3 1h3m-3 3h3m-3 1h3m-3 10h3m-3 13h3m-3 8h3m-3 27h3m-3 52h3m-2-176h3m-3 52h3m-3 1h3m-3 4h3m-3 4h3m-3 11h3m-3 2h3m-3 1h3m-3 2h3m-3 14h3m-3 3h3m-3 1h3m-3 6h3m-3 41h3m-3 48h3m-2-164h3m-3 0h3m-3 7h3m-3 4h3m-3 18h3m-3 12h3m-3 5h3m-3 7h3m-3 6h3m-3 3h3m-3 2h3m-3 0h3m-3 13h3m-3 2h3m-3 35h3m-3 7h3m-3 5h3m-3 41h3m-3 25h3m-3 26h3m-2-208h3m-3 16h3m-3 0h3m-3 2h3m-3 5h3m-3 5h3m-3 7h3m-3 11h3m-3 2h3m-3 29h3m-3 25h3m-3 116h3m-2-253h3m-3 13h3m-3 11h3m-3 6h3m-3 20h3m-3 7h3m-3 0h3m-3 18h3m-3 1h3m-3 1h3m-3 2h3m-3 7h3m-3 0h3m-3 1h3m-3 9h3m-3 1h3m-3 11h3m-3 16h3m-3 9h3m-2-95h3m-3 19h3m-3 19h3m-3 11h3m-3 2h3m-3 1h3m-3 10h3m-3 0h3m-3 3h3m-3 18h3m-3 5h3m-3 1h3m-3 3h3m-2-140h3m-3 57h3m-3 7h3m-3 11h3m-3 6h3m-3 2h3m-3 4h3m-3 1h3m-3 1h3m-3 5h3m-3 3h3m-3 2h3m-3 0h3m-3 3h3m-3 1h3m-3 10h3m-3 6h3m-3 7h3m-3 5h3m-3 7h3m-3 1h3m-3 11h3m-3 104h3m-2-204h3m-3 13h3m-3 4h3m-3 3h3m-3 0h3m-3 6h3m-3 5h3m-3 17h3m-3 6h3m-3 1h3m-3 0h3m-3 3h3m-3 0h3m-3 3h3m-3 1h3m-3 1h3m-3 6h3m-3 10h3m-3 4h3m-3 4h3m-2-94h3m-3 13h3m-3 1h3m-3 16h3m-3 1h3m-3 16h3m-3 2h3m-3 14h3m-3 2h3m-3 18h3m-3 4h3m-3 1h3m-3 3h3m-3 2h3m-3 3h3m-3 8h3m-3 14h3m-2-115h3m-3 1h3m-3 16h3m-3 11h3m-3 3h3m-3 9h3m-3 1h3m-3 2h3m-3 23h3m-3 7h3m-3 10h3m-3 7h3m-3 6h3m-3 5h3m-3 49h3m-3 20h3m-2-163h3m-3 7h3m-3 2h3m-3 5h3m-3 1h3m-3 4h3m-3 11h3m-3 8h3m-3 3h3m-3 4h3m-3 12h3m-3 11h3m-3 6h3m-3 5h3m-3 13h3m-3 42h3m-2-139h3m-3 1h3m-3 7h3m-3 6h3m-3 0h3m-3 9h3m-3 4h3m-3 10h3m-3 7h3m-3 10h3m-3 0h3m-3 16h3m-3 0h3m-3 3h3m-3 3h3m-3 8h3m-2-111h3m-3 27h3m-3 18h3m-3 1h3m-3 0h3m-3 3h3m-3 4h3m-3 8h3m-3 0h3m-3 2h3m-3 2h3m-3 2h3m-3 5h3m-3 4h3m-3 1h3m-3 1h3m-3 1h3m-3 5h3m-3 6h3m-3 0h3m-3 7h3m-3 13h3m-3 16h3m-3 75h3m-2-221h3m-3 18h3m-3 27h3m-3 10h3m-3 19h3m-3 5h3m-3 1h3m-3 13h3m-3 0h3m-3 7h3m-3 4h3m-3 7h3m-3 7h3m-3 30h3m-3 2h3m-3 55h3m-2-187h3m-3 6h3m-3 18h3m-3 15h3m-3 1h3m-3 20h3m-3 3h3m-3 1h3m-3 0h3m-3 2h3m-3 2h3m-3 1h3m-3 5h3m-3 2h3m-3 1h3m-3 0h3m-3 3h3m-3 1h3m-3 2h3m-3 1h3m-3 3h3m-3 4h3m-3 0h3m-3 2h3m-3 14h3m-3 12h3m-3 10h3m-3 8h3m-3 38h3m-2-187h3m-3 23h3m-3 16h3m-3 11h3m-3 5h3m-3 4h3m-3 6h3m-3 1h3m-3 0h3m-3 2h3m-3 2h3m-3 8h3m-3 8h3m-3 20h3m-3 27h3m-3 0h3m-3 3h3m-3 1h3m-3 11h3m-3 10h3m-2-120h3m-3 3h3m-3 17h3m-3 1h3m-3 10h3m-3 1h3m-3 5h3m-3 3h3m-3 3h3m-3 1h3m-3 10h3m-3 5h3m-3 8h3m-3 52h3m-2-105h3m-3 11h3m-3 7h3m-3 0h3m-3 3h3m-3 2h3m-3 11h3m-3 1h3m-3 1h3m-3 3h3m-3 2h3m-3 2h3m-3 10h3m-3 3h3m-3 0h3m-3 8h3m-3 4h3m-3 8h3m-3 7h3m-3 6h3m-3 19h3m-2-126h3m-3 17h3m-3 6h3m-3 3h3m-3 1h3m-3 7h3m-3 13h3m-3 3h3m-3 6h3m-3 1h3m-3 16h3m-3 2h3m-3 19h3m-3 23h3m-3 13h3m-2-151h3m-3 51h3m-3 2h3m-3 12h3m-3 2h3m-3 11h3m-3 3h3m-3 4h3m-3 23h3m-3 13h3m-3 1h3m-3 13h3m-3 4h3m-3 54h3m-3 27h3m-2-193h3m-3 21h3m-3 7h3m-3 19h3m-3 0h3m-3 3h3m-3 9h3m-3 1h3m-3 4h3m-3 3h3m-3 6h3m-3 8h3m-3 24h3m-3 1h3m-3 33h3m-3 9h3m-2-165h3m-3 14h3m-3 18h3m-3 12h3m-3 2h3m-3 13h3m-3 3h3m-3 1h3m-3 13h3m-3 4h3m-3 15h3m-3 13h3m-3 19h3m-3 55h3m-3 11h3m-3 20h3m-2-203h3m-3 8h3m-3 1h3m-3 24h3m-3 1h3m-3 3h3m-3 1h3m-3 1h3m-3 2h3m-3 1h3m-3 1h3m-3 4h3m-3 6h3m-3 16h3m-3 2h3m-3 4h3m-3 1h3m-3 6h3m-3 13h3m-3 12h3m-2-105h3m-3 1h3m-3 24h3m-3 5h3m-3 2h3m-3 0h3m-3 1h3m-3 5h3m-3 14h3m-3 0h3m-3 1h3m-3 5h3m-3 3h3m-3 5h3m-3 38h3m-3 35h3m-3 4h3m-2-148h3m-3 0h3m-3 21h3m-3 9h3m-3 4h3m-3 1h3m-3 3h3m-3 1h3m-3 1h3m-3 1h3m-3 6h3m-3 5h3m-3 4h3m-3 16h3m-3 13h3m-3 35h3m-3 4h3m-2-136h3m-3 10h3m-3 32h3m-3 5h3m-3 7h3m-3 7h3m-3 1h3m-3 13h3m-3 6h3m-3 2h3m-3 8h3m-3 3h3m-3 10h3m-3 27h3m-3 10h3m-2-134h3m-3 27h3m-3 6h3m-3 22h3m-3 1h3m-3 11h3m-3 8h3m-3 4h3m-3 2h3m-3 1h3m-3 1h3m-3 5h3m-3 2h3m-3 2h3m-3 3h3m-3 0h3m-3 0h3m-3 7h3m-3 2h3m-3 77h3m-2-243h3m-3 79h3m-3 23h3m-3 4h3m-3 6h3m-3 0h3m-3 2h3m-3 2h3m-3 0h3m-3 2h3m-3 0h3m-3 1h3m-3 2h3m-3 4h3m-3 17h3m-3 13h3m-3 1h3m-3 6h3m-3 9h3m-2-92h3m-3 2h3m-3 15h3m-3 1h3m-3 5h3m-3 5h3m-3 1h3m-3 26h3m-3 5h3m-3 0h3m-3 18h3m-3 15h3m-3 11h3m-3 5h3m-3 1h3m-2-119h3m-3 24h3m-3 9h3m-3 1h3m-3 4h3m-3 5h3m-3 5h3m-3 3h3m-3 1h3m-3 6h3m-3 1h3m-3 2h3m-3 7h3m-3 2h3m-3 1h3m-3 4h3m-3 5h3m-3 5h3m-3 10h3m-3 7h3m-3 56h3m-2-130h3m-3 3h3m-3 11h3m-3 3h3m-3 1h3m-3 0h3m-3 0h3m-3 2h3m-3 2h3m-3 3h3m-3 1h3m-3 1h3m-3 6h3m-3 8h3m-3 0h3m-3 9h3m-3 5h3m-3 3h3m-3 18h3m-3 1h3m-3 3h3m-3 1h3m-3 9h3m-3 2h3m-3 11h3m-3 30h3m-2-136h3m-3 16h3m-3 1h3m-3 19h3m-3 14h3m-3 1h3m-3 6h3m-3 5h3m-3 21h3m-3 12h3m-3 16h3m-3 69h3m-2-202h3m-3 0h3m-3 7h3m-3 20h3m-3 7h3m-3 11h3m-3 4h3m-3 8h3m-3 4h3m-3 0h3m-3 0h3m-3 12h3m-3 2h3m-2-77h3m-3 5h3m-3 1h3m-3 16h3m-3 4h3m-3 10h3m-3 5h3m-3 1h3m-3 1h3m-3 1h3m-3 14h3m-3 9h3m-3 28h3m-3 3h3m-3 21h3m-3 7h3m-3 8h3m-2-141h3m-3 2h3m-3 25h3m-3 4h3m-3 9h3m-3 1h3m-3 27h3m-3 1h3m-3 4h3m-3 4h3m-3 2h3m-3 19h3m-3 24h3m-3 23h3m-3 17h3m-3 52h3m-2-222h3m-3 32h3m-3 15h3m-3 2h3m-3 5h3m-3 4h3m-3 0h3m-3 4h3m-3 9h3m-3 5h3m-3 6h3m-3 14h3m-3 3h3m-3 3h3m-3 146h3m-2-255h3m-3 21h3m-3 17h3m-3 9h3m-3 3h3m-3 14h3m-3 1h3m-3 14h3m-3 1h3m-3 0h3m-3 12h3m-3 0h3m-3 17h3m-3 1h3m-3 7h3m-3 1h3m-3 20h3m-2-102h3m-3 22h3m-3 0h3m-3 9h3m-3 1h3m-3 5h3m-3 1h3m-3 0h3m-3 5h3m-3 0h3m-3 12h3m-3 2h3m-3 3h3m-3 14h3m-3 9h3m-3 3h3m-3 22h3m-3 67h3m-2-222h3m-3 31h3m-3 33h3m-3 4h3m-3 1h3m-3 9h3m-3 0h3m-3 4h3m-3 15h3m-3 9h3m-3 2h3m-3 4h3m-3 9h3m-3 6h3m-3 9h3m-3 0h3m-3 29h3m-3 1h3m-3 16h3m-2-145h3m-3 4h3m-3 10h3m-3 3h3m-3 9h3m-3 4h3m-3 10h3m-3 0h3m-3 1h3m-3 4h3m-3 1h3m-3 3h3m-3 4h3m-3 1h3m-3 5h3m-3 3h3m-3 0h3m-3 14h3m-3 4h3m-3 1h3m-3 1h3m-3 8h3m-3 5h3m-3 6h3m-3 26h3m-2-130h3m-3 14h3m-3 44h3m-3 14h3m-3 5h3m-3 9h3m-3 6h3m-3 1h3m-3 10h3m-3 25h3m-2-94h3m-3 1h3m-3 1h3m-3 6h3m-3 7h3m-3 5h3m-3 7h3m-3 3h3m-3 7h3m-3 8h3m-3 3h3m-3 1h3m-3 2h3m-3 4h3m-3 9h3m-3 24h3m-2-101h3m-3 13h3m-3 1h3m-3 6h3m-3 3h3m-3 9h3m-3 4h3m-3 2h3m-3 6h3m-3 4h3m-3 9h3m-3 9h3m-3 5h3m-3 2h3m-3 14h3m-3 28h3m-3 14h3m-2-146h3m-3 14h3m-3 12h3m-3 2h3m-3 3h3m-3 1h3m-3 6h3m-3 1h3m-3 7h3m-3 7h3m-3 18h3m-3 1h3m-3 5h3m-3 3h3m-3 6h3m-3 4h3m-3 30h3m-3 28h3m-2-163h3m-3 7h3m-3 15h3m-3 6h3m-3 2h3m-3 3h3m-3 14h3m-3 9h3m-3 1h3m-3 1h3m-3 1h3m-3 3h3m-3 1h3m-3 3h3m-3 9h3m-3 2h3m-3 1h3m-3 8h3m-3 9h3m-3 5h3m-3 0h3m-3 1h3m-3 3h3m-3 1h3m-3 1h3m-3 0h3m-3 9h3m-3 31h3m-2-135h3m-3 3h3m-3 29h3m-3 4h3m-3 0h3m-3 4h3m-3 1h3m-3 9h3m-3 13h3m-3 11h3m-3 7h3m-3 3h3m-3 1h3m-3 3h3m-3 1h3m-3 7h3m-3 4h3m-3 15h3m-3 1h3m-3 13h3m-3 33h3m-3 28h3m-3 36h3m-2-239h3m-3 31h3m-3 3h3m-3 3h3m-3 8h3m-3 9h3m-3 2h3m-3 1h3m-3 2h3m-3 5h3m-3 1h3m-3 7h3m-3 3h3m-3 0h3m-3 3h3m-3 1h3m-3 11h3m-3 9h3m-3 16h3m-3 13h3m-3 8h3m-3 6h3m-3 32h3m-2-138h3m-3 3h3m-3 3h3m-3 25h3m-3 9h3m-3 7h3m-3 2h3m-3 4h3m-3 13h3m-3 1h3m-3 0h3m-3 18h3m-3 13h3m-3 5h3m-3 35h3m-2-169h3m-3 23h3m-3 7h3m-3 16h3m-3 5h3m-3 4h3m-3 10h3m-3 2h3m-3 11h3m-3 8h3m-3 8h3m-3 7h3m-3 0h3m-3 34h3m-3 21h3m-2-146h3m-3 0h3m-3 10h3m-3 7h3m-3 13h3m-3 0h3m-3 4h3m-3 7h3m-3 2h3m-3 1h3m-3 4h3m-3 1h3m-3 1h3m-3 10h3m-3 1h3m-3 0h3m-3 2h3m-3 2h3m-3 2h3m-3 1h3m-3 4h3m-3 20h3m-3 3h3m-3 1h3m-3 8h3m-3 0h3m-3 31h3m-2-134h3m-3 17h3m-3 17h3m-3 2h3m-3 2h3m-3 6h3m-3 9h3m-3 2h3m-3 7h3m-3 2h3m-3 1h3m-3 0h3m-3 1h3m-3 3h3m-3 4h3m-3 4h3m-3 6h3m-3 13h3m-3 11h3m-3 5h3m-3 0h3m-3 1h3m-3 0h3m-3 12h3m-3 25h3m-3 25h3m-2-196h3m-3 44h3m-3 3h3m-3 9h3m-3 6h3m-3 3h3m-3 2h3m-3 7h3m-3 5h3m-3 6h3m-3 0h3m-3 1h3m-3 2h3m-3 6h3m-3 3h3m-3 1h3m-3 7h3m-3 4h3m-3 0h3m-3 6h3m-3 10h3m-3 28h3m-2-123h3m-3 15h3m-3 6h3m-3 1h3m-3 7h3m-3 8h3m-3 12h3m-3 2h3m-3 0h3m-3 3h3m-3 13h3m-3 1h3m-3 6h3m-3 18h3m-3 32h3m-2-132h3m-3 15h3m-3 8h3m-3 6h3m-3 4h3m-3 0h3m-3 6h3m-3 2h3m-3 1h3m-3 2h3m-3 1h3m-3 9h3m-3 12h3m-3 13h3m-3 2h3m-3 11h3m-3 4h3m-3 2h3m-3 7h3m-3 9h3m-3 12h3m-3 10h3m-2-108h3m-3 10h3m-3 8h3m-3 1h3m-3 4h3m-3 3h3m-3 6h3m-3 4h3m-3 3h3m-3 4h3m-3 27h3m-3 1h3m-3 26h3m-2-111h3m-3 1h3m-3 8h3m-3 8h3m-3 6h3m-3 3h3m-3 0h3m-3 8h3m-3 1h3m-3 6h3m-3 10h3m-3 2h3m-3 1h3m-3 2h3m-3 4h3m-3 2h3m-3 5h3m-3 8h3m-3 12h3m-3 3h3m-3 17h3m-2-130h3m-3 18h3m-3 4h3m-3 11h3m-3 1h3m-3 12h3m-3 5h3m-3 1h3m-3 0h3m-3 0h3m-3 5h3m-3 1h3m-3 2h3m-3 0h3m-3 4h3m-3 0h3m-3 4h3m-3 18h3m-3 9h3m-3 1h3m-3 10h3m-3 26h3m-3 36h3m-2-167h3m-3 8h3m-3 0h3m-3 16h3m-3 7h3m-3 3h3m-3 19h3m-3 0h3m-3 5h3m-3 9h3m-3 6h3m-3 1h3m-3 1h3m-3 3h3m-3 0h3m-3 1h3m-3 9h3m-3 10h3m-3 2h3m-3 6h3m-3 1h3m-3 1h3m-3 44h3m-3 48h3m-2-199h3m-3 27h3m-3 6h3m-3 13h3m-3 4h3m-3 0h3m-3 2h3m-3 1h3m-3 4h3m-3 1h3m-3 3h3m-3 1h3m-3 7h3m-3 2h3m-3 2h3m-3 4h3m-3 4h3m-3 6h3m-3 4h3m-3 8h3m-3 18h3m-2-102h3m-3 2h3m-3 5h3m-3 10h3m-3 4h3m-3 3h3m-3 4h3m-3 8h3m-3 0h3m-3 7h3m-3 9h3m-3 5h3m-3 1h3m-3 2h3m-3 0h3m-3 0h3m-3 4h3m-3 8h3m-3 3h3m-3 0h3m-3 3h3m-3 8h3m-3 4h3m-3 13h3m-3 19h3m-2-110h3m-3 8h3m-3 16h3m-3 8h3m-3 2h3m-3 3h3m-3 3h3m-3 1h3m-3 25h3m-3 9h3m-3 16h3m-3 49h3m-2-169h3m-3 21h3m-3 1h3m-3 18h3m-3 16h3m-3 0h3m-3 1h3m-3 3h3m-3 10h3m-3 0h3m-3 5h3m-3 1h3m-3 5h3m-3 37h3m-3 7h3m-3 15h3m-3 12h3m-3 22h3m-2-162h3m-3 13h3m-3 10h3m-3 0h3m-3 22h3m-3 5h3m-3 15h3m-3 3h3m-3 0h3m-3 19h3m-3 9h3m-3 10h3m-3 14h3m-3 66h3m-2-171h3m-3 3h3m-3 19h3m-3 0h3m-3 1h3m-3 6h3m-3 1h3m-3 1h3m-3 8h3m-3 7h3m-3 4h3m-3 2h3m-3 0h3m-3 2h3m-3 12h3m-3 0h3m-3 2h3m-3 3h3m-3 0h3m-3 11h3m-3 3h3m-3 12h3m-3 36h3m-3 6h3m-2-136h3m-3 2h3m-3 6h3m-3 8h3m-3 8h3m-3 2h3m-3 7h3m-3 3h3m-3 12h3m-3 3h3m-3 1h3m-3 3h3m-3 3h3m-3 2h3m-3 16h3m-3 0h3m-3 21h3m-3 16h3m-2-105h3m-3 4h3m-3 4h3m-3 17h3m-3 3h3m-3 16h3m-3 2h3m-3 1h3m-3 8h3m-3 8h3m-3 3h3m-3 3h3m-3 2h3m-3 4h3m-3 1h3m-3 13h3m-3 12h3m-3 9h3m-2-116h3m-3 7h3m-3 14h3m-3 3h3m-3 1h3m-3 5h3m-3 11h3m-3 7h3m-3 2h3m-3 0h3m-3 8h3m-3 6h3m-3 3h3m-3 5h3m-3 3h3m-3 2h3m-3 4h3m-3 15h3m-3 5h3m-3 27h3m-3 8h3m-2-176h3m-3 42h3m-3 2h3m-3 8h3m-3 10h3m-3 32h3m-3 0h3m-3 3h3m-3 6h3m-3 3h3m-3 11h3m-3 8h3m-2-107h3m-3 25h3m-3 1h3m-3 7h3m-3 1h3m-3 3h3m-3 3h3m-3 0h3m-3 12h3m-3 8h3m-3 7h3m-3 9h3m-3 1h3m-3 1h3m-3 9h3m-3 4h3m-3 3h3m-3 0h3m-3 37h3m-3 41h3m-2-188h3m-3 40h3m-3 0h3m-3 4h3m-3 2h3m-3 17h3m-3 8h3m-3 1h3m-3 7h3m-3 1h3m-3 3h3m-3 10h3m-3 8h3m-3 3h3m-3 10h3m-3 2h3m-3 59h3m-3 16h3m-2-171h3m-3 19h3m-3 8h3m-3 0h3m-3 5h3m-3 7h3m-3 1h3m-3 1h3m-3 2h3m-3 10h3m-3 10h3m-3 0h3m-3 3h3m-3 2h3m-3 9h3m-3 14h3m-3 9h3m-3 21h3m-3 1h3m-3 68h3m-3 3h3m-2-174h3m-3 5h3m-3 9h3m-3 9h3m-3 3h3m-3 4h3m-3 6h3m-3 2h3m-3 4h3m-3 5h3m-3 1h3m-3 4h3m-3 3h3m-3 2h3m-3 5h3m-3 0h3m-3 10h3m-3 16h3m-3 43h3m-2-141h3m-3 2h3m-3 13h3m-3 10h3m-3 0h3m-3 1h3m-3 6h3m-3 3h3m-3 10h3m-3 2h3m-3 0h3m-3 1h3m-3 6h3m-3 2h3m-3 2h3m-3 3h3m-3 6h3m-3 10h3m-3 18h3m-2-95h3m-3 3h3m-3 1h3m-3 2h3m-3 6h3m-3 11h3m-3 1h3m-3 4h3m-3 1h3m-3 6h3m-3 9h3m-3 1h3m-3 1h3m-3 0h3m-3 9h3m-3 3h3m-3 7h3m-3 3h3m-3 1h3m-3 2h3m-3 2h3m-3 16h3m-3 2h3m-3 2h3m-3 10h3m-3 3h3m-3 10h3m-3 4h3m-3 1h3m-3 27h3m-2-122h3m-3 7h3m-3 5h3m-3 4h3m-3 0h3m-3 4h3m-3 20h3m-3 0h3m-3 1h3m-3 6h3m-3 0h3m-3 11h3m-3 4h3m-3 11h3m-3 2h3m-3 2h3m-3 9h3m-3 34h3m-2-155h3m-3 25h3m-3 1h3m-3 4h3m-3 1h3m-3 4h3m-3 1h3m-3 8h3m-3 9h3m-3 4h3m-3 5h3m-3 1h3m-3 24h3m-3 22h3m-3 6h3m-3 17h3m-2-138h3m-3 16h3m-3 3h3m-3 40h3m-3 0h3m-3 3h3m-3 16h3m-3 3h3m-3 0h3m-3 2h3m-3 7h3m-3 13h3m-3 1h3m-3 1h3m-3 2h3m-3 21h3m-3 37h3m-2-128h3m-3 17h3m-3 5h3m-3 2h3m-3 11h3m-3 1h3m-3 7h3m-3 1h3m-3 0h3m-3 4h3m-3 8h3m-3 6h3m-3 7h3m-3 3h3m-3 25h3m-3 72h3m-2-202h3m-3 31h3m-3 3h3m-3 3h3m-3 12h3m-3 4h3m-3 1h3m-3 12h3m-3 9h3m-3 0h3m-3 0h3m-3 7h3m-3 46h3m-3 3h3m-3 24h3m-3 3h3m-2-145h3m-3 18h3m-3 5h3m-3 1h3m-3 1h3m-3 9h3m-3 2h3m-3 9h3m-3 10h3m-3 28h3m-3 1h3m-3 6h3m-3 76h3m-2-192h3m-3 35h3m-3 2h3m-3 18h3m-3 9h3m-3 3h3m-3 9h3m-3 7h3m-3 2h3m-3 2h3m-3 4h3m-3 3h3m-3 14h3m-3 16h3m-3 20h3m-2-106h3m-3 1h3m-3 16h3m-3 2h3m-3 4h3m-3 2h3m-3 2h3m-3 4h3m-3 1h3m-3 8h3m-3 0h3m-3 4h3m-3 5h3m-3 4h3m-3 15h3m-3 9h3m-3 0h3m-3 18h3m-3 5h3m-2-124h3m-3 45h3m-3 1h3m-3 19h3m-3 3h3m-3 2h3m-3 2h3m-3 34h3m-3 9h3m-3 4h3m-3 37h3m-2-143h3m-3 31h3m-3 12h3m-3 3h3m-3 1h3m-3 2h3m-3 1h3m-3 4h3m-3 0h3m-3 2h3m-3 7h3m-3 3h3m-3 13h3m-3 8h3m-3 24h3m-2-111h3m-3 16h3m-3 3h3m-3 2h3m-3 10h3m-3 17h3m-3 4h3m-3 11h3m-3 4h3m-3 8h3m-3 3h3m-3 1h3m-3 2h3m-3 6h3m-3 20h3m-3 16h3m-3 4h3m-3 1h3m-2-103h3m-3 6h3m-3 4h3m-3 13h3m-3 6h3m-3 2h3m-3 0h3m-3 4h3m-3 5h3m-3 0h3m-3 27h3m-3 6h3m-3 42h3m-3 15h3m-2-156h3m-3 18h3m-3 4h3m-3 4h3m-3 1h3m-3 10h3m-3 1h3m-3 5h3m-3 2h3m-3 1h3m-3 1h3m-3 6h3m-3 3h3m-3 0h3m-3 22h3m-3 2h3m-3 12h3m-3 34h3m-3 9h3m-3 33h3m-2-199h3m-3 57h3m-3 6h3m-3 9h3m-3 5h3m-3 8h3m-3 0h3m-3 4h3m-3 4h3m-3 1h3m-3 4h3m-3 9h3m-3 7h3m-3 10h3m-3 11h3m-3 47h3m-2-152h3m-3 32h3m-3 2h3m-3 6h3m-3 9h3m-3 4h3m-3 1h3m-3 6h3m-3 2h3m-3 5h3m-3 11h3m-3 8h3m-3 4h3m-3 14h3m-3 24h3m-3 10h3m-3 69h3m-2-237h3m-3 29h3m-3 25h3m-3 14h3m-3 5h3m-3 25h3m-3 4h3m-3 3h3m-3 8h3m-3 2h3m-3 3h3m-3 3h3m-3 6h3m-3 4h3m-3 7h3m-3 4h3m-3 9h3m-3 30h3m-2-137h3m-3 6h3m-3 4h3m-3 1h3m-3 1h3m-3 9h3m-3 3h3m-3 0h3m-3 0h3m-3 2h3m-3 2h3m-3 7h3m-3 7h3m-3 0h3m-3 1h3m-3 0h3m-3 1h3m-3 3h3m-3 8h3m-3 2h3m-3 9h3m-3 6h3m-3 3h3m-3 4h3m-3 16h3m-3 29h3m-2-120h3m-3 27h3m-3 5h3m-3 6h3m-3 9h3m-3 11h3m-3 16h3m-2-81h3m-3 17h3m-3 0h3m-3 8h3m-3 3h3m-3 12h3m-3 3h3m-3 0h3m-3 1h3m-3 8h3m-3 10h3m-3 15h3m-3 16h3m-3 3h3m-3 2h3m-3 4h3m-2-113h3m-3 14h3m-3 24h3m-3 3h3m-3 7h3m-3 2h3m-3 3h3m-3 7h3m-3 3h3m-3 1h3m-3 12h3m-3 1h3m-3 54h3m-3 34h3m-2-189h3m-3 38h3m-3 7h3m-3 16h3m-3 1h3m-3 10h3m-3 8h3m-3 14h3m-3 0h3m-3 9h3m-3 6h3m-3 3h3m-3 0h3m-3 5h3m-3 69h3m-2-137h3m-3 8h3m-3 0h3m-3 10h3m-3 2h3m-3 2h3m-3 3h3m-3 3h3m-3 2h3m-3 5h3m-3 13h3m-3 1h3m-3 10h3m-3 1h3m-3 3h3m-3 1h3m-3 9h3m-3 10h3m-3 90h3m-2-177h3m-3 3h3m-3 13h3m-3 3h3m-3 3h3m-3 18h3m-3 8h3m-3 1h3m-3 3h3m-3 6h3m-3 1h3m-3 8h3m-3 3h3m-2-70h3m-3 15h3m-3 3h3m-3 1h3m-3 3h3m-3 9h3m-3 3h3m-3 3h3m-3 8h3m-3 2h3m-3 1h3m-3 0h3m-3 1h3m-3 3h3m-3 5h3m-3 5h3m-3 4h3m-3 2h3m-3 1h3m-3 10h3m-3 6h3m-3 5h3m-2-67h3m-3 2h3m-3 4h3m-3 5h3m-3 1h3m-3 0h3m-3 7h3m-3 2h3m-3 5h3m-3 16h3m-3 2h3m-3 2h3m-3 9h3m-2-70h3m-3 1h3m-3 9h3m-3 8h3m-3 2h3m-3 4h3m-3 4h3m-3 9h3m-3 1h3m-3 1h3m-3 6h3m-3 0h3m-3 6h3m-3 3h3m-3 5h3m-3 2h3m-3 6h3m-3 9h3m-3 5h3m-3 26h3m-3 1h3m-3 0h3m-2-110h3m-3 6h3m-3 8h3m-3 3h3m-3 1h3m-3 6h3m-3 4h3m-3 18h3m-3 3h3m-3 1h3m-3 8h3m-3 1h3m-3 3h3m-3 2h3m-3 8h3m-3 9h3m-3 2h3m-2-96h3m-3 9h3m-3 8h3m-3 16h3m-3 9h3m-3 1h3m-3 3h3m-3 0h3m-3 15h3m-3 2h3m-3 52h3m-3 12h3m-3 69h3m-2-186h3m-3 5h3m-3 7h3m-3 7h3m-3 6h3m-3 20h3m-3 2h3m-3 5h3m-3 31h3m-3 4h3m-3 3h3m-3 23h3m-3 48h3m-2-160h3m-3 2h3m-3 8h3m-3 20h3m-3 3h3m-3 4h3m-3 1h3m-3 15h3m-3 52h3m-2-134h3m-3 9h3m-3 28h3m-3 18h3m-3 14h3m-3 3h3m-3 0h3m-3 6h3m-3 3h3m-3 2h3m-3 6h3m-3 2h3m-3 7h3m-3 19h3m-3 0h3m-3 1h3m-3 2h3m-3 7h3m-2-119h3m-3 21h3m-3 23h3m-3 1h3m-3 16h3m-3 1h3m-3 7h3m-3 8h3m-3 9h3m-3 24h3m-2-107h3m-3 49h3m-3 1h3m-3 2h3m-3 3h3m-3 0h3m-3 6h3m-3 6h3m-3 1h3m-3 7h3m-3 4h3m-3 1h3m-3 4h3m-3 1h3m-3 4h3m-3 8h3m-3 10h3m-3 12h3m-2-148h3m-3 57h3m-3 2h3m-3 1h3m-3 1h3m-3 8h3m-3 13h3m-3 6h3m-3 4h3m-3 9h3m-3 8h3m-3 5h3m-3 1h3m-3 1h3m-3 10h3m-3 3h3m-3 5h3m-3 2h3m-3 7h3m-2-102h3m-3 1h3m-3 24h3m-3 6h3m-3 0h3m-3 4h3m-3 20h3m-3 1h3m-3 3h3m-3 9h3m-3 4h3m-3 2h3m-3 16h3m-3 7h3m-2-93h3m-3 12h3m-3 6h3m-3 1h3m-3 2h3m-3 9h3m-3 4h3m-3 2h3m-3 13h3m-3 3h3m-3 9h3m-3 5h3m-3 0h3m-3 2h3m-3 65h3m-2-120h3m-3 0h3m-3 2h3m-3 5h3m-3 8h3m-3 11h3m-3 3h3m-3 7h3m-3 0h3m-3 13h3m-3 13h3m-3 6h3m-3 2h3m-3 2h3m-3 9h3m-3 1h3m-3 4h3m-3 20h3m-3 4h3m-3 26h3m-3 2h3m-2-160h3m-3 9h3m-3 7h3m-3 15h3m-3 0h3m-3 10h3m-3 2h3m-3 9h3m-3 2h3m-3 4h3m-3 5h3m-3 3h3m-3 1h3m-3 3h3m-3 7h3m-3 1h3m-3 4h3m-3 6h3m-3 23h3m-2-97h3m-3 2h3m-3 8h3m-3 5h3m-3 4h3m-3 10h3m-3 1h3m-3 5h3m-3 1h3m-3 2h3m-3 3h3m-3 6h3m-3 21h3m-3 2h3m-3 0h3m-2-62h3m-3 4h3m-3 3h3m-3 0h3m-3 15h3m-3 5h3m-3 2h3m-3 10h3m-3 2h3m-3 17h3m-3 9h3m-3 9h3m-3 5h3m-3 0h3m-3 7h3m-3 3h3m-3 16h3m-3 1h3m-3 35h3m-2-167h3m-3 38h3m-3 2h3m-3 2h3m-3 2h3m-3 0h3m-3 8h3m-3 3h3m-3 8h3m-3 9h3m-3 21h3m-3 26h3m-2-94h3m-3 11h3m-3 5h3m-3 5h3m-3 6h3m-3 2h3m-3 2h3m-3 2h3m-3 4h3m-3 10h3m-3 7h3m-3 9h3m-3 12h3m-3 29h3m-3 33h3m-2-157h3m-3 15h3m-3 14h3m-3 0h3m-3 21h3m-3 8h3m-3 2h3m-3 1h3m-3 1h3m-3 3h3m-3 10h3m-3 1h3m-3 5h3m-3 14h3m-3 7h3m-2-81h3m-3 9h3m-3 4h3m-3 13h3m-3 2h3m-3 2h3m-3 5h3m-3 0h3m-3 3h3m-3 9h3m-3 8h3m-3 11h3m-2-74h3m-3 5h3m-3 8h3m-3 12h3m-3 2h3m-3 3h3m-3 10h3m-3 9h3m-3 0h3m-3 11h3m-3 0h3m-3 12h3m-3 5h3m-3 7h3m-3 16h3m-3 6h3m-3 10h3m-3 35h3m-2-136h3m-3 1h3m-3 2h3m-3 11h3m-3 6h3m-3 7h3m-3 16h3m-3 1h3m-3 31h3m-2-75h3m-3 1h3m-3 6h3m-3 3h3m-3 1h3m-3 13h3m-3 0h3m-3 2h3m-3 4h3m-3 2h3m-3 1h3m-3 0h3m-3 1h3m-3 3h3m-3 1h3m-3 9h3m-3 4h3m-3 26h3m-3 2h3m-3 81h3m-2-174h3m-3 5h3m-3 3h3m-3 10h3m-3 2h3m-3 3h3m-3 0h3m-3 1h3m-3 3h3m-3 0h3m-3 1h3m-3 5h3m-3 16h3m-3 5h3m-3 0h3m-3 2h3m-3 2h3m-3 63h3m-2-124h3m-3 8h3m-3 9h3m-3 4h3m-3 18h3m-3 1h3m-3 15h3m-3 1h3m-3 3h3m-3 1h3m-3 2h3m-3 2h3m-3 1h3m-3 19h3m-3 55h3m-2-168h3m-3 28h3m-3 8h3m-3 6h3m-3 3h3m-3 8h3m-3 0h3m-3 6h3m-3 1h3m-3 0h3m-3 3h3m-3 1h3m-3 9h3m-3 4h3m-3 2h3m-3 1h3m-3 1h3m-3 2h3m-3 5h3m-3 7h3m-3 2h3m-3 11h3m-3 0h3m-3 11h3m-3 20h3m-3 22h3m-2-107h3m-3 8h3m-3 3h3m-3 7h3m-3 0h3m-3 4h3m-3 0h3m-3 1h3m-3 0h3m-3 1h3m-3 10h3m-3 6h3m-3 1h3m-3 0h3m-3 7h3m-3 2h3m-3 34h3m-3 8h3m-2-112h3m-3 13h3m-3 4h3m-3 7h3m-3 4h3m-3 2h3m-3 2h3m-3 0h3m-3 13h3m-3 1h3m-3 6h3m-3 2h3m-3 2h3m-3 17h3m-3 3h3m-3 15h3m-3 54h3m-2-130h3m-3 4h3m-3 7h3m-3 3h3m-3 5h3m-3 1h3m-3 6h3m-3 2h3m-3 1h3m-3 0h3m-3 5h3m-3 1h3m-3 4h3m-3 6h3m-3 6h3m-3 9h3m-3 10h3m-3 16h3m-3 14h3m-2-105h3m-3 12h3m-3 1h3m-3 3h3m-3 1h3m-3 1h3m-3 4h3m-3 5h3m-3 1h3m-3 23h3m-2-69h3m-3 9h3m-3 16h3m-3 5h3m-3 2h3m-3 6h3m-3 1h3m-3 6h3m-3 1h3m-3 3h3m-3 2h3m-3 0h3m-3 2h3m-3 3h3m-3 7h3m-3 1h3m-3 2h3m-3 4h3m-3 9h3m-3 0h3m-3 8h3m-3 0h3m-3 34h3m-3 16h3m-2-151h3m-3 20h3m-3 5h3m-3 24h3m-3 2h3m-3 6h3m-3 1h3m-3 3h3m-3 5h3m-3 2h3m-3 2h3m-3 9h3m-3 8h3m-3 3h3m-3 1h3m-3 7h3m-3 8h3m-3 14h3m-3 37h3m-3 12h3m-2-137h3m-3 12h3m-3 3h3m-3 1h3m-3 4h3m-3 2h3m-3 3h3m-3 1h3m-3 11h3m-3 3h3m-3 1h3m-3 10h3m-3 2h3m-3 3h3m-3 9h3m-3 4h3m-3 5h3m-3 10h3m-3 19h3m-2-93h3m-3 5h3m-3 7h3m-3 5h3m-3 6h3m-3 4h3m-3 3h3m-3 1h3m-3 1h3m-3 6h3m-3 3h3m-3 3h3m-3 0h3m-3 1h3m-3 4h3m-3 2h3m-3 4h3m-3 64h3m-3 3h3m-2-133h3m-3 13h3m-3 10h3m-3 3h3m-3 4h3m-3 3h3m-3 9h3m-3 0h3m-3 4h3m-3 1h3m-3 4h3m-3 1h3m-3 1h3m-3 5h3m-3 3h3m-3 6h3m-3 55h3m-3 18h3m-2-176h3m-3 40h3m-3 10h3m-3 5h3m-3 1h3m-3 2h3m-3 2h3m-3 8h3m-3 8h3m-3 12h3m-3 0h3m-3 2h3m-3 7h3m-3 2h3m-3 10h3m-3 2h3m-3 19h3m-3 0h3m-2-78h3m-3 5h3m-3 15h3m-3 3h3m-3 0h3m-3 10h3m-3 0h3m-3 1h3m-3 2h3m-3 5h3m-3 2h3m-3 3h3m-2-44h3m-3 2h3m-3 3h3m-3 4h3m-3 3h3m-3 6h3m-3 17h3m-3 1h3m-3 4h3m-3 7h3m-3 3h3m-3 1h3m-2-47h3m-3 1h3m-3 3h3m-3 1h3m-3 0h3m-3 1h3m-3 3h3m-3 3h3m-3 2h3m-3 1h3m-3 3h3m-3 5h3m-3 7h3m-3 4h3m-3 1h3m-3 1h3m-3 1h3m-3 14h3m-3 5h3m-3 3h3m-3 10h3m-2-61h3m-3 0h3m-3 1h3m-3 6h3m-3 2h3m-3 1h3m-3 2h3m-3 3h3m-3 2h3m-3 2h3m-3 3h3m-3 2h3m-3 2h3m-3 1h3m-3 5h3m-3 8h3m-3 26h3m-3 7h3m-3 10h3m-2-90h3m-3 1h3m-3 5h3m-3 6h3m-3 3h3m-3 4h3m-3 1h3m-3 1h3m-3 0h3m-3 0h3m-3 1h3m-3 4h3m-3 2h3m-3 1h3m-3 1h3m-3 3h3m-3 8h3m-3 7h3m-3 1h3m-3 0h3m-3 6h3m-3 44h3m-2-104h3m-3 0h3m-3 3h3m-3 0h3m-3 8h3m-3 4h3m-3 2h3m-3 2h3m-3 2h3m-3 3h3m-3 0h3m-3 1h3m-3 1h3m-3 1h3m-3 1h3m-3 1h3m-3 1h3m-3 4h3m-3 0h3m-3 3h3m-3 2h3m-3 2h3m-3 7h3m-3 6h3m-3 4h3m-3 24h3m-3 6h3m-3 8h3m-3 8h3m-2-85h3m-3 4h3m-3 5h3m-3 3h3m-3 4h3m-3 2h3m-3 1h3m-3 0h3m-3 0h3m-3 32h3m-3 48h3m-2-102h3m-3 6h3m-3 4h3m-3 1h3m-3 7h3m-3 2h3m-3 9h3m-3 7h3m-3 9h3m-3 6h3m-3 3h3m-2-66h3m-3 9h3m-3 1h3m-3 6h3m-3 1h3m-3 5h3m-3 2h3m-3 4h3m-3 1h3m-3 1h3m-3 5h3m-3 8h3m-3 1h3m-3 13h3m-3 14h3m-3 2h3m-3 10h3m-2-72h3m-3 2h3m-3 6h3m-3 8h3m-3 2h3m-3 4h3m-3 0h3m-3 0h3m-3 1h3m-3 2h3m-3 3h3m-3 0h3m-3 5h3m-3 1h3m-3 5h3m-3 25h3m-3 26h3m-2-101h3m-3 25h3m-3 2h3m-3 1h3m-3 4h3m-3 2h3m-3 4h3m-3 1h3m-3 0h3m-3 1h3m-3 2h3m-3 1h3m-3 2h3m-3 2h3m-3 2h3m-3 6h3m-3 8h3m-3 9h3m-3 0h3m-3 1h3m-3 5h3m-2-62h3m-3 3h3m-3 2h3m-3 2h3m-3 1h3m-3 3h3m-3 0h3m-3 1h3m-3 1h3m-3 1h3m-3 4h3m-3 3h3m-3 6h3m-3 2h3m-3 1h3m-3 8h3m-3 3h3m-3 10h3m-2-53h3m-3 7h3m-3 3h3m-3 3h3m-3 0h3m-3 6h3m-3 7h3m-3 2h3m-3 0h3m-3 3h3m-3 2h3m-3 1h3m-3 4h3m-3 3h3m-3 8h3m-3 2h3m-3 12h3m-3 9h3m-3 7h3m-3 5h3m-3 0h3m-2-70h3m-3 0h3m-3 1h3m-3 9h3m-3 3h3m-3 2h3m-3 2h3m-3 7h3m-3 0h3m-3 3h3m-3 0h3m-3 2h3m-3 0h3m-3 9h3m-3 3h3m-3 0h3m-3 15h3m-2-52h3m-3 5h3m-3 16h3m-3 0h3m-3 1h3m-3 3h3m-3 2h3m-3 0h3m-3 0h3m-3 8h3m-3 34h3m-2-62h3m-3 0h3m-3 2h3m-3 1h3m-3 5h3m-3 4h3m-3 1h3m-3 6h3m-3 7h3m-3 2h3m-3 0h3m-3 19h3m-3 17h3m-2-68h3m-3 3h3m-3 5h3m-3 3h3m-3 2h3m-3 1h3m-3 1h3m-3 1h3m-3 4h3m-3 0h3m-3 2h3m-3 2h3m-3 1h3m-3 4h3m-3 1h3m-3 1h3m-3 1h3m-3 3h3m-3 1h3m-3 20h3m-2-93h3m-3 49h3m-3 4h3m-3 1h3m-3 0h3m-3 7h3m-3 2h3m-3 2h3m-3 0h3m-3 2h3m-3 0h3m-3 1h3m-3 0h3m-3 1h3m-3 2h3m-3 0h3m-3 1h3m-3 4h3m-3 0h3m-3 3h3m-3 1h3m-3 15h3m-3 16h3m-2-48h3m-3 6h3m-3 3h3m-3 2h3m-3 3h3m-3 0h3m-3 2h3m-3 1h3m-3 1h3m-3 0h3m-3 3h3m-3 7h3m-3 4h3m-3 6h3m-3 0h3m-3 6h3m-3 5h3m-3 2h3m-3 6h3m-2-57h3m-3 0h3m-3 5h3m-3 2h3m-3 4h3m-3 1h3m-3 2h3m-3 2h3m-3 1h3m-3 0h3m-3 1h3m-3 1h3m-3 1h3m-3 1h3m-3 10h3m-3 8h3m-3 0h3m-3 2h3m-2-43h3m-3 12h3m-3 3h3m-3 2h3m-3 2h3m-3 3h3m-3 0h3m-3 1h3m-3 3h3m-3 1h3m-3 0h3m-3 3h3m-3 5h3m-3 2h3m-3 3h3m-3 0h3m-3 2h3m-2-18h3m-3 1h3m-3 1h3m-3 3h3m-3 3h3m-3 1h3m-3 1h3m-3 0h3m-3 0h3m-3 2h3m-3 0h3m-3 1h3m-3 1h3m-3 0h3m-3 2h3m-3 0h3m-3 0h3m-3 2h3m-3 1h3m-3 3h3m-3 2h3m-3 2h3m-3 1h3m-3 9h3m-3 1h3m-2-27h3m-3 2h3m-3 0h3m-3 2h3m-3 0h3m-3 1h3m-3 1h3m-3 6h3m-3 1h3m-3 0h3m-3 0h3m-3 0h3m-3 1h3m-3 0h3m-3 2h3m-3 2h3m-3 0h3m-3 5h3m-3 0h3m-3 14h3m-3 6h3m-2-33h3m-3 2h3m-3 1h3m-3 2h3m-3 0h3m-3 4h3m-3 7h3m-3 0h3m-3 18h3" stroke="#ef5c4a" stroke-opacity="0.78" stroke-width="2.8" fill="none"/>
<line x1="64.80" y1="1305.80" x2="274.10" y2="1398.40" stroke="#7a7a7a" stroke-width="1.7" />
<rect x="53.90" y="1221.00" width="231.40" height="230.60" fill="none" stroke="#a0a0a0" stroke-width="1.0" />
<linearGradient id="gh1" x1="0" x2="1" y1="0" y2="0"><stop offset="0" stop-color="#ffee00"/><stop offset="0.3" stop-color="#fbc10e"/><stop offset="0.6" stop-color="#f5922a"/><stop offset="0.85" stop-color="#ee5f33"/><stop offset="1" stop-color="#e5392f"/></linearGradient>
<path d="M51.9,1468.9 L285.3,1454.9 L285.3,1468.9Z" fill="url(#gh1)"/>
<text x="165.3" y="1485.7" font-size="18.5" text-anchor="middle" fill="#1a1a1a" >Ranked pan-H3Kac in AC</text>
<line x1="332.40" y1="1226.70" x2="335.40" y2="1226.70" stroke="#555" stroke-width="1" />
<text x="331.4" y="1234.0" font-size="20.6" text-anchor="end" fill="#1a1a1a" >6</text>
<line x1="332.40" y1="1292.80" x2="335.40" y2="1292.80" stroke="#555" stroke-width="1" />
<text x="331.4" y="1300.1" font-size="20.6" text-anchor="end" fill="#1a1a1a" >4</text>
<line x1="332.40" y1="1358.90" x2="335.40" y2="1358.90" stroke="#555" stroke-width="1" />
<text x="331.4" y="1366.2" font-size="20.6" text-anchor="end" fill="#1a1a1a" >2</text>
<line x1="332.40" y1="1424.30" x2="335.40" y2="1424.30" stroke="#555" stroke-width="1" />
<text x="331.4" y="1431.6" font-size="20.6" text-anchor="end" fill="#1a1a1a" >0</text>
<text x="314.8" y="1344" font-size="18.4" text-anchor="middle" fill="#1a1a1a" transform="rotate(-90 314.8 1344)" >Log2(FC of pan-H3Kac in VG)</text>
<filter id="bh2" x="-10%" y="-20%" width="120%" height="140%"><feGaussianBlur stdDeviation="3.2"/></filter>
<clipPath id="cbh2"><rect x="344.3" y="0" width="212.49999999999994" height="1492"/></clipPath>
<g clip-path="url(#cbh2)"><path d="M345.8,1259.2 L349.3,1261.3 L352.8,1263.4 L356.3,1265.0 L359.8,1266.4 L363.3,1267.7 L366.8,1269.0 L370.2,1270.3 L373.7,1271.7 L377.2,1273.0 L380.7,1274.3 L384.2,1275.6 L387.7,1277.0 L391.2,1278.3 L394.7,1279.6 L398.2,1281.0 L401.7,1282.3 L405.2,1283.6 L408.6,1284.9 L412.1,1286.1 L415.6,1287.3 L419.1,1288.5 L422.6,1289.7 L426.1,1290.8 L429.6,1292.0 L433.1,1293.2 L436.6,1294.4 L440.1,1295.6 L443.6,1296.7 L447.1,1297.9 L450.5,1299.1 L454.0,1300.2 L457.5,1301.2 L461.0,1302.3 L464.5,1303.3 L468.0,1304.4 L471.5,1305.5 L475.0,1306.5 L478.5,1307.6 L482.0,1308.6 L485.5,1309.7 L489.0,1310.8 L492.4,1311.8 L495.9,1312.8 L499.4,1313.8 L502.9,1314.7 L506.4,1315.7 L509.9,1316.7 L513.4,1317.7 L516.9,1318.6 L520.4,1319.6 L523.9,1320.6 L527.4,1322.1 L530.9,1323.6 L534.3,1325.1 L537.8,1327.1 L541.3,1329.7 L544.8,1334.3 L548.3,1339.8 L551.8,1352.7 L555.3,1378.0 L555.3,1389.8 L551.8,1367.1 L548.3,1356.6 L544.8,1352.8 L541.3,1349.8 L537.8,1349.0 L534.3,1348.6 L530.9,1347.7 L527.4,1346.7 L523.9,1345.7 L520.4,1345.3 L516.9,1344.8 L513.4,1344.4 L509.9,1344.0 L506.4,1343.5 L502.9,1343.1 L499.4,1342.6 L495.9,1342.2 L492.4,1341.8 L489.0,1341.3 L485.5,1340.7 L482.0,1340.2 L478.5,1339.7 L475.0,1339.2 L471.5,1338.6 L468.0,1338.1 L464.5,1337.6 L461.0,1337.1 L457.5,1336.6 L454.0,1336.0 L450.5,1335.5 L447.1,1334.8 L443.6,1334.0 L440.1,1333.3 L436.6,1332.5 L433.1,1331.8 L429.6,1331.0 L426.1,1330.3 L422.6,1329.5 L419.1,1328.8 L415.6,1328.0 L412.1,1327.3 L408.6,1326.5 L405.2,1325.6 L401.7,1324.7 L398.2,1323.8 L394.7,1322.9 L391.2,1322.1 L387.7,1321.2 L384.2,1320.3 L380.7,1319.4 L377.2,1318.5 L373.7,1317.6 L370.2,1316.7 L366.8,1315.8 L363.3,1314.9 L359.8,1314.0 L356.3,1313.1 L352.8,1311.9 L349.3,1310.2 L345.8,1308.5Z" fill="#80c97c" fill-opacity="0.75" filter="url(#bh2)"/></g>
<path transform="scale(.5)" d="M691 2520h3m-3 5h3m-3 1h3m-3 3h3m-3 24h3m-3 14h3m-3 8h3m-3 10h3m-3 1h3m-3 7h3m-3 2h3m-3 9h3m-2-101h3m-3 10h3m-3 5h3m-3 12h3m-3 1h3m-3 0h3m-3 4h3m-3 19h3m-3 1h3m-3 3h3m-3 10h3m-3 8h3m-3 1h3m-3 0h3m-3 7h3m-3 4h3m-3 0h3m-3 8h3m-3 0h3m-3 15h3m-3 6h3m-3 14h3m-3 3h3m-3 18h3m-3 11h3m-2-184h3m-3 28h3m-3 3h3m-3 11h3m-3 9h3m-3 24h3m-3 5h3m-3 8h3m-3 1h3m-3 9h3m-3 2h3m-3 0h3m-3 10h3m-3 20h3m-3 1h3m-3 34h3m-3 13h3m-3 3h3m-2-162h3m-3 2h3m-3 1h3m-3 2h3m-3 16h3m-3 20h3m-3 3h3m-3 14h3m-3 7h3m-3 10h3m-3 0h3m-3 10h3m-3 18h3m-3 15h3m-3 3h3m-3 2h3m-3 5h3m-3 1h3m-3 20h3m-2-156h3m-3 38h3m-3 22h3m-3 3h3m-3 2h3m-3 11h3m-3 3h3m-3 23h3m-3 7h3m-3 2h3m-3 14h3m-3 18h3m-3 6h3m-2-127h3m-3 4h3m-3 3h3m-3 8h3m-3 3h3m-3 1h3m-3 2h3m-3 2h3m-3 7h3m-3 8h3m-3 3h3m-3 28h3m-3 12h3m-3 3h3m-3 7h3m-3 1h3m-3 0h3m-3 5h3m-3 4h3m-3 29h3m-3 3h3m-3 26h3m-3 8h3m-2-135h3m-3 5h3m-3 0h3m-3 4h3m-3 13h3m-3 9h3m-3 3h3m-3 4h3m-3 2h3m-3 7h3m-3 10h3m-3 8h3m-3 11h3m-3 21h3m-3 8h3m-2-171h3m-3 24h3m-3 9h3m-3 26h3m-3 4h3m-3 2h3m-3 23h3m-3 11h3m-3 5h3m-3 6h3m-3 19h3m-3 4h3m-3 7h3m-3 14h3m-3 42h3m-3 12h3m-2-226h3m-3 62h3m-3 25h3m-3 0h3m-3 5h3m-3 0h3m-3 11h3m-3 7h3m-3 3h3m-3 5h3m-3 3h3m-3 16h3m-3 4h3m-3 1h3m-3 4h3m-3 13h3m-3 2h3m-3 28h3m-3 14h3m-3 57h3m-2-205h3m-3 1h3m-3 1h3m-3 17h3m-3 0h3m-3 12h3m-3 9h3m-3 7h3m-3 3h3m-3 1h3m-3 1h3m-3 3h3m-3 16h3m-3 8h3m-3 4h3m-3 5h3m-3 6h3m-3 2h3m-3 2h3m-3 0h3m-3 22h3m-2-142h3m-3 5h3m-3 5h3m-3 16h3m-3 22h3m-3 19h3m-3 1h3m-3 7h3m-3 1h3m-3 9h3m-3 11h3m-3 7h3m-3 6h3m-3 36h3m-3 3h3m-3 16h3m-3 100h3m-2-260h3m-3 41h3m-3 5h3m-3 15h3m-3 0h3m-3 15h3m-3 13h3m-3 4h3m-3 14h3m-3 4h3m-3 2h3m-3 32h3m-3 23h3m-3 2h3m-2-141h3m-3 5h3m-3 2h3m-3 8h3m-3 9h3m-3 0h3m-3 4h3m-3 14h3m-3 9h3m-3 9h3m-3 0h3m-3 1h3m-3 1h3m-3 0h3m-3 12h3m-3 3h3m-3 15h3m-3 25h3m-2-192h3m-3 60h3m-3 12h3m-3 3h3m-3 25h3m-3 12h3m-3 0h3m-3 12h3m-3 32h3m-3 7h3m-3 15h3m-3 6h3m-3 4h3m-3 18h3m-3 9h3m-2-168h3m-3 24h3m-3 4h3m-3 12h3m-3 3h3m-3 0h3m-3 8h3m-3 17h3m-3 0h3m-3 5h3m-3 3h3m-3 3h3m-3 6h3m-3 1h3m-3 10h3m-3 20h3m-3 12h3m-3 4h3m-3 1h3m-3 9h3m-3 5h3m-3 0h3m-3 4h3m-3 3h3m-2-164h3m-3 25h3m-3 3h3m-3 9h3m-3 9h3m-3 4h3m-3 4h3m-3 1h3m-3 1h3m-3 3h3m-3 4h3m-3 8h3m-3 11h3m-3 4h3m-3 3h3m-3 3h3m-3 17h3m-3 3h3m-3 1h3m-3 9h3m-3 3h3m-3 5h3m-3 34h3m-3 0h3m-3 37h3m-2-189h3m-3 4h3m-3 20h3m-3 1h3m-3 29h3m-3 12h3m-3 18h3m-3 6h3m-3 17h3m-3 1h3m-3 9h3m-3 1h3m-3 4h3m-3 18h3m-3 0h3m-2-136h3m-3 30h3m-3 5h3m-3 5h3m-3 13h3m-3 6h3m-3 8h3m-3 4h3m-3 6h3m-3 6h3m-3 1h3m-3 3h3m-3 4h3m-3 6h3m-3 1h3m-3 2h3m-3 3h3m-3 16h3m-3 2h3m-3 0h3m-3 15h3m-3 3h3m-3 4h3m-3 15h3m-2-138h3m-3 9h3m-3 5h3m-3 21h3m-3 10h3m-3 4h3m-3 1h3m-3 1h3m-3 10h3m-3 1h3m-3 2h3m-3 1h3m-3 6h3m-3 2h3m-3 0h3m-3 3h3m-3 10h3m-3 1h3m-3 12h3m-3 4h3m-3 5h3m-3 24h3m-2-111h3m-3 9h3m-3 1h3m-3 26h3m-3 9h3m-3 3h3m-3 6h3m-3 17h3m-2-75h3m-3 1h3m-3 0h3m-3 2h3m-3 5h3m-3 4h3m-3 3h3m-3 27h3m-3 6h3m-3 0h3m-3 1h3m-3 0h3m-3 2h3m-3 25h3m-3 28h3m-3 15h3m-2-156h3m-3 1h3m-3 14h3m-3 3h3m-3 4h3m-3 16h3m-3 9h3m-3 14h3m-3 9h3m-3 1h3m-3 5h3m-3 10h3m-3 4h3m-3 2h3m-3 3h3m-3 10h3m-3 6h3m-3 24h3m-3 3h3m-3 32h3m-2-178h3m-3 17h3m-3 41h3m-3 3h3m-3 2h3m-3 8h3m-3 5h3m-3 4h3m-3 8h3m-3 55h3m-3 41h3m-2-166h3m-3 6h3m-3 7h3m-3 9h3m-3 4h3m-3 1h3m-3 2h3m-3 3h3m-3 10h3m-3 4h3m-3 1h3m-3 9h3m-3 1h3m-3 20h3m-3 6h3m-3 15h3m-3 5h3m-3 19h3m-3 37h3m-2-165h3m-3 25h3m-3 3h3m-3 6h3m-3 3h3m-3 20h3m-3 12h3m-3 2h3m-3 18h3m-3 2h3m-3 6h3m-3 4h3m-3 24h3m-3 8h3m-3 13h3m-3 5h3m-2-165h3m-3 23h3m-3 6h3m-3 19h3m-3 5h3m-3 5h3m-3 26h3m-3 7h3m-3 13h3m-3 13h3m-3 19h3m-3 5h3m-2-153h3m-3 56h3m-3 0h3m-3 9h3m-3 0h3m-3 5h3m-3 19h3m-3 1h3m-3 7h3m-3 1h3m-3 19h3m-3 5h3m-3 4h3m-3 6h3m-3 6h3m-3 15h3m-3 5h3m-3 0h3m-3 47h3m-2-153h3m-3 1h3m-3 8h3m-3 4h3m-3 1h3m-3 8h3m-3 0h3m-3 3h3m-3 6h3m-3 12h3m-3 11h3m-3 12h3m-3 2h3m-3 0h3m-3 4h3m-3 2h3m-3 6h3m-3 15h3m-3 18h3m-2-183h3m-3 49h3m-3 5h3m-3 1h3m-3 4h3m-3 15h3m-3 3h3m-3 0h3m-3 12h3m-3 1h3m-3 25h3m-3 7h3m-3 14h3m-3 3h3m-3 3h3m-3 2h3m-3 3h3m-3 16h3m-3 3h3m-3 3h3m-3 14h3m-3 55h3m-2-208h3m-3 20h3m-3 13h3m-3 1h3m-3 2h3m-3 1h3m-3 1h3m-3 9h3m-3 10h3m-3 0h3m-3 2h3m-3 2h3m-3 5h3m-3 2h3m-3 8h3m-3 6h3m-3 8h3m-3 20h3m-3 1h3m-3 38h3m-3 34h3m-3 20h3m-2-185h3m-3 4h3m-3 18h3m-3 15h3m-3 2h3m-3 3h3m-3 2h3m-3 4h3m-3 5h3m-3 0h3m-3 18h3m-3 13h3m-3 11h3m-3 9h3m-3 30h3m-3 8h3m-3 2h3m-3 6h3m-3 20h3m-2-180h3m-3 3h3m-3 6h3m-3 10h3m-3 47h3m-3 5h3m-3 3h3m-3 5h3m-3 7h3m-3 7h3m-3 1h3m-3 7h3m-3 4h3m-3 16h3m-3 6h3m-3 5h3m-3 6h3m-3 17h3m-3 1h3m-3 21h3m-3 27h3m-3 2h3m-2-185h3m-3 20h3m-3 13h3m-3 4h3m-3 33h3m-3 3h3m-3 4h3m-3 2h3m-3 5h3m-3 0h3m-3 3h3m-3 1h3m-3 17h3m-3 9h3m-3 4h3m-3 1h3m-3 25h3m-2-142h3m-3 23h3m-3 11h3m-3 1h3m-3 14h3m-3 5h3m-3 11h3m-3 10h3m-3 3h3m-3 8h3m-3 3h3m-3 42h3m-2-191h3m-3 8h3m-3 13h3m-3 8h3m-3 21h3m-3 3h3m-3 8h3m-3 1h3m-3 13h3m-3 4h3m-3 20h3m-3 7h3m-3 3h3m-3 27h3m-3 1h3m-3 30h3m-2-110h3m-3 45h3m-3 25h3m-3 14h3m-3 0h3m-3 2h3m-3 10h3m-3 9h3m-3 32h3m-3 25h3m-2-202h3m-3 17h3m-3 27h3m-3 36h3m-3 0h3m-3 2h3m-3 3h3m-3 3h3m-3 9h3m-3 5h3m-3 2h3m-3 38h3m-3 5h3m-3 2h3m-3 26h3m-2-128h3m-3 18h3m-3 1h3m-3 1h3m-3 0h3m-3 4h3m-3 4h3m-3 10h3m-3 4h3m-3 1h3m-3 9h3m-3 22h3m-3 4h3m-3 1h3m-3 4h3m-3 4h3m-3 0h3m-3 9h3m-3 20h3m-3 16h3m-3 4h3m-3 12h3m-2-197h3m-3 59h3m-3 2h3m-3 34h3m-3 26h3m-3 15h3m-3 11h3m-3 5h3m-3 0h3m-2-128h3m-3 27h3m-3 15h3m-3 6h3m-3 1h3m-3 8h3m-3 3h3m-3 1h3m-3 2h3m-3 10h3m-3 7h3m-3 0h3m-3 0h3m-3 18h3m-3 9h3m-3 6h3m-3 8h3m-3 4h3m-3 0h3m-3 3h3m-3 3h3m-3 33h3m-3 4h3m-2-198h3m-3 33h3m-3 20h3m-3 3h3m-3 6h3m-3 1h3m-3 2h3m-3 39h3m-3 0h3m-3 11h3m-3 10h3m-3 1h3m-3 17h3m-3 0h3m-3 30h3m-3 5h3m-3 7h3m-2-171h3m-3 22h3m-3 17h3m-3 7h3m-3 8h3m-3 16h3m-3 3h3m-3 7h3m-3 0h3m-3 2h3m-3 2h3m-3 17h3m-3 3h3m-3 14h3m-3 1h3m-3 2h3m-3 0h3m-3 5h3m-3 9h3m-3 22h3m-3 11h3m-3 22h3m-3 22h3m-2-225h3m-3 43h3m-3 19h3m-3 1h3m-3 19h3m-3 7h3m-3 11h3m-3 0h3m-3 4h3m-3 8h3m-3 28h3m-3 5h3m-3 17h3m-3 3h3m-3 2h3m-3 10h3m-3 11h3m-3 18h3m-3 6h3m-3 4h3m-3 1h3m-3 47h3m-2-209h3m-3 1h3m-3 10h3m-3 10h3m-3 2h3m-3 4h3m-3 9h3m-3 2h3m-3 19h3m-3 3h3m-3 16h3m-3 2h3m-3 25h3m-3 4h3m-3 1h3m-3 19h3m-2-149h3m-3 3h3m-3 4h3m-3 12h3m-3 50h3m-3 9h3m-3 8h3m-3 1h3m-3 8h3m-3 3h3m-3 5h3m-3 8h3m-3 123h3m-2-210h3m-3 4h3m-3 4h3m-3 7h3m-3 17h3m-3 0h3m-3 3h3m-3 9h3m-3 4h3m-3 4h3m-3 5h3m-3 1h3m-3 4h3m-3 3h3m-3 5h3m-3 0h3m-3 7h3m-3 4h3m-3 1h3m-3 22h3m-3 18h3m-3 19h3m-3 33h3m-3 6h3m-2-185h3m-3 21h3m-3 14h3m-3 11h3m-3 22h3m-3 6h3m-3 1h3m-3 1h3m-3 3h3m-3 2h3m-3 3h3m-3 8h3m-3 16h3m-3 9h3m-3 7h3m-2-128h3m-3 24h3m-3 16h3m-3 7h3m-3 8h3m-3 32h3m-3 13h3m-3 12h3m-3 2h3m-3 5h3m-3 5h3m-3 17h3m-3 13h3m-2-195h3m-3 45h3m-3 3h3m-3 9h3m-3 18h3m-3 6h3m-3 1h3m-3 0h3m-3 2h3m-3 1h3m-3 18h3m-3 5h3m-3 0h3m-3 11h3m-3 17h3m-3 3h3m-3 1h3m-3 4h3m-3 8h3m-3 14h3m-3 5h3m-3 7h3m-3 5h3m-2-189h3m-3 31h3m-3 41h3m-3 5h3m-3 10h3m-3 4h3m-3 8h3m-3 2h3m-3 1h3m-3 9h3m-3 5h3m-3 3h3m-3 0h3m-3 1h3m-3 11h3m-3 7h3m-3 11h3m-3 1h3m-3 1h3m-3 6h3m-3 37h3m-2-184h3m-3 56h3m-3 8h3m-3 0h3m-3 7h3m-3 13h3m-3 3h3m-3 8h3m-3 9h3m-3 1h3m-3 4h3m-3 10h3m-3 1h3m-3 4h3m-3 2h3m-3 27h3m-3 135h3m-2-268h3m-3 3h3m-3 33h3m-3 19h3m-3 5h3m-3 1h3m-3 1h3m-3 12h3m-3 7h3m-3 11h3m-3 0h3m-3 1h3m-3 17h3m-3 10h3m-3 13h3m-3 40h3m-3 17h3m-3 35h3m-2-245h3m-3 22h3m-3 1h3m-3 3h3m-3 4h3m-3 11h3m-3 2h3m-3 18h3m-3 31h3m-3 5h3m-3 5h3m-3 3h3m-3 2h3m-3 0h3m-3 1h3m-3 0h3m-3 14h3m-3 1h3m-3 15h3m-3 4h3m-3 18h3m-3 42h3m-2-224h3m-3 55h3m-3 7h3m-3 13h3m-3 12h3m-3 3h3m-3 24h3m-3 2h3m-3 12h3m-3 5h3m-3 3h3m-3 3h3m-3 12h3m-3 8h3m-3 17h3m-3 4h3m-3 2h3m-3 7h3m-3 27h3m-2-165h3m-3 12h3m-3 2h3m-3 24h3m-3 0h3m-3 1h3m-3 7h3m-3 7h3m-3 24h3m-3 0h3m-3 2h3m-3 6h3m-3 0h3m-3 2h3m-3 4h3m-3 4h3m-3 2h3m-3 7h3m-3 6h3m-3 32h3m-3 19h3m-2-160h3m-3 5h3m-3 7h3m-3 19h3m-3 6h3m-3 5h3m-3 1h3m-3 10h3m-3 10h3m-3 6h3m-3 13h3m-3 2h3m-3 0h3m-3 0h3m-3 5h3m-3 1h3m-3 1h3m-3 1h3m-3 16h3m-3 16h3m-3 19h3m-3 33h3m-2-148h3m-3 7h3m-3 5h3m-3 2h3m-3 7h3m-3 11h3m-3 8h3m-3 10h3m-3 6h3m-3 1h3m-3 5h3m-3 2h3m-3 3h3m-3 7h3m-3 6h3m-3 3h3m-2-118h3m-3 22h3m-3 2h3m-3 5h3m-3 16h3m-3 17h3m-3 0h3m-3 11h3m-3 3h3m-3 2h3m-3 3h3m-3 5h3m-3 2h3m-3 6h3m-3 7h3m-3 1h3m-3 2h3m-3 6h3m-3 1h3m-3 3h3m-3 2h3m-3 3h3m-3 67h3m-3 0h3m-3 125h3m-2-280h3m-3 11h3m-3 9h3m-3 4h3m-3 3h3m-3 12h3m-3 21h3m-3 1h3m-3 9h3m-3 9h3m-3 18h3m-3 5h3m-3 26h3m-3 3h3m-2-160h3m-3 6h3m-3 10h3m-3 14h3m-3 7h3m-3 5h3m-3 14h3m-3 13h3m-3 7h3m-3 1h3m-3 7h3m-3 18h3m-3 36h3m-3 11h3m-2-109h3m-3 3h3m-3 10h3m-3 16h3m-3 4h3m-3 3h3m-3 13h3m-3 3h3m-3 8h3m-3 10h3m-3 6h3m-3 3h3m-3 1h3m-3 0h3m-3 18h3m-3 4h3m-3 23h3m-2-126h3m-3 10h3m-3 9h3m-3 2h3m-3 6h3m-3 3h3m-3 1h3m-3 3h3m-3 1h3m-3 15h3m-3 4h3m-3 0h3m-3 19h3m-3 33h3m-3 3h3m-3 1h3m-2-99h3m-3 4h3m-3 7h3m-3 1h3m-3 31h3m-3 8h3m-3 9h3m-3 8h3m-3 30h3m-3 24h3m-3 4h3m-2-146h3m-3 12h3m-3 40h3m-3 12h3m-3 11h3m-3 8h3m-3 5h3m-3 10h3m-3 28h3m-3 18h3m-2-137h3m-3 6h3m-3 4h3m-3 30h3m-3 10h3m-3 9h3m-3 0h3m-3 15h3m-3 4h3m-2-176h3m-3 76h3m-3 1h3m-3 4h3m-3 9h3m-3 2h3m-3 0h3m-3 8h3m-3 14h3m-3 3h3m-3 12h3m-3 9h3m-3 1h3m-3 16h3m-3 2h3m-3 7h3m-3 0h3m-3 3h3m-3 11h3m-3 3h3m-3 1h3m-3 1h3m-3 18h3m-3 2h3m-3 18h3m-2-153h3m-3 16h3m-3 13h3m-3 3h3m-3 14h3m-3 3h3m-3 3h3m-3 12h3m-3 4h3m-3 6h3m-3 7h3m-3 17h3m-3 0h3m-3 11h3m-3 2h3m-3 17h3m-3 6h3m-3 1h3m-3 2h3m-3 31h3m-2-138h3m-3 5h3m-3 2h3m-3 7h3m-3 6h3m-3 1h3m-3 2h3m-3 9h3m-3 19h3m-3 0h3m-3 15h3m-3 4h3m-3 1h3m-3 1h3m-3 0h3m-3 21h3m-2-139h3m-3 26h3m-3 7h3m-3 13h3m-3 3h3m-3 0h3m-3 6h3m-3 1h3m-3 3h3m-3 0h3m-3 8h3m-3 4h3m-3 19h3m-3 5h3m-3 7h3m-3 2h3m-3 3h3m-3 8h3m-3 11h3m-3 4h3m-3 10h3m-3 20h3m-2-142h3m-3 11h3m-3 4h3m-3 5h3m-3 24h3m-3 3h3m-3 3h3m-3 2h3m-3 0h3m-3 11h3m-3 5h3m-3 5h3m-3 6h3m-3 2h3m-3 0h3m-3 1h3m-3 10h3m-3 1h3m-3 15h3m-3 57h3m-2-161h3m-3 2h3m-3 29h3m-3 13h3m-3 1h3m-3 31h3m-3 3h3m-3 2h3m-3 3h3m-3 1h3m-3 10h3m-3 2h3m-3 11h3m-3 4h3m-3 4h3m-3 33h3m-2-158h3m-3 8h3m-3 16h3m-3 6h3m-3 8h3m-3 12h3m-3 10h3m-3 7h3m-3 7h3m-3 2h3m-3 7h3m-3 3h3m-3 7h3m-3 2h3m-3 5h3m-3 4h3m-3 2h3m-3 3h3m-3 8h3m-3 17h3m-2-110h3m-3 5h3m-3 34h3m-3 10h3m-3 10h3m-3 2h3m-3 1h3m-3 17h3m-3 4h3m-3 26h3m-3 6h3m-3 16h3m-2-130h3m-3 2h3m-3 24h3m-3 8h3m-3 2h3m-3 1h3m-3 14h3m-3 0h3m-3 1h3m-3 11h3m-3 34h3m-3 32h3m-2-151h3m-3 1h3m-3 14h3m-3 3h3m-3 11h3m-3 15h3m-3 17h3m-3 1h3m-3 13h3m-3 8h3m-3 4h3m-3 3h3m-3 9h3m-3 4h3m-3 3h3m-3 4h3m-3 30h3m-3 21h3m-2-135h3m-3 1h3m-3 19h3m-3 6h3m-3 8h3m-3 5h3m-3 6h3m-3 3h3m-3 7h3m-3 11h3m-3 41h3m-3 30h3m-2-170h3m-3 4h3m-3 29h3m-3 5h3m-3 3h3m-3 0h3m-3 14h3m-3 14h3m-3 6h3m-3 0h3m-3 2h3m-3 17h3m-3 8h3m-3 8h3m-3 1h3m-3 1h3m-3 6h3m-3 0h3m-3 8h3m-3 10h3m-2-111h3m-3 35h3m-3 20h3m-3 3h3m-3 12h3m-3 5h3m-3 3h3m-3 10h3m-3 4h3m-3 9h3m-3 19h3m-3 12h3m-3 15h3m-3 47h3m-3 20h3m-2-201h3m-3 11h3m-3 0h3m-3 2h3m-3 1h3m-3 2h3m-3 4h3m-3 0h3m-3 6h3m-3 5h3m-3 4h3m-3 8h3m-3 3h3m-3 11h3m-3 13h3m-3 2h3m-3 4h3m-3 8h3m-3 0h3m-3 6h3m-3 23h3m-3 7h3m-2-148h3m-3 8h3m-3 32h3m-3 4h3m-3 12h3m-3 3h3m-3 1h3m-3 0h3m-3 27h3m-3 0h3m-3 1h3m-3 13h3m-3 5h3m-3 9h3m-3 6h3m-2-100h3m-3 6h3m-3 8h3m-3 8h3m-3 6h3m-3 5h3m-3 10h3m-3 11h3m-3 4h3m-3 1h3m-3 12h3m-3 10h3m-3 5h3m-3 3h3m-3 7h3m-3 6h3m-2-126h3m-3 27h3m-3 14h3m-3 0h3m-3 11h3m-3 6h3m-3 2h3m-3 12h3m-3 0h3m-3 6h3m-3 14h3m-3 27h3m-3 1h3m-3 7h3m-2-108h3m-3 22h3m-3 18h3m-3 13h3m-3 9h3m-3 1h3m-3 0h3m-3 4h3m-3 11h3m-3 20h3m-3 10h3m-3 10h3m-3 1h3m-3 34h3m-3 24h3m-3 24h3m-2-215h3m-3 44h3m-3 11h3m-3 13h3m-3 14h3m-3 7h3m-3 18h3m-3 2h3m-3 1h3m-3 1h3m-3 3h3m-3 0h3m-3 12h3m-3 4h3m-3 5h3m-3 20h3m-3 11h3m-3 4h3m-3 9h3m-3 33h3m-2-201h3m-3 3h3m-3 43h3m-3 13h3m-3 11h3m-3 1h3m-3 0h3m-3 5h3m-3 7h3m-3 6h3m-3 2h3m-3 0h3m-3 1h3m-3 0h3m-3 7h3m-3 8h3m-2-118h3m-3 20h3m-3 0h3m-3 8h3m-3 7h3m-3 18h3m-3 0h3m-3 1h3m-3 1h3m-3 8h3m-3 6h3m-3 6h3m-3 0h3m-3 14h3m-3 4h3m-3 3h3m-3 48h3m-3 99h3m-2-245h3m-3 12h3m-3 13h3m-3 12h3m-3 26h3m-3 0h3m-3 4h3m-3 6h3m-3 6h3m-3 0h3m-3 5h3m-3 7h3m-3 4h3m-3 38h3m-3 13h3m-3 21h3m-2-167h3m-3 5h3m-3 15h3m-3 2h3m-3 0h3m-3 26h3m-3 11h3m-3 3h3m-3 0h3m-3 7h3m-3 2h3m-3 1h3m-3 14h3m-3 4h3m-3 4h3m-3 1h3m-3 15h3m-3 10h3m-3 25h3m-2-163h3m-3 60h3m-3 18h3m-3 1h3m-3 7h3m-3 15h3m-3 10h3m-3 3h3m-3 4h3m-2-138h3m-3 69h3m-3 15h3m-3 1h3m-3 13h3m-3 3h3m-3 2h3m-3 1h3m-3 4h3m-3 7h3m-3 23h3m-3 21h3m-3 3h3m-3 1h3m-3 17h3m-3 4h3m-2-176h3m-3 40h3m-3 6h3m-3 29h3m-3 9h3m-3 6h3m-3 14h3m-3 9h3m-3 4h3m-3 2h3m-3 16h3m-3 5h3m-3 19h3m-3 11h3m-3 7h3m-3 43h3m-3 29h3m-2-204h3m-3 13h3m-3 24h3m-3 7h3m-3 0h3m-3 24h3m-3 4h3m-3 2h3m-3 4h3m-3 3h3m-3 6h3m-3 15h3m-3 8h3m-3 0h3m-3 6h3m-2-120h3m-3 2h3m-3 39h3m-3 2h3m-3 7h3m-3 1h3m-3 6h3m-3 23h3m-3 2h3m-3 18h3m-3 9h3m-3 6h3m-3 24h3m-3 4h3m-3 26h3m-3 11h3m-3 11h3m-2-183h3m-3 7h3m-3 3h3m-3 19h3m-3 5h3m-3 1h3m-3 1h3m-3 5h3m-3 4h3m-3 3h3m-3 9h3m-3 3h3m-3 13h3m-3 3h3m-3 20h3m-3 5h3m-3 1h3m-3 19h3m-2-141h3m-3 10h3m-3 3h3m-3 14h3m-3 10h3m-3 2h3m-3 13h3m-3 0h3m-3 2h3m-3 10h3m-3 3h3m-3 2h3m-3 6h3m-3 5h3m-3 11h3m-3 1h3m-3 1h3m-3 7h3m-3 2h3m-3 1h3m-3 17h3m-3 8h3m-3 24h3m-3 0h3m-3 14h3m-3 36h3m-3 2h3m-2-178h3m-3 17h3m-3 3h3m-3 3h3m-3 3h3m-3 12h3m-3 3h3m-3 3h3m-3 4h3m-3 3h3m-3 1h3m-3 8h3m-3 1h3m-3 4h3m-3 10h3m-3 2h3m-3 28h3m-3 18h3m-2-165h3m-3 45h3m-3 8h3m-3 0h3m-3 20h3m-3 32h3m-3 6h3m-3 4h3m-3 13h3m-3 20h3m-3 9h3m-3 19h3m-2-140h3m-3 20h3m-3 10h3m-3 0h3m-3 3h3m-3 1h3m-3 2h3m-3 4h3m-3 10h3m-3 2h3m-3 13h3m-3 1h3m-3 6h3m-3 1h3m-3 12h3m-3 3h3m-3 3h3m-3 23h3m-3 19h3m-2-130h3m-3 14h3m-3 1h3m-3 2h3m-3 2h3m-3 1h3m-3 11h3m-3 9h3m-3 1h3m-3 5h3m-3 6h3m-3 1h3m-3 3h3m-3 11h3m-3 7h3m-3 25h3m-3 19h3m-3 3h3m-3 76h3m-3 25h3m-2-207h3m-3 2h3m-3 3h3m-3 1h3m-3 4h3m-3 12h3m-3 6h3m-3 1h3m-3 4h3m-3 0h3m-3 1h3m-3 6h3m-3 1h3m-3 19h3m-3 1h3m-3 10h3m-3 2h3m-3 5h3m-3 1h3m-3 5h3m-3 11h3m-3 17h3m-2-152h3m-3 15h3m-3 7h3m-3 18h3m-3 28h3m-3 1h3m-3 13h3m-3 3h3m-3 1h3m-3 4h3m-3 8h3m-3 2h3m-3 3h3m-3 0h3m-3 0h3m-3 3h3m-3 1h3m-3 0h3m-3 1h3m-3 0h3m-3 7h3m-3 2h3m-3 1h3m-3 2h3m-3 10h3m-3 1h3m-3 30h3m-3 29h3m-2-203h3m-3 23h3m-3 36h3m-3 27h3m-3 8h3m-3 4h3m-3 9h3m-3 11h3m-3 1h3m-3 5h3m-3 0h3m-3 16h3m-3 3h3m-2-137h3m-3 23h3m-3 23h3m-3 0h3m-3 7h3m-3 1h3m-3 13h3m-3 2h3m-3 12h3m-3 4h3m-3 34h3m-3 6h3m-3 16h3m-2-102h3m-3 6h3m-3 3h3m-3 1h3m-3 14h3m-3 8h3m-3 12h3m-3 1h3m-3 4h3m-3 8h3m-3 4h3m-3 2h3m-3 49h3m-3 1h3m-3 74h3m-3 94h3m-2-336h3m-3 45h3m-3 32h3m-3 30h3m-3 5h3m-3 34h3m-3 1h3m-3 3h3m-3 10h3m-2-114h3m-3 4h3m-3 7h3m-3 13h3m-3 4h3m-3 10h3m-3 4h3m-3 15h3m-3 22h3m-3 5h3m-3 7h3m-3 10h3m-3 4h3m-3 2h3m-3 1h3m-3 4h3m-2-93h3m-3 5h3m-3 4h3m-3 19h3m-3 4h3m-3 1h3m-3 0h3m-3 4h3m-3 7h3m-3 1h3m-3 7h3m-3 3h3m-3 17h3m-3 2h3m-3 2h3m-3 3h3m-3 48h3m-2-180h3m-3 0h3m-3 44h3m-3 3h3m-3 2h3m-3 13h3m-3 7h3m-3 0h3m-3 8h3m-3 13h3m-3 2h3m-3 3h3m-3 9h3m-3 3h3m-3 13h3m-3 2h3m-3 19h3m-3 31h3m-2-164h3m-3 54h3m-3 17h3m-3 16h3m-3 10h3m-3 1h3m-3 10h3m-3 6h3m-3 7h3m-3 19h3m-3 4h3m-3 14h3m-3 5h3m-2-149h3m-3 15h3m-3 9h3m-3 5h3m-3 8h3m-3 11h3m-3 2h3m-3 6h3m-3 9h3m-3 0h3m-3 2h3m-3 9h3m-3 3h3m-3 2h3m-3 17h3m-3 6h3m-3 2h3m-3 2h3m-3 11h3m-3 5h3m-3 7h3m-3 18h3m-3 37h3m-3 7h3m-3 9h3m-2-203h3m-3 41h3m-3 11h3m-3 2h3m-3 4h3m-3 12h3m-3 19h3m-3 3h3m-3 9h3m-3 17h3m-2-85h3m-3 12h3m-3 1h3m-3 8h3m-3 0h3m-3 3h3m-3 1h3m-3 1h3m-3 1h3m-3 3h3m-3 2h3m-3 1h3m-3 10h3m-3 4h3m-3 1h3m-3 7h3m-3 23h3m-3 18h3m-3 4h3m-3 33h3m-2-179h3m-3 46h3m-3 5h3m-3 15h3m-3 6h3m-3 9h3m-3 3h3m-3 1h3m-3 13h3m-3 9h3m-3 1h3m-3 0h3m-3 2h3m-3 1h3m-3 2h3m-3 0h3m-3 3h3m-3 1h3m-3 1h3m-3 5h3m-3 26h3m-2-123h3m-3 9h3m-3 14h3m-3 3h3m-3 18h3m-3 4h3m-3 9h3m-3 1h3m-3 23h3m-3 4h3m-3 5h3m-3 44h3m-3 6h3m-3 51h3m-2-202h3m-3 43h3m-3 5h3m-3 7h3m-3 14h3m-3 0h3m-3 1h3m-3 2h3m-3 4h3m-3 3h3m-3 1h3m-3 1h3m-3 4h3m-3 7h3m-3 8h3m-3 2h3m-3 2h3m-3 7h3m-3 88h3m-2-190h3m-3 1h3m-3 21h3m-3 5h3m-3 2h3m-3 7h3m-3 1h3m-3 16h3m-3 4h3m-3 2h3m-3 3h3m-3 1h3m-3 3h3m-3 6h3m-3 8h3m-3 2h3m-3 9h3m-3 2h3m-3 39h3m-3 20h3m-2-152h3m-3 34h3m-3 0h3m-3 17h3m-3 2h3m-3 1h3m-3 1h3m-3 4h3m-3 5h3m-3 0h3m-3 4h3m-3 3h3m-3 3h3m-3 11h3m-3 8h3m-3 2h3m-3 7h3m-3 3h3m-3 6h3m-3 17h3m-3 16h3m-2-97h3m-3 7h3m-3 4h3m-3 10h3m-3 19h3m-3 12h3m-3 5h3m-3 14h3m-3 2h3m-3 11h3m-3 1h3m-2-138h3m-3 19h3m-3 3h3m-3 14h3m-3 36h3m-3 1h3m-3 3h3m-3 1h3m-3 14h3m-3 6h3m-3 3h3m-3 3h3m-3 3h3m-3 4h3m-3 5h3m-3 2h3m-3 9h3m-3 14h3m-3 99h3m-3 0h3m-2-235h3m-3 8h3m-3 13h3m-3 7h3m-3 1h3m-3 15h3m-3 10h3m-3 1h3m-3 8h3m-3 1h3m-3 8h3m-3 5h3m-3 2h3m-3 0h3m-3 4h3m-3 1h3m-3 5h3m-3 40h3m-3 19h3m-3 3h3m-3 34h3m-2-194h3m-3 19h3m-3 13h3m-3 11h3m-3 8h3m-3 5h3m-3 1h3m-3 20h3m-3 47h3m-3 5h3m-3 25h3m-2-150h3m-3 8h3m-3 13h3m-3 11h3m-3 34h3m-3 7h3m-3 4h3m-3 3h3m-3 9h3m-3 12h3m-3 11h3m-3 11h3m-2-114h3m-3 18h3m-3 3h3m-3 12h3m-3 5h3m-3 3h3m-3 18h3m-3 0h3m-3 10h3m-3 2h3m-3 1h3m-3 0h3m-3 2h3m-3 1h3m-3 12h3m-3 7h3m-3 1h3m-3 2h3m-3 2h3m-3 1h3m-3 1h3m-3 2h3m-3 1h3m-3 2h3m-3 14h3m-3 9h3m-2-124h3m-3 27h3m-3 12h3m-3 2h3m-3 2h3m-3 10h3m-3 1h3m-3 2h3m-3 1h3m-3 8h3m-3 14h3m-3 4h3m-3 0h3m-3 4h3m-3 0h3m-3 1h3m-3 35h3m-3 4h3m-3 0h3m-3 1h3m-3 33h3m-2-158h3m-3 4h3m-3 0h3m-3 20h3m-3 18h3m-3 1h3m-3 1h3m-3 0h3m-3 4h3m-3 12h3m-3 3h3m-3 3h3m-3 6h3m-3 4h3m-3 1h3m-3 6h3m-3 1h3m-3 9h3m-3 22h3m-3 5h3m-3 4h3m-2-122h3m-3 12h3m-3 2h3m-3 20h3m-3 2h3m-3 2h3m-3 1h3m-3 1h3m-3 4h3m-3 5h3m-3 3h3m-3 7h3m-3 4h3m-3 18h3m-3 13h3m-3 4h3m-3 9h3m-3 57h3m-3 9h3m-2-152h3m-3 9h3m-3 4h3m-3 7h3m-3 16h3m-3 3h3m-3 9h3m-3 4h3m-3 18h3m-3 2h3m-3 31h3m-3 105h3m-2-213h3m-3 14h3m-3 4h3m-3 2h3m-3 0h3m-3 2h3m-3 9h3m-3 5h3m-3 1h3m-3 4h3m-3 3h3m-3 1h3m-3 2h3m-3 0h3m-3 6h3m-3 3h3m-3 10h3m-3 6h3m-3 1h3m-3 5h3m-3 20h3m-3 4h3m-3 18h3m-3 47h3m-2-196h3m-3 2h3m-3 31h3m-3 0h3m-3 1h3m-3 21h3m-3 3h3m-3 8h3m-3 1h3m-3 1h3m-3 4h3m-3 2h3m-3 3h3m-3 0h3m-3 9h3m-3 3h3m-3 26h3m-3 0h3m-3 20h3m-3 19h3m-3 34h3m-2-207h3m-3 48h3m-3 11h3m-3 4h3m-3 2h3m-3 0h3m-3 1h3m-3 15h3m-3 6h3m-3 14h3m-3 0h3m-3 12h3m-3 12h3m-3 0h3m-3 31h3m-3 5h3m-3 9h3m-3 106h3m-2-291h3m-3 21h3m-3 12h3m-3 26h3m-3 5h3m-3 1h3m-3 12h3m-3 5h3m-3 10h3m-3 7h3m-3 3h3m-3 25h3m-3 12h3m-3 9h3m-3 11h3m-3 32h3m-2-140h3m-3 15h3m-3 2h3m-3 0h3m-3 7h3m-3 6h3m-3 8h3m-3 18h3m-3 2h3m-3 3h3m-3 7h3m-3 0h3m-3 5h3m-3 2h3m-3 3h3m-3 1h3m-3 2h3m-3 0h3m-3 5h3m-3 5h3m-3 2h3m-3 6h3m-3 20h3m-3 22h3m-3 91h3m-2-233h3m-3 24h3m-3 10h3m-3 1h3m-3 10h3m-3 7h3m-3 0h3m-3 5h3m-3 2h3m-3 8h3m-3 18h3m-3 22h3m-3 36h3m-3 0h3m-3 9h3m-2-210h3m-3 73h3m-3 11h3m-3 2h3m-3 7h3m-3 8h3m-3 1h3m-3 2h3m-3 4h3m-3 1h3m-3 3h3m-3 11h3m-3 8h3m-3 3h3m-3 1h3m-3 11h3m-3 11h3m-3 2h3m-3 14h3m-3 2h3m-3 4h3m-2-154h3m-3 28h3m-3 7h3m-3 17h3m-3 8h3m-3 7h3m-3 2h3m-3 4h3m-3 1h3m-3 9h3m-3 12h3m-3 5h3m-3 13h3m-3 2h3m-3 7h3m-3 12h3m-3 29h3m-2-114h3m-3 4h3m-3 6h3m-3 6h3m-3 4h3m-3 15h3m-3 6h3m-3 1h3m-3 6h3m-3 7h3m-3 23h3m-3 1h3m-3 25h3m-3 12h3m-3 28h3m-3 7h3m-2-169h3m-3 7h3m-3 1h3m-3 4h3m-3 6h3m-3 3h3m-3 11h3m-3 7h3m-3 5h3m-3 17h3m-3 2h3m-3 7h3m-3 0h3m-3 5h3m-3 6h3m-3 25h3m-3 1h3m-3 4h3m-2-136h3m-3 23h3m-3 35h3m-3 8h3m-3 2h3m-3 2h3m-3 5h3m-3 4h3m-3 20h3m-3 4h3m-3 26h3m-3 3h3m-2-116h3m-3 10h3m-3 8h3m-3 22h3m-3 7h3m-3 35h3m-3 2h3m-3 14h3m-3 0h3m-3 12h3m-3 0h3m-3 4h3m-3 11h3m-3 44h3m-3 1h3m-2-175h3m-3 15h3m-3 7h3m-3 13h3m-3 2h3m-3 6h3m-3 5h3m-3 12h3m-3 0h3m-3 3h3m-3 4h3m-3 2h3m-3 14h3m-3 1h3m-3 4h3m-3 5h3m-3 1h3m-3 4h3m-3 5h3m-3 3h3m-3 6h3m-3 23h3m-3 48h3m-2-177h3m-3 13h3m-3 23h3m-3 2h3m-3 5h3m-3 5h3m-3 7h3m-3 10h3m-3 1h3m-3 28h3m-3 5h3m-3 18h3m-3 26h3m-2-129h3m-3 17h3m-3 3h3m-3 3h3m-3 12h3m-3 5h3m-3 5h3m-3 5h3m-3 7h3m-3 14h3m-3 6h3m-3 16h3m-3 58h3m-3 9h3m-2-160h3m-3 10h3m-3 12h3m-3 5h3m-3 8h3m-3 2h3m-3 1h3m-3 1h3m-3 12h3m-3 3h3m-3 1h3m-3 9h3m-3 1h3m-3 0h3m-3 10h3m-3 16h3m-3 12h3m-3 2h3m-3 4h3m-3 30h3m-3 29h3m-2-193h3m-3 9h3m-3 7h3m-3 12h3m-3 2h3m-3 19h3m-3 1h3m-3 1h3m-3 1h3m-3 7h3m-3 1h3m-3 3h3m-3 17h3m-3 1h3m-3 1h3m-3 11h3m-3 22h3m-3 1h3m-3 2h3m-3 29h3m-2-124h3m-3 8h3m-3 11h3m-3 1h3m-3 6h3m-3 3h3m-3 1h3m-3 7h3m-3 2h3m-3 9h3m-3 1h3m-3 0h3m-3 1h3m-3 11h3m-3 3h3m-3 11h3m-3 4h3m-3 5h3m-3 3h3m-3 1h3m-3 4h3m-3 1h3m-3 7h3m-2-79h3m-3 5h3m-3 8h3m-3 2h3m-3 0h3m-3 9h3m-3 2h3m-3 8h3m-3 1h3m-3 1h3m-3 3h3m-3 2h3m-3 7h3m-3 6h3m-3 18h3m-3 6h3m-3 9h3m-3 13h3m-2-96h3m-3 4h3m-3 3h3m-3 1h3m-3 17h3m-3 8h3m-3 4h3m-3 6h3m-3 3h3m-3 8h3m-3 2h3m-3 3h3m-3 0h3m-3 9h3m-3 17h3m-3 16h3m-3 32h3m-3 26h3m-2-204h3m-3 61h3m-3 3h3m-3 1h3m-3 2h3m-3 6h3m-3 11h3m-3 2h3m-3 7h3m-3 8h3m-3 21h3m-3 11h3m-3 26h3m-2-138h3m-3 11h3m-3 30h3m-3 5h3m-3 4h3m-3 10h3m-3 3h3m-3 11h3m-3 1h3m-3 2h3m-3 8h3m-3 10h3m-3 6h3m-2-85h3m-3 18h3m-3 1h3m-3 0h3m-3 14h3m-3 0h3m-3 10h3m-3 16h3m-3 1h3m-3 3h3m-3 9h3m-3 3h3m-3 19h3m-3 4h3m-3 11h3m-3 4h3m-2-110h3m-3 3h3m-3 8h3m-3 0h3m-3 12h3m-3 1h3m-3 4h3m-3 4h3m-3 1h3m-3 1h3m-3 7h3m-3 2h3m-3 4h3m-3 19h3m-3 3h3m-3 16h3m-3 5h3m-3 36h3m-2-157h3m-3 47h3m-3 11h3m-3 8h3m-3 45h3m-3 11h3m-3 5h3m-3 1h3m-3 6h3m-3 4h3m-3 32h3m-3 7h3m-2-159h3m-3 8h3m-3 1h3m-3 16h3m-3 4h3m-3 10h3m-3 5h3m-3 10h3m-3 2h3m-3 6h3m-3 0h3m-3 11h3m-3 26h3m-3 10h3m-3 31h3m-3 2h3m-3 51h3m-2-202h3m-3 4h3m-3 23h3m-3 1h3m-3 45h3m-3 0h3m-3 7h3m-3 3h3m-3 1h3m-3 10h3m-3 14h3m-3 18h3m-3 17h3m-3 8h3m-3 20h3m-2-175h3m-3 13h3m-3 2h3m-3 10h3m-3 3h3m-3 0h3m-3 2h3m-3 12h3m-3 11h3m-3 10h3m-3 9h3m-3 19h3m-3 29h3m-2-95h3m-3 22h3m-3 14h3m-3 6h3m-3 7h3m-3 8h3m-3 2h3m-3 31h3m-3 1h3m-2-132h3m-3 37h3m-3 39h3m-3 4h3m-3 8h3m-3 4h3m-3 0h3m-3 2h3m-3 5h3m-3 19h3m-3 7h3m-3 22h3m-3 23h3m-2-117h3m-3 22h3m-3 1h3m-3 9h3m-3 1h3m-3 17h3m-3 0h3m-3 3h3m-3 3h3m-3 8h3m-3 30h3m-2-143h3m-3 38h3m-3 1h3m-3 9h3m-3 2h3m-3 1h3m-3 6h3m-3 4h3m-3 1h3m-3 6h3m-3 3h3m-3 1h3m-3 2h3m-3 4h3m-3 3h3m-3 0h3m-3 3h3m-3 2h3m-3 8h3m-3 63h3m-3 24h3m-2-149h3m-3 4h3m-3 2h3m-3 8h3m-3 34h3m-3 6h3m-3 2h3m-3 8h3m-3 5h3m-3 12h3m-3 12h3m-3 11h3m-2-126h3m-3 35h3m-3 9h3m-3 11h3m-3 5h3m-3 1h3m-3 4h3m-3 14h3m-3 6h3m-3 6h3m-3 9h3m-3 5h3m-3 7h3m-3 2h3m-3 10h3m-3 27h3m-3 3h3m-2-129h3m-3 8h3m-3 4h3m-3 2h3m-3 32h3m-3 6h3m-3 7h3m-3 7h3m-3 3h3m-3 4h3m-3 10h3m-3 3h3m-3 6h3m-2-102h3m-3 8h3m-3 8h3m-3 3h3m-3 3h3m-3 5h3m-3 4h3m-3 8h3m-3 2h3m-3 1h3m-3 2h3m-3 3h3m-3 2h3m-3 3h3m-3 8h3m-3 6h3m-3 5h3m-3 1h3m-3 4h3m-3 8h3m-3 0h3m-3 18h3m-3 1h3m-3 5h3m-3 5h3m-3 1h3m-3 58h3m-2-163h3m-3 0h3m-3 2h3m-3 2h3m-3 1h3m-3 13h3m-3 3h3m-3 3h3m-3 3h3m-3 5h3m-3 13h3m-3 1h3m-3 11h3m-3 2h3m-3 11h3m-3 2h3m-3 17h3m-3 4h3m-3 10h3m-3 16h3m-3 24h3m-2-151h3m-3 4h3m-3 7h3m-3 0h3m-3 15h3m-3 9h3m-3 7h3m-3 3h3m-3 1h3m-3 5h3m-3 1h3m-3 8h3m-3 1h3m-3 0h3m-3 4h3m-3 1h3m-3 1h3m-3 10h3m-3 11h3m-3 0h3m-3 2h3m-3 8h3m-2-90h3m-3 9h3m-3 6h3m-3 10h3m-3 12h3m-3 0h3m-3 2h3m-3 6h3m-3 1h3m-3 11h3m-3 13h3m-3 1h3m-3 12h3m-3 38h3m-2-123h3m-3 3h3m-3 4h3m-3 2h3m-3 8h3m-3 6h3m-3 2h3m-3 1h3m-3 18h3m-3 1h3m-3 0h3m-3 8h3m-3 5h3m-3 1h3m-3 3h3m-3 3h3m-3 11h3m-3 3h3m-3 0h3m-3 13h3m-3 27h3m-3 11h3m-3 4h3m-2-131h3m-3 10h3m-3 3h3m-3 1h3m-3 7h3m-3 6h3m-3 7h3m-3 7h3m-3 1h3m-3 0h3m-3 4h3m-3 3h3m-3 5h3m-3 2h3m-3 4h3m-3 10h3m-3 9h3m-3 1h3m-3 0h3m-3 18h3m-3 1h3m-3 9h3m-3 4h3m-3 14h3m-2-142h3m-3 11h3m-3 6h3m-3 9h3m-3 8h3m-3 0h3m-3 12h3m-3 0h3m-3 6h3m-3 23h3m-3 4h3m-3 15h3m-3 19h3m-3 14h3m-3 18h3m-3 0h3m-2-132h3m-3 31h3m-3 21h3m-3 12h3m-3 7h3m-3 5h3m-3 1h3m-3 2h3m-3 1h3m-3 1h3m-3 1h3m-3 25h3m-3 29h3m-3 83h3m-2-225h3m-3 7h3m-3 15h3m-3 6h3m-3 7h3m-3 26h3m-3 3h3m-3 4h3m-3 4h3m-3 15h3m-3 22h3m-3 4h3m-3 69h3m-2-178h3m-3 6h3m-3 10h3m-3 0h3m-3 11h3m-3 15h3m-3 1h3m-3 0h3m-3 14h3m-3 1h3m-3 5h3m-3 6h3m-3 4h3m-3 8h3m-3 0h3m-3 9h3m-3 11h3m-2-89h3m-3 10h3m-3 8h3m-3 0h3m-3 12h3m-3 11h3m-3 1h3m-3 2h3m-3 1h3m-3 18h3m-3 4h3m-3 8h3m-3 2h3m-3 9h3m-3 14h3m-3 99h3m-2-207h3m-3 6h3m-3 4h3m-3 8h3m-3 16h3m-3 9h3m-3 10h3m-3 3h3m-3 15h3m-3 3h3m-3 7h3m-3 5h3m-3 7h3m-3 9h3m-3 9h3m-2-102h3m-3 10h3m-3 0h3m-3 4h3m-3 4h3m-3 2h3m-3 12h3m-3 6h3m-3 1h3m-3 7h3m-3 8h3m-3 6h3m-3 19h3m-3 8h3m-3 0h3m-3 2h3m-3 4h3m-3 3h3m-3 2h3m-3 0h3m-2-95h3m-3 3h3m-3 1h3m-3 9h3m-3 5h3m-3 18h3m-3 7h3m-3 20h3m-3 16h3m-3 8h3m-3 0h3m-3 17h3m-2-124h3m-3 7h3m-3 6h3m-3 1h3m-3 15h3m-3 9h3m-3 7h3m-3 5h3m-3 1h3m-3 3h3m-3 0h3m-3 1h3m-3 3h3m-3 1h3m-3 8h3m-3 1h3m-3 5h3m-3 9h3m-3 3h3m-3 2h3m-3 1h3m-3 1h3m-3 1h3m-3 7h3m-3 2h3m-3 15h3m-3 0h3m-3 7h3m-3 1h3m-3 34h3m-3 10h3m-2-200h3m-3 59h3m-3 12h3m-3 5h3m-3 4h3m-3 5h3m-3 4h3m-3 0h3m-3 7h3m-3 8h3m-3 8h3m-3 1h3m-3 6h3m-3 0h3m-3 12h3m-3 1h3m-3 11h3m-3 4h3m-3 1h3m-3 16h3m-3 16h3m-2-128h3m-3 4h3m-3 5h3m-3 0h3m-3 3h3m-3 3h3m-3 0h3m-3 1h3m-3 3h3m-3 3h3m-3 9h3m-3 8h3m-3 3h3m-3 2h3m-3 0h3m-3 20h3m-3 2h3m-3 7h3m-3 2h3m-3 21h3m-2-132h3m-3 6h3m-3 14h3m-3 10h3m-3 5h3m-3 1h3m-3 9h3m-3 1h3m-3 3h3m-3 5h3m-3 6h3m-3 6h3m-3 3h3m-3 9h3m-3 2h3m-3 9h3m-3 0h3m-3 8h3m-3 24h3m-3 2h3m-3 1h3m-3 38h3m-2-141h3m-3 10h3m-3 7h3m-3 10h3m-3 4h3m-3 0h3m-3 10h3m-3 14h3m-3 22h3m-3 10h3m-3 1h3m-3 1h3m-3 16h3m-3 1h3m-3 5h3m-3 26h3m-2-131h3m-3 16h3m-3 8h3m-3 8h3m-3 2h3m-3 1h3m-3 0h3m-3 3h3m-3 3h3m-3 1h3m-3 1h3m-3 0h3m-3 3h3m-3 26h3m-3 1h3m-3 2h3m-3 3h3m-3 62h3m-3 16h3m-2-155h3m-3 26h3m-3 17h3m-3 5h3m-3 7h3m-3 5h3m-3 1h3m-3 6h3m-3 0h3m-3 17h3m-3 2h3m-3 0h3m-3 16h3m-3 4h3m-3 16h3m-3 34h3m-3 7h3m-2-201h3m-3 22h3m-3 11h3m-3 6h3m-3 3h3m-3 2h3m-3 13h3m-3 4h3m-3 1h3m-3 10h3m-3 5h3m-3 3h3m-3 2h3m-3 5h3m-3 2h3m-3 7h3m-3 5h3m-3 5h3m-3 8h3m-3 1h3m-3 3h3m-3 4h3m-3 22h3m-2-118h3m-3 10h3m-3 22h3m-3 14h3m-3 6h3m-3 3h3m-3 2h3m-3 3h3m-3 3h3m-3 2h3m-3 0h3m-3 2h3m-3 0h3m-3 3h3m-3 20h3m-3 6h3m-3 2h3m-3 0h3m-2-97h3m-3 23h3m-3 18h3m-3 4h3m-3 6h3m-3 37h3m-3 2h3m-3 9h3m-3 0h3m-3 12h3m-3 2h3m-3 2h3m-3 12h3m-3 5h3m-2-149h3m-3 7h3m-3 46h3m-3 1h3m-3 5h3m-3 15h3m-3 7h3m-3 10h3m-3 6h3m-3 6h3m-3 6h3m-3 12h3m-3 0h3m-3 29h3m-3 28h3m-3 2h3m-2-123h3m-3 0h3m-3 7h3m-3 10h3m-3 5h3m-3 4h3m-3 8h3m-3 2h3m-3 6h3m-3 17h3m-3 9h3m-3 3h3m-3 3h3m-3 3h3m-3 23h3m-3 9h3m-2-120h3m-3 11h3m-3 10h3m-3 3h3m-3 0h3m-3 2h3m-3 1h3m-3 1h3m-3 6h3m-3 8h3m-3 1h3m-3 9h3m-3 6h3m-3 9h3m-3 6h3m-3 43h3m-2-145h3m-3 2h3m-3 15h3m-3 0h3m-3 0h3m-3 3h3m-3 16h3m-3 2h3m-3 1h3m-3 5h3m-3 2h3m-3 3h3m-3 5h3m-3 5h3m-3 4h3m-3 3h3m-3 4h3m-3 7h3m-3 7h3m-3 1h3m-3 2h3m-3 16h3m-3 6h3m-3 10h3m-3 23h3m-3 35h3m-3 13h3m-2-189h3m-3 41h3m-3 9h3m-3 2h3m-3 8h3m-3 17h3m-3 3h3m-3 3h3m-3 14h3m-3 3h3m-3 8h3m-3 3h3m-3 75h3m-2-186h3m-3 29h3m-3 5h3m-3 8h3m-3 13h3m-3 2h3m-3 1h3m-3 4h3m-3 1h3m-3 1h3m-3 2h3m-3 0h3m-3 6h3m-3 9h3m-3 2h3m-3 14h3m-3 17h3m-3 6h3m-3 7h3m-2-129h3m-3 18h3m-3 7h3m-3 1h3m-3 20h3m-3 10h3m-3 24h3m-3 7h3m-3 20h3m-3 23h3m-3 12h3m-3 28h3m-2-160h3m-3 18h3m-3 9h3m-3 12h3m-3 0h3m-3 1h3m-3 1h3m-3 12h3m-3 16h3m-3 13h3m-3 16h3m-3 19h3m-3 4h3m-2-124h3m-3 5h3m-3 17h3m-3 2h3m-3 0h3m-3 3h3m-3 2h3m-3 4h3m-3 3h3m-3 0h3m-3 3h3m-3 1h3m-3 1h3m-3 2h3m-3 6h3m-3 0h3m-3 1h3m-3 5h3m-3 11h3m-3 0h3m-3 6h3m-3 6h3m-3 7h3m-3 14h3m-3 6h3m-3 5h3m-2-127h3m-3 24h3m-3 21h3m-3 11h3m-3 10h3m-3 1h3m-3 4h3m-3 2h3m-3 1h3m-3 0h3m-3 3h3m-3 10h3m-3 10h3m-3 7h3m-3 1h3m-3 0h3m-3 3h3m-3 3h3m-3 1h3m-3 15h3m-3 19h3m-3 14h3m-2-175h3m-3 54h3m-3 9h3m-3 4h3m-3 2h3m-3 15h3m-3 12h3m-3 15h3m-3 1h3m-3 1h3m-3 2h3m-3 0h3m-3 3h3m-3 3h3m-3 10h3m-3 6h3m-3 46h3m-2-158h3m-3 6h3m-3 9h3m-3 4h3m-3 13h3m-3 17h3m-3 1h3m-3 3h3m-3 1h3m-3 4h3m-3 2h3m-3 7h3m-3 8h3m-3 0h3m-3 2h3m-3 0h3m-3 1h3m-3 1h3m-3 2h3m-3 23h3m-3 9h3m-3 1h3m-3 10h3m-3 10h3m-2-105h3m-3 2h3m-3 25h3m-3 1h3m-3 0h3m-3 6h3m-3 1h3m-3 2h3m-3 3h3m-3 9h3m-3 3h3m-3 16h3m-3 4h3m-3 7h3m-3 7h3m-3 3h3m-3 2h3m-2-105h3m-3 4h3m-3 35h3m-3 2h3m-3 3h3m-3 8h3m-3 2h3m-3 2h3m-3 1h3m-3 9h3m-3 21h3m-3 9h3m-3 26h3m-2-175h3m-3 68h3m-3 6h3m-3 6h3m-3 2h3m-3 18h3m-3 12h3m-3 13h3m-3 0h3m-3 7h3m-3 2h3m-3 9h3m-3 14h3m-3 1h3m-3 4h3m-3 11h3m-2-135h3m-3 26h3m-3 31h3m-3 1h3m-3 38h3m-3 0h3m-3 1h3m-3 0h3m-3 1h3m-3 3h3m-3 5h3m-3 31h3m-2-97h3m-3 6h3m-3 5h3m-3 0h3m-3 10h3m-3 1h3m-3 7h3m-3 4h3m-3 0h3m-3 6h3m-3 9h3m-3 8h3m-3 3h3m-3 5h3m-3 6h3m-3 11h3m-2-101h3m-3 16h3m-3 3h3m-3 1h3m-3 28h3m-3 6h3m-3 10h3m-3 5h3m-3 3h3m-3 7h3m-3 3h3m-3 3h3m-3 4h3m-3 80h3m-2-175h3m-3 5h3m-3 0h3m-3 20h3m-3 32h3m-3 1h3m-3 2h3m-3 6h3m-3 5h3m-3 8h3m-3 6h3m-3 8h3m-3 12h3m-3 12h3m-3 22h3m-3 2h3m-2-143h3m-3 16h3m-3 8h3m-3 7h3m-3 6h3m-3 1h3m-3 4h3m-3 6h3m-3 24h3m-3 17h3m-3 8h3m-3 4h3m-3 45h3m-3 59h3m-2-216h3m-3 16h3m-3 7h3m-3 1h3m-3 13h3m-3 2h3m-3 1h3m-3 0h3m-3 5h3m-3 3h3m-3 4h3m-3 1h3m-3 12h3m-3 4h3m-3 2h3m-3 5h3m-3 3h3m-3 0h3m-3 1h3m-3 20h3m-3 9h3m-3 13h3m-3 6h3m-3 1h3m-3 17h3m-2-156h3m-3 23h3m-3 9h3m-3 11h3m-3 5h3m-3 4h3m-3 1h3m-3 0h3m-3 17h3m-3 4h3m-3 5h3m-3 4h3m-3 2h3m-3 5h3m-3 5h3m-3 3h3m-3 3h3m-3 4h3m-3 15h3m-3 9h3m-3 6h3m-3 3h3m-3 80h3m-2-202h3m-3 45h3m-3 9h3m-3 1h3m-3 1h3m-3 0h3m-3 5h3m-3 0h3m-3 11h3m-3 1h3m-3 5h3m-3 6h3m-3 0h3m-3 2h3m-3 4h3m-3 0h3m-3 8h3m-3 17h3m-3 14h3m-3 15h3m-3 10h3m-3 24h3m-2-204h3m-3 27h3m-3 15h3m-3 3h3m-3 0h3m-3 16h3m-3 0h3m-3 9h3m-3 4h3m-3 0h3m-3 2h3m-3 6h3m-3 8h3m-3 6h3m-3 6h3m-3 1h3m-3 2h3m-3 5h3m-3 4h3m-3 4h3m-3 1h3m-3 8h3m-3 10h3m-3 15h3m-3 3h3m-2-97h3m-3 1h3m-3 7h3m-3 10h3m-3 1h3m-3 0h3m-3 3h3m-3 9h3m-3 5h3m-3 7h3m-3 4h3m-3 0h3m-3 1h3m-3 20h3m-3 23h3m-3 12h3m-2-139h3m-3 10h3m-3 3h3m-3 23h3m-3 6h3m-3 1h3m-3 9h3m-3 3h3m-3 3h3m-3 4h3m-3 9h3m-3 6h3m-3 3h3m-3 1h3m-3 19h3m-3 9h3m-3 22h3m-3 4h3m-2-90h3m-3 6h3m-3 1h3m-3 1h3m-3 16h3m-3 5h3m-3 3h3m-3 25h3m-3 8h3m-3 4h3m-3 2h3m-3 6h3m-3 1h3m-2-62h3m-3 1h3m-3 2h3m-3 8h3m-3 4h3m-3 2h3m-3 9h3m-3 6h3m-3 1h3m-3 17h3m-3 4h3m-3 6h3m-3 4h3m-3 8h3m-3 15h3m-3 9h3m-2-170h3m-3 16h3m-3 8h3m-3 6h3m-3 8h3m-3 7h3m-3 4h3m-3 15h3m-3 0h3m-3 14h3m-3 0h3m-3 0h3m-3 9h3m-3 1h3m-3 4h3m-3 1h3m-3 3h3m-3 5h3m-3 1h3m-3 6h3m-3 1h3m-3 20h3m-3 2h3m-3 19h3m-3 49h3m-3 85h3m-2-229h3m-3 7h3m-3 3h3m-3 0h3m-3 6h3m-3 6h3m-3 2h3m-3 1h3m-3 5h3m-3 2h3m-3 1h3m-3 1h3m-3 4h3m-3 10h3m-3 1h3m-3 6h3m-3 1h3m-3 0h3m-3 1h3m-3 1h3m-3 6h3m-3 2h3m-3 6h3m-3 7h3m-3 8h3m-3 10h3m-2-132h3m-3 11h3m-3 3h3m-3 1h3m-3 21h3m-3 0h3m-3 3h3m-3 2h3m-3 1h3m-3 10h3m-3 1h3m-3 2h3m-3 11h3m-3 12h3m-3 0h3m-3 6h3m-3 9h3m-3 4h3m-3 57h3m-3 4h3m-2-168h3m-3 9h3m-3 11h3m-3 5h3m-3 12h3m-3 9h3m-3 2h3m-3 9h3m-3 9h3m-3 1h3m-3 7h3m-3 4h3m-3 11h3m-3 20h3m-3 7h3m-3 3h3m-3 5h3m-3 0h3m-3 2h3m-3 7h3m-3 7h3m-3 90h3m-2-233h3m-3 14h3m-3 3h3m-3 2h3m-3 20h3m-3 6h3m-3 3h3m-3 7h3m-3 5h3m-3 2h3m-3 4h3m-3 11h3m-3 6h3m-3 2h3m-3 8h3m-3 0h3m-3 1h3m-3 0h3m-3 0h3m-3 4h3m-3 4h3m-3 3h3m-3 3h3m-3 2h3m-3 3h3m-3 8h3m-3 1h3m-3 6h3m-3 15h3m-3 144h3m-2-257h3m-3 12h3m-3 6h3m-3 2h3m-3 5h3m-3 3h3m-3 5h3m-3 6h3m-3 2h3m-3 6h3m-3 13h3m-3 10h3m-3 7h3m-3 34h3m-3 1h3m-3 17h3m-2-127h3m-3 4h3m-3 10h3m-3 9h3m-3 6h3m-3 6h3m-3 10h3m-3 19h3m-3 12h3m-3 4h3m-3 2h3m-3 1h3m-3 21h3m-2-119h3m-3 16h3m-3 1h3m-3 15h3m-3 4h3m-3 2h3m-3 6h3m-3 7h3m-3 1h3m-3 4h3m-3 33h3m-3 10h3m-3 44h3m-2-145h3m-3 24h3m-3 1h3m-3 25h3m-3 1h3m-3 2h3m-3 6h3m-3 4h3m-3 1h3m-3 7h3m-3 2h3m-3 8h3m-3 7h3m-3 1h3m-3 4h3m-3 14h3m-3 26h3m-2-146h3m-3 25h3m-3 18h3m-3 5h3m-3 7h3m-3 1h3m-3 0h3m-3 7h3m-3 2h3m-3 13h3m-3 9h3m-3 8h3m-3 5h3m-3 0h3m-3 5h3m-3 6h3m-3 18h3m-3 122h3m-2-202h3m-3 5h3m-3 7h3m-3 1h3m-3 2h3m-3 8h3m-3 7h3m-3 2h3m-3 5h3m-3 5h3m-3 1h3m-3 11h3m-3 6h3m-3 10h3m-3 5h3m-3 6h3m-3 6h3m-3 62h3m-2-201h3m-3 19h3m-3 45h3m-3 3h3m-3 1h3m-3 5h3m-3 8h3m-3 1h3m-3 4h3m-3 0h3m-3 7h3m-3 2h3m-3 0h3m-3 9h3m-3 2h3m-3 3h3m-3 6h3m-2-93h3m-3 18h3m-3 7h3m-3 6h3m-3 2h3m-3 0h3m-3 1h3m-3 6h3m-3 9h3m-3 2h3m-3 2h3m-3 6h3m-3 0h3m-3 6h3m-3 1h3m-3 18h3m-3 3h3m-3 2h3m-3 0h3m-3 24h3m-3 21h3m-3 14h3m-2-120h3m-3 6h3m-3 17h3m-3 8h3m-3 4h3m-3 1h3m-3 3h3m-3 1h3m-3 16h3m-3 1h3m-3 0h3m-3 6h3m-3 5h3m-3 21h3m-3 7h3m-3 43h3m-2-139h3m-3 5h3m-3 11h3m-3 3h3m-3 1h3m-3 5h3m-3 0h3m-3 1h3m-3 1h3m-3 6h3m-3 0h3m-3 4h3m-3 3h3m-3 6h3m-3 15h3m-3 13h3m-2-83h3m-3 3h3m-3 12h3m-3 4h3m-3 23h3m-3 0h3m-3 7h3m-3 6h3m-3 2h3m-3 2h3m-3 1h3m-3 6h3m-3 2h3m-3 1h3m-3 4h3m-3 7h3m-3 8h3m-3 11h3m-3 12h3m-3 118h3m-2-257h3m-3 20h3m-3 7h3m-3 4h3m-3 9h3m-3 18h3m-3 6h3m-3 2h3m-3 0h3m-3 11h3m-3 9h3m-3 2h3m-3 3h3m-3 2h3m-3 7h3m-3 3h3m-3 4h3m-3 22h3m-3 3h3m-3 13h3m-3 6h3m-3 11h3m-2-151h3m-3 4h3m-3 13h3m-3 11h3m-3 2h3m-3 10h3m-3 5h3m-3 7h3m-3 2h3m-3 2h3m-3 10h3m-3 7h3m-3 12h3m-3 4h3m-3 55h3m-3 29h3m-2-170h3m-3 15h3m-3 13h3m-3 19h3m-3 4h3m-3 6h3m-3 5h3m-3 1h3m-3 1h3m-3 18h3m-3 8h3m-3 2h3m-3 5h3m-2-103h3m-3 22h3m-3 11h3m-3 0h3m-3 3h3m-3 9h3m-3 4h3m-3 7h3m-3 60h3m-2-107h3m-3 4h3m-3 16h3m-3 3h3m-3 2h3m-3 17h3m-3 1h3m-3 5h3m-3 2h3m-3 7h3m-3 1h3m-3 5h3m-3 1h3m-3 8h3m-3 2h3m-3 13h3m-3 5h3m-3 0h3m-3 2h3m-3 0h3m-3 2h3m-2-82h3m-3 7h3m-3 3h3m-3 3h3m-3 9h3m-3 5h3m-3 0h3m-3 1h3m-3 1h3m-3 6h3m-3 4h3m-3 4h3m-3 2h3m-3 23h3m-3 9h3m-3 7h3m-3 69h3m-2-173h3m-3 8h3m-3 2h3m-3 4h3m-3 7h3m-3 14h3m-3 2h3m-3 1h3m-3 7h3m-3 0h3m-3 5h3m-3 1h3m-3 18h3m-3 4h3m-3 2h3m-3 4h3m-3 1h3m-3 0h3m-3 2h3m-3 10h3m-3 14h3m-2-105h3m-3 14h3m-3 19h3m-3 8h3m-3 0h3m-3 1h3m-3 3h3m-3 1h3m-3 1h3m-3 4h3m-3 9h3m-3 2h3m-3 2h3m-3 0h3m-3 4h3m-3 4h3m-3 6h3m-3 3h3m-3 9h3m-3 4h3m-3 19h3m-3 58h3m-2-170h3m-3 16h3m-3 6h3m-3 10h3m-3 3h3m-3 5h3m-3 18h3m-3 6h3m-3 7h3m-3 7h3m-3 14h3m-3 0h3m-3 10h3m-3 1h3m-3 0h3m-3 20h3m-3 18h3m-2-107h3m-3 6h3m-3 6h3m-3 0h3m-3 0h3m-3 4h3m-3 8h3m-3 3h3m-3 6h3m-3 5h3m-3 14h3m-3 2h3m-3 5h3m-3 1h3m-3 0h3m-3 17h3m-2-112h3m-3 8h3m-3 21h3m-3 13h3m-3 0h3m-3 1h3m-3 1h3m-3 0h3m-3 1h3m-3 10h3m-3 1h3m-3 0h3m-3 2h3m-3 0h3m-3 3h3m-3 0h3m-3 3h3m-3 20h3m-3 1h3m-3 13h3m-3 29h3m-3 19h3m-2-147h3m-3 6h3m-3 14h3m-3 11h3m-3 11h3m-3 4h3m-3 1h3m-3 3h3m-3 4h3m-3 2h3m-3 3h3m-3 3h3m-3 3h3m-3 11h3m-3 2h3m-3 0h3m-3 6h3m-3 21h3m-3 21h3m-3 1h3m-3 54h3m-2-185h3m-3 34h3m-3 10h3m-3 1h3m-3 12h3m-3 3h3m-3 7h3m-3 6h3m-3 1h3m-3 0h3m-3 5h3m-3 1h3m-3 4h3m-3 3h3m-3 6h3m-3 3h3m-3 3h3m-3 20h3m-3 5h3m-3 2h3m-3 1h3m-2-112h3m-3 21h3m-3 7h3m-3 2h3m-3 4h3m-3 1h3m-3 5h3m-3 4h3m-3 2h3m-3 1h3m-3 2h3m-3 3h3m-3 0h3m-3 1h3m-3 1h3m-3 10h3m-3 3h3m-3 3h3m-3 1h3m-3 5h3m-3 1h3m-3 2h3m-3 6h3m-3 0h3m-3 42h3m-3 38h3m-3 13h3m-2-181h3m-3 8h3m-3 22h3m-3 9h3m-3 5h3m-3 5h3m-3 5h3m-3 0h3m-3 2h3m-3 1h3m-3 3h3m-3 13h3m-3 2h3m-3 13h3m-3 3h3m-3 9h3m-3 47h3m-3 55h3m-2-215h3m-3 20h3m-3 3h3m-3 6h3m-3 10h3m-3 6h3m-3 1h3m-3 9h3m-3 0h3m-3 3h3m-3 7h3m-3 3h3m-3 4h3m-3 2h3m-3 0h3m-3 1h3m-3 7h3m-2-72h3m-3 25h3m-3 1h3m-3 5h3m-3 2h3m-3 4h3m-3 3h3m-3 4h3m-3 11h3m-3 6h3m-3 1h3m-3 10h3m-3 65h3m-3 17h3m-2-146h3m-3 32h3m-3 0h3m-3 1h3m-3 8h3m-3 3h3m-3 2h3m-3 27h3m-3 114h3m-2-197h3m-3 23h3m-3 1h3m-3 3h3m-3 2h3m-3 8h3m-3 7h3m-3 4h3m-3 1h3m-3 2h3m-3 2h3m-3 2h3m-3 4h3m-3 11h3m-3 11h3m-3 12h3m-3 3h3m-3 30h3m-3 2h3m-3 3h3m-2-130h3m-3 8h3m-3 14h3m-3 0h3m-3 1h3m-3 7h3m-3 9h3m-3 16h3m-3 10h3m-3 3h3m-3 1h3m-3 1h3m-3 7h3m-3 6h3m-3 1h3m-3 14h3m-3 3h3m-3 21h3m-3 15h3m-2-135h3m-3 6h3m-3 6h3m-3 0h3m-3 1h3m-3 12h3m-3 2h3m-3 5h3m-3 7h3m-3 0h3m-3 15h3m-3 17h3m-3 13h3m-3 1h3m-3 3h3m-3 3h3m-3 9h3m-3 3h3m-3 7h3m-3 5h3m-3 7h3m-3 7h3m-3 6h3m-2-153h3m-3 8h3m-3 18h3m-3 21h3m-3 2h3m-3 6h3m-3 4h3m-3 3h3m-3 5h3m-3 12h3m-3 3h3m-3 17h3m-3 3h3m-3 7h3m-3 4h3m-3 9h3m-3 11h3m-3 14h3m-2-140h3m-3 4h3m-3 22h3m-3 17h3m-3 2h3m-3 3h3m-3 7h3m-3 2h3m-3 9h3m-3 0h3m-3 15h3m-3 11h3m-3 3h3m-3 0h3m-3 9h3m-3 10h3m-3 6h3m-3 14h3m-3 6h3m-3 14h3m-2-159h3m-3 20h3m-3 8h3m-3 4h3m-3 1h3m-3 8h3m-3 11h3m-3 1h3m-3 1h3m-3 3h3m-3 6h3m-3 8h3m-3 2h3m-3 1h3m-3 1h3m-3 4h3m-3 2h3m-3 1h3m-3 5h3m-3 3h3m-3 1h3m-3 12h3m-3 8h3m-3 7h3m-3 20h3m-2-129h3m-3 20h3m-3 2h3m-3 5h3m-3 20h3m-3 3h3m-3 4h3m-3 17h3m-3 1h3m-3 4h3m-3 1h3m-3 3h3m-3 0h3m-3 1h3m-3 1h3m-3 3h3m-3 6h3m-3 1h3m-3 9h3m-3 10h3m-3 7h3m-3 55h3m-3 1h3m-3 4h3m-2-180h3m-3 38h3m-3 8h3m-3 0h3m-3 3h3m-3 4h3m-3 3h3m-3 10h3m-3 5h3m-3 2h3m-3 3h3m-3 0h3m-3 23h3m-3 6h3m-3 8h3m-3 5h3m-3 7h3m-3 22h3m-2-118h3m-3 6h3m-3 1h3m-3 2h3m-3 1h3m-3 2h3m-3 23h3m-3 1h3m-3 7h3m-3 3h3m-3 24h3m-3 1h3m-3 10h3m-3 4h3m-3 12h3m-3 11h3m-3 18h3m-2-130h3m-3 9h3m-3 17h3m-3 4h3m-3 6h3m-3 2h3m-3 6h3m-3 15h3m-3 1h3m-3 3h3m-3 15h3m-3 15h3m-3 14h3m-3 20h3m-2-151h3m-3 11h3m-3 17h3m-3 10h3m-3 10h3m-3 3h3m-3 0h3m-3 4h3m-3 3h3m-3 7h3m-3 1h3m-3 4h3m-3 27h3m-3 3h3m-3 16h3m-3 2h3m-3 3h3m-3 13h3m-3 6h3m-3 1h3m-3 7h3m-3 4h3m-3 21h3m-2-159h3m-3 7h3m-3 31h3m-3 0h3m-3 3h3m-3 3h3m-3 4h3m-3 3h3m-3 5h3m-3 6h3m-3 11h3m-3 3h3m-3 2h3m-3 0h3m-3 2h3m-3 1h3m-3 4h3m-3 3h3m-3 7h3m-3 4h3m-2-93h3m-3 2h3m-3 17h3m-3 2h3m-3 2h3m-3 6h3m-3 20h3m-3 1h3m-3 3h3m-3 8h3m-3 5h3m-3 1h3m-3 1h3m-3 13h3m-3 7h3m-3 2h3m-3 2h3m-3 21h3m-3 7h3m-3 5h3m-2-210h3m-3 88h3m-3 10h3m-3 2h3m-3 1h3m-3 3h3m-3 10h3m-3 7h3m-3 2h3m-3 5h3m-3 1h3m-3 1h3m-3 2h3m-3 9h3m-3 2h3m-3 1h3m-3 5h3m-3 5h3m-3 6h3m-3 8h3m-3 20h3m-3 8h3m-3 13h3m-3 56h3m-2-204h3m-3 25h3m-3 8h3m-3 3h3m-3 22h3m-3 1h3m-3 4h3m-3 1h3m-3 2h3m-3 2h3m-3 3h3m-3 10h3m-3 1h3m-3 7h3m-3 3h3m-3 3h3m-3 11h3m-3 10h3m-3 16h3m-3 65h3m-2-166h3m-3 12h3m-3 5h3m-3 6h3m-3 13h3m-3 20h3m-3 7h3m-3 0h3m-3 1h3m-3 5h3m-3 5h3m-3 8h3m-3 2h3m-3 2h3m-2-88h3m-3 22h3m-3 2h3m-3 4h3m-3 29h3m-3 3h3m-3 16h3m-3 29h3m-3 2h3m-2-126h3m-3 25h3m-3 17h3m-3 0h3m-3 11h3m-3 1h3m-3 0h3m-3 1h3m-3 4h3m-3 7h3m-3 2h3m-3 0h3m-3 2h3m-3 3h3m-3 5h3m-3 1h3m-3 1h3m-3 15h3m-3 3h3m-3 1h3m-3 2h3m-2-83h3m-3 4h3m-3 1h3m-3 1h3m-3 6h3m-3 14h3m-3 2h3m-3 4h3m-3 3h3m-3 6h3m-3 3h3m-3 6h3m-3 1h3m-3 3h3m-3 2h3m-3 1h3m-3 0h3m-3 5h3m-3 25h3m-3 1h3m-3 5h3m-3 11h3m-3 42h3m-2-183h3m-3 37h3m-3 11h3m-3 10h3m-3 1h3m-3 13h3m-3 5h3m-3 2h3m-3 15h3m-3 4h3m-3 6h3m-3 1h3m-3 1h3m-3 3h3m-3 0h3m-3 26h3m-3 30h3m-2-106h3m-3 5h3m-3 7h3m-3 3h3m-3 0h3m-3 7h3m-3 1h3m-3 5h3m-3 2h3m-3 1h3m-3 9h3m-2-56h3m-3 20h3m-3 3h3m-3 6h3m-3 2h3m-3 6h3m-3 30h3m-3 6h3m-3 4h3m-3 2h3m-3 12h3m-3 1h3m-3 4h3m-3 33h3m-2-147h3m-3 19h3m-3 13h3m-3 2h3m-3 4h3m-3 2h3m-3 21h3m-3 0h3m-3 4h3m-3 3h3m-3 8h3m-3 7h3m-3 0h3m-3 6h3m-3 6h3m-3 9h3m-3 13h3m-2-94h3m-3 9h3m-3 14h3m-3 11h3m-3 7h3m-3 14h3m-3 0h3m-3 7h3m-3 3h3m-3 3h3m-3 90h3m-2-167h3m-3 4h3m-3 7h3m-3 1h3m-3 20h3m-3 3h3m-3 20h3m-3 5h3m-3 1h3m-3 12h3m-3 4h3m-3 41h3m-2-131h3m-3 18h3m-3 13h3m-3 0h3m-3 6h3m-3 5h3m-3 1h3m-3 5h3m-3 7h3m-3 16h3m-3 4h3m-3 2h3m-3 10h3m-3 18h3m-3 4h3m-3 9h3m-3 0h3m-2-104h3m-3 13h3m-3 8h3m-3 11h3m-3 2h3m-3 10h3m-3 7h3m-3 11h3m-3 2h3m-3 5h3m-3 2h3m-3 3h3m-3 6h3m-3 15h3m-3 16h3m-3 24h3m-2-138h3m-3 5h3m-3 18h3m-3 3h3m-3 0h3m-3 2h3m-3 6h3m-3 4h3m-3 11h3m-3 0h3m-3 13h3m-3 11h3m-3 7h3m-3 2h3m-3 22h3m-2-107h3m-3 29h3m-3 1h3m-3 15h3m-3 1h3m-3 9h3m-3 1h3m-3 6h3m-3 0h3m-3 14h3m-3 5h3m-3 4h3m-3 7h3m-3 13h3m-2-116h3m-3 0h3m-3 2h3m-3 30h3m-3 1h3m-3 7h3m-3 4h3m-3 2h3m-3 1h3m-3 4h3m-3 16h3m-3 12h3m-3 17h3m-3 27h3m-3 17h3m-3 8h3m-2-132h3m-3 10h3m-3 7h3m-3 7h3m-3 1h3m-3 4h3m-3 5h3m-3 2h3m-3 1h3m-3 4h3m-3 0h3m-3 1h3m-3 1h3m-3 4h3m-3 5h3m-3 6h3m-3 2h3m-3 3h3m-3 3h3m-3 8h3m-3 4h3m-3 2h3m-3 21h3m-3 8h3m-3 5h3m-3 0h3m-3 18h3m-2-139h3m-3 16h3m-3 4h3m-3 5h3m-3 0h3m-3 6h3m-3 24h3m-3 11h3m-3 6h3m-3 0h3m-3 2h3m-3 3h3m-3 0h3m-3 13h3m-3 18h3m-3 47h3m-2-181h3m-3 2h3m-3 12h3m-3 25h3m-3 10h3m-3 0h3m-3 4h3m-3 10h3m-3 0h3m-3 4h3m-3 1h3m-3 2h3m-3 1h3m-3 5h3m-3 3h3m-3 1h3m-3 0h3m-3 5h3m-3 2h3m-3 1h3m-3 4h3m-3 2h3m-3 2h3m-3 1h3m-3 0h3m-3 1h3m-3 3h3m-3 6h3m-3 2h3m-3 62h3m-3 52h3m-2-179h3m-3 6h3m-3 3h3m-3 32h3m-3 0h3m-3 6h3m-3 3h3m-3 2h3m-3 3h3m-3 3h3m-3 4h3m-3 6h3m-3 17h3m-3 1h3m-3 31h3m-3 29h3m-2-164h3m-3 24h3m-3 1h3m-3 3h3m-3 2h3m-3 2h3m-3 15h3m-3 11h3m-3 10h3m-3 3h3m-3 6h3m-3 3h3m-3 26h3m-3 31h3m-2-134h3m-3 16h3m-3 0h3m-3 6h3m-3 2h3m-3 3h3m-3 3h3m-3 3h3m-3 12h3m-3 2h3m-3 1h3m-3 1h3m-3 1h3m-3 1h3m-3 4h3m-3 2h3m-3 7h3m-3 3h3m-3 2h3m-3 7h3m-3 21h3m-2-113h3m-3 20h3m-3 32h3m-3 1h3m-3 3h3m-3 3h3m-3 2h3m-3 6h3m-3 1h3m-3 4h3m-3 6h3m-3 5h3m-3 10h3m-3 3h3m-3 5h3m-3 7h3m-3 1h3m-3 27h3m-2-105h3m-3 12h3m-3 9h3m-3 8h3m-3 6h3m-3 3h3m-3 8h3m-3 6h3m-3 8h3m-3 1h3m-3 1h3m-3 4h3m-3 1h3m-3 4h3m-3 12h3m-2-107h3m-3 28h3m-3 3h3m-3 2h3m-3 8h3m-3 0h3m-3 3h3m-3 1h3m-3 2h3m-3 2h3m-3 1h3m-3 2h3m-3 2h3m-3 2h3m-3 9h3m-3 7h3m-3 6h3m-3 3h3m-3 24h3m-3 21h3m-3 4h3m-3 5h3m-3 54h3m-2-158h3m-3 16h3m-3 0h3m-3 1h3m-3 0h3m-3 2h3m-3 9h3m-3 4h3m-3 9h3m-3 5h3m-3 3h3m-3 6h3m-3 22h3m-3 15h3m-3 48h3m-2-145h3m-3 9h3m-3 4h3m-3 1h3m-3 9h3m-3 2h3m-3 2h3m-3 23h3m-3 2h3m-3 6h3m-3 18h3m-3 1h3m-3 10h3m-3 14h3m-3 16h3m-2-130h3m-3 25h3m-3 2h3m-3 8h3m-3 5h3m-3 9h3m-3 1h3m-3 1h3m-3 4h3m-3 2h3m-3 0h3m-3 3h3m-3 1h3m-3 3h3m-3 3h3m-3 3h3m-3 9h3m-3 13h3m-3 25h3m-2-96h3m-3 3h3m-3 7h3m-3 1h3m-3 1h3m-3 2h3m-3 5h3m-3 4h3m-3 4h3m-3 14h3m-3 14h3m-3 1h3m-3 10h3m-3 4h3m-3 10h3m-3 39h3m-2-147h3m-3 8h3m-3 11h3m-3 14h3m-3 13h3m-3 1h3m-3 2h3m-3 5h3m-3 2h3m-3 0h3m-3 6h3m-3 3h3m-3 4h3m-3 16h3m-3 3h3m-3 22h3m-3 6h3m-3 32h3m-2-126h3m-3 1h3m-3 7h3m-3 0h3m-3 1h3m-3 9h3m-3 9h3m-3 4h3m-3 4h3m-3 5h3m-3 1h3m-3 2h3m-3 2h3m-3 8h3m-3 1h3m-3 2h3m-3 5h3m-3 11h3m-3 1h3m-3 2h3m-3 3h3m-3 6h3m-3 49h3m-2-139h3m-3 2h3m-3 6h3m-3 1h3m-3 13h3m-3 11h3m-3 9h3m-3 4h3m-3 5h3m-3 1h3m-3 8h3m-3 2h3m-3 1h3m-3 0h3m-3 10h3m-3 9h3m-3 24h3m-2-119h3m-3 2h3m-3 20h3m-3 12h3m-3 19h3m-3 1h3m-3 13h3m-3 3h3m-3 3h3m-3 7h3m-3 2h3m-3 3h3m-3 25h3m-3 4h3m-3 58h3m-3 9h3m-2-188h3m-3 32h3m-3 15h3m-3 3h3m-3 0h3m-3 2h3m-3 2h3m-3 4h3m-3 0h3m-3 1h3m-3 1h3m-3 9h3m-3 2h3m-3 1h3m-3 3h3m-3 9h3m-3 27h3m-3 3h3m-2-96h3m-3 14h3m-3 9h3m-3 21h3m-3 8h3m-3 12h3m-3 31h3m-3 35h3m-2-124h3m-3 1h3m-3 5h3m-3 7h3m-3 5h3m-3 11h3m-3 2h3m-3 2h3m-3 8h3m-3 5h3m-3 0h3m-3 1h3m-3 1h3m-3 11h3m-3 4h3m-3 2h3m-3 3h3m-3 18h3m-3 2h3m-2-116h3m-3 11h3m-3 13h3m-3 2h3m-3 14h3m-3 1h3m-3 6h3m-3 1h3m-3 0h3m-3 9h3m-3 0h3m-3 2h3m-3 1h3m-3 19h3m-3 3h3m-3 4h3m-3 3h3m-3 17h3m-3 1h3m-3 25h3m-2-107h3m-3 8h3m-3 7h3m-3 0h3m-3 2h3m-3 8h3m-3 5h3m-3 4h3m-3 1h3m-3 0h3m-3 3h3m-3 7h3m-3 1h3m-3 2h3m-3 10h3m-3 44h3m-2-116h3m-3 20h3m-3 5h3m-3 6h3m-3 1h3m-3 9h3m-3 1h3m-3 2h3m-3 14h3m-3 3h3m-3 3h3m-3 2h3m-3 1h3m-3 9h3m-3 4h3m-3 22h3m-3 1h3m-3 1h3m-3 3h3m-3 2h3m-3 2h3m-3 8h3m-3 1h3m-3 65h3m-2-203h3m-3 39h3m-3 13h3m-3 5h3m-3 1h3m-3 4h3m-3 1h3m-3 1h3m-3 20h3m-3 1h3m-3 7h3m-3 7h3m-3 2h3m-3 8h3m-3 4h3m-3 5h3m-3 11h3m-3 64h3m-2-205h3m-3 33h3m-3 8h3m-3 7h3m-3 2h3m-3 14h3m-3 9h3m-3 4h3m-3 1h3m-3 0h3m-3 1h3m-3 7h3m-3 1h3m-3 8h3m-3 6h3m-3 3h3m-3 10h3m-3 13h3m-3 15h3m-3 44h3m-3 36h3m-2-240h3m-3 40h3m-3 46h3m-3 5h3m-3 5h3m-3 2h3m-3 11h3m-3 2h3m-3 1h3m-3 1h3m-3 2h3m-3 0h3m-3 1h3m-3 1h3m-3 1h3m-3 7h3m-3 6h3m-3 1h3m-3 1h3m-3 4h3m-3 4h3m-3 4h3m-3 23h3m-3 23h3m-3 8h3m-3 3h3m-2-145h3m-3 11h3m-3 24h3m-3 2h3m-3 3h3m-3 6h3m-3 39h3m-3 18h3m-3 1h3m-3 8h3m-2-127h3m-3 28h3m-3 3h3m-3 0h3m-3 8h3m-3 0h3m-3 3h3m-3 1h3m-3 5h3m-3 0h3m-3 1h3m-3 0h3m-3 5h3m-3 3h3m-3 5h3m-3 1h3m-3 0h3m-3 1h3m-3 0h3m-3 5h3m-3 6h3m-3 1h3m-3 4h3m-3 23h3m-3 15h3m-3 3h3m-3 11h3m-3 6h3m-3 69h3m-2-183h3m-3 3h3m-3 15h3m-3 7h3m-3 1h3m-3 6h3m-3 0h3m-3 7h3m-3 2h3m-3 0h3m-3 3h3m-3 4h3m-3 2h3m-3 11h3m-3 48h3m-2-127h3m-3 26h3m-3 2h3m-3 18h3m-3 1h3m-3 0h3m-3 2h3m-3 24h3m-3 4h3m-3 0h3m-3 2h3m-3 17h3m-3 3h3m-3 15h3m-2-98h3m-3 6h3m-3 0h3m-3 3h3m-3 9h3m-3 3h3m-3 6h3m-3 2h3m-3 2h3m-3 4h3m-3 2h3m-3 11h3m-3 2h3m-3 1h3m-3 2h3m-3 12h3m-3 8h3m-3 42h3m-2-130h3m-3 11h3m-3 4h3m-3 3h3m-3 26h3m-3 4h3m-3 2h3m-3 4h3m-3 9h3m-3 13h3m-3 5h3m-3 6h3m-3 10h3m-3 32h3m-3 8h3m-3 8h3m-2-124h3m-3 0h3m-3 1h3m-3 1h3m-3 16h3m-3 2h3m-3 6h3m-3 1h3m-3 10h3m-3 4h3m-3 9h3m-3 3h3m-3 6h3m-3 1h3m-3 2h3m-3 19h3m-3 3h3m-2-82h3m-3 0h3m-3 17h3m-3 5h3m-3 1h3m-3 3h3m-3 2h3m-3 7h3m-3 16h3m-3 3h3m-3 17h3m-3 1h3m-3 1h3m-3 1h3m-3 1h3m-3 7h3m-3 38h3m-2-126h3m-3 5h3m-3 19h3m-3 0h3m-3 3h3m-3 4h3m-3 11h3m-3 0h3m-3 10h3m-3 13h3m-3 6h3m-3 3h3m-3 4h3m-3 10h3m-3 11h3m-3 7h3m-3 115h3m-2-228h3m-3 6h3m-3 9h3m-3 1h3m-3 5h3m-3 1h3m-3 4h3m-3 4h3m-3 1h3m-3 1h3m-3 3h3m-3 1h3m-3 3h3m-3 10h3m-3 16h3m-3 1h3m-3 6h3m-3 2h3m-3 0h3m-3 1h3m-3 1h3m-3 5h3m-3 6h3m-3 1h3m-3 11h3m-3 30h3m-2-106h3m-3 0h3m-3 7h3m-3 8h3m-3 1h3m-3 2h3m-3 5h3m-3 5h3m-3 2h3m-3 2h3m-3 2h3m-3 0h3m-3 6h3m-3 3h3m-3 3h3m-3 5h3m-3 11h3m-3 3h3m-3 10h3m-3 25h3m-3 22h3m-2-135h3m-3 0h3m-3 3h3m-3 0h3m-3 6h3m-3 1h3m-3 7h3m-3 11h3m-3 1h3m-3 6h3m-3 5h3m-3 4h3m-3 0h3m-3 6h3m-3 7h3m-3 1h3m-3 5h3m-3 6h3m-3 43h3m-3 62h3m-2-208h3m-3 11h3m-3 27h3m-3 3h3m-3 10h3m-3 0h3m-3 0h3m-3 2h3m-3 3h3m-3 9h3m-3 10h3m-3 6h3m-3 10h3m-3 13h3m-3 1h3m-3 12h3m-2-77h3m-3 7h3m-3 10h3m-3 13h3m-3 2h3m-3 9h3m-3 3h3m-3 3h3m-3 3h3m-3 4h3m-3 10h3m-3 2h3m-3 2h3m-3 13h3m-3 1h3m-3 59h3m-3 13h3m-2-146h3m-3 2h3m-3 3h3m-3 2h3m-3 3h3m-3 2h3m-3 4h3m-3 2h3m-3 16h3m-3 2h3m-3 0h3m-3 1h3m-3 1h3m-3 2h3m-3 2h3m-3 2h3m-3 4h3m-3 2h3m-3 1h3m-3 2h3m-3 6h3m-3 5h3m-3 15h3m-3 9h3m-3 24h3m-2-140h3m-3 8h3m-3 11h3m-3 8h3m-3 3h3m-3 5h3m-3 1h3m-3 0h3m-3 1h3m-3 6h3m-3 1h3m-3 1h3m-3 0h3m-3 6h3m-3 25h3m-3 1h3m-3 11h3m-3 71h3m-3 36h3m-2-183h3m-3 20h3m-3 2h3m-3 3h3m-3 12h3m-3 1h3m-3 4h3m-3 4h3m-3 1h3m-3 1h3m-3 4h3m-3 4h3m-3 4h3m-3 24h3m-3 5h3m-3 7h3m-3 20h3m-3 65h3m-2-179h3m-3 7h3m-3 6h3m-3 1h3m-3 7h3m-3 5h3m-3 2h3m-3 0h3m-3 7h3m-3 20h3m-3 23h3m-3 1h3m-3 1h3m-3 12h3m-3 8h3m-2-104h3m-3 11h3m-3 23h3m-3 1h3m-3 1h3m-3 2h3m-3 3h3m-3 0h3m-3 2h3m-3 1h3m-3 3h3m-3 2h3m-3 6h3m-3 0h3m-3 10h3m-3 14h3m-3 14h3m-3 3h3m-2-99h3m-3 2h3m-3 15h3m-3 5h3m-3 14h3m-3 3h3m-3 1h3m-3 0h3m-3 1h3m-3 2h3m-3 4h3m-3 4h3m-3 4h3m-3 6h3m-3 71h3m-3 56h3m-2-174h3m-3 2h3m-3 3h3m-3 3h3m-3 5h3m-3 3h3m-3 6h3m-3 3h3m-3 0h3m-3 5h3m-3 2h3m-3 3h3m-3 2h3m-3 1h3m-3 1h3m-3 14h3m-3 2h3m-3 1h3m-3 14h3m-3 9h3m-3 4h3m-3 19h3m-2-132h3m-3 2h3m-3 32h3m-3 5h3m-3 3h3m-3 12h3m-3 9h3m-3 1h3m-3 2h3m-3 3h3m-3 6h3m-3 2h3m-3 7h3m-3 6h3m-3 16h3m-2-95h3m-3 32h3m-3 12h3m-3 4h3m-3 0h3m-3 11h3m-3 2h3m-3 1h3m-3 2h3m-3 4h3m-3 4h3m-3 3h3m-3 5h3m-3 20h3m-3 5h3m-3 15h3m-3 7h3m-2-128h3m-3 14h3m-3 6h3m-3 22h3m-3 1h3m-3 4h3m-3 5h3m-3 7h3m-3 4h3m-3 1h3m-3 7h3m-3 6h3m-3 1h3m-3 5h3m-3 6h3m-3 6h3m-3 3h3m-3 1h3m-3 11h3m-2-94h3m-3 10h3m-3 12h3m-3 2h3m-3 1h3m-3 12h3m-3 0h3m-3 7h3m-3 7h3m-3 7h3m-3 3h3m-3 16h3m-3 26h3m-2-122h3m-3 18h3m-3 7h3m-3 5h3m-3 3h3m-3 14h3m-3 5h3m-3 1h3m-3 2h3m-3 3h3m-3 3h3m-3 3h3m-3 15h3m-3 15h3m-2-83h3m-3 19h3m-3 4h3m-3 2h3m-3 4h3m-3 2h3m-3 1h3m-3 5h3m-3 1h3m-3 4h3m-3 3h3m-3 10h3m-3 2h3m-3 1h3m-3 6h3m-3 11h3m-3 12h3m-3 2h3m-3 23h3m-3 6h3m-3 35h3m-2-146h3m-3 17h3m-3 1h3m-3 2h3m-3 0h3m-3 7h3m-3 1h3m-3 1h3m-3 9h3m-3 5h3m-3 3h3m-3 4h3m-3 0h3m-3 4h3m-3 0h3m-3 1h3m-3 55h3m-2-104h3m-3 23h3m-3 2h3m-3 12h3m-3 1h3m-3 0h3m-3 6h3m-3 3h3m-3 1h3m-3 3h3m-3 8h3m-3 5h3m-3 3h3m-3 15h3m-3 4h3m-3 4h3m-2-112h3m-3 21h3m-3 1h3m-3 8h3m-3 2h3m-3 2h3m-3 13h3m-3 1h3m-3 0h3m-3 5h3m-3 4h3m-3 3h3m-3 3h3m-3 37h3m-2-80h3m-3 6h3m-3 6h3m-3 3h3m-3 9h3m-3 3h3m-3 1h3m-3 1h3m-3 21h3m-3 4h3m-3 0h3m-3 5h3m-3 13h3m-3 3h3m-3 103h3m-2-175h3m-3 3h3m-3 8h3m-3 1h3m-3 4h3m-3 0h3m-3 11h3m-3 9h3m-3 5h3m-3 0h3m-3 1h3m-3 6h3m-3 26h3m-3 2h3m-3 26h3m-3 17h3m-2-114h3m-3 15h3m-3 0h3m-3 1h3m-3 3h3m-3 7h3m-3 2h3m-3 18h3m-3 27h3m-3 4h3m-3 1h3m-3 70h3m-2-141h3m-3 9h3m-3 17h3m-3 4h3m-3 0h3m-3 6h3m-3 4h3m-3 7h3m-3 1h3m-3 3h3m-3 31h3m-3 11h3m-3 42h3m-3 4h3m-2-161h3m-3 8h3m-3 17h3m-3 0h3m-3 2h3m-3 5h3m-3 5h3m-3 2h3m-3 1h3m-3 6h3m-3 4h3m-3 15h3m-3 5h3m-3 13h3m-3 24h3m-3 34h3m-2-132h3m-3 0h3m-3 2h3m-3 26h3m-3 9h3m-3 2h3m-3 0h3m-3 24h3m-3 0h3m-3 4h3m-3 22h3m-3 7h3m-3 6h3m-2-127h3m-3 18h3m-3 7h3m-3 0h3m-3 3h3m-3 1h3m-3 5h3m-3 13h3m-3 8h3m-3 5h3m-3 7h3m-3 6h3m-3 10h3m-3 3h3m-3 2h3m-3 8h3m-3 25h3m-3 2h3m-2-110h3m-3 1h3m-3 6h3m-3 1h3m-3 10h3m-3 6h3m-3 4h3m-3 9h3m-3 1h3m-3 4h3m-3 1h3m-3 6h3m-3 8h3m-3 2h3m-3 3h3m-3 2h3m-3 1h3m-3 3h3m-3 1h3m-3 1h3m-3 6h3m-3 9h3m-3 2h3m-3 0h3m-3 16h3m-3 0h3m-3 11h3m-2-101h3m-3 9h3m-3 5h3m-3 6h3m-3 12h3m-3 2h3m-3 8h3m-3 1h3m-3 1h3m-3 4h3m-3 4h3m-3 8h3m-3 26h3m-3 9h3m-3 3h3m-3 0h3m-3 51h3m-2-159h3m-3 7h3m-3 11h3m-3 2h3m-3 4h3m-3 9h3m-3 3h3m-3 2h3m-3 5h3m-3 2h3m-3 1h3m-3 3h3m-3 0h3m-3 9h3m-3 1h3m-3 4h3m-3 2h3m-3 6h3m-3 0h3m-3 11h3m-3 1h3m-3 36h3m-2-104h3m-3 3h3m-3 4h3m-3 5h3m-3 1h3m-3 4h3m-3 9h3m-3 4h3m-3 1h3m-3 1h3m-3 6h3m-3 3h3m-3 1h3m-3 13h3m-3 6h3m-3 3h3m-3 24h3m-3 121h3m-2-230h3m-3 16h3m-3 14h3m-3 0h3m-3 5h3m-3 2h3m-3 7h3m-3 6h3m-3 0h3m-3 1h3m-3 1h3m-3 2h3m-3 5h3m-3 3h3m-3 3h3m-3 1h3m-3 8h3m-3 1h3m-3 6h3m-3 2h3m-3 1h3m-3 5h3m-3 2h3m-2-93h3m-3 17h3m-3 6h3m-3 7h3m-3 10h3m-3 3h3m-3 2h3m-3 0h3m-3 1h3m-3 8h3m-3 6h3m-3 1h3m-3 2h3m-3 7h3m-3 2h3m-3 14h3m-3 5h3m-3 12h3m-3 39h3m-2-140h3m-3 33h3m-3 2h3m-3 9h3m-3 2h3m-3 5h3m-3 6h3m-3 3h3m-3 5h3m-3 3h3m-3 28h3m-3 5h3m-3 29h3m-3 7h3m-3 82h3m-2-199h3m-3 10h3m-3 17h3m-3 1h3m-3 0h3m-3 1h3m-3 3h3m-3 0h3m-3 14h3m-3 1h3m-3 1h3m-3 8h3m-3 3h3m-3 20h3m-2-76h3m-3 9h3m-3 1h3m-3 7h3m-3 1h3m-3 1h3m-3 3h3m-3 1h3m-3 1h3m-3 5h3m-3 5h3m-3 5h3m-3 0h3m-3 4h3m-3 8h3m-3 0h3m-3 1h3m-3 5h3m-3 15h3m-3 57h3m-2-143h3m-3 13h3m-3 16h3m-3 6h3m-3 5h3m-3 2h3m-3 1h3m-3 0h3m-3 0h3m-3 2h3m-3 2h3m-3 0h3m-3 6h3m-3 1h3m-3 2h3m-3 11h3m-3 2h3m-3 1h3m-3 4h3m-3 16h3m-3 1h3m-3 27h3m-2-129h3m-3 4h3m-3 22h3m-3 2h3m-3 7h3m-3 5h3m-3 1h3m-3 2h3m-3 2h3m-3 2h3m-3 3h3m-3 10h3m-3 1h3m-3 3h3m-3 3h3m-3 2h3m-3 7h3m-3 0h3m-3 14h3m-3 25h3m-3 5h3m-3 17h3m-2-134h3m-3 14h3m-3 13h3m-3 2h3m-3 8h3m-3 2h3m-3 5h3m-3 0h3m-3 9h3m-3 4h3m-3 2h3m-3 3h3m-3 1h3m-3 12h3m-3 17h3m-3 18h3m-3 13h3m-3 14h3m-2-128h3m-3 3h3m-3 17h3m-3 0h3m-3 12h3m-3 5h3m-3 1h3m-3 1h3m-3 1h3m-3 0h3m-3 3h3m-3 3h3m-3 14h3m-3 8h3m-3 6h3m-3 8h3m-3 7h3m-3 22h3m-3 46h3m-2-184h3m-3 24h3m-3 5h3m-3 4h3m-3 2h3m-3 2h3m-3 4h3m-3 8h3m-3 4h3m-3 2h3m-3 0h3m-3 7h3m-3 2h3m-3 1h3m-3 1h3m-3 21h3m-3 1h3m-3 1h3m-3 5h3m-2-44h3m-3 1h3m-3 2h3m-3 5h3m-3 12h3m-3 3h3m-3 8h3m-3 9h3m-3 14h3m-3 18h3m-3 10h3m-3 2h3m-2-100h3m-3 10h3m-3 10h3m-3 1h3m-3 1h3m-3 1h3m-3 2h3m-3 0h3m-3 7h3m-3 0h3m-3 1h3m-3 2h3m-3 10h3m-3 1h3m-3 9h3m-3 4h3m-3 2h3m-3 12h3m-3 11h3m-2-117h3m-3 15h3m-3 17h3m-3 1h3m-3 3h3m-3 13h3m-3 0h3m-3 5h3m-3 3h3m-3 2h3m-3 3h3m-3 8h3m-3 4h3m-3 11h3m-3 1h3m-3 8h3m-3 22h3m-3 44h3m-2-131h3m-3 13h3m-3 2h3m-3 5h3m-3 0h3m-3 0h3m-3 13h3m-3 0h3m-3 8h3m-3 4h3m-3 0h3m-3 19h3m-3 1h3m-3 0h3m-3 2h3m-3 15h3m-3 16h3m-2-102h3m-3 10h3m-3 5h3m-3 27h3m-3 0h3m-3 0h3m-3 4h3m-3 2h3m-3 1h3m-3 1h3m-3 6h3m-3 12h3m-3 6h3m-3 2h3m-3 13h3m-3 102h3m-2-180h3m-3 7h3m-3 3h3m-3 0h3m-3 3h3m-3 5h3m-3 7h3m-3 0h3m-3 1h3m-3 10h3m-3 2h3m-3 1h3m-3 2h3m-3 14h3m-3 2h3m-3 1h3m-3 6h3m-3 10h3m-3 7h3m-3 10h3m-3 27h3m-3 42h3m-2-168h3m-3 6h3m-3 9h3m-3 4h3m-3 11h3m-3 0h3m-3 4h3m-3 4h3m-3 4h3m-3 5h3m-3 3h3m-3 0h3m-3 3h3m-3 1h3m-3 1h3m-3 0h3m-3 5h3m-3 3h3m-3 2h3m-3 2h3m-3 3h3m-3 7h3m-3 6h3m-3 1h3m-3 23h3m-3 92h3m-2-176h3m-3 1h3m-3 4h3m-3 0h3m-3 16h3m-3 0h3m-3 2h3m-3 1h3m-3 12h3m-3 7h3m-3 6h3m-3 1h3m-3 4h3m-3 11h3m-3 17h3m-3 37h3m-2-193h3m-3 59h3m-3 16h3m-3 19h3m-3 2h3m-3 8h3m-3 5h3m-3 5h3m-3 12h3m-3 48h3m-3 49h3m-2-180h3m-3 11h3m-3 2h3m-3 0h3m-3 0h3m-3 4h3m-3 2h3m-3 2h3m-3 6h3m-3 1h3m-3 4h3m-3 1h3m-3 0h3m-3 1h3m-3 5h3m-3 1h3m-3 3h3m-3 16h3m-3 3h3m-3 3h3m-3 2h3m-3 3h3m-3 7h3m-3 9h3m-3 9h3m-3 7h3m-3 1h3m-3 22h3m-2-115h3m-3 13h3m-3 3h3m-3 10h3m-3 0h3m-3 0h3m-3 5h3m-3 1h3m-3 5h3m-3 1h3m-3 5h3m-3 1h3m-3 3h3m-3 2h3m-3 5h3m-3 2h3m-3 3h3m-3 6h3m-3 3h3m-3 1h3m-3 2h3m-3 2h3m-3 1h3m-3 7h3m-3 47h3m-2-129h3m-3 5h3m-3 3h3m-3 9h3m-3 9h3m-3 14h3m-3 1h3m-3 1h3m-3 0h3m-3 0h3m-3 24h3m-3 8h3m-3 6h3m-3 43h3m-2-120h3m-3 13h3m-3 12h3m-3 2h3m-3 1h3m-3 1h3m-3 2h3m-3 4h3m-3 14h3m-3 7h3m-3 0h3m-3 6h3m-3 3h3m-3 36h3m-3 70h3m-2-183h3m-3 11h3m-3 4h3m-3 17h3m-3 4h3m-3 4h3m-3 5h3m-3 4h3m-3 3h3m-3 1h3m-3 0h3m-3 3h3m-3 2h3m-3 0h3m-3 1h3m-3 10h3m-3 19h3m-2-97h3m-3 15h3m-3 15h3m-3 12h3m-3 5h3m-3 6h3m-3 1h3m-3 4h3m-3 4h3m-3 4h3m-3 8h3m-3 1h3m-3 1h3m-3 31h3m-3 6h3m-2-82h3m-3 1h3m-3 7h3m-3 8h3m-3 1h3m-3 0h3m-3 1h3m-3 1h3m-3 5h3m-3 3h3m-3 5h3m-3 6h3m-3 2h3m-3 1h3m-3 3h3m-3 9h3m-3 1h3m-3 11h3m-3 7h3m-3 14h3m-2-95h3m-3 11h3m-3 5h3m-3 6h3m-3 2h3m-3 6h3m-3 17h3m-3 5h3m-3 47h3m-3 7h3m-2-147h3m-3 23h3m-3 18h3m-3 15h3m-3 3h3m-3 1h3m-3 11h3m-3 2h3m-3 24h3m-3 3h3m-3 24h3m-3 20h3m-3 8h3m-3 4h3m-3 9h3m-2-127h3m-3 19h3m-3 6h3m-3 1h3m-3 1h3m-3 4h3m-3 1h3m-3 8h3m-3 0h3m-3 12h3m-3 13h3m-3 8h3m-3 1h3m-3 4h3m-3 11h3m-3 15h3m-3 11h3m-2-104h3m-3 6h3m-3 2h3m-3 6h3m-3 3h3m-3 12h3m-3 1h3m-3 4h3m-3 1h3m-3 0h3m-3 3h3m-3 1h3m-3 8h3m-3 3h3m-3 8h3m-3 7h3m-3 19h3m-3 22h3m-3 32h3m-2-144h3m-3 1h3m-3 17h3m-3 10h3m-3 4h3m-3 1h3m-3 1h3m-3 1h3m-3 6h3m-3 1h3m-3 8h3m-3 8h3m-3 3h3m-3 1h3m-3 14h3m-3 5h3m-3 2h3m-3 18h3m-3 5h3m-3 51h3m-3 8h3m-2-157h3m-3 7h3m-3 5h3m-3 2h3m-3 6h3m-3 3h3m-3 5h3m-3 6h3m-3 2h3m-3 4h3m-3 3h3m-3 4h3m-3 0h3m-3 1h3m-3 0h3m-3 2h3m-3 0h3m-3 9h3m-3 2h3m-3 5h3m-3 15h3m-3 7h3m-3 65h3m-2-158h3m-3 32h3m-3 5h3m-3 2h3m-3 1h3m-3 0h3m-3 5h3m-3 2h3m-3 1h3m-3 8h3m-3 6h3m-3 3h3m-2-60h3m-3 0h3m-3 4h3m-3 2h3m-3 7h3m-3 4h3m-3 1h3m-3 1h3m-3 3h3m-3 2h3m-3 0h3m-3 5h3m-3 3h3m-3 4h3m-3 0h3m-3 1h3m-3 1h3m-3 2h3m-3 10h3m-3 15h3m-3 5h3m-3 41h3m-3 6h3m-2-130h3m-3 22h3m-3 1h3m-3 1h3m-3 8h3m-3 2h3m-3 3h3m-3 0h3m-3 2h3m-3 2h3m-3 4h3m-3 3h3m-3 7h3m-3 5h3m-3 2h3m-3 0h3m-3 1h3m-3 2h3m-3 1h3m-3 12h3m-3 2h3m-3 8h3m-3 33h3m-3 66h3m-2-181h3m-3 25h3m-3 6h3m-3 17h3m-3 0h3m-3 3h3m-3 1h3m-3 7h3m-3 2h3m-3 8h3m-3 7h3m-3 15h3m-3 60h3m-2-149h3m-3 11h3m-3 6h3m-3 5h3m-3 2h3m-3 9h3m-3 2h3m-3 4h3m-3 2h3m-3 9h3m-3 1h3m-3 4h3m-3 5h3m-3 5h3m-3 2h3m-3 2h3m-3 9h3m-3 31h3m-3 30h3m-3 5h3m-2-133h3m-3 3h3m-3 5h3m-3 8h3m-3 12h3m-3 1h3m-3 11h3m-3 4h3m-3 4h3m-3 12h3m-3 23h3m-3 72h3m-2-173h3m-3 22h3m-3 1h3m-3 7h3m-3 10h3m-3 2h3m-3 1h3m-3 0h3m-3 1h3m-3 4h3m-3 1h3m-3 7h3m-3 0h3m-3 2h3m-3 3h3m-3 2h3m-3 2h3m-3 5h3m-3 8h3m-3 5h3m-3 16h3m-2-88h3m-3 5h3m-3 1h3m-3 2h3m-3 1h3m-3 2h3m-3 8h3m-3 4h3m-3 6h3m-3 1h3m-3 5h3m-3 3h3m-3 10h3m-3 0h3m-3 1h3m-3 1h3m-3 2h3m-3 0h3m-3 2h3m-3 15h3m-3 1h3m-3 8h3m-3 12h3m-3 6h3m-3 1h3m-3 30h3m-2-119h3m-3 3h3m-3 5h3m-3 7h3m-3 7h3m-3 1h3m-3 5h3m-3 6h3m-3 1h3m-3 3h3m-3 10h3m-3 3h3m-3 7h3m-3 2h3m-3 4h3m-3 6h3m-3 1h3m-2-87h3m-3 19h3m-3 5h3m-3 9h3m-3 6h3m-3 3h3m-3 0h3m-3 2h3m-3 1h3m-3 5h3m-3 0h3m-3 1h3m-3 1h3m-3 7h3m-3 6h3m-3 2h3m-3 27h3m-3 17h3m-3 59h3m-2-163h3m-3 9h3m-3 0h3m-3 9h3m-3 1h3m-3 5h3m-3 5h3m-3 5h3m-3 0h3m-3 3h3m-3 0h3m-3 1h3m-3 3h3m-3 4h3m-3 0h3m-3 7h3m-3 6h3m-3 1h3m-3 23h3m-3 7h3m-2-87h3m-3 14h3m-3 6h3m-3 2h3m-3 9h3m-3 2h3m-3 1h3m-3 2h3m-3 7h3m-3 2h3m-3 1h3m-3 5h3m-3 9h3m-2-72h3m-3 18h3m-3 6h3m-3 0h3m-3 5h3m-3 2h3m-3 1h3m-3 4h3m-3 6h3m-3 0h3m-3 0h3m-3 3h3m-3 0h3m-3 0h3m-3 5h3m-3 2h3m-3 6h3m-3 9h3m-3 8h3m-3 6h3m-3 15h3m-3 14h3m-3 5h3m-3 7h3m-3 21h3m-2-114h3m-3 2h3m-3 1h3m-3 1h3m-3 2h3m-3 5h3m-3 7h3m-3 4h3m-3 1h3m-3 2h3m-3 3h3m-3 24h3m-3 21h3m-2-86h3m-3 6h3m-3 2h3m-3 3h3m-3 5h3m-3 2h3m-3 0h3m-3 2h3m-3 2h3m-3 6h3m-3 0h3m-3 4h3m-3 3h3m-3 6h3m-3 2h3m-3 1h3m-3 16h3m-3 8h3m-3 8h3m-3 142h3m-2-218h3m-3 21h3m-3 1h3m-3 1h3m-3 5h3m-3 6h3m-3 5h3m-3 0h3m-3 9h3m-3 0h3m-3 1h3m-3 4h3m-3 28h3m-3 57h3m-2-130h3m-3 10h3m-3 2h3m-3 5h3m-3 1h3m-3 2h3m-3 5h3m-3 0h3m-3 3h3m-3 0h3m-3 2h3m-3 1h3m-3 2h3m-3 1h3m-3 1h3m-3 0h3m-3 4h3m-3 1h3m-3 0h3m-3 1h3m-3 1h3m-3 3h3m-3 28h3m-3 9h3m-3 78h3m-2-161h3m-3 21h3m-3 1h3m-3 0h3m-3 1h3m-3 4h3m-3 1h3m-3 6h3m-3 8h3m-3 1h3m-3 7h3m-3 15h3m-3 3h3m-2-79h3m-3 12h3m-3 8h3m-3 8h3m-3 1h3m-3 1h3m-3 4h3m-3 13h3m-3 2h3m-3 3h3m-3 3h3m-3 10h3m-3 6h3m-2-47h3m-3 8h3m-3 7h3m-3 2h3m-3 2h3m-3 12h3m-3 11h3m-3 1h3m-3 1h3m-3 20h3m-2-89h3m-3 7h3m-3 9h3m-3 4h3m-3 1h3m-3 7h3m-3 0h3m-3 1h3m-3 0h3m-3 2h3m-3 0h3m-3 2h3m-3 1h3m-3 2h3m-3 1h3m-3 1h3m-3 2h3m-3 7h3m-3 7h3m-3 4h3m-3 13h3m-3 2h3m-3 0h3m-2-74h3m-3 31h3m-3 6h3m-3 1h3m-3 1h3m-3 0h3m-3 4h3m-3 10h3m-3 0h3m-3 1h3m-3 5h3m-3 1h3m-3 8h3m-3 0h3m-3 3h3m-3 22h3m-3 3h3m-2-98h3m-3 13h3m-3 10h3m-3 6h3m-3 8h3m-3 1h3m-3 1h3m-3 3h3m-3 1h3m-3 3h3m-3 1h3m-3 2h3m-3 2h3m-3 3h3m-3 0h3m-3 1h3m-3 1h3m-3 3h3m-3 1h3m-3 0h3m-3 19h3m-3 8h3m-3 26h3m-2-99h3m-3 11h3m-3 7h3m-3 5h3m-3 2h3m-3 3h3m-3 2h3m-3 2h3m-3 1h3m-3 0h3m-3 1h3m-3 1h3m-3 6h3m-3 5h3m-3 2h3m-3 3h3m-3 1h3m-3 9h3m-2-49h3m-3 5h3m-3 3h3m-3 4h3m-3 4h3m-3 1h3m-3 1h3m-3 7h3m-3 2h3m-3 9h3m-3 0h3m-3 2h3m-3 9h3m-3 3h3m-3 0h3m-2-66h3m-3 2h3m-3 20h3m-3 3h3m-3 1h3m-3 0h3m-3 2h3m-3 6h3m-3 1h3m-3 2h3m-3 6h3m-3 2h3m-3 0h3m-3 3h3m-3 3h3m-3 1h3m-3 4h3m-3 4h3m-3 2h3m-3 5h3m-3 12h3m-3 28h3m-2-96h3m-3 15h3m-3 6h3m-3 7h3m-3 1h3m-3 1h3m-3 2h3m-3 1h3m-3 2h3m-3 1h3m-3 8h3m-3 0h3m-3 6h3m-3 12h3m-3 6h3m-2-73h3m-3 11h3m-3 6h3m-3 4h3m-3 1h3m-3 2h3m-3 4h3m-3 0h3m-3 1h3m-3 9h3m-3 2h3m-3 3h3m-3 4h3m-3 1h3m-3 1h3m-3 3h3m-3 4h3m-3 5h3m-3 1h3m-3 13h3m-3 16h3m-2-72h3m-3 0h3m-3 1h3m-3 0h3m-3 3h3m-3 3h3m-3 5h3m-3 1h3m-3 5h3m-3 0h3m-3 1h3m-3 0h3m-3 2h3m-3 0h3m-3 1h3m-3 1h3m-3 1h3m-3 0h3m-3 0h3m-3 5h3m-3 4h3m-3 4h3m-3 0h3m-3 12h3m-3 14h3m-2-79h3m-3 17h3m-3 7h3m-3 12h3m-3 2h3m-3 2h3m-3 17h3m-3 1h3m-3 22h3m-2-78h3m-3 18h3m-3 1h3m-3 5h3m-3 2h3m-3 5h3m-3 1h3m-3 3h3m-3 0h3m-3 5h3m-3 11h3m-3 4h3m-3 2h3m-3 16h3m-3 13h3m-3 13h3m-2-76h3m-3 13h3m-3 1h3m-3 1h3m-3 6h3m-3 3h3m-3 0h3m-3 1h3m-3 8h3m-3 13h3m-3 0h3m-3 1h3m-3 2h3m-3 3h3m-3 59h3m-2-119h3m-3 9h3m-3 1h3m-3 3h3m-3 4h3m-3 3h3m-3 1h3m-3 1h3m-3 1h3m-3 3h3m-3 0h3m-3 0h3m-3 7h3m-3 5h3m-3 3h3m-3 1h3m-3 1h3m-3 20h3m-3 5h3m-3 8h3m-3 1h3m-2-72h3m-3 10h3m-3 11h3m-3 2h3m-3 11h3m-3 2h3m-3 3h3m-3 5h3m-3 0h3m-3 2h3m-3 5h3m-3 13h3m-2-59h3m-3 6h3m-3 2h3m-3 4h3m-3 9h3m-3 2h3m-3 5h3m-3 2h3m-3 1h3m-3 4h3m-3 0h3m-3 3h3m-3 5h3m-3 1h3m-3 4h3m-3 18h3m-3 2h3m-2-49h3m-3 1h3m-3 2h3m-3 3h3m-3 1h3m-3 3h3m-3 0h3m-3 1h3m-3 2h3m-3 0h3m-3 2h3m-3 1h3m-3 0h3m-3 1h3m-3 3h3m-3 0h3m-3 4h3m-3 2h3m-3 6h3m-3 4h3m-3 2h3m-3 24h3m-2-68h3m-3 6h3m-3 2h3m-3 2h3m-3 1h3m-3 3h3m-3 0h3m-3 1h3m-3 3h3m-3 1h3m-3 0h3m-3 1h3m-3 3h3m-3 3h3m-3 1h3m-3 2h3m-3 3h3m-3 3h3m-3 6h3m-3 10h3m-3 31h3m-2-75h3m-3 1h3m-3 4h3m-3 1h3m-3 5h3m-3 1h3m-3 2h3m-3 0h3m-3 2h3m-3 9h3m-3 3h3m-3 10h3m-3 2h3m-3 1h3m-3 1h3m-3 2h3m-3 0h3m-3 3h3m-2-44h3m-3 1h3m-3 5h3m-3 1h3m-3 4h3m-3 1h3m-3 0h3m-3 4h3m-3 10h3m-3 3h3m-3 2h3m-3 6h3m-3 1h3m-3 1h3m-3 11h3m-3 1h3m-3 20h3m-3 20h3m-2-84h3m-3 10h3m-3 2h3m-3 1h3m-3 2h3m-3 1h3m-3 6h3m-3 1h3m-3 1h3m-3 4h3m-3 3h3m-3 5h3m-3 5h3m-3 1h3m-3 10h3m-3 35h3m-2-73h3m-3 1h3m-3 0h3m-3 4h3m-3 0h3m-3 0h3m-3 2h3m-3 3h3m-3 0h3m-3 2h3m-3 0h3m-3 1h3m-3 0h3m-3 2h3m-3 1h3m-3 0h3m-3 3h3m-3 2h3m-3 0h3m-3 0h3m-3 5h3m-2-22h3m-3 1h3m-3 3h3m-3 3h3m-3 3h3m-3 3h3m-3 3h3m-3 0h3m-3 1h3m-3 0h3m-3 0h3m-3 4h3m-3 0h3m-3 0h3m-3 5h3m-3 0h3m-3 2h3m-3 4h3m-3 1h3m-3 3h3m-3 1h3m-3 1h3m-3 4h3m-3 1h3m-3 10h3m-3 3h3m-3 19h3m-2-62h3m-3 2h3m-3 2h3m-3 0h3m-3 1h3m-3 2h3m-3 2h3m-3 5h3m-3 5h3m-3 1h3m-3 6h3m-3 2h3m-3 1h3m-2-31h3m-3 1h3m-3 9h3m-3 3h3m-3 6h3m-3 10h3m-3 3h3" stroke="#7fc87b" stroke-opacity="0.82" stroke-width="2.8" fill="none"/>
<line x1="345.80" y1="1290.20" x2="555.30" y2="1355.00" stroke="#7a7a7a" stroke-width="1.7" />
<rect x="335.40" y="1221.00" width="231.30" height="231.00" fill="none" stroke="#a0a0a0" stroke-width="1.0" />
<linearGradient id="gh2" x1="0" x2="1" y1="0" y2="0"><stop offset="0" stop-color="#ffee00"/><stop offset="0.3" stop-color="#fbc10e"/><stop offset="0.6" stop-color="#f5922a"/><stop offset="0.85" stop-color="#ee5f33"/><stop offset="1" stop-color="#e5392f"/></linearGradient>
<path d="M333.6,1468.9 L566.7,1454.9 L566.7,1468.9Z" fill="url(#gh2)"/>
<text x="448.6" y="1485.7" font-size="18.5" text-anchor="middle" fill="#1a1a1a" >Ranked pan-H3Kac in VG</text>
<text x="622.5" y="1202.6" font-size="28.6" text-anchor="start" fill="#111" font-weight="bold" >I</text>
<text x="918" y="1198.5" font-size="24.5" text-anchor="middle" fill="#1a1a1a" >Cluster III CRMs</text>
<line x1="657.60" y1="1432.80" x2="663.40" y2="1432.80" stroke="#333" stroke-width="1.4" />
<text x="655.1" y="1438.8" font-size="18.4" text-anchor="end" fill="#1a1a1a" >0</text>
<line x1="657.60" y1="1358.60" x2="663.40" y2="1358.60" stroke="#333" stroke-width="1.4" />
<text x="655.1" y="1364.6" font-size="18.4" text-anchor="end" fill="#1a1a1a" >2</text>
<line x1="657.60" y1="1284.40" x2="663.40" y2="1284.40" stroke="#333" stroke-width="1.4" />
<text x="655.1" y="1290.3999999999999" font-size="18.4" text-anchor="end" fill="#1a1a1a" >4</text>
<line x1="657.60" y1="1210.20" x2="663.40" y2="1210.20" stroke="#333" stroke-width="1.4" />
<text x="655.1" y="1216.1999999999998" font-size="18.4" text-anchor="end" fill="#1a1a1a" >6</text>
<text x="635.6" y="1327.5" font-size="18.6" text-anchor="middle" fill="#1a1a1a" transform="rotate(-90 635.6 1327.5)" >Log2( pan-H3Kac FC)</text>
<line x1="759.60" y1="1462.60" x2="759.60" y2="1468.80" stroke="#333" stroke-width="1.4" />
<text x="759.6" y="1487.3" font-size="18.3" text-anchor="middle" fill="#1a1a1a" >AC CRMs</text>
<line x1="921.50" y1="1462.60" x2="921.50" y2="1468.80" stroke="#333" stroke-width="1.4" />
<text x="921.5" y="1487.3" font-size="18.3" text-anchor="middle" fill="#1a1a1a" >Ubiquitous CRMs</text>
<line x1="1083.60" y1="1462.60" x2="1083.60" y2="1468.80" stroke="#333" stroke-width="1.4" />
<text x="1083.6" y="1487.3" font-size="18.3" text-anchor="middle" fill="#1a1a1a" >VG CRMs</text>
<line x1="723.10" y1="1285.00" x2="723.10" y2="1427.60" stroke="#c6c6c6" stroke-width="1.7" />
<g fill="#b0b0b0" fill-opacity="0.5"><circle cx="723.1" cy="1269.8" r="3.3"/><circle cx="723.1" cy="1272.0" r="3.3"/><circle cx="723.1" cy="1274.2" r="3.3"/><circle cx="723.1" cy="1276.4" r="3.3"/><circle cx="723.1" cy="1278.6" r="3.3"/><circle cx="723.1" cy="1280.8" r="3.3"/><circle cx="723.1" cy="1283.0" r="3.3"/><circle cx="723.1" cy="1285.2" r="3.3"/></g>
<g fill="#b0b0b0" fill-opacity="0.5"><circle cx="723.1" cy="1260.0" r="3.3"/></g>
<path d="M723.1,1291.9 L723.3,1293.5 L723.7,1295.2 L724.0,1296.8 L724.5,1298.4 L724.9,1300.0 L725.4,1301.7 L725.8,1303.3 L726.3,1304.9 L726.9,1306.6 L727.5,1308.3 L728.1,1310.1 L728.8,1311.8 L729.4,1313.5 L730.2,1315.2 L731.0,1316.9 L731.9,1318.7 L732.8,1320.4 L733.8,1322.1 L734.7,1323.9 L735.7,1325.6 L736.7,1327.3 L737.8,1329.1 L738.8,1330.8 L739.9,1332.5 L740.9,1334.3 L741.9,1336.0 L742.8,1337.7 L743.8,1339.4 L744.7,1341.2 L745.5,1342.9 L746.3,1344.6 L747.1,1346.3 L747.9,1347.8 L748.7,1349.4 L749.4,1350.9 L750.0,1352.5 L750.5,1354.0 L750.9,1355.5 L751.3,1357.0 L751.6,1358.5 L751.8,1360.0 L751.9,1361.5 L751.9,1363.3 L751.6,1365.2 L751.3,1367.0 L750.9,1368.6 L750.4,1370.3 L749.7,1371.9 L749.0,1373.4 L748.2,1375.0 L747.3,1376.5 L746.4,1378.0 L745.4,1379.7 L744.2,1381.4 L743.1,1383.1 L741.9,1384.8 L740.7,1386.3 L739.5,1387.9 L738.3,1389.5 L737.1,1391.0 L736.0,1392.7 L734.8,1394.4 L733.8,1396.1 L732.8,1397.8 L731.7,1399.5 L730.7,1401.3 L729.7,1403.0 L728.8,1404.7 L728.1,1406.5 L727.1,1408.2 L726.1,1409.8 L724.9,1411.5 L723.9,1413.1 L723.1,1414.7 L723.1,1414.7 L722.3,1413.1 L721.3,1411.5 L720.1,1409.8 L719.1,1408.2 L718.1,1406.5 L717.4,1404.7 L716.5,1403.0 L715.5,1401.3 L714.5,1399.5 L713.4,1397.8 L712.4,1396.1 L711.4,1394.4 L710.2,1392.7 L709.1,1391.0 L707.9,1389.5 L706.7,1387.9 L705.5,1386.3 L704.3,1384.8 L703.1,1383.1 L702.0,1381.4 L700.8,1379.7 L699.8,1378.0 L698.9,1376.5 L698.0,1375.0 L697.2,1373.4 L696.5,1371.9 L695.8,1370.3 L695.3,1368.6 L694.9,1367.0 L694.6,1365.2 L694.3,1363.3 L694.3,1361.5 L694.4,1360.0 L694.6,1358.5 L694.9,1357.0 L695.3,1355.5 L695.7,1354.0 L696.2,1352.5 L696.8,1350.9 L697.5,1349.4 L698.3,1347.8 L699.1,1346.3 L699.9,1344.6 L700.7,1342.9 L701.5,1341.2 L702.4,1339.4 L703.4,1337.7 L704.3,1336.0 L705.3,1334.3 L706.3,1332.5 L707.4,1330.8 L708.4,1329.1 L709.5,1327.3 L710.5,1325.6 L711.5,1323.9 L712.4,1322.1 L713.4,1320.4 L714.3,1318.7 L715.2,1316.9 L716.0,1315.2 L716.8,1313.5 L717.4,1311.8 L718.1,1310.1 L718.7,1308.3 L719.3,1306.6 L719.9,1304.9 L720.4,1303.3 L720.8,1301.7 L721.3,1300.0 L721.7,1298.4 L722.2,1296.8 L722.5,1295.2 L722.9,1293.5 L723.1,1291.9Z" fill="#f48d7f" fill-opacity="1"/>
<line x1="723.10" y1="1290.90" x2="723.10" y2="1415.70" stroke="#c6c6c6" stroke-width="1.7" />
<rect x="720.50" y="1340.10" width="5.20" height="33.60" fill="#f2705a" stroke="none" stroke-width="1" />
<rect x="718.50" y="1338.60" width="9.20" height="36.60" fill="none" stroke="#c6c6c6" stroke-width="1.6" />
<rect x="720.30" y="1351.10" width="5.60" height="5.20" fill="#a12c22" stroke="none" stroke-width="1" rx="1.5"/>
<line x1="717.30" y1="1357.10" x2="728.90" y2="1357.10" stroke="#d2d2d2" stroke-width="2.0" />
<line x1="796.00" y1="1240.00" x2="796.00" y2="1369.30" stroke="#c6c6c6" stroke-width="1.7" />
<g fill="#b0b0b0" fill-opacity="0.5"><circle cx="796.0" cy="1215.4" r="3.3"/><circle cx="796.0" cy="1217.6" r="3.3"/><circle cx="796.0" cy="1219.8" r="3.3"/><circle cx="796.0" cy="1222.0" r="3.3"/><circle cx="796.0" cy="1224.2" r="3.3"/><circle cx="796.0" cy="1226.4" r="3.3"/><circle cx="796.0" cy="1228.6" r="3.3"/><circle cx="796.0" cy="1230.8" r="3.3"/><circle cx="796.0" cy="1233.0" r="3.3"/><circle cx="796.0" cy="1235.2" r="3.3"/><circle cx="796.0" cy="1237.4" r="3.3"/><circle cx="796.0" cy="1239.6" r="3.3"/></g>
<g fill="#b0b0b0" fill-opacity="0.5"><circle cx="796.0" cy="1370.6" r="3.3"/><circle cx="796.0" cy="1372.8" r="3.3"/><circle cx="796.0" cy="1375.0" r="3.3"/><circle cx="796.0" cy="1377.2" r="3.3"/><circle cx="796.0" cy="1379.4" r="3.3"/><circle cx="796.0" cy="1381.6" r="3.3"/></g>
<g fill="#b0b0b0" fill-opacity="0.5"><circle cx="796.0" cy="1388.7" r="3.3"/></g>
<path d="M796.0,1245.2 L796.4,1246.9 L796.9,1248.7 L797.6,1250.4 L798.2,1252.1 L798.9,1253.9 L799.5,1255.6 L800.0,1257.3 L800.3,1259.1 L800.6,1260.8 L801.1,1262.5 L801.7,1264.3 L802.5,1266.0 L803.7,1267.7 L805.1,1269.4 L806.6,1271.2 L808.3,1272.9 L810.0,1274.6 L811.6,1276.3 L813.2,1278.0 L815.0,1279.8 L816.7,1281.5 L818.4,1283.2 L820.0,1285.0 L821.3,1286.7 L822.6,1288.3 L823.7,1289.8 L824.6,1291.4 L825.3,1292.9 L826.0,1294.5 L826.5,1296.0 L827.0,1297.5 L827.4,1299.0 L827.7,1300.6 L827.9,1302.1 L828.0,1303.6 L827.8,1305.4 L827.3,1307.2 L826.5,1309.0 L825.8,1310.5 L825.0,1312.1 L824.1,1313.7 L823.2,1315.2 L822.1,1316.8 L821.1,1318.4 L820.0,1320.0 L818.9,1321.9 L817.9,1323.7 L816.7,1325.6 L815.7,1327.2 L814.7,1328.8 L813.6,1330.4 L812.6,1332.0 L811.7,1333.7 L810.7,1335.3 L809.9,1336.9 L809.0,1338.6 L808.2,1340.2 L807.4,1341.8 L806.6,1343.4 L805.8,1345.0 L805.0,1346.6 L804.3,1348.2 L803.6,1349.9 L802.9,1351.5 L802.1,1353.2 L801.4,1354.8 L800.8,1356.5 L800.2,1358.3 L799.7,1360.1 L799.0,1361.9 L797.4,1363.7 L796.0,1365.4 L796.0,1365.4 L794.6,1363.7 L793.0,1361.9 L792.3,1360.1 L791.8,1358.3 L791.2,1356.5 L790.6,1354.8 L789.9,1353.2 L789.1,1351.5 L788.4,1349.9 L787.7,1348.2 L787.0,1346.6 L786.2,1345.0 L785.4,1343.4 L784.6,1341.8 L783.8,1340.2 L783.0,1338.6 L782.1,1336.9 L781.3,1335.3 L780.3,1333.7 L779.4,1332.0 L778.4,1330.4 L777.3,1328.8 L776.3,1327.2 L775.3,1325.6 L774.1,1323.7 L773.1,1321.9 L772.0,1320.0 L770.9,1318.4 L769.9,1316.8 L768.8,1315.2 L767.9,1313.7 L767.0,1312.1 L766.2,1310.5 L765.5,1309.0 L764.7,1307.2 L764.2,1305.4 L764.0,1303.6 L764.1,1302.1 L764.3,1300.6 L764.6,1299.0 L765.0,1297.5 L765.5,1296.0 L766.0,1294.5 L766.7,1292.9 L767.4,1291.4 L768.3,1289.8 L769.4,1288.3 L770.7,1286.7 L772.0,1285.0 L773.6,1283.2 L775.3,1281.5 L777.0,1279.8 L778.8,1278.0 L780.4,1276.3 L782.0,1274.6 L783.7,1272.9 L785.4,1271.2 L786.9,1269.4 L788.3,1267.7 L789.5,1266.0 L790.3,1264.3 L790.9,1262.5 L791.4,1260.8 L791.7,1259.1 L792.0,1257.3 L792.5,1255.6 L793.1,1253.9 L793.8,1252.1 L794.4,1250.4 L795.1,1248.7 L795.6,1246.9 L796.0,1245.2Z" fill="#9ed69b" fill-opacity="1"/>
<line x1="796.00" y1="1244.20" x2="796.00" y2="1366.40" stroke="#c6c6c6" stroke-width="1.7" />
<rect x="793.40" y="1290.00" width="5.20" height="31.50" fill="#8fd88c" stroke="none" stroke-width="1" />
<rect x="791.40" y="1288.50" width="9.20" height="34.50" fill="none" stroke="#c6c6c6" stroke-width="1.6" />
<rect x="793.20" y="1304.90" width="5.60" height="5.20" fill="#2f7d3b" stroke="none" stroke-width="1" rx="1.5"/>
<line x1="790.20" y1="1305.60" x2="801.80" y2="1305.60" stroke="#d2d2d2" stroke-width="2.0" />
<line x1="885.20" y1="1253.00" x2="885.20" y2="1428.90" stroke="#c6c6c6" stroke-width="1.7" />
<g fill="#b0b0b0" fill-opacity="0.5"><circle cx="885.2" cy="1246.5" r="3.3"/><circle cx="885.2" cy="1248.7" r="3.3"/><circle cx="885.2" cy="1250.9" r="3.3"/></g>
<g fill="#b0b0b0" fill-opacity="0.5"><circle cx="885.2" cy="1233.0" r="3.3"/></g>
<path d="M885.2,1273.7 L885.5,1275.3 L885.8,1277.0 L886.2,1278.6 L886.6,1280.2 L887.1,1281.8 L887.6,1283.5 L888.2,1285.1 L888.7,1286.7 L889.2,1288.3 L889.8,1290.0 L890.4,1291.6 L891.0,1293.2 L891.7,1294.8 L892.3,1296.5 L892.9,1298.1 L893.6,1299.7 L894.5,1301.4 L895.4,1303.1 L896.3,1304.8 L897.3,1306.6 L898.2,1308.3 L899.1,1310.0 L900.0,1311.7 L900.9,1313.5 L901.8,1315.2 L902.7,1316.9 L903.5,1318.7 L904.2,1320.4 L905.0,1321.9 L905.6,1323.4 L906.2,1325.0 L906.7,1326.5 L907.2,1328.0 L907.6,1329.6 L907.9,1331.2 L908.2,1332.8 L908.4,1334.4 L908.5,1336.0 L908.5,1337.6 L908.5,1339.2 L908.4,1340.8 L908.3,1342.4 L908.2,1344.0 L908.1,1345.5 L908.0,1347.0 L907.9,1348.5 L907.7,1350.0 L907.6,1351.5 L907.4,1353.3 L907.3,1355.2 L907.1,1357.1 L906.8,1358.9 L906.4,1360.4 L905.9,1362.0 L905.4,1363.5 L904.8,1365.0 L904.2,1366.7 L903.5,1368.5 L902.8,1370.2 L902.1,1371.9 L901.3,1373.4 L900.4,1375.0 L899.5,1376.5 L898.7,1378.0 L897.9,1379.7 L897.1,1381.4 L896.3,1383.1 L895.6,1384.8 L894.9,1386.3 L894.3,1387.9 L893.8,1389.5 L893.2,1391.0 L892.7,1392.7 L892.2,1394.4 L891.7,1396.1 L891.2,1397.8 L890.7,1399.3 L890.3,1400.9 L889.8,1402.5 L889.4,1404.0 L889.0,1405.7 L888.6,1407.4 L888.2,1409.1 L887.7,1410.8 L887.2,1412.3 L886.6,1413.9 L886.1,1415.4 L885.6,1417.0 L885.2,1418.5 L885.2,1418.5 L884.8,1417.0 L884.3,1415.4 L883.8,1413.9 L883.2,1412.3 L882.7,1410.8 L882.2,1409.1 L881.8,1407.4 L881.4,1405.7 L881.0,1404.0 L880.6,1402.5 L880.1,1400.9 L879.7,1399.3 L879.2,1397.8 L878.7,1396.1 L878.2,1394.4 L877.7,1392.7 L877.2,1391.0 L876.6,1389.5 L876.1,1387.9 L875.5,1386.3 L874.8,1384.8 L874.1,1383.1 L873.3,1381.4 L872.5,1379.7 L871.7,1378.0 L870.9,1376.5 L870.0,1375.0 L869.1,1373.4 L868.3,1371.9 L867.6,1370.2 L866.9,1368.5 L866.2,1366.7 L865.6,1365.0 L865.0,1363.5 L864.5,1362.0 L864.0,1360.4 L863.6,1358.9 L863.3,1357.1 L863.1,1355.2 L863.0,1353.3 L862.8,1351.5 L862.7,1350.0 L862.5,1348.5 L862.4,1347.0 L862.3,1345.5 L862.2,1344.0 L862.1,1342.4 L862.0,1340.8 L861.9,1339.2 L861.9,1337.6 L861.9,1336.0 L862.0,1334.4 L862.2,1332.8 L862.5,1331.2 L862.8,1329.6 L863.2,1328.0 L863.7,1326.5 L864.2,1325.0 L864.8,1323.4 L865.4,1321.9 L866.2,1320.4 L866.9,1318.7 L867.7,1316.9 L868.6,1315.2 L869.5,1313.5 L870.4,1311.7 L871.3,1310.0 L872.2,1308.3 L873.1,1306.6 L874.1,1304.8 L875.0,1303.1 L875.9,1301.4 L876.8,1299.7 L877.5,1298.1 L878.1,1296.5 L878.7,1294.8 L879.4,1293.2 L880.0,1291.6 L880.6,1290.0 L881.2,1288.3 L881.7,1286.7 L882.2,1285.1 L882.8,1283.5 L883.3,1281.8 L883.8,1280.2 L884.2,1278.6 L884.6,1277.0 L884.9,1275.3 L885.2,1273.7Z" fill="#f48d7f" fill-opacity="1"/>
<line x1="885.20" y1="1272.70" x2="885.20" y2="1419.50" stroke="#c6c6c6" stroke-width="1.7" />
<rect x="882.60" y="1321.90" width="5.20" height="42.00" fill="#f2705a" stroke="none" stroke-width="1" />
<rect x="880.60" y="1320.40" width="9.20" height="45.00" fill="none" stroke="#c6c6c6" stroke-width="1.6" />
<rect x="882.40" y="1343.60" width="5.60" height="5.20" fill="#a12c22" stroke="none" stroke-width="1" rx="1.5"/>
<line x1="879.40" y1="1342.50" x2="891.00" y2="1342.50" stroke="#d2d2d2" stroke-width="2.0" />
<line x1="957.80" y1="1245.00" x2="957.80" y2="1397.80" stroke="#c6c6c6" stroke-width="1.7" />
<g fill="#b0b0b0" fill-opacity="0.5"><circle cx="957.8" cy="1238.7" r="3.3"/><circle cx="957.8" cy="1240.9" r="3.3"/><circle cx="957.8" cy="1243.1" r="3.3"/></g>
<g fill="#b0b0b0" fill-opacity="0.5"><circle cx="957.8" cy="1231.5" r="3.3"/><circle cx="957.8" cy="1403.5" r="3.3"/></g>
<path d="M957.8,1258.2 L958.1,1259.8 L958.6,1261.3 L959.2,1262.9 L959.7,1264.4 L960.3,1266.0 L960.8,1267.5 L961.2,1269.1 L961.6,1270.6 L962.2,1272.2 L963.0,1273.7 L963.6,1275.3 L964.3,1277.0 L965.1,1278.6 L965.9,1280.2 L966.8,1281.8 L967.7,1283.5 L968.6,1285.1 L969.5,1286.7 L970.4,1288.3 L971.4,1290.0 L972.4,1291.6 L973.5,1293.2 L974.5,1294.8 L975.5,1296.5 L976.4,1298.1 L977.3,1299.7 L978.4,1301.4 L979.4,1303.1 L980.4,1304.8 L981.3,1306.6 L982.1,1308.3 L982.8,1310.0 L983.5,1311.6 L984.0,1313.1 L984.4,1314.7 L984.6,1316.2 L984.8,1317.8 L984.8,1319.3 L984.6,1320.9 L984.3,1322.5 L984.0,1324.0 L983.7,1325.7 L983.3,1327.4 L982.9,1329.1 L982.4,1330.8 L981.8,1332.6 L981.2,1334.4 L980.5,1336.2 L979.8,1338.0 L979.2,1339.6 L978.5,1341.2 L977.9,1342.8 L977.2,1344.4 L976.6,1346.0 L975.9,1347.5 L975.2,1349.0 L974.5,1350.5 L973.8,1352.0 L973.1,1353.7 L972.3,1355.5 L971.6,1357.2 L970.8,1358.9 L970.0,1360.4 L969.2,1362.0 L968.4,1363.5 L967.6,1365.0 L966.8,1366.7 L965.9,1368.5 L965.0,1370.2 L964.3,1371.9 L963.5,1373.6 L962.8,1375.3 L962.1,1377.0 L961.5,1378.7 L960.9,1380.5 L960.3,1382.2 L958.9,1384.1 L957.8,1386.0 L957.8,1386.0 L956.7,1384.1 L955.3,1382.2 L954.7,1380.5 L954.1,1378.7 L953.5,1377.0 L952.8,1375.3 L952.1,1373.6 L951.3,1371.9 L950.5,1370.2 L949.7,1368.5 L948.8,1366.7 L948.0,1365.0 L947.2,1363.5 L946.4,1362.0 L945.6,1360.4 L944.8,1358.9 L944.0,1357.2 L943.3,1355.5 L942.5,1353.7 L941.8,1352.0 L941.1,1350.5 L940.4,1349.0 L939.7,1347.5 L939.0,1346.0 L938.4,1344.4 L937.7,1342.8 L937.1,1341.2 L936.4,1339.6 L935.8,1338.0 L935.1,1336.2 L934.4,1334.4 L933.8,1332.6 L933.2,1330.8 L932.7,1329.1 L932.3,1327.4 L931.9,1325.7 L931.6,1324.0 L931.3,1322.5 L931.0,1320.9 L930.8,1319.3 L930.8,1317.8 L931.0,1316.2 L931.2,1314.7 L931.6,1313.1 L932.1,1311.6 L932.8,1310.0 L933.5,1308.3 L934.3,1306.6 L935.2,1304.8 L936.2,1303.1 L937.2,1301.4 L938.3,1299.7 L939.2,1298.1 L940.1,1296.5 L941.1,1294.8 L942.1,1293.2 L943.2,1291.6 L944.2,1290.0 L945.2,1288.3 L946.1,1286.7 L947.0,1285.1 L947.9,1283.5 L948.8,1281.8 L949.7,1280.2 L950.5,1278.6 L951.3,1277.0 L952.0,1275.3 L952.6,1273.7 L953.4,1272.2 L954.0,1270.6 L954.4,1269.1 L954.8,1267.5 L955.3,1266.0 L955.9,1264.4 L956.4,1262.9 L957.0,1261.3 L957.5,1259.8 L957.8,1258.2Z" fill="#9ed69b" fill-opacity="1"/>
<line x1="957.80" y1="1257.20" x2="957.80" y2="1387.00" stroke="#c6c6c6" stroke-width="1.7" />
<rect x="955.20" y="1305.80" width="5.20" height="35.50" fill="#8fd88c" stroke="none" stroke-width="1" />
<rect x="953.20" y="1304.30" width="9.20" height="38.50" fill="none" stroke="#c6c6c6" stroke-width="1.6" />
<rect x="955.00" y="1320.70" width="5.60" height="5.20" fill="#2f7d3b" stroke="none" stroke-width="1" rx="1.5"/>
<line x1="952.00" y1="1321.50" x2="963.60" y2="1321.50" stroke="#d2d2d2" stroke-width="2.0" />
<line x1="1047.00" y1="1247.80" x2="1047.00" y2="1384.80" stroke="#c6c6c6" stroke-width="1.7" />
<g fill="#b0b0b0" fill-opacity="0.5"><circle cx="1047.0" cy="1239.5" r="3.3"/><circle cx="1047.0" cy="1247.8" r="3.3"/><circle cx="1047.0" cy="1389.2" r="3.3"/><circle cx="1047.0" cy="1412.6" r="3.3"/></g>
<path d="M1047.0,1259.5 L1047.5,1261.1 L1048.1,1262.8 L1048.8,1264.4 L1049.6,1266.0 L1050.1,1267.5 L1050.6,1269.1 L1051.2,1270.6 L1051.9,1272.2 L1052.8,1273.7 L1053.5,1275.3 L1054.4,1277.0 L1055.3,1278.6 L1056.3,1280.2 L1057.4,1281.8 L1058.5,1283.5 L1059.5,1285.1 L1060.6,1286.7 L1061.7,1288.3 L1062.9,1290.0 L1064.1,1291.6 L1065.3,1293.2 L1066.5,1294.8 L1067.7,1296.5 L1068.8,1298.1 L1069.7,1299.7 L1071.0,1301.3 L1072.0,1302.8 L1073.0,1304.4 L1073.8,1305.9 L1074.5,1307.5 L1075.1,1309.0 L1075.6,1310.5 L1076.0,1312.0 L1076.4,1313.5 L1076.6,1315.0 L1076.8,1316.5 L1076.8,1318.1 L1076.6,1319.8 L1076.2,1321.4 L1075.8,1323.0 L1075.5,1324.6 L1075.1,1326.1 L1074.7,1327.7 L1074.2,1329.2 L1073.6,1330.8 L1072.7,1332.6 L1071.7,1334.4 L1070.6,1336.2 L1069.5,1338.0 L1068.6,1339.6 L1067.5,1341.2 L1066.5,1342.8 L1065.5,1344.4 L1064.6,1346.0 L1063.6,1347.5 L1062.7,1349.0 L1061.7,1350.5 L1060.8,1352.0 L1059.8,1353.7 L1058.7,1355.5 L1057.7,1357.2 L1056.7,1358.9 L1055.8,1360.4 L1054.9,1362.0 L1054.1,1363.5 L1053.3,1365.0 L1052.6,1366.7 L1051.9,1368.5 L1051.2,1370.2 L1050.5,1371.9 L1049.6,1373.5 L1048.6,1375.2 L1047.6,1376.8 L1047.0,1378.4 L1047.0,1378.4 L1046.4,1376.8 L1045.4,1375.2 L1044.4,1373.5 L1043.5,1371.9 L1042.8,1370.2 L1042.1,1368.5 L1041.4,1366.7 L1040.7,1365.0 L1039.9,1363.5 L1039.1,1362.0 L1038.2,1360.4 L1037.3,1358.9 L1036.3,1357.2 L1035.3,1355.5 L1034.2,1353.7 L1033.2,1352.0 L1032.3,1350.5 L1031.3,1349.0 L1030.4,1347.5 L1029.4,1346.0 L1028.5,1344.4 L1027.5,1342.8 L1026.5,1341.2 L1025.4,1339.6 L1024.5,1338.0 L1023.4,1336.2 L1022.3,1334.4 L1021.3,1332.6 L1020.4,1330.8 L1019.8,1329.2 L1019.3,1327.7 L1018.9,1326.1 L1018.5,1324.6 L1018.2,1323.0 L1017.8,1321.4 L1017.4,1319.8 L1017.2,1318.1 L1017.2,1316.5 L1017.4,1315.0 L1017.6,1313.5 L1018.0,1312.0 L1018.4,1310.5 L1018.9,1309.0 L1019.5,1307.5 L1020.2,1305.9 L1021.0,1304.4 L1022.0,1302.8 L1023.0,1301.3 L1024.3,1299.7 L1025.2,1298.1 L1026.3,1296.5 L1027.5,1294.8 L1028.7,1293.2 L1029.9,1291.6 L1031.1,1290.0 L1032.3,1288.3 L1033.4,1286.7 L1034.5,1285.1 L1035.5,1283.5 L1036.6,1281.8 L1037.7,1280.2 L1038.7,1278.6 L1039.6,1277.0 L1040.5,1275.3 L1041.2,1273.7 L1042.1,1272.2 L1042.8,1270.6 L1043.4,1269.1 L1043.9,1267.5 L1044.4,1266.0 L1045.2,1264.4 L1045.9,1262.8 L1046.5,1261.1 L1047.0,1259.5Z" fill="#f48d7f" fill-opacity="1"/>
<line x1="1047.00" y1="1258.50" x2="1047.00" y2="1379.40" stroke="#c6c6c6" stroke-width="1.7" />
<rect x="1044.40" y="1302.50" width="5.20" height="32.00" fill="#f2705a" stroke="none" stroke-width="1" />
<rect x="1042.40" y="1301.00" width="9.20" height="35.00" fill="none" stroke="#c6c6c6" stroke-width="1.6" />
<rect x="1044.20" y="1313.60" width="5.60" height="5.20" fill="#a12c22" stroke="none" stroke-width="1" rx="1.5"/>
<line x1="1041.20" y1="1318.30" x2="1052.80" y2="1318.30" stroke="#d2d2d2" stroke-width="2.0" />
<line x1="1120.00" y1="1282.00" x2="1120.00" y2="1391.30" stroke="#c6c6c6" stroke-width="1.7" />
<g fill="#b0b0b0" fill-opacity="0.5"><circle cx="1120.0" cy="1264.7" r="3.3"/><circle cx="1120.0" cy="1266.9" r="3.3"/><circle cx="1120.0" cy="1269.1" r="3.3"/><circle cx="1120.0" cy="1271.3" r="3.3"/><circle cx="1120.0" cy="1273.5" r="3.3"/><circle cx="1120.0" cy="1275.7" r="3.3"/><circle cx="1120.0" cy="1277.9" r="3.3"/><circle cx="1120.0" cy="1280.1" r="3.3"/><circle cx="1120.0" cy="1282.3" r="3.3"/></g>
<g fill="#b0b0b0" fill-opacity="0.5"><circle cx="1120.0" cy="1409.0" r="3.3"/><circle cx="1120.0" cy="1451.7" r="3.3"/></g>
<path d="M1120.0,1285.4 L1120.3,1287.1 L1120.8,1288.7 L1121.4,1290.3 L1122.0,1292.0 L1122.4,1293.5 L1122.8,1295.1 L1123.2,1296.6 L1123.7,1298.2 L1124.5,1299.7 L1125.4,1301.4 L1126.4,1303.1 L1127.5,1304.8 L1128.7,1306.6 L1129.9,1308.3 L1131.0,1310.0 L1132.1,1311.7 L1133.1,1313.5 L1134.1,1315.2 L1135.1,1316.9 L1136.3,1318.7 L1137.5,1320.4 L1138.9,1322.1 L1140.5,1323.9 L1142.1,1325.6 L1143.7,1327.3 L1145.2,1329.1 L1146.6,1330.8 L1148.0,1332.4 L1149.3,1333.9 L1150.5,1335.5 L1151.6,1337.0 L1152.5,1338.6 L1153.3,1340.1 L1154.1,1341.7 L1154.7,1343.2 L1155.1,1344.8 L1155.4,1346.3 L1155.4,1348.2 L1155.1,1350.1 L1154.6,1352.0 L1154.2,1353.6 L1153.7,1355.1 L1153.0,1356.7 L1151.7,1358.3 L1150.0,1360.0 L1147.9,1361.5 L1145.5,1363.0 L1142.8,1364.8 L1140.0,1366.7 L1137.6,1368.6 L1135.3,1370.5 L1133.1,1372.5 L1131.0,1374.5 L1129.1,1376.2 L1127.4,1378.0 L1125.7,1379.8 L1124.0,1381.5 L1121.8,1383.2 L1120.0,1384.8 L1120.0,1384.8 L1118.2,1383.2 L1116.0,1381.5 L1114.3,1379.8 L1112.6,1378.0 L1110.9,1376.2 L1109.0,1374.5 L1106.9,1372.5 L1104.7,1370.5 L1102.4,1368.6 L1100.0,1366.7 L1097.2,1364.8 L1094.5,1363.0 L1092.1,1361.5 L1090.0,1360.0 L1088.3,1358.3 L1087.0,1356.7 L1086.3,1355.1 L1085.8,1353.6 L1085.4,1352.0 L1084.9,1350.1 L1084.6,1348.2 L1084.6,1346.3 L1084.9,1344.8 L1085.3,1343.2 L1085.9,1341.7 L1086.7,1340.1 L1087.5,1338.6 L1088.4,1337.0 L1089.5,1335.5 L1090.7,1333.9 L1092.0,1332.4 L1093.4,1330.8 L1094.8,1329.1 L1096.3,1327.3 L1097.9,1325.6 L1099.5,1323.9 L1101.1,1322.1 L1102.5,1320.4 L1103.7,1318.7 L1104.9,1316.9 L1105.9,1315.2 L1106.9,1313.5 L1107.9,1311.7 L1109.0,1310.0 L1110.1,1308.3 L1111.3,1306.6 L1112.5,1304.8 L1113.6,1303.1 L1114.6,1301.4 L1115.5,1299.7 L1116.3,1298.2 L1116.8,1296.6 L1117.2,1295.1 L1117.6,1293.5 L1118.0,1292.0 L1118.6,1290.3 L1119.2,1288.7 L1119.7,1287.1 L1120.0,1285.4Z" fill="#9ed69b" fill-opacity="1"/>
<line x1="1120.00" y1="1284.40" x2="1120.00" y2="1385.80" stroke="#c6c6c6" stroke-width="1.7" />
<rect x="1117.40" y="1327.10" width="5.20" height="25.10" fill="#8fd88c" stroke="none" stroke-width="1" />
<rect x="1115.40" y="1325.60" width="9.20" height="28.10" fill="none" stroke="#c6c6c6" stroke-width="1.6" />
<rect x="1117.20" y="1334.80" width="5.60" height="5.20" fill="#2f7d3b" stroke="none" stroke-width="1" rx="1.5"/>
<line x1="1114.20" y1="1339.00" x2="1125.80" y2="1339.00" stroke="#d2d2d2" stroke-width="2.0" />
<rect x="1082.30" y="1208.90" width="26.50" height="26.60" fill="#f48d7f" stroke="none" stroke-width="1" />
<rect x="1084.40" y="1214.40" width="22.30" height="15.60" fill="#f2705a" stroke="#c9c9c9" stroke-width="1.7" />
<line x1="1084.40" y1="1222.20" x2="1106.70" y2="1222.20" stroke="#c9c9c9" stroke-width="1.7" />
<line x1="1095.50" y1="1209.40" x2="1095.50" y2="1214.40" stroke="#c9c9c9" stroke-width="1.7" />
<line x1="1095.50" y1="1230.00" x2="1095.50" y2="1234.90" stroke="#c9c9c9" stroke-width="1.7" />
<text x="1119.9" y="1227.1000000000001" font-size="12.9" text-anchor="start" fill="#1a1a1a" >FC in AC</text>
<rect x="1082.30" y="1240.00" width="26.50" height="26.60" fill="#9ed69b" stroke="none" stroke-width="1" />
<rect x="1084.40" y="1245.50" width="22.30" height="15.60" fill="#8fd88c" stroke="#c9c9c9" stroke-width="1.7" />
<line x1="1084.40" y1="1253.30" x2="1106.70" y2="1253.30" stroke="#c9c9c9" stroke-width="1.7" />
<line x1="1095.50" y1="1240.50" x2="1095.50" y2="1245.50" stroke="#c9c9c9" stroke-width="1.7" />
<line x1="1095.50" y1="1261.10" x2="1095.50" y2="1266.00" stroke="#c9c9c9" stroke-width="1.7" />
<text x="1119.9" y="1258.2" font-size="12.9" text-anchor="start" fill="#1a1a1a" >FC in VG</text>
<text x="729.9" y="1456.7" font-size="18.2" fill="#1a1a1a"><tspan font-style="italic">d</tspan>= 1.63</text>
<text x="891.2" y="1456.7" font-size="18.2" fill="#1a1a1a"><tspan font-style="italic">d</tspan>= 0.58</text>
<text x="1053" y="1456.7" font-size="18.2" fill="#1a1a1a"><tspan font-style="italic">d</tspan>= 0.86</text>
<rect x="663.40" y="1205.20" width="517.20" height="257.40" fill="none" stroke="#444" stroke-width="1.3" />
</svg>
</body></html>
